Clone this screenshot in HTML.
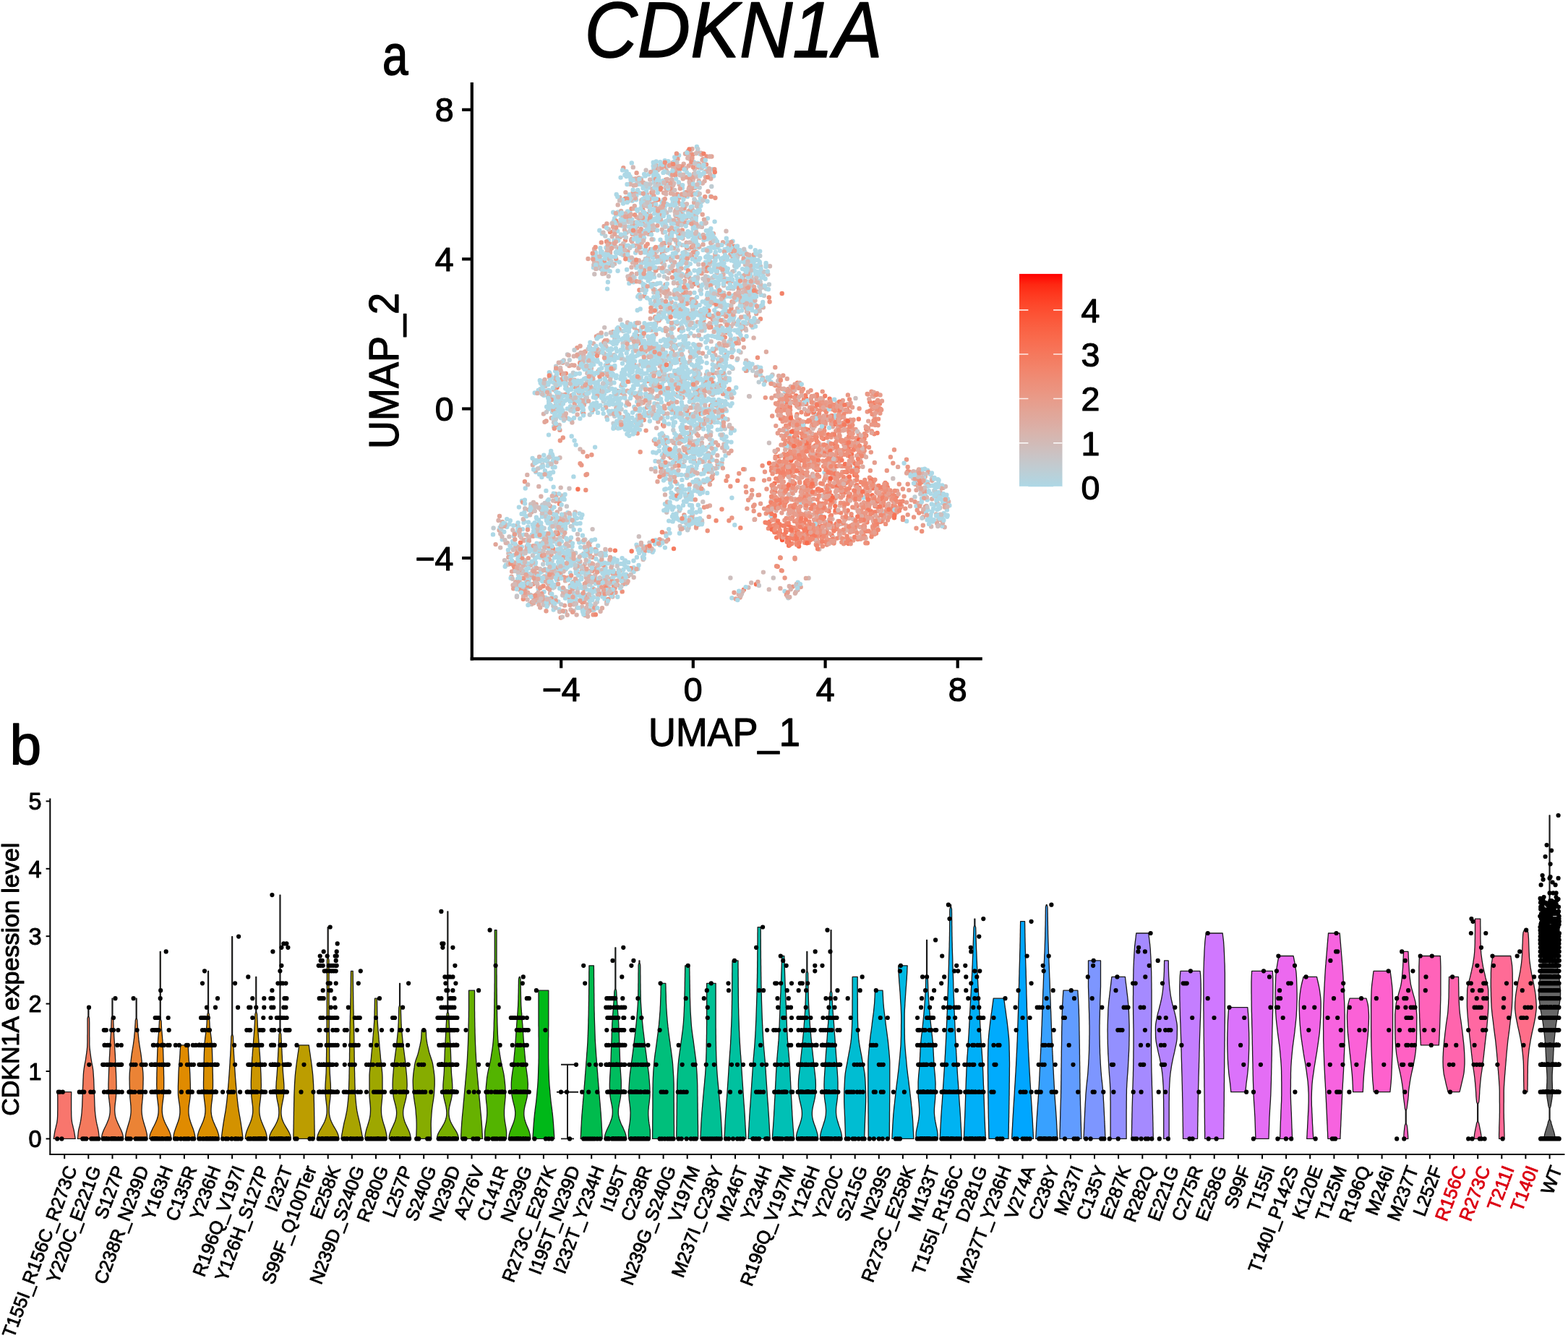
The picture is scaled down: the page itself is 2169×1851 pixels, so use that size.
<!DOCTYPE html>
<html lang="en"><head><meta charset="utf-8"><title>CDKN1A expression</title>
<style>
html,body{margin:0;padding:0;background:#fff}
svg{display:block}
text{font-family:"Liberation Sans", sans-serif;fill:#000;stroke:#000;stroke-width:1.2px;stroke-linejoin:round}
.d{fill:none;stroke-linecap:round;stroke-linejoin:round}
.xl{stroke-width:0.85px}
.sm{stroke-width:1px}
.lg{stroke-width:1.5px}
html,body{width:2169px;height:1851px}
</style></head>
<body>
<svg width="2169" height="1851" viewBox="0 0 2169 1851">
<rect width="2169" height="1851" fill="#fff"/>
<g id="panel-a">
<text class="lg" x="1014.5" y="79.0" font-size="108.5" font-style="italic" text-anchor="middle" textLength="412" lengthAdjust="spacingAndGlyphs">CDKN1A</text>
<text class="lg" transform="translate(529 103.2) scale(0.83 1)" font-size="77">a</text>
<g class="d" stroke-width="6.4">
<path stroke="#e2a598" d="M839.5 348.9h0M1021.9 474.8h0M839.4 309.4h0M989.1 356.4h0M1006.3 430.9h0M1010.3 352.3h0M868.4 347.8h0M939.4 273.6h0M1034.9 433.3h0M908.2 229.2h0M950.6 365.9h0M835.6 312.9h0M880.9 313.5h0M986.8 323.2h0M1018.2 447.4h0M900 344.9h0M949.4 245.2h0M901.8 517.7h0M888.7 473h0M1002.1 544.2h0M818.7 523.9h0M762.8 578.2h0M791.1 546.9h0M955.3 550.7h0M827.6 513.4h0M778.3 501.8h0M925.9 630.7h0M980.1 652.4h0M943.5 608h0M927.7 633.1h0M904.8 609.4h0M963 730.2h0M782.1 845.8h0M781 837.6h0M851.5 819.8h0M772.6 746.2h0M742.8 826.8h0M781.9 799.3h0M788.9 810.3h0M726.4 747.1h0M722.1 775.9h0M872 787.9h0M758.1 746h0M846.1 775.8h0M711.8 787.7h0M808.4 832.8h0M753.2 739.8h0M891.5 761.8h0M1171.6 728.8h0M1119.6 569.4h0M1154.4 650.3h0M1114.7 633.8h0M1129.7 552.1h0M1132.6 617.3h0M1171.4 676h0M1212.2 672.7h0M1214.1 682.6h0M1174.4 593.6h0M1082.7 686.2h0M1124.1 585.9h0M1110.8 633.5h0M1086.5 542.6h0M1148 702.3h0M1075.9 539.5h0M1153.6 727.3h0M1194.5 627.7h0M1186.8 682.9h0M1234.1 682h0M1113.4 632.7h0M1183.6 734.1h0M1176.5 580.6h0M1094.8 689.3h0M1078.8 647.9h0M1137.8 552.4h0M1151.9 590.3h0M1099.1 643.6h0M1189.3 677.6h0M1132.7 676.3h0M1211.1 730.3h0M1094.9 691h0M1143.1 576h0M1199.4 596h0M1279.8 659h0M1304.5 674.9h0M1102 807.9h0M1107.7 812.1h0"/>
<path stroke="#d4b9b5" d="M911.1 357h0M940.5 282h0M886.1 304.9h0M941.9 325.6h0M980.3 368.9h0M970.9 313.9h0M850.1 365.1h0M964 241.4h0M944.6 403.1h0M910.9 403.5h0M854 328.1h0M869.4 386.3h0M1065 368.3h0M961.7 358.5h0M934.8 229h0M889.6 326.2h0M918.9 354.3h0M938.8 311.8h0M939.6 238.1h0M963.7 244.4h0M1030.9 366.1h0M1029 438.2h0M917.3 321.6h0M991.6 377.4h0M918.7 365.4h0M1014.4 447.7h0M917.2 307.7h0M1043.6 360.8h0M895.1 268.7h0M887.3 277h0M866.8 321.8h0M969.3 585.7h0M889.3 465h0M975.2 579.2h0M977 518h0M850.3 467.5h0M839.4 577.2h0M902.5 514.8h0M884.3 548.6h0M779.4 528.8h0M835.9 529.4h0M853.8 561.9h0M862.5 577.2h0M883.9 446.8h0M1006.6 580.2h0M986.4 622h0M939.4 640.1h0M957.8 712.7h0M930.2 648.6h0M768.5 763.6h0M788.3 712.1h0M795.6 708.4h0M743.2 807.5h0M735.1 835.9h0M729.6 829.4h0M747.1 752.3h0M1128.1 745.7h0M1077.5 559.2h0M1295.1 711.5h0M1039.2 806.3h0"/>
<path stroke="#f86b4d" d="M1115.1 551.4h0M1175.2 617.7h0"/>
<path stroke="#bfccd2" d="M908.3 348.2h0M918.9 382.6h0M986.2 392h0M844.2 342.1h0M970.6 444.3h0M887.6 363.2h0M984.9 384.6h0M1014.4 442.7h0M1059.7 366.2h0M981.9 365.8h0M938.1 324.5h0M934 305.8h0M918.1 276.3h0M895.7 309.9h0M1035 440.6h0M837.3 326.5h0M967.4 231.5h0M964.5 386.5h0M1016.1 368h0M953.2 344.5h0M834.5 366.3h0M928.5 242h0M1043.7 404.9h0M965.7 567.4h0M897.7 469.2h0M834.7 555h0M838.6 462.2h0M769 569.8h0M859.7 566.2h0M913.5 525.1h0M954.6 690.5h0M934.6 652.8h0M924.8 609.6h0M941.3 602.1h0M917.6 611.4h0M919.3 651.4h0M721.9 788.1h0M849 803.3h0M796.2 765h0M762.9 833.5h0M716.8 813.5h0M768.6 826.1h0M750.8 750.1h0"/>
<path stroke="#ea9885" d="M894.5 296.5h0M943.8 318.4h0M973.4 443.1h0M930.4 264.5h0M919.6 336.5h0M940.3 323.6h0M986 516.1h0M934.4 571.6h0M809.5 486.4h0M794.8 535h0M890.7 581h0M955.1 573.4h0M819.5 789.7h0M737.7 826.3h0M726.7 792h0M820.6 850.4h0M737.5 808h0M726.6 815.2h0M1191.4 623.3h0M1147.8 665.7h0M1133 687.1h0M1080.1 651h0M1106.1 665.9h0M1133 741.6h0M1208.9 665.2h0M1161 638.1h0M1080.9 680.4h0M1160.7 570.7h0M1083.1 675.7h0M1129.6 638.3h0M1129 630.5h0M1126.8 720.4h0M1096.9 556h0M1235.5 693.1h0M1197.1 698.4h0M1132.3 612.9h0M1163.3 688.4h0M1175.2 686.7h0M1138.3 624.4h0M1107 700.5h0M1110.8 615.8h0M1220.5 721h0M1221.1 718.9h0M1083.8 646.6h0M1164.6 624.4h0M1083.8 666.5h0M1146.3 747.1h0M1072.5 719.6h0M1098.1 709.9h0M1198.1 718.1h0M1080.8 554.3h0M1149.1 724h0M1108.8 542.1h0M1096.2 736.5h0M1149.1 557.2h0M1206.4 716.7h0M1112.8 642.2h0M1114.9 616.6h0M1103.3 562.6h0M1139.4 557.5h0M1183.3 611.4h0M1155.4 644.8h0M1180.3 747.5h0M1216.4 565.3h0M1205.5 541.7h0M1214.6 588.2h0M1267.7 653.3h0M1275.3 667.1h0M1281.7 705.4h0M1258 652.8h0M1096.6 811.6h0M1032.2 680.7h0M1044.1 718.4h0M1000.5 526.3h0M885.7 625.3h0M1099.5 771.8h0M989.4 273.7h0M804.4 643.4h0M1181 594.2h0M1231.9 632.3h0M1255.7 669.7h0M1267.5 730.7h0M1248.9 676.5h0M1058 652.7h0M1042.7 707h0M1059.7 710.4h0M1084.3 593.3h0"/>
<path stroke="#d9b2ab" d="M914.2 306.2h0M921.5 358.9h0M1039.4 383.3h0M929.3 258.4h0M906.2 233.4h0M955 220.6h0M927.6 288.4h0M831.7 372.1h0M857.8 327.9h0M915.8 317.5h0M971.4 221.4h0M846.7 327.3h0M1013.5 356.2h0M877.6 339.8h0M864 318.1h0M1009.3 343.6h0M965.9 269.4h0M928.8 417.9h0M938.9 398.5h0M907.3 447.2h0M985.5 566.6h0M820.9 475.2h0M931 476.8h0M793.8 492.7h0M1008.7 589.7h0M945.6 618.9h0M955.6 652.8h0M974 649.9h0M961.4 640.2h0M920 684.4h0M970.8 612.6h0M956.6 620.1h0M736.9 643.2h0M761.8 631.5h0M781.4 714.2h0M730.6 762h0M776 729.5h0M830.6 845.8h0M734 781.7h0M816.9 806.2h0M689.5 720h0M759.4 833.3h0M761.1 820.6h0M864.2 796.9h0M718.4 808h0M820.5 780.7h0M714.6 808.8h0M709.6 809.5h0M788.3 748.2h0M921.2 738.3h0M1150.2 577.3h0M1090.3 551.4h0M1176.6 745.1h0M1167.5 589.9h0M1113.9 684.6h0M1058.1 527.6h0M1046 519.4h0M1300.7 681.4h0M1260.9 654.8h0M1278.4 662h0M1300.5 711.6h0M1281.6 700h0M1279.5 704.1h0M1276.7 655.1h0"/>
<path stroke="#f57b60" d="M1157.1 724.5h0M1076 720.8h0M1164.5 636.6h0M1204.8 707.2h0M1078.9 737.5h0M1071.4 736.2h0M1102.7 604.7h0M1150.7 740.4h0M1094.9 734h0M1145.6 601.1h0M1137.3 742.5h0M1155.4 586.8h0M1130.3 658.2h0M1133.5 649.9h0M1138.9 607h0M1116.1 673.4h0M1090.3 746.7h0M1154.4 614.2h0M1227.7 674.1h0M1125.9 618.2h0M1157.4 730.2h0M1218.7 689.3h0M1157.3 658.3h0M1083.4 654.8h0M873.7 762.5h0"/>
<path stroke="#cdbfbe" d="M914.2 431.8h0M872 389.4h0M868.7 354.6h0M960.9 234.1h0M1037.7 445.1h0M923.2 385.2h0M954.1 385.3h0M968.9 477.4h0M973.4 370.6h0M999 422.7h0M1010.3 399h0M938.1 412.5h0M851.7 341.2h0M903.4 393h0M948.4 354.2h0M979.6 363.9h0M961.7 277.9h0M991.9 395.9h0M1001.5 357.8h0M955.8 226.5h0M864.1 311.3h0M896.3 356.2h0M963.9 285.2h0M922.3 294.2h0M951.7 464.9h0M1020.1 426.8h0M858.2 442.4h0M825.3 539.2h0M959.1 559.5h0M783.5 535.6h0M770.9 510.6h0M902.7 537.4h0M942.8 504.5h0M849.6 491.1h0M954.7 486.1h0M851.6 462.7h0M908.4 477.7h0M773.7 588h0M931.7 642.4h0M955.6 597.3h0M940.7 727.9h0M974.1 667h0M982.4 651.2h0M922.2 708.8h0M952.5 730.3h0M970.5 615.4h0M807.3 765.9h0M711.6 737h0M751.9 714h0M777.2 685.8h0M857.7 789.6h0M842.8 820.6h0M789.8 728.1h0M780.6 717.8h0M724.1 812.3h0M732.3 800.1h0M777.9 714.3h0M793.5 845h0M915.9 747.7h0M1064.4 522.5h0M1068.5 518.5h0M1272.1 652.1h0M1300.3 702.4h0M883.8 742.2h0M1036.8 548.4h0"/>
<path stroke="#f28269" d="M926.4 341.9h0M917.1 587.7h0M1210.3 710.7h0M1080.6 743.5h0M1198.7 684.6h0M1124 636.9h0M1245.4 702.2h0M1146.6 707.2h0M1156.6 637.1h0M1139.9 590.5h0M1137.1 727.7h0M1132.6 717.1h0M1170.3 668h0M1089.7 649.7h0M1185.3 700.2h0M1094.2 729.1h0M1128 616.3h0M1122.2 732.6h0M1120.8 725.3h0M1117.9 747.1h0M1215.5 671.9h0M1119.4 613.7h0M1217.9 721.8h0M1097.8 608.2h0M1093.1 548.7h0M1123 661.1h0M1114.7 713.6h0M1213.5 599h0M1103.1 529.6h0M1028.9 815.8h0M1081.7 406h0"/>
<path stroke="#ed917b" d="M913.4 262.3h0M977.5 216.4h0M1027.1 419.5h0M973.4 548.7h0M974.2 583.2h0M776.5 573.1h0M967.7 670.5h0M723.8 828.8h0M1156.2 579.7h0M1069.5 679h0M1221.2 709.3h0M1181 687.5h0M1161.1 587h0M1117.1 681h0M1132 735.3h0M1159.4 588h0M1165.1 611.6h0M1229.7 710.3h0M1062.9 731.1h0M1133.1 598.1h0M1238.8 702.2h0M1194.4 670.5h0M1139.1 645.1h0M1136.2 736.9h0M1103.4 628.7h0M1113.2 686.1h0M1161.5 740.9h0M1094.5 658.1h0M1154.8 633.9h0M1177.8 731.6h0M1111 691h0M1225.1 724.9h0M1150.1 730.5h0M1098.2 691.4h0M1105.9 587h0M1152.2 575.5h0M1140.9 684h0M1069.7 727h0M1133.1 659.2h0M1093.1 567.2h0M1197.6 675.1h0M1117.3 622.3h0M1202 618.8h0M1072.7 631.8h0M1084.2 628.1h0M1168.6 628.7h0M1111 538.1h0M1231.5 678.5h0M1222.5 677.7h0M1216.9 687.4h0M1183 683.3h0M1214 716.3h0M1123.3 587.5h0M1139.7 581h0M1099.4 659.4h0M1187.6 640.2h0M1082.9 660h0M1107.9 674.9h0M1136.7 605.6h0M1182.9 614.1h0M1158.3 620.5h0M1126.1 728.7h0M1172.2 569.5h0M1139.2 559.2h0M1066.4 727.9h0M1072.8 687.7h0M1119.9 610.9h0M1072.5 533.2h0M1255.6 652.2h0M998.5 704.5h0M1079.7 771.8h0M810.3 678h0"/>
<path stroke="#f77356" d="M1113.3 737.8h0M1206.6 685.1h0M1169.9 582.6h0M1177.6 715.1h0M1106.6 617.9h0M1064 640.8h0M1076 723.9h0M1046 808.2h0"/>
<path stroke="#f08a72" d="M1018.9 472.4h0M1005 459.7h0M776.8 517.1h0M1135.1 580.8h0M1084.9 644.2h0M1119.4 721.7h0M1073.2 726h0M1139 686.4h0M1143.8 748.3h0M1095.5 752h0M1244.9 694h0M1212 737.8h0M1213.3 694.1h0M1135.8 616.6h0M1099.7 557.7h0M1123.5 658.8h0M1106.3 749.4h0M1187.7 628.5h0M1108.6 570.2h0M1191.9 710h0M1152.8 689.9h0M1137.2 703.9h0M1111.9 552.6h0M1118.7 750.7h0M1175.8 683.4h0M1172.6 696.7h0M1132.9 712.4h0M1093.7 575.8h0M1144.1 605.5h0M1160.8 606.5h0M1199.8 751.2h0M1085.2 578.4h0M1098.4 730.1h0M1158.3 708.4h0M1129.3 741.6h0M1150 713h0M1124.6 661.2h0M1177.6 652.8h0M1156.6 732h0M1219.8 683.7h0M1248.7 693.5h0M1093 648.2h0M1163.2 709.6h0M1097.9 650.8h0M1222.3 684.5h0M1144.7 625.5h0M1078.2 547.6h0M1123.5 602h0M1186.9 684.9h0M1149.3 640.5h0M1216.1 722.1h0M1143.8 753.6h0M1098.3 597.8h0M1114 748.4h0M1212 562.5h0M1215.3 567.3h0M1198.2 602.5h0M1209.4 600.2h0M1077.6 525.6h0M1020.3 664.9h0M915.9 736.3h0M823.9 850.3h0"/>
<path stroke="#add8e6" d="M904 248.6h0M916.6 362.6h0M1026.2 468.4h0M1024.5 463.6h0M936.7 270.4h0M961.8 383.3h0M947.9 324.9h0M930.3 432.1h0M861 297.2h0M992.8 467.4h0M1027.1 361.8h0M1042.2 369.4h0M984 341.5h0M978.8 233.7h0M986.5 363h0M899.9 273.5h0M889.2 319.8h0M917.3 364.5h0M902.5 344.6h0M1011.7 473.8h0M944.3 288.5h0M957.2 308.2h0M1021.7 366.7h0M913.7 285.5h0M1036.3 425.8h0M853 308.7h0M940.2 393.2h0M924 420.8h0M889.9 395.4h0M908.4 403.5h0M852.7 268.9h0M1045.4 377.3h0M945.5 297.5h0M974.4 451.8h0M918.3 359.1h0M887.1 247h0M954 406.9h0M962.6 331.7h0M940.3 378.7h0M979.1 330.5h0M997.2 358.3h0M978 387.5h0M909.7 242.8h0M922.8 440.7h0M962.9 425.5h0M906.1 417.5h0M887 280.7h0M985.6 234.2h0M874.7 277.8h0M903.7 229.6h0M943.1 433.3h0M989 389.8h0M892 346.4h0M918.6 436.4h0M948.4 285h0M905.7 314h0M882.1 255h0M959 429.9h0M989.7 358.1h0M1059.5 369.1h0M853.6 347.3h0M1007.2 475.7h0M994.6 388.1h0M1007 454.6h0M923.6 328.8h0M1007.2 346.1h0M1006.9 398.8h0M1024.2 404.5h0M1003.5 369.9h0M934.2 420.2h0M1037.8 357.5h0M871.4 293.4h0M866.4 244h0M935.4 334.8h0M1005.9 447.3h0M1033 424.3h0M918.8 426.1h0M866.6 237.3h0M922.4 327.3h0M840.4 372.1h0M900.2 349.2h0M921 281.7h0M965.3 225.7h0M879.1 349.8h0M892.2 256.6h0M882.2 410.4h0M1024.2 408.1h0M1022.5 441.9h0M861.6 352.8h0M880.3 370.4h0M974 440.1h0M970.4 309.2h0M985.7 324.9h0M1050.7 362.1h0M877.6 384h0M974.4 426.6h0M932.7 284.2h0M962.5 328.2h0M993.4 453h0M902.1 269.1h0M904.3 356.1h0M867.1 373h0M977.7 354.4h0M862.3 349.4h0M922.6 305.4h0M1030.7 438h0M858.6 245.6h0M932.3 446.3h0M885 302.9h0M890.2 393.3h0M898.8 291.9h0M878 362h0M950.1 407h0M1031.3 378.8h0M949.8 238.2h0M987.6 342.8h0M841.7 332.4h0M983.7 449.6h0M936.9 340.5h0M1020.2 360.9h0M988.2 413.6h0M882 308.7h0M962.6 305.6h0M951 431.7h0M962.7 387.5h0M966.4 324.4h0M951.4 398.2h0M895.3 307.3h0M979 302.1h0M1001.8 425.5h0M1055.2 417.9h0M1039.4 368.5h0M966.5 378.4h0M980.7 433.7h0M900 311.6h0M964.2 434.5h0M978.5 278.5h0M901.3 382.6h0M959.8 224.3h0M1005.1 346.9h0M992.2 432.8h0M916.8 311.2h0M1017.7 363.6h0M860.7 306.9h0M1005.1 410h0M1046.1 410.2h0M944.5 408.5h0M887 364.8h0M915.9 375.1h0M984.4 322.2h0M976.2 355.8h0M1013.6 344.4h0M1000.9 384.4h0M935.2 292.1h0M902 271.9h0M1015.4 437.5h0M993.9 465.9h0M880.3 311.6h0M978.8 383.1h0M1029.5 391.7h0M1056 382.1h0M905 383.4h0M854.3 319.8h0M922.2 424h0M956.9 392.3h0M881.7 344.5h0M1007.7 409.8h0M1010.9 337.8h0M1013.6 333.7h0M902.3 356h0M974.5 276.5h0M937 407.7h0M1020.1 348.8h0M1030.3 373h0M924.4 223.1h0M918.9 432.1h0M1037.8 381.8h0M963.9 203h0M881.9 291.7h0M913.6 434h0M1006.3 376.1h0M872.5 271.8h0M1043 355.6h0M999.7 442.8h0M995.7 435.6h0M950.8 271.9h0M939.1 214.9h0M1042.7 390h0M934.7 236.1h0M880.8 251.3h0M988.3 456.7h0M1044.8 346.2h0M959.8 438.6h0M918.1 341.7h0M1018.5 381.5h0M900.3 393.4h0M1001.7 492.2h0M979.9 390.5h0M1041.4 405.1h0M916.3 254.1h0M902.6 370.9h0M1016.5 456.9h0M820.9 370.1h0M886 339.1h0M1042.7 414.5h0M927.4 355.2h0M1030.1 402.3h0M889.3 349h0M867.2 468.5h0M787.6 523.8h0M911.9 576.8h0M957.5 587.4h0M842.9 514.9h0M864.5 533.1h0M918.5 497.9h0M818.5 485h0M918.9 544.5h0M842.1 472.6h0M893.4 498.9h0M978.2 514.2h0M943.8 579.7h0M912.7 454.9h0M967.6 580.9h0M948.1 469.3h0M878.4 567.4h0M916.9 542.6h0M899.4 519.8h0M992.8 567h0M910.3 535.9h0M768.6 521.2h0M897 448.7h0M850.4 506h0M1002.5 508.2h0M927.3 558.1h0M842.7 559.8h0M985.8 510.4h0M873.2 546.8h0M836.5 553h0M902.8 549.9h0M896.7 492.2h0M855 466.3h0M827.9 488.5h0M915.5 503.5h0M979.8 519.7h0M875.4 480.1h0M963.8 504.2h0M985.4 556.9h0M932.6 471.4h0M993.3 537.3h0M802.8 548.9h0M784.9 565.4h0M983.9 590.3h0M931.7 534.4h0M987.1 567.4h0M839.8 496h0M958.2 528.7h0M885.6 471.2h0M935.3 527.6h0M901.4 494.8h0M943.5 481.9h0M848.5 475.9h0M917.1 565.8h0M970.8 500.2h0M923.5 577.2h0M830.3 524.8h0M985.3 540h0M1001.1 514.4h0M865.2 468.9h0M956 585.8h0M993.7 543h0M823.9 565.8h0M915.8 564.5h0M878.3 465.1h0M890.5 504.7h0M854.9 552.1h0M945.5 507.9h0M947.7 470.9h0M855 567.3h0M870.1 458.5h0M948.1 536.9h0M883.5 485.5h0M800.3 562.8h0M927.6 457.1h0M957.5 513.8h0M925 505.1h0M998.5 585.9h0M813.8 493.8h0M822 529.4h0M960.9 588.9h0M894.3 452.2h0M914.8 488.7h0M826.9 530.5h0M917.8 520.6h0M879 493.1h0M813.2 512h0M814.5 540.6h0M861.3 495.7h0M803.4 493.2h0M968.4 591.1h0M869.6 541.3h0M887.4 452.9h0M857 586.6h0M876.1 466.4h0M862.2 521.3h0M843.5 551.3h0M848.2 554h0M865.5 510.6h0M872.8 492.7h0M868.6 471.9h0M853.4 464.5h0M746.8 526.2h0M886.3 538.4h0M861.9 468.1h0M941 526.4h0M903.3 486.8h0M909.1 538h0M966.8 502.3h0M804.4 526.7h0M843.5 511.7h0M949.9 540.1h0M821.8 544.7h0M894.5 477.6h0M830.1 535.2h0M750.5 527.5h0M772.3 576.1h0M865 594.1h0M905.7 447.6h0M765 553.1h0M846.9 464.3h0M952.8 531.4h0M1012.6 558.1h0M924.8 519.7h0M826.9 500.4h0M970.9 568.1h0M907.9 475.7h0M862.7 584.3h0M990.4 538h0M936.7 513h0M765 578.8h0M961.3 478.4h0M922.5 548.4h0M918.2 469.5h0M849.6 552.7h0M951.3 511.4h0M972.6 531.2h0M920.7 492.1h0M870.6 500.8h0M988.9 540.5h0M927.9 525.1h0M874 498.6h0M973.8 542.2h0M947.6 477.1h0M975.3 567.1h0M910.3 492.5h0M877.8 506.8h0M919.4 585.7h0M810.1 550.3h0M890.4 475.9h0M869 574.4h0M968.4 562.2h0M837.7 505.3h0M877.5 480.7h0M932.5 520.2h0M843.3 572.5h0M959.6 562.2h0M856.6 576.3h0M903.8 471h0M987.1 529.7h0M955.5 577.7h0M892.3 450.6h0M876.1 534.3h0M882.6 582.2h0M971.6 536.8h0M996.1 560.2h0M771.1 564.8h0M899.6 502.9h0M830.6 503.5h0M784.1 545.8h0M790.9 581.2h0M962.7 525.6h0M940.8 533h0M902 506.8h0M913.9 471.8h0M870.4 594.8h0M821.7 499.2h0M764.1 569.9h0M762.9 564.5h0M933.6 502h0M747.7 529.8h0M928.2 566.2h0M801.5 489.6h0M929.5 571.3h0M983.4 545h0M979.5 523.7h0M779.9 581.7h0M831.2 486.2h0M823.6 516.1h0M862.7 533.2h0M826.1 497.8h0M986.6 522.1h0M899.1 512.2h0M790.6 520.4h0M768.5 527.8h0M841.2 492.5h0M998.8 507.1h0M887.1 473.6h0M776.3 560.4h0M816.4 473.7h0M844.4 553.4h0M933.8 576.5h0M951.6 530.1h0M970.7 557.1h0M771 531.5h0M872 550.9h0M841.7 557.2h0M963.1 509.3h0M881.7 591.7h0M876 451.9h0M924 523h0M943.2 509.7h0M811.7 498.9h0M839.3 530.9h0M827.3 543.4h0M903.1 448.6h0M1003.3 555.3h0M823.1 563.5h0M953.9 555.7h0M1002.4 518.1h0M897.9 575.7h0M825.4 488h0M958 574.8h0M774.5 532.4h0M919.1 503h0M805.4 570.4h0M902.3 456.7h0M882.4 532h0M947.3 500.4h0M965.3 505.7h0M867.4 600.5h0M911.7 617.3h0M906.5 637.9h0M944.8 632.3h0M920 622.7h0M948 677.4h0M918.1 627h0M978.5 662.4h0M958.5 638.5h0M922.9 655.9h0M971.7 681.4h0M927.7 699.8h0M977.5 649.2h0M949.6 694h0M958.5 666.7h0M948.7 630.7h0M922.7 699.5h0M949.7 617.9h0M933.5 623.2h0M962.6 617.7h0M942.4 594.9h0M934.3 619.3h0M928.7 673h0M968.4 620.9h0M1004.6 604.2h0M965 663.6h0M929.6 701.7h0M1003.6 630.4h0M903.3 625.8h0M957 699.2h0M931.4 684.4h0M978.1 665.6h0M968.6 629h0M965.8 609.2h0M984.8 609.1h0M954.2 715.9h0M940.3 683.8h0M944.7 629.9h0M915.8 629.7h0M954.2 680.8h0M970.7 636.9h0M944.8 677.2h0M965.8 672.7h0M922.7 643.7h0M933 599.2h0M955.4 638.3h0M935.6 714.8h0M919.8 604.9h0M936.2 690.5h0M966.7 725.8h0M948.8 688h0M950.3 661h0M956.9 710.6h0M939.8 638h0M919.2 655.8h0M765.1 653.3h0M753.3 636.9h0M765 637h0M764.7 646.5h0M744 636.8h0M756 635.3h0M749.4 656.7h0M749.4 660.1h0M741.2 653.1h0M753.6 787.3h0M784 821.2h0M804.2 801.3h0M747.2 792.3h0M738.8 795.4h0M764.5 826.8h0M830.5 806.9h0M714.8 755.8h0M718.9 738.5h0M856.8 798.2h0M777.3 770.5h0M829.3 776.6h0M766.2 791.4h0M763.6 704.3h0M716 801h0M700 781.5h0M766.4 809h0M762.2 723h0M748.7 823.9h0M880.9 771h0M806.6 812h0M767.8 797.8h0M754.9 798.6h0M859.9 800.3h0M853.7 774.9h0M832.5 771.2h0M734.3 797.9h0M763.7 776.1h0M800.3 803.7h0M813.1 799.3h0M865.6 784.1h0M749.1 762.2h0M752 737.5h0M741.5 725.1h0M722.4 768.5h0M749.9 714.7h0M876.6 785.1h0M837.9 768.1h0M745.1 719.1h0M767.5 716.5h0M819.2 830.3h0M705.8 720.3h0M777.6 816.2h0M731.3 801.7h0M766.1 749.1h0M776.9 749.1h0M794.2 780.9h0M776 781h0M759.3 808.5h0M734.7 699.7h0M742.4 717.5h0M766 685.2h0M796.8 792.9h0M757.3 693.2h0M764.8 808.5h0M866.2 794.8h0M791.5 756h0M733.4 796.1h0M814.7 793.5h0M861 798.6h0M754 828.8h0M730.3 729h0M789.5 775.8h0M780.5 719.7h0M775.4 797.4h0M741 778.2h0M815.1 790.9h0M828.4 789.9h0M770.2 787.6h0M836.7 823h0M785.4 722.8h0M770.3 769.1h0M772.4 832.4h0M724.5 723.1h0M810.1 790.1h0M757.7 723.6h0M757.8 721.7h0M701.2 729h0M740.1 772.9h0M750 741.4h0M795.1 825.3h0M794.7 711.1h0M778.2 787.9h0M751.6 741.5h0M704.7 725.3h0M739.3 763.9h0M780.6 821.2h0M778.1 761.9h0M804.6 822.7h0M836.5 783.6h0M759.2 760.1h0M825 761.1h0M754.7 826.6h0M797.4 786.9h0M863.6 781.5h0M788.7 812.3h0M769.9 721.2h0M698.6 724.2h0M777.6 731h0M847.4 820.9h0M772.4 788.4h0M757.5 793.7h0M755.6 757.9h0M849.7 796.5h0M736.6 725.6h0M727.7 803.8h0M883.5 782h0M736.1 705.7h0M743.4 725h0M891 766.7h0M891.1 756.1h0M912.9 754h0M880.5 753.8h0M1116.7 554.2h0M1194.6 688.5h0M1153.2 579h0M1153.6 576.6h0M1135.3 712.9h0M1140.6 653.7h0M1092 602.5h0M1032.8 506.6h0M1052.2 508.8h0M1040.5 503.6h0M1288.7 662.6h0M1278 660.3h0M1279.1 648.7h0M1259.4 656.6h0M1308 686.7h0M1287.6 711.6h0M1290.3 721.5h0M1304 696.1h0M1297.4 663.3h0M1293.6 698.6h0M1280.2 686.2h0M1281.1 680.7h0M1266.2 666.3h0M1271.8 671.4h0M1303.6 716.3h0M1296.2 673.5h0M1305.9 673.6h0M1310.7 712.9h0M1304.3 684.8h0M1103.7 805.7h0M794.6 609.5h0M823.1 618.6h0M885.7 427.4h0M765.6 673.8h0"/>
<path stroke="#c7c5c8" d="M919.6 307.6h0M1033.1 447.8h0M1032.1 456.9h0M823.1 348h0M998.9 424.8h0M885.4 324.1h0M958 335.2h0M899.2 290.1h0M951.8 292.5h0M944.9 444.5h0M943.8 244h0M882.9 250.7h0M1010.8 431.3h0M913.4 293.1h0M837.5 376.8h0M1013.6 509.9h0M753.1 527.1h0M812 527.7h0M806.8 531.3h0M937.6 526.9h0M779.8 498.4h0M784.9 490.4h0M799 532.8h0M924.8 641.4h0M971.3 606.5h0M961.7 610.4h0M739.1 638.8h0M847.2 801.5h0M789.1 770.9h0M782.5 787.5h0M750.3 698.4h0"/>
<path stroke="#e69e8e" d="M901.4 266.2h0M948.2 399.2h0M891.1 409.5h0M956.2 300.7h0M957.1 355h0M938.6 424.1h0M888.9 285.5h0M875.5 266.4h0M971.7 447.9h0M940.6 230.1h0M952.3 382.3h0M908.1 418.5h0M937 268.6h0M854.8 541h0M990.6 534.6h0M920.9 525.1h0M776.2 525h0M798.3 481.3h0M898.1 554.3h0M980.7 570.8h0M959.7 650.1h0M946.4 712.5h0M979.9 604.7h0M982.9 664.1h0M729.9 732.8h0M819.6 770.9h0M838.9 820.6h0M704.9 766.3h0M789.7 763.6h0M754.6 788.5h0M818.3 798.2h0M924 746.4h0M1165.2 652.9h0M1065.5 708h0M1235.5 713.6h0M1090.9 576.2h0M1120.1 622h0M1194.9 695.3h0M1114.8 743.6h0M1207.1 728.1h0M1117.3 606.5h0M1158.5 607.9h0M1078.2 681.3h0M1126.4 637h0M1117.2 641.5h0M1159.3 583.7h0M1080.4 647.4h0M1124.9 627.3h0M1165.6 715.7h0M1240.7 702.3h0M1156.4 605.1h0M1196.1 602.7h0M1152 620.5h0M1170.6 607.1h0M1198.1 703h0M1077.9 564.6h0M1083.4 564.5h0M1145.2 679.7h0M1150 660.6h0M1190 683.3h0M1212.4 680.8h0M1148.1 651.9h0M1100.1 678.7h0M1090.9 590.9h0M1227.6 677h0M1227.7 698.6h0M1197.3 696.2h0M1102.1 561.3h0M1097 705.7h0M1210.5 565.5h0M1083.3 519.5h0M1275 682.3h0M1264.4 659.2h0M1040.1 684.7h0"/>
<path stroke="#deaca1" d="M935.2 222.7h0M888.8 309.1h0M822 344.4h0M1028 451.4h0M996.8 451h0M974.6 250.6h0M883 337.7h0M1018.5 345.2h0M965.5 231.3h0M997.3 465.7h0M910.7 288.6h0M905.5 303.6h0M960.1 280.2h0M922.5 259.6h0M945.7 226.7h0M874 378.8h0M836.1 378.2h0M932.3 269.4h0M958.8 247.7h0M903.6 265.3h0M1025.1 438.8h0M1021.3 471.1h0M979.7 387.5h0M1005.2 489.6h0M1013.7 354.5h0M1032.4 400h0M877.8 284.9h0M929.7 249.9h0M960.1 240.4h0M881.3 266.4h0M943.1 354.4h0M953.9 291.2h0M999.3 499.7h0M867 297.1h0M941 497.8h0M879.3 474.6h0M944.5 550h0M851.4 591.2h0M929.8 566.6h0M861.2 590.1h0M798.1 536.7h0M798.6 492.5h0M925.4 492.5h0M770.7 546.9h0M948.7 543.3h0M920.8 652.6h0M985.2 647.1h0M1008.1 627h0M944.4 643h0M778.8 733.3h0M718.6 804.7h0M717.2 757.3h0M774.3 691.2h0M713.1 805.3h0M738.3 834.2h0M844.4 822.2h0M786.8 766.7h0M742.7 793.5h0M762.1 717.3h0M707.5 797.7h0M758.2 802h0M793.9 721.3h0M741.7 697.7h0M787.8 826.7h0M714.7 779.7h0M1213.3 728.2h0M1114.3 620.7h0M1137.3 615.4h0M1115.9 568.5h0M1158.1 557.5h0M1191.1 699.6h0M1122.7 589.8h0M1123.7 562.4h0M1110.8 599.1h0M1161.7 699.6h0M1177.6 587.1h0M1143.3 620.8h0M1191.7 740.7h0M1128.3 669.5h0M1188.5 706h0M1142.1 586.5h0M1085.8 642.7h0M1183.5 671.9h0M1092.1 674.2h0M1096.9 682.8h0M1289.2 690.2h0M1275.6 675.7h0M1293.8 680.2h0M1048.4 804.9h0M1103.1 809.1h0M1059.9 486.7h0M1043.6 718.9h0"/>
<path stroke="#cdbfbe" d="M945.5 413h0M893.9 271.6h0M919.1 367.2h0M947.8 402.8h0M861.6 325.9h0M960.8 414.1h0M972.4 326.9h0M943.6 339.1h0M1056.5 397.6h0M822.3 379.2h0M893.6 235.5h0M920.8 347h0M1047.8 428.7h0M1033 431.1h0M838.7 354.7h0M927.9 228.2h0M841.8 382.3h0M897.9 374.8h0M821.3 366.4h0M928.5 265.9h0M987.3 383.2h0M906.7 416h0M944 322.5h0M812.3 516.2h0M925.2 494.6h0M907.4 550.8h0M821.8 537.5h0M810.1 548.4h0M754.3 534.3h0M960.7 510.1h0M886.8 549.4h0M817 536.4h0M954.5 545.6h0M798.3 563.8h0M917.5 602.4h0M915.9 649.5h0M969 677.2h0M809.1 780.3h0M846.6 782.3h0M752 836.8h0M785.1 748.7h0M709.5 781.5h0M704.4 742.4h0M748 730.9h0M835.3 800h0M799 739h0M712.3 812.2h0M765.3 838.4h0M816.4 770.2h0M815.7 826.1h0M757.6 836.8h0M1145.3 722.1h0M1115.9 703.8h0M1309.2 696.3h0M1026 821.4h0M1010.4 799.5h0M787.5 675.8h0M732.6 835.1h0M1183.5 550.9h0"/>
<path stroke="#add8e6" d="M892.6 243.4h0M958.3 418.9h0M927.2 303.5h0M926.2 239.8h0M909.7 266.6h0M884.6 376.3h0M1014.4 408.7h0M1015.8 374.7h0M966.6 481.4h0M1042 361.9h0M949.8 415.4h0M912.8 259.2h0M947.2 362.5h0M987.1 243.5h0M859 297.7h0M1051.3 426h0M932 240.5h0M875.1 340.3h0M897.4 352.3h0M888.9 296h0M997.3 434.2h0M975.2 368.7h0M886.3 342.6h0M910.9 295h0M948 418.6h0M904.2 233.4h0M897.6 378.2h0M874.2 382.3h0M999.9 459h0M951 429.3h0M999.6 453.7h0M892.8 304.3h0M981.6 237.1h0M908.2 260.8h0M976 362.8h0M840.9 390.2h0M980.1 355h0M897.3 241.2h0M903.3 346.2h0M1038.1 378.7h0M918.3 356.6h0M1020 340.4h0M943.3 427.3h0M947.6 408.2h0M952.1 327.4h0M1014.7 352.9h0M910.1 298.7h0M890.6 254.4h0M948.4 370.9h0M1053.9 384.1h0M957.5 286h0M1045 451.6h0M926.5 369.1h0M1000.9 412.4h0M1020 385.9h0M984.7 329.9h0M865.9 273.6h0M960.5 404.9h0M833.4 362.8h0M1024.3 414.2h0M982.9 271.8h0M997.6 487.7h0M898 259.5h0M1055.2 378.5h0M960.1 298.2h0M1043.4 440.1h0M1050.7 376.3h0M905.6 372.5h0M912.6 422.5h0M884.7 407.5h0M968.7 274.4h0M936.5 428.3h0M908.3 254.6h0M922.8 430.4h0M845.7 366.2h0M944.7 437.8h0M954.8 365.1h0M1030.7 414.2h0M993.9 403.6h0M917.3 376.1h0M974.4 457.2h0M972.9 433.7h0M1002.1 355.4h0M955.3 438.4h0M1028.1 352.5h0M963.2 477.8h0M1043.6 374.4h0M901 366.5h0M947.9 427.8h0M896.9 286.1h0M868.9 339.6h0M938.1 371.8h0M907.7 427.9h0M942.7 421h0M1010.7 434.9h0M966.6 292.7h0M1044.7 421.6h0M825.8 365.9h0M914.9 418.2h0M991.4 368.4h0M885.5 413.3h0M1048.1 369.3h0M906.8 290.3h0M979.7 318.9h0M904.1 244.2h0M936.4 429.9h0M1013 434h0M999.8 481h0M923.4 345.8h0M897.9 308h0M955.4 419h0M1022.2 378.2h0M1039.3 444.2h0M913.8 440.7h0M896.2 384h0M1013 481.6h0M912.1 341.6h0M930.3 305.5h0M1010.8 441h0M1002.4 420.2h0M890.7 372.6h0M932.9 383.2h0M917.6 396.5h0M1004.6 429.2h0M996.2 386.8h0M964.1 411.1h0M1058.6 385.7h0M903.7 331.2h0M993.3 398.8h0M922.9 405.3h0M937.6 366.5h0M1045.1 379.7h0M994.4 440.9h0M864.3 241.9h0M969.9 400.9h0M833.2 360h0M979.5 464.6h0M935.4 349.1h0M924.7 303.7h0M907.4 393.2h0M958.6 446.8h0M870.3 392.1h0M953.8 442.3h0M941 367.2h0M943 451.4h0M947.6 431.3h0M999.4 374.8h0M944.6 363.6h0M963.5 432.1h0M853.5 296.6h0M1006.8 371.6h0M891.8 294.8h0M1015.1 439.2h0M1021.7 431.1h0M965.5 435.6h0M899.6 385.7h0M909.4 392.3h0M1004 385.5h0M976.5 326.6h0M943.5 379.3h0M885.7 267.3h0M1040.1 413.9h0M999 387.3h0M913.2 251.8h0M1014.7 484.8h0M862 281.5h0M933.4 274.7h0M980.3 449.2h0M980.1 395h0M902.2 394.3h0M988.2 429.1h0M938.2 409h0M947.4 266.1h0M1033 380.1h0M960.5 374.2h0M999.7 416.3h0M872.8 250.7h0M880 276.3h0M1001.2 417.4h0M843.7 375.2h0M889.2 277.2h0M958.9 305.3h0M949.5 381h0M851.8 349.3h0M886.8 390.5h0M936.5 315.4h0M938.9 304.3h0M1037.7 416.5h0M886.5 255.1h0M1017 392h0M1040.4 429.2h0M961.9 361.6h0M1034.7 414.5h0M941.3 454.2h0M901.8 431.2h0M920.6 306.1h0M1006.5 334.9h0M1012.8 349.6h0M980 348.8h0M887.6 284.3h0M959.2 453.7h0M1024.2 452h0M990.1 331.8h0M951.1 367.7h0M1003.5 493.7h0M915 422.1h0M940.8 424h0M848.2 293.8h0M874.7 595.6h0M841.1 502.5h0M952 502.1h0M802.7 556.3h0M770.9 543.5h0M971.1 545.9h0M1010.9 599.2h0M849.5 529.4h0M850.3 509h0M962.9 520.4h0M964.3 587.2h0M938.1 539.8h0M857.1 578h0M933.5 564.4h0M870.1 479.5h0M800.3 538.9h0M851.3 550h0M744.7 539.9h0M953.5 541.3h0M840.7 484h0M899.3 471.9h0M803.7 537.1h0M748.9 544.2h0M1004.3 506.1h0M801.7 528.9h0M881.2 555.7h0M894.2 522.9h0M877.3 562.9h0M765.9 529.2h0M882.1 574.8h0M963.4 579.1h0M852.7 519.4h0M930 579h0M868.1 499.8h0M768.2 513.6h0M857.5 592h0M979.8 576.9h0M966.4 549.6h0M1014.2 541.4h0M789 519.4h0M854.4 456.5h0M843.5 569.6h0M899.5 454.8h0M827 570.9h0M856 543.6h0M807.8 506.9h0M896.3 547.1h0M1002.6 557h0M869.7 503.2h0M789 562.2h0M862.3 539.5h0M972.8 566.2h0M912.6 479.5h0M845.3 515.4h0M992.3 505h0M868.3 483.4h0M908.1 539.6h0M862.9 517.3h0M869.8 578.4h0M795 518.3h0M904.4 456.1h0M802.6 495.7h0M891.5 447.3h0M874.6 514.7h0M960.4 582h0M873.7 522.9h0M848.4 518.7h0M878.2 499.6h0M955.1 481.7h0M930.1 561.3h0M831.7 544.7h0M877.7 476h0M759.2 555.3h0M949.3 532.2h0M941.6 543.4h0M806.7 502.8h0M863.2 545.5h0M884.9 594.6h0M985.4 578.3h0M941.8 516.9h0M853.5 546.1h0M870.7 519.4h0M850 546.7h0M952.5 475.3h0M991.7 542.3h0M794.5 552.9h0M846.5 483.6h0M941.6 524.8h0M821.7 518.5h0M880.6 471.8h0M837.4 497.5h0M776 578.3h0M894.2 502.6h0M839.9 481.9h0M995.9 571.2h0M997.6 529.9h0M926.2 510.4h0M997.6 539.4h0M858.8 550.6h0M794.1 578.3h0M850.6 464.8h0M871.2 513.2h0M848.3 559.3h0M877.6 462.7h0M760.1 542.2h0M875.8 486.1h0M975.4 563.4h0M863.4 591.4h0M999.9 566.5h0M960 506.6h0M764.6 548.9h0M939.6 569.4h0M928.6 461.2h0M941.1 573.5h0M867 450.7h0M837.8 559.7h0M869.4 596.8h0M840.1 580.6h0M820.8 490.2h0M943.5 560.4h0M899.1 551.1h0M979.8 551.5h0M884.2 465.1h0M960.8 546.5h0M950.4 546.4h0M1004.3 528.8h0M739.7 543.5h0M1005.2 523h0M833.2 551h0M1015.5 543.7h0M878.7 592.5h0M910.9 532.3h0M943.7 587.3h0M875.1 570.8h0M959.1 522.1h0M761.1 528.2h0M942.9 476.2h0M773 546.8h0M902.1 529.4h0M843.4 498.8h0M970.3 570.1h0M837.8 534.3h0M982.7 523.5h0M983.2 553.2h0M931.8 584.8h0M881.9 546.1h0M887.2 526.1h0M1004 502.2h0M832.7 478.1h0M918.7 525.6h0M806.6 546.5h0M944 498.7h0M900 487.3h0M980.9 525.5h0M819.3 499h0M853.7 460.5h0M880.6 524.7h0M961 543.3h0M933.3 517.1h0M943.2 573.1h0M916.6 577.7h0M1004.3 546.9h0M925.4 527.5h0M1000.5 536.3h0M980.4 527.1h0M933.2 527.6h0M944.9 506.3h0M948.5 523.3h0M836.5 540.5h0M906.4 498.2h0M992.6 561.9h0M794.2 556.3h0M928.5 537.5h0M855 453.3h0M980.9 600.7h0M836 544.6h0M933.6 469.9h0M910.8 551.9h0M905.1 452.7h0M785.7 578.7h0M926.1 465.6h0M802 560.2h0M870 586.2h0M821.2 504.3h0M809.9 556.2h0M880.3 580.3h0M913.2 495.5h0M855 592.6h0M948.9 508h0M944.7 529.3h0M914.9 556.5h0M842.1 540h0M967.2 578.9h0M845.3 482.2h0M857.9 456.9h0M891.2 565.6h0M969.2 523.7h0M871.7 584.8h0M945.3 543.5h0M953.5 515.1h0M979.4 589.9h0M937.5 656.9h0M940.4 626.2h0M956.4 599.1h0M946.2 729.9h0M952.5 658.2h0M923.1 705.8h0M954.1 698.8h0M955.2 649.1h0M936 676.8h0M998.6 606.3h0M981.5 633.6h0M914.5 658.5h0M960.5 678.8h0M938.8 624.3h0M963.1 708.8h0M971.3 723.1h0M949.9 620.9h0M970 655.7h0M928.8 664.5h0M986.1 627.1h0M931.5 659.7h0M909.2 614.7h0M969.1 679.1h0M977.1 629.2h0M991.7 654.8h0M935.5 710.6h0M961.5 674h0M919.3 677.2h0M920.9 676.5h0M911.8 623.7h0M940.7 636.4h0M964.3 718.3h0M941.8 628.1h0M956.9 685.8h0M946 601h0M987.3 612.1h0M933.7 606.5h0M1005.9 611h0M990.1 621.5h0M987.1 625.3h0M965 679.7h0M965.6 677.3h0M922.8 605.3h0M955.6 658.1h0M944.1 599.8h0M916 636.6h0M937.1 717.8h0M964.3 625.5h0M983.3 614.1h0M1005.9 619.3h0M937.2 637.8h0M939.8 719.6h0M951.5 608.8h0M931.9 701.7h0M946.5 644.9h0M921.4 642h0M912.7 601.3h0M931.8 689h0M956.7 645.8h0M764.4 630.7h0M769.1 634.6h0M761.5 628.1h0M758.4 658.7h0M759.1 655h0M757.3 638.5h0M760.8 656h0M763.4 640.5h0M753.9 651.2h0M737.5 759.7h0M722.1 791.4h0M757.7 716.8h0M727.4 806.8h0M841.7 793.4h0M812.3 758.5h0M805.8 749.3h0M788.5 765.5h0M728.7 820.9h0M822.5 804.1h0M865.3 807.9h0M803.7 826.9h0M784.9 784.7h0M785.3 709.1h0M774.1 813.9h0M833.1 802.8h0M775.8 794.5h0M716.3 731.5h0M755.5 716.7h0M774.9 770.9h0M754.1 712.7h0M757.6 770.9h0M758.9 691.2h0M786.4 775.6h0M854.5 796.1h0M782.6 723h0M805.4 712.2h0M836.4 828.4h0M802.7 784.3h0M801 779h0M791.7 818.1h0M758.5 828.1h0M802.1 733.1h0M821.5 843.8h0M869.2 777.9h0M739.5 731.8h0M837.7 785.5h0M730.2 812.5h0M771.5 767.5h0M823.8 807.3h0M750.2 804.2h0M804.5 799h0M717.2 795.2h0M811.8 823.4h0M773.5 843h0M788.9 792.5h0M821.2 826.2h0M828.9 782.2h0M860.6 772.1h0M741.9 715.7h0M798.1 789.8h0M847.7 778.4h0M886.9 761.9h0M876.6 790.9h0M698.7 783.8h0M721.8 800.1h0M757.9 779.9h0M756.4 737.9h0M848.6 789.1h0M751.2 706.9h0M770 802.3h0M775.6 759.1h0M745 764.6h0M814.4 808.8h0M802.2 780.6h0M768.9 738.9h0M790.1 779.8h0M798 724.4h0M740.3 780.9h0M842 809.6h0M727.2 808.8h0M801.6 710.4h0M805.9 740.8h0M846 807.5h0M759.2 788.8h0M744.5 796.8h0M807.8 790h0M731 722.5h0M813.6 764h0M829.2 765.8h0M731.7 794.4h0M772.3 724.5h0M747.9 802.3h0M788.2 833.4h0M801.2 750.6h0M769 809h0M776.8 736.8h0M768.6 784.7h0M722 693h0M798 716.9h0M783.1 786h0M906 752.5h0M906.9 747.3h0M1110.3 610.4h0M1121.5 695.6h0M1128.4 574h0M1100.4 551.8h0M1170.2 680.3h0M1223.9 708.4h0M1155.7 574.7h0M1182.7 648.2h0M1091.7 537.9h0M1048 507.6h0M1033.1 504h0M1066.6 528.5h0M1035.8 502.2h0M1033.6 512.4h0M1048.6 514.7h0M1037.5 508.7h0M1277.9 706.5h0M1286.2 672h0M1302.5 691h0M1296.4 669.8h0M1295.3 697.8h0M1292.5 686.6h0M1305 683.3h0M1284.2 717.8h0M1266.1 653h0M1275.3 649.4h0M1286.5 721.7h0M1295.1 713.5h0M1282.7 691.5h0M1305.6 694.2h0M1305.4 710.1h0M1280.3 668h0M1283 650.6h0M1085.5 817.9h0M1012.4 688.7h0M1018.3 536.2h0M759 601.6h0M790.7 603.5h0M1012.4 827.2h0M881.7 429.3h0M988.6 306.6h0M823 746.4h0"/>
<path stroke="#f86b4d" d="M1090.5 744.2h0"/>
<path stroke="#d4b9b5" d="M911.7 370.9h0M902.4 261.2h0M959.5 242h0M891 361.6h0M933.7 292.9h0M886 296.5h0M1031.4 454.7h0M1000.6 462.1h0M950 282.1h0M974 372.1h0M1034.9 389.9h0M1036.7 411.6h0M1044.9 401.5h0M958.2 250.6h0M897.4 323.9h0M930.7 230.9h0M936.6 233.4h0M963.2 226.8h0M943.8 232.9h0M822 362.2h0M983.7 472.4h0M954.1 254h0M863.8 344h0M885.2 335.8h0M886.4 503.4h0M970.2 590.5h0M1003.4 523.5h0M990.1 560.7h0M880.2 585.1h0M936.1 478h0M896.2 571.5h0M994 578h0M775.2 509h0M954.5 591.7h0M868 481h0M950.4 579.1h0M812.3 538.2h0M794.7 525.7h0M962 523h0M937.4 607.4h0M927.4 657.6h0M924 652.9h0M774.5 633.3h0M807.3 828.2h0M764.2 790h0M781.1 711.5h0M824.7 766.2h0M727.3 781.1h0M826.4 804.1h0M865.9 804.1h0M845.8 800.2h0M774.1 846.3h0M702 751.3h0M796.8 803.4h0M773 722.1h0M747.5 763.5h0M731.9 779.9h0M741.4 805.8h0M821.3 839.1h0M755.5 754.7h0M698.6 725.9h0M750.4 831.7h0M749.3 811.8h0M758.9 790.6h0M703.4 765.4h0M783.8 768.1h0M721 743.7h0M847.4 825.5h0M740.1 803.3h0M1178.7 640h0M1114.3 658h0M1282.1 688.1h0M1288.2 728.5h0M1263.4 661.9h0M1118.6 799.8h0M802.5 621.4h0M1055.9 791.6h0M1030 649.3h0"/>
<path stroke="#c7c5c8" d="M906.7 281.1h0M1001.3 405.3h0M905 236.2h0M994.7 494.4h0M960.4 343.6h0M1039.9 394.4h0M915.3 399.5h0M963 299.4h0M1039.7 403.6h0M952.8 419h0M776.2 545.7h0M974.7 569.7h0M776.1 556.9h0M865.6 473.6h0M996.7 556h0M886.8 587.9h0M766 584.3h0M861.6 475h0M845.3 572.4h0M891.1 485.6h0M887.6 487.9h0M985.9 497.7h0M880.4 581.9h0M922.6 624.6h0M786 821.7h0M741.8 700.8h0M790.8 762.1h0M743.7 753h0M816.5 782.2h0M798.8 774.9h0M773.3 792.4h0M809.3 746.5h0M722.5 811.7h0M723.8 762.9h0M1146.5 612h0M1289.6 660.7h0M1273.2 683.4h0"/>
<path stroke="#ea9885" d="M873.5 288.8h0M958.9 231.3h0M975.2 272.2h0M933.5 319h0M1048.1 404h0M950.1 342.8h0M869.3 300.1h0M943.5 230.5h0M823.7 341.9h0M1006.8 389.6h0M1012.9 347.6h0M884.4 401.3h0M939.9 456.2h0M999.3 411.4h0M815.8 481h0M963.3 728.1h0M834.7 781.8h0M724.4 800h0M745.2 732.8h0M792.9 834.7h0M893.5 761.6h0M1126.7 664.7h0M1158 664.1h0M1091.7 669.6h0M1124.8 571.1h0M1106.1 556h0M1194.3 731.9h0M1115.8 571.1h0M1067.9 689.9h0M1104.2 735.5h0M1170.7 730.8h0M1112.2 678.5h0M1120.6 676.1h0M1121.6 540.1h0M1106.1 580.9h0M1173.5 608.6h0M1114.5 702.7h0M1193.3 711.1h0M1156.3 596.3h0M1068.1 716.6h0M1083.3 567.3h0M1109.6 540.4h0M1096.6 634.4h0M1179.1 689.3h0M1111.5 625.4h0M1220 676.9h0M1095.3 682.1h0M1167.1 752.2h0M1155.3 708.7h0M1146.3 750.4h0M1120.1 624.6h0M1199.1 714.8h0M1180.3 638.5h0M1157.7 660h0M1145.5 649.5h0M1111.4 623.1h0M1094.9 610.9h0M1186.5 679.7h0M1126.5 743.4h0M1091.7 544.7h0M1143.3 744.9h0M1096.9 542.4h0M1179.2 605.4h0M1196.5 716.8h0M1162.3 575.5h0M1111.6 619.5h0M1141.9 727.4h0M1197.5 612.9h0M1182.6 653.7h0M1156.3 563.6h0M1080.7 701.3h0M1228 719.5h0M1187.6 600h0M1114.7 677.9h0M1175.8 736.3h0M1167 584.7h0M1104 712.9h0M1172.9 546.4h0M1188.8 712.1h0M1217.4 571.7h0M1213.3 544.3h0M1265.7 694.3h0M778.8 605.5h0M802.5 641.2h0M818.4 629.3h0M1064.6 417.5h0M725.9 666.2h0M1235.3 640.8h0M1203.9 651h0M1250.6 686.6h0M1264.1 715.5h0M1243.8 669.7h0M1063.9 662.9h0M1070.7 714.6h0M1082.6 583.1h0"/>
<path stroke="#e69e8e" d="M961.6 259.8h0M924.6 254.1h0M920.5 252.4h0M844 346.7h0M875 308.7h0M907 247.9h0M920.9 248.7h0M920.6 229.9h0M949.9 420.3h0M971.7 212.6h0M930.1 241.8h0M949.8 265.9h0M933.8 238.4h0M1028.2 469.8h0M957 269.5h0M954 247.5h0M837 471.2h0M755.6 582.4h0M811.1 532.1h0M774.4 594.9h0M824.9 465.4h0M934.6 545.8h0M807.2 571.9h0M840.7 505.2h0M889.6 557.1h0M938.8 684.6h0M950.8 625.8h0M958.8 630h0M907.5 614.3h0M918.3 589.5h0M938.5 677.2h0M850.6 813.6h0M775.8 854.5h0M837.4 798.5h0M800.7 794.6h0M764.3 794.6h0M823.1 787.2h0M809.1 851h0M723.2 694.7h0M1141.5 567.4h0M1145.2 730.3h0M1119.2 709.6h0M1190.5 745.8h0M1173.2 681.7h0M1101.9 630.3h0M1147.2 581.3h0M1114.5 739.1h0M1167.2 695.8h0M1184.9 644.8h0M1226.5 685.1h0M1143.8 734h0M1121.3 606.6h0M1174.2 646.4h0M1093.3 611.1h0M1142.8 625.9h0M1105.8 714.8h0M1160.8 601.1h0M1195.2 679.2h0M1165.8 553.9h0M1214.1 706.9h0M1142.9 556.4h0M1191.1 712.5h0M1105.7 651.5h0M1140.2 664.5h0M1129.8 725.7h0M1241 679.1h0M1083.5 607.3h0M1116.8 710.9h0M1183.6 594h0M1147.5 738.1h0M1161.7 596.3h0M1108.4 710.9h0M1181.3 614.2h0M1233 703.4h0M1121.9 551.7h0M1072.5 547.5h0M1199.7 686.4h0M1172.7 677.2h0M1080 682.6h0M1143.8 561h0M1200.2 718.2h0M1225.1 711h0M1070.6 731.7h0M1088.7 591.9h0M1071.6 715.2h0M1102.8 579.1h0M1202.4 692.6h0M1170.6 709.4h0M1114.2 697.2h0M1078.6 595.3h0M1206.7 548h0M1200.6 545.6h0M1031.9 512.9h0M1266 662.4h0M1277 708.3h0M844.1 760.8h0M812 656h0M1175.9 581.4h0M1265.8 669.7h0M1052.1 696.8h0"/>
<path stroke="#fb593b" d="M1082.1 747.1h0"/>
<path stroke="#f77356" d="M1207.3 675.6h0M1178.2 628.5h0M1102.3 735.1h0M1105.1 755.8h0M1188.6 675h0"/>
<path stroke="#f57b60" d="M1114.7 718.8h0M1113.3 614.1h0M1101.2 547.4h0M1079.4 563.1h0M1113.5 609.6h0M1147.6 551.6h0M1108.2 722.4h0M1097.6 670.4h0M1133.6 624.9h0M1099.8 586.3h0M1111.2 730.2h0M1235.8 704.1h0M1175.6 748.7h0M1140 715.4h0M1111.9 654.8h0M1078 631.4h0M1087.4 743.5h0M1122.9 736.6h0M1070.1 702h0M1209 557.2h0M850.9 761.6h0M903.2 748.1h0"/>
<path stroke="#e2a598" d="M946.7 271.4h0M1024.3 412.2h0M1029.1 418h0M979 450.8h0M1046.2 433.9h0M953.5 259.2h0M929.4 330.3h0M914 424.9h0M916 350.9h0M960 260.1h0M920.8 393.6h0M984.4 216.5h0M942.5 293.7h0M842.7 354.5h0M1034.7 353h0M915.9 297.2h0M1011.3 388.9h0M909.9 235.2h0M1002.6 477.7h0M949.6 404.5h0M867.6 475.6h0M884.7 574.6h0M840 520.1h0M913.6 492.1h0M972 488.7h0M798.5 490.6h0M877.6 505.2h0M839.5 471h0M787.4 506h0M920 628.7h0M953.3 684.1h0M913.7 644.5h0M992.6 642.4h0M909.5 666.3h0M843.6 803h0M727.9 811.3h0M775.4 792.1h0M807.1 783.6h0M714.4 758.4h0M708.1 790.6h0M723.5 774h0M772 784.9h0M852.4 793.2h0M791.9 814.7h0M861.9 808.1h0M762.7 767.7h0M768.4 693.3h0M710.2 814.3h0M786.2 799.1h0M823.6 800.4h0M1203 678.9h0M1075.9 648.2h0M1160.9 604.7h0M1099.8 690.5h0M1148.5 617.7h0M1189.9 729.2h0M1111.4 590.3h0M1182.5 665h0M1084.1 556.1h0M1130.5 584.5h0M1088.1 565h0M1174.9 629.8h0M1160.9 738.2h0M1121.8 678.3h0M1161.7 561h0M1157.5 667.4h0M1099.1 555.5h0M1165.3 645.1h0M1149.7 586.3h0M1140.3 689.4h0M1170.7 745.4h0M1134.3 555.9h0M1074.4 640.2h0M1078 534.7h0M1084.5 693.6h0M1130 723.8h0M1166.3 595.6h0M1076.9 543.8h0M1091 659.7h0M1170.5 664.8h0M1213.3 569.5h0M1302.6 719.8h0M1017.8 828.5h0M1023.6 826.6h0M1267.5 678.1h0M1259 700.2h0"/>
<path stroke="#d9b2ab" d="M874.5 247.4h0M932.4 229.4h0M967.2 227.1h0M1020.2 409.4h0M872.4 276.7h0M964 312.4h0M894 347.5h0M1055.8 425.3h0M907.5 276.8h0M898.3 304.1h0M966.8 477h0M850.2 317.5h0M944.4 329.7h0M879.2 247.3h0M949.7 301.2h0M873.5 369.7h0M984.8 335.6h0M879.4 256.1h0M886.9 325.9h0M888 335.4h0M932 304.6h0M854.7 283.4h0M990.4 482.3h0M914.1 578.8h0M782 578.5h0M899.5 545.4h0M766 539.1h0M798.6 573.5h0M935.2 516.7h0M827.8 463.6h0M878 453.4h0M786.7 491.4h0M974.4 547.3h0M848.2 510.2h0M904.7 572h0M806.1 534.9h0M937.3 633.8h0M960.4 635h0M998.5 640.4h0M992.3 629.9h0M949.4 720.8h0M981.6 639.2h0M740.7 651.3h0M769.4 639.2h0M769.1 715h0M739.3 788.5h0M728.4 760.3h0M724.1 824.6h0M809.6 826.6h0M766.2 789.2h0M758 807.1h0M757 799h0M804.5 790.1h0M829.1 803.5h0M810.9 798.9h0M728.7 756h0M770.7 708.4h0M797.6 850.6h0M884.3 761.9h0M1102.9 607.9h0M1089.7 597.4h0M1206.1 696h0M1227.5 713.4h0M1104.7 632.2h0M1312.2 694h0M1306.7 729.2h0M1091.8 810.9h0"/>
<path stroke="#f28269" d="M770.5 535.9h0M882.1 465.5h0M1133.3 679.2h0M1129.6 604.6h0M1240.4 686.5h0M1214.8 693.3h0M1185.4 659.1h0M1181.3 618.2h0M1165.1 677.1h0M1215 675.5h0M1086.9 645.2h0M1117.2 738.9h0M1143.8 691h0M1175.5 616h0M1133.3 728.7h0M1069.8 716.2h0M1210.4 700.3h0M1205.1 662.6h0M1184.8 679.4h0M1200.4 689.4h0M1098.4 604.7h0M1174.2 587.3h0M1079.8 579.1h0M1141.2 547.7h0M1237.6 709.4h0M1099.3 668.6h0M1145.6 576.7h0M1129.4 609.3h0"/>
<path stroke="#f08a72" d="M978.5 370.5h0M1015.7 340.8h0M864.5 275.2h0M982.3 438.3h0M985.3 661.7h0M839.5 833.3h0M829.7 802h0M770.8 736.6h0M1143.8 636.4h0M1175.3 623.6h0M1124.8 632.3h0M1100.4 618.4h0M1062.3 708.6h0M1158 744.6h0M1198.9 669.3h0M1162.8 589.7h0M1067 650.9h0M1144.3 644.3h0M1209 723h0M1147.8 654.2h0M1145.4 637.5h0M1118.7 680.2h0M1224.6 668h0M1193 698.7h0M1236.3 685.1h0M1195.6 607h0M1066.9 694.7h0M1106.4 631.1h0M1175.8 665.3h0M1128.9 728.7h0M1092.1 612.3h0M1225.6 680h0M1111.5 602.5h0M1127 680.8h0M1100 741.6h0M1200.3 674.7h0M1153.5 751.5h0M1167.4 572.8h0M1088.8 733.3h0M1067.1 646.6h0M1196.7 667.4h0M1163.5 630.9h0M1104.2 582.4h0M1127 662.4h0M1101.1 731.5h0M1074 652.7h0M1149.7 613.8h0M1137.7 696.8h0M1210.7 585.1h0M1205.7 559h0M1198.2 593.5h0M1024.3 730.2h0M1075.7 783.7h0"/>
<path stroke="#bfccd2" d="M927.1 291h0M899.7 370.4h0M934.1 354h0M977.4 397.9h0M968.6 401.9h0M892 274h0M886.3 252.1h0M944.1 327.3h0M895.7 254.8h0M974.5 436.2h0M906.3 440.8h0M911.8 381.1h0M962.6 316.6h0M939.1 381.4h0M946.4 323.1h0M840.2 367.9h0M1056.9 409h0M902.7 422.4h0M1007.8 459.2h0M904.3 404.6h0M1033.9 369.8h0M1014.2 399.4h0M928.1 504.7h0M910 525.1h0M775.2 558.4h0M983.4 564.6h0M946.2 523.8h0M850.2 575.7h0M1008.8 515.6h0M877.3 478.2h0M996.5 573.3h0M848.5 585.7h0M761 517.3h0M962 573.8h0M882 506.4h0M842.8 537h0M946.9 638h0M925.6 650.6h0M928.7 642.6h0M826.4 821h0M766.9 812.2h0M715.9 777.7h0M798.2 813.9h0M834.4 818.7h0M751.2 780.5h0M704.5 768.7h0M780.4 846.1h0"/>
<path stroke="#fa6244" d="M1110.1 605.3h0"/>
<path stroke="#ed917b" d="M899.9 321.5h0M983 561.5h0M969.1 572.4h0M832.2 540.5h0M943.6 610.6h0M845.9 818.1h0M860.7 818.4h0M1208.4 709.9h0M1173.8 732.4h0M1077.3 556.7h0M1128.8 732.7h0M1121.4 661.5h0M1094.7 625.1h0M1069 675.2h0M1083.6 577.5h0M1131.7 719.1h0M1115.3 558.9h0M1234.3 706.8h0M1166.7 622.3h0M1141.5 724.4h0M1151.8 566.2h0M1172.5 594.2h0M1168.9 666.6h0M1076.8 568.1h0M1088.1 543.7h0M1153.2 560h0M1202.9 660.8h0M1137.7 629.2h0M1163.6 644.8h0M1098.9 721.1h0M1089.8 538.4h0M1189.7 721.1h0M1082.2 699.6h0M1092.4 586.2h0M1164.3 750.1h0M1091.8 606h0M1148.6 749.4h0M1226.1 706.2h0M1100.5 601.6h0M1089.1 637h0M1104.3 635.1h0M1162.8 724.9h0M1163.4 608.4h0M1070.2 645.9h0M1136.9 745.3h0M1190.9 619.5h0M1149.7 695.4h0M1156.6 611.2h0M1130.6 678.7h0M1172.9 630.4h0M1128.8 565.9h0M1136.5 556.1h0M1100.3 584.5h0M1184 686.2h0M1093.1 642.6h0M1175.1 552.4h0M1121.9 624h0M1128.8 753.2h0M1102.8 597.1h0M1077.2 532.9h0M1112.5 630.7h0M1208.3 734.1h0M1090.6 616.5h0M1148.7 747.2h0M1115.9 619.2h0M1125.3 682.9h0M1196.3 664h0M1173.7 730.2h0M1213.4 567.8h0M1106.8 532.4h0M1079.2 771.5h0"/>
<path stroke="#deaca1" d="M922 255.9h0M886.9 249.2h0M1019.9 468.8h0M974 303.8h0M844 349.7h0M1021.8 407.8h0M981.6 216.5h0M918.1 266.7h0M857.3 273.2h0M912.3 409h0M1017.4 406.7h0M996.4 370.6h0M913.8 362.2h0M972.6 338.2h0M969.5 211.8h0M912.8 402.3h0M872.5 296.5h0M864.4 353.1h0M904.2 317.7h0M957.5 205.9h0M940.2 293.1h0M1043.1 397h0M883.7 246.3h0M890.1 252.6h0M943.2 358.2h0M942.5 371.2h0M921.8 236h0M941.6 427.9h0M925.6 538.3h0M939.9 536.4h0M956.9 487.2h0M791.1 505.1h0M892.9 486.2h0M860.4 543.5h0M907.3 462.2h0M775.7 512.8h0M856.6 572.1h0M856.4 455.1h0M910.4 583.4h0M807.8 487.5h0M781.5 575.6h0M977 540.8h0M919 561.7h0M789.5 525.9h0M940.9 548.7h0M939.6 630.1h0M985.9 648.7h0M963.7 600.1h0M928.4 624h0M943.4 731.5h0M941.8 732.3h0M715.8 726.4h0M715.9 761.4h0M798.7 783.3h0M757.5 741.5h0M816 766.2h0M848 794.1h0M690.6 733.5h0M735.5 795.5h0M727.3 823.4h0M832.4 774.4h0M811.1 805.2h0M867.5 806.2h0M735.3 708.5h0M697.4 727.9h0M724.5 747.8h0M825.4 785.6h0M765.8 797.6h0M795.9 800.6h0M921.7 749h0M1070.1 653h0M1142.5 674h0M1080.3 677.3h0M1113.5 700.1h0M1080.7 630.4h0M1103.5 706.3h0M1189.9 636.2h0M1084.8 616.5h0M1156.5 688.7h0M1163.2 744h0M1229.6 686.5h0M1174.6 717.1h0M1128.8 580.4h0M1127.8 738.3h0M1124.1 655.7h0M1151.5 636.8h0M1123.4 599.8h0M1120 566h0M1208.4 548.6h0M1269.7 672.3h0"/>
<path stroke="#bfccd2" d="M984.3 258h0M893.4 254.2h0M1024.6 420.5h0M1036.3 371h0M982.8 407.5h0M826.3 371.3h0M957.3 304.2h0M879.1 314.6h0M909.1 412.5h0M919.6 290.8h0M828.6 365.3h0M957.6 386h0M926.2 305.6h0M1059.8 399.5h0M961.6 385.3h0M923.2 238.5h0M974 448.6h0M944.4 574.3h0M787.8 498.1h0M769.9 519.2h0M960.6 596.7h0M811.6 546.5h0M915.8 496.3h0M770.6 549.2h0M795.7 564h0M792.9 515.8h0M944.8 479.2h0M814.2 506.1h0M818.5 503h0M949.6 562.5h0M768.8 579.9h0M963.3 546h0M938.8 529.5h0M751.9 533.2h0M818.6 489.1h0M959.1 493.8h0M815.8 573.7h0M900.8 548.4h0M974.6 638.6h0M951.1 733.2h0M750.5 642.7h0M759.8 641.4h0M774.1 765.2h0M768 722.4h0M819.5 843.9h0M798.9 815.7h0M764.8 813.4h0M752.7 730.7h0M782.8 758.2h0M766.6 712.1h0M734.8 793.3h0M762.1 777.8h0M825.9 832.7h0M693.3 732.2h0M729.2 747.8h0M791.5 728h0M754.7 699.9h0M740.3 799.6h0M1049.7 528.6h0M1292.3 678.6h0M1090.4 827.2h0"/>
<path stroke="#add8e6" d="M1030.2 348.3h0M1026.4 381.7h0M870.1 277.7h0M868.9 274.1h0M970.7 279h0M871.7 244.2h0M837 364.7h0M968.3 357.1h0M1007.3 435.7h0M946.3 441.3h0M1006.1 492.7h0M861.4 276.6h0M1044.7 408.6h0M839.2 352.9h0M903.4 364.7h0M959.2 476.2h0M959.4 326.5h0M1027.4 395.8h0M965.8 342.5h0M892.8 344.9h0M919.7 285.7h0M923.2 407.9h0M846.6 355.5h0M896.2 298.5h0M979.2 324.7h0M1017.3 415.4h0M1033.6 358.1h0M869.7 313.6h0M942.7 458.6h0M954.1 453h0M927.3 413.2h0M945.4 380.9h0M972.6 345.9h0M976.7 415.9h0M883.3 343.8h0M900.4 316h0M1008.6 472.5h0M876.2 390.3h0M832.4 352.9h0M877.7 312.6h0M952.2 295.5h0M901.7 302.4h0M904.6 252.6h0M945.6 291.1h0M962.5 422.1h0M1004.1 423.5h0M975.9 431.7h0M927.1 423.7h0M963.2 353h0M875.6 262.8h0M992.3 477.8h0M1033 415.3h0M905.9 400.6h0M1009.3 346.2h0M1011.7 360.4h0M965.9 457.3h0M937.5 299.5h0M993.7 393.5h0M1003.4 375h0M918.6 296h0M929.9 427.8h0M881.8 330.4h0M854.3 272.3h0M1022.2 448.9h0M965.1 266.3h0M1005.6 456.1h0M997.5 417.2h0M910.5 362.5h0M989.6 360.6h0M1040 425.6h0M889.1 275.5h0M1019.7 346.3h0M940.5 271h0M1027.6 385.1h0M945.6 358.8h0M987.5 445.1h0M1019.5 498h0M870.8 305h0M1041.8 418.2h0M963.4 258.3h0M887 328.6h0M1050.4 388.5h0M925.6 315.6h0M891.8 363.5h0M944.3 305.1h0M930.7 280.1h0M950.5 362.8h0M928.8 309.6h0M975.1 433.4h0M1050.3 395.9h0M849.5 332.8h0M1032.6 465.2h0M888.7 304.2h0M1048.5 359.8h0M995.9 346.7h0M916.9 250.1h0M871.5 275.2h0M1003.1 485.1h0M897.4 280.8h0M891.7 297.1h0M916.5 342.6h0M960.8 258.2h0M939.5 355.7h0M1052.6 407.9h0M943.9 260h0M915.5 279.5h0M968 212.7h0M953.2 321.8h0M1004.8 329.8h0M988.6 329.4h0M945.2 457h0M881.9 334h0M899.3 415h0M978.8 405.2h0M915.3 308.4h0M962.8 335.3h0M900.3 419.4h0M970.2 469.1h0M854.6 293.5h0M875.6 249.3h0M907.7 223.5h0M995.4 418.6h0M832.8 323.2h0M984.5 409.8h0M962.3 315h0M962.8 302.1h0M893.6 298.7h0M941.5 447.1h0M937.4 435.9h0M1015.4 361.6h0M948.5 444.5h0M880.4 270.7h0M898.6 278.3h0M983.4 355.9h0M924.8 255.8h0M895.6 359.8h0M1033.2 391.8h0M968.9 436.7h0M1013.6 432.2h0M918.7 402.6h0M907.1 302.2h0M850.1 302.3h0M858.8 324.4h0M825.6 357.8h0M938.4 328.6h0M865.3 339.8h0M905.3 259.3h0M928.8 451h0M946.6 339.1h0M1018.2 358.4h0M897 313.1h0M992.9 456.1h0M885 310.2h0M979.1 425.2h0M923.8 335.3h0M930.9 350.6h0M838.4 342.7h0M1002.5 344.9h0M1005.5 336.8h0M870.6 269.3h0M1026.1 423.8h0M984.6 390.4h0M944.1 281.2h0M1042.4 365.2h0M904.2 428.9h0M972 393.8h0M965.6 465h0M901.5 289.8h0M990.2 374.8h0M953.3 376.6h0M1023.7 422.6h0M1045.2 359.7h0M958.3 331.5h0M929.7 275.1h0M939.2 436.4h0M998.9 457.1h0M1011.6 342.6h0M1038.3 408h0M933.4 410.9h0M1020.3 459.7h0M912.9 229.3h0M836 369.3h0M933.7 437h0M970.4 233.3h0M1027.1 372.1h0M978.7 470.2h0M998.1 362.9h0M1049 381.5h0M924.7 426.4h0M918.1 421h0M920.4 321h0M1017 396.8h0M998.1 404.6h0M868 292.4h0M914.3 290.2h0M1017.1 350h0M923.1 356.2h0M874.3 303.6h0M958.1 439.9h0M969.8 431.7h0M991.1 424.1h0M934.5 403.2h0M893.5 369.6h0M1009.3 442.5h0M936.3 332.9h0M982 486.1h0M1006.9 422.3h0M945.2 424.8h0M1038.5 412.7h0M838.8 351.3h0M861.2 312.6h0M895.1 317.2h0M977 330.7h0M993.8 462h0M913.3 355.1h0M988.9 465.7h0M955.4 461.1h0M887.7 383.8h0M993.2 437h0M976.1 466.3h0M1051.2 347.6h0M954.4 325.5h0M911.4 306.2h0M852.6 360.1h0M855.3 332.8h0M937.3 548.2h0M968.6 495.2h0M865.6 581.5h0M902.5 523.7h0M938.7 511.1h0M787.3 552h0M759.5 564.9h0M977 534.8h0M906.2 526.8h0M914.1 552h0M761.4 560h0M933.1 554.7h0M999 572h0M920.5 472.9h0M852.9 551.9h0M916.9 538.7h0M834.7 572.1h0M885.8 467.6h0M990.2 568.1h0M819.3 564.2h0M885.4 457.5h0M862.2 483.8h0M919.3 539.3h0M813.7 509.1h0M865.4 453.8h0M845.6 520.9h0M954.9 497.1h0M990 543.5h0M776.4 564h0M911 547.6h0M870.2 527.9h0M919.4 507h0M931.3 559.4h0M843.9 507.4h0M998.9 591.3h0M837.6 561.3h0M767.2 574.8h0M927.2 509h0M900.3 448.1h0M791.1 533.7h0M848.4 496.2h0M930 530h0M825.2 557.1h0M986.1 541.9h0M825.7 468.4h0M864.4 512.7h0M850.7 588.2h0M956 491h0M927 530.6h0M844.9 558.6h0M866.1 560.7h0M862 451h0M870 583.1h0M999 519.1h0M796.5 540.6h0M950.1 573.7h0M816.6 564h0M772.4 555.2h0M820.6 526.1h0M928.7 492.6h0M985.6 504.2h0M920.3 471.4h0M868.6 448.1h0M993.9 575.3h0M832.2 484.1h0M872.7 593.5h0M766.1 590.2h0M889.3 506.8h0M854.9 553.9h0M871.1 510.5h0M908.7 496.8h0M904.8 525.5h0M905.4 558.3h0M839.7 508.1h0M834.3 480.5h0M958.1 526.2h0M973.5 557.4h0M928.5 531.7h0M923.4 473.7h0M769.1 541.7h0M831.8 465h0M899 569.8h0M918.3 527.2h0M810.2 523.3h0M854.2 544.3h0M878.4 450h0M901.5 482.1h0M827.6 466.5h0M782.2 537.6h0M859.3 559.1h0M937 533.9h0M930.5 492.2h0M832.1 547.4h0M859.2 577.4h0M928.3 468.3h0M792.2 529.5h0M888.8 460h0M875.7 600.4h0M918 504.8h0M959.3 578.8h0M885.2 568.4h0M778.6 567.8h0M938.5 570.7h0M965.6 485.7h0M873.9 508.2h0M931.1 543.4h0M964.7 498.6h0M794.3 546.6h0M964.4 521.3h0M954.4 532.1h0M892 506.4h0M992.7 594.6h0M921.1 523h0M815 518.8h0M777.8 500.1h0M803.3 499.9h0M965 553.4h0M836.6 523.6h0M872.6 470h0M997.5 593.9h0M859.2 520.1h0M908.8 515.1h0M927.4 561.1h0M907.7 537.1h0M853.5 454.9h0M916.7 456.8h0M902.6 500.6h0M883 567.5h0M962.2 485.3h0M944.8 493.3h0M878.1 524h0M882.5 523.1h0M859.9 469.7h0M901 465.5h0M906.5 503.3h0M880.5 544.4h0M891 471.8h0M818.3 516.6h0M852.2 548.4h0M749.5 532h0M981 566.2h0M860.5 448.9h0M925.1 586.4h0M747.4 538.3h0M959.7 487.9h0M876.8 521.2h0M992.8 584.1h0M848.9 590.1h0M905 518.5h0M958.1 563.8h0M993.1 517h0M865.2 569.6h0M817.5 494.3h0M864.6 524.2h0M783.8 530.2h0M831.3 476.4h0M1005.2 543.1h0M900.5 531.7h0M876.6 536.9h0M770 533.2h0M759.8 515.2h0M796.9 531.4h0M882.1 491.4h0M929.4 501.1h0M1005.2 548.5h0M807.1 508.8h0M905.2 483.8h0M902.6 478.6h0M987.7 505.6h0M818.9 570.3h0M887.1 582.3h0M947.3 591h0M892.2 534.1h0M882.9 511h0M938.6 515.3h0M987.2 552.8h0M875.4 496.1h0M888.8 476.1h0M781.8 532.7h0M893.3 551.3h0M912.4 563.6h0M940 490.5h0M785.2 543h0M964 549.4h0M973 593.5h0M944.6 513h0M989.5 556.3h0M934 535.6h0M1004.8 568.4h0M806.2 544h0M993.3 531.2h0M842 510.4h0M838.1 490.6h0M867.4 579.2h0M879.9 590.2h0M907.3 480.6h0M926.1 564.4h0M853.4 559h0M944.6 483.7h0M923.1 521.5h0M858 491.6h0M868.4 506h0M779 570.9h0M906.6 492.4h0M1008 549.7h0M871.4 515.8h0M856.3 554.9h0M933.9 584.3h0M894.5 537.7h0M937.5 489.4h0M969.3 535.5h0M906.8 450.9h0M854.6 458.1h0M998.5 554.7h0M1011.3 595h0M916.7 493.5h0M913.4 514.8h0M753 540.8h0M801.7 507h0M846.4 537.7h0M939.8 476.6h0M768.7 556.3h0M896.3 465.4h0M962.1 592.4h0M896.6 501.7h0M802.9 540.8h0M871.5 506.6h0M1009.7 506.8h0M881.1 548.4h0M773.3 592.2h0M776.4 551.7h0M863.4 542.7h0M898.8 582.5h0M820.1 483.1h0M768.3 553.2h0M866.5 507.6h0M1000 580.6h0M951.1 518.7h0M903.8 511.2h0M972.1 572.5h0M894.8 506.6h0M942.8 556.5h0M994.1 518.8h0M981.4 663h0M942.4 656.9h0M906.5 647.8h0M950.4 725.1h0M935.7 655.4h0M946 693.6h0M968.5 707.7h0M935.3 602h0M985.8 636.2h0M961.2 723.2h0M993.3 640.1h0M963 623.1h0M933.6 621.4h0M960 718.1h0M946.9 610.5h0M915.7 599.4h0M941.2 642.4h0M943.5 644.9h0M926.4 675.6h0M953.3 615h0M975.6 645.3h0M951.5 652.3h0M959.2 656.3h0M919.9 697.2h0M936.5 669.1h0M965.1 623.4h0M918.3 644.6h0M999.3 635.7h0M942.3 609.2h0M957.6 703.6h0M930 714.5h0M951.8 606.1h0M988.7 648.4h0M958.9 626.4h0M918 664.5h0M951.5 622.3h0M968.4 724.8h0M957.2 690.9h0M968.3 683.3h0M927.3 668h0M975.1 636h0M962.9 663.9h0M918.4 621.1h0M907.7 626.5h0M968.1 704.9h0M992.6 647.1h0M928.3 688.1h0M952.4 690.2h0M913.1 606.7h0M967.2 626.5h0M741 636.9h0M767.6 646.2h0M757.8 644.2h0M740.1 640.7h0M762.2 624h0M752.3 629.8h0M746.1 656.2h0M748.1 646.5h0M736.6 633.9h0M738.1 649.5h0M761.9 662.5h0M725.4 708.7h0M779.8 689.2h0M792.1 828.8h0M723 732.1h0M841.1 803.3h0M732.7 762.9h0M862.4 788h0M804.2 841.5h0M765.6 843.6h0M815.8 843.3h0M819.5 812.9h0M777.1 711.8h0M760.6 731.2h0M790 743.7h0M752.5 818.8h0M816.3 818.3h0M710.8 741.6h0M694.7 746.4h0M747.7 701.8h0M697.3 735.7h0M788.7 799.2h0M804.1 768.2h0M742.5 751.8h0M804 716.3h0M742 728h0M794.4 776.7h0M829 810.9h0M785.2 823.4h0M788.4 767.5h0M854.2 780h0M764.5 784.8h0M719.1 799.6h0M716.3 773.3h0M808 822.1h0M763.3 726.8h0M797.9 806.4h0M836.7 765.8h0M706.6 799.8h0M769.4 712.2h0M782 827.5h0M749.2 790.9h0M724.8 711.6h0M836.9 815.4h0M817.6 762.9h0M737.2 697.5h0M749.8 711.5h0M747.7 799.6h0M706.2 768.8h0M785.1 818.1h0M741.7 734.9h0M733 755.2h0M828 800.5h0M787.7 824.1h0M738 738h0M757.6 787.7h0M780.2 725.7h0M882.4 787h0M772 771.8h0M858 813.6h0M809 758.7h0M784.8 762.5h0M755.8 833.4h0M809.1 765.3h0M767 771.4h0M800.4 823.6h0M746.2 760.2h0M742.8 739.3h0M733.1 822.7h0M731.5 805.4h0M845.1 789.6h0M706.8 757.4h0M725.3 721.1h0M750.2 754h0M763 805h0M782.2 771.9h0M715.5 736.4h0M743.2 832.6h0M717.9 701.6h0M832.4 780.2h0M828 787.9h0M764.8 711h0M785.2 777.4h0M756 710.2h0M735.9 739.6h0M847.5 799.4h0M845.7 824.4h0M762.4 760.2h0M736.2 756.6h0M773.4 720.1h0M717.4 729.2h0M779.8 784.8h0M755 771.1h0M790.4 831.5h0M794.2 723.4h0M772.2 777.5h0M775.5 757.3h0M745.4 741.7h0M691.6 729.7h0M770.7 752.8h0M761.8 802.8h0M762 728.4h0M818.7 820.5h0M731.4 803.5h0M833.3 825.4h0M876.5 775.7h0M794.8 822.5h0M770.1 730.2h0M784.1 746h0M748.6 742.9h0M754.1 702.8h0M796.6 790.7h0M903.9 761.4h0M919.9 757.6h0M902.7 763.7h0M884.2 765h0M889 770.6h0M1085.5 541h0M1108.2 694.8h0M1112.8 556.6h0M1066.4 713.5h0M1254.1 721h0M1087.1 555.3h0M1051.8 518.4h0M1038.6 505.1h0M1029.5 510.3h0M1079.3 524.5h0M1275 689.8h0M1286.8 656h0M1281 709.4h0M1313.4 699.3h0M1310.1 714.7h0M1308.5 712.5h0M1298.2 669.3h0M1288.8 697.5h0M1281.4 666.4h0M1282.6 719.2h0M1303 727.7h0M1278.1 686.4h0M1298.6 703.7h0M1267.4 700.1h0M1283.1 667h0M1294.5 683h0M1309.9 705.4h0M1283.6 705.5h0M1289.4 707.6h0M1264 668.6h0M1291.8 719.2h0M1298.1 712.1h0M1301.7 713.6h0M1310.9 690.3h0M1020.3 830.1h0M1016.3 726.3h0M1012.4 508.5h0M873.8 225.4h0M726.7 675.5h0"/>
<path stroke="#ea9885" d="M954.5 211.6h0M979.4 436.8h0M1022 399.8h0M1018.2 474.7h0M988.4 234.3h0M843.5 337.4h0M938.4 232.8h0M938.3 309.4h0M891.9 401.2h0M977 227.6h0M906.4 438.5h0M945.4 404.7h0M895.7 337.6h0M865 332.5h0M955.2 252h0M839 334.2h0M766.8 592.7h0M883 475.1h0M802.2 502h0M974.1 701.8h0M762.6 828h0M759.6 755.6h0M805.6 833.5h0M849.1 811h0M721 817.6h0M846.7 804.4h0M845.3 819.9h0M872.7 786.1h0M836.8 807.8h0M813.4 824.3h0M894.8 756.8h0M896.8 756.1h0M1092.3 717h0M1078.6 551h0M1179 582.9h0M1116.7 653.1h0M1167.4 737.6h0M1121.6 639.2h0M1233.2 691h0M1179.1 593.8h0M1071.8 701.1h0M1136.8 707.4h0M1138.2 637.8h0M1160.1 659.1h0M1149 632.9h0M1196.1 732.7h0M1068.7 700.1h0M1118.6 669.5h0M1184.8 605.9h0M1115 573.2h0M1179 732.7h0M1193 626.2h0M1083.7 562.8h0M1127.2 683.3h0M1086.3 562.6h0M1067.9 680.5h0M1091.9 688.4h0M1074.9 689.8h0M1180.6 580.7h0M1084.1 605.4h0M1161.6 603h0M1085.4 719.8h0M1139.8 698.9h0M1157.4 625.3h0M1168.7 680.9h0M1101.9 640.3h0M1172.6 661h0M1164.1 681.5h0M1159.1 686.2h0M1084.8 704.5h0M1207.7 668.6h0M1144.6 752.1h0M1217.9 684.1h0M1101 701.7h0M1229.8 715.6h0M1156.3 629.8h0M1209.4 687.6h0M1148.9 555.1h0M1191.6 707.3h0M1110.4 683.7h0M1202 703h0M1085.2 681.7h0M1114.4 730.1h0M1098.5 549.6h0M1120.8 629.6h0M1130.9 659.7h0M1137.1 617.8h0M1196.6 742.5h0M1141.4 680.6h0M1194.1 728.1h0M1134.6 708.1h0M1187.5 646.3h0M1136.8 557.9h0M1138.4 566.2h0M1088.6 692.9h0M1142.1 559.8h0M1151.7 600.4h0M1107.2 655h0M1206.2 566.3h0M1006.4 659h0M1042.1 700.5h0M1012.4 716.4h0M1199.7 569.6h0M1254 635.7h0M1057.1 664.6h0M1060.5 676.5h0M1043.6 698.5h0M1075 568.7h0M1031.7 673.1h0"/>
<path stroke="#e2a598" d="M940.8 260.8h0M926.2 318.4h0M978.6 237.4h0M843.2 367h0M986.1 419.2h0M1014.2 435.2h0M971.7 296.8h0M813.5 358h0M1028.6 357.7h0M995.8 406.9h0M905.5 351.6h0M1047.1 423.5h0M957.2 245.3h0M960.1 267.5h0M873.8 388.7h0M939.2 572.2h0M881.3 457.7h0M753.5 583.8h0M949.6 591.7h0M997.5 532.9h0M899 539h0M976.3 528.4h0M916.8 513.5h0M794.9 558.6h0M825 485.9h0M981.9 670.2h0M952.8 599.9h0M1011.5 623.7h0M953.8 670.5h0M921.1 609h0M933 637.8h0M993.2 615.8h0M753.3 774.6h0M839.1 812.8h0M760.1 815.5h0M772.1 807.9h0M815.3 844.9h0M750.8 828.8h0M836.8 818.8h0M778.8 845.3h0M827.9 805.9h0M1186.5 706.8h0M1089.8 563.9h0M1129.5 714.5h0M1083.2 549.6h0M1212.2 676.6h0M1123 664h0M1102.7 749.1h0M1147.3 718.6h0M1129.5 617.8h0M1092.5 582.3h0M1203.8 716h0M1091.3 645.8h0M1120 645.6h0M1124.7 704.6h0M1187.8 681.3h0M1185.2 630.4h0M1114.5 710.3h0M1177.1 597h0M1081.3 697.6h0M1146.5 645.4h0M1175.6 584.8h0M1182.4 702.5h0M1170.4 726.9h0M1170.1 663h0M1185.8 722.7h0M1216 681.6h0M1094.8 740.9h0M1113.9 605.8h0M1139.5 575.5h0M1133.1 699.9h0M1102.5 583.2h0M1081.7 538h0M1169.9 586.7h0M1139.9 721h0M1228 687.1h0M1097.6 619.6h0M1209.7 576.6h0M1099.5 531.8h0M1078.4 531.9h0M1079.5 521.2h0M1279.9 700.9h0M1278.2 689.2h0M1284.1 653.3h0M1306.9 699.2h0M1242.1 645.9h0M1038.5 688.3h0"/>
<path stroke="#d4b9b5" d="M864.4 313h0M1052.5 393.6h0M903.4 351.8h0M993.7 407.8h0M861.8 300.9h0M1062.3 379.5h0M918.4 252.5h0M981.3 235.5h0M1027.7 404.2h0M960.4 464.6h0M927.1 324h0M901.6 331.1h0M959.3 295.5h0M996.7 479h0M915.7 230.1h0M966.1 289.2h0M1000.7 433h0M969 374h0M949.2 357.1h0M921.8 410.5h0M806.2 499.9h0M778.7 575h0M904.6 533.5h0M852.3 564.5h0M817.4 520.7h0M964.2 518.9h0M788.8 530.8h0M943 522.5h0M830.1 515.4h0M874.3 468.7h0M782.2 525.7h0M923.6 572.1h0M921.3 539.6h0M979.8 534.7h0M786.6 548.2h0M864.2 547.8h0M835.2 488.9h0M976.6 619.7h0M1001.4 614.7h0M911.2 638.8h0M983.1 632.3h0M816.1 750h0M823.3 795.4h0M826.7 781.4h0M774.8 704.2h0M723.8 718.2h0M709.3 733.2h0M712 808h0M817 789.7h0M732.2 743.6h0M740.3 786.6h0M770.6 746.2h0M786.7 755.3h0M784.3 719.2h0M713.3 756.9h0M899.5 761.7h0M1090.5 711h0M1136.5 685.8h0M1298.3 719h0M1035.3 812.8h0M1004.5 319.7h0M775.7 674.6h0"/>
<path stroke="#deaca1" d="M932.6 407.3h0M859.1 292h0M874.2 334.1h0M1029.6 380.9h0M921.9 399.4h0M928 267.5h0M975.9 244.9h0M949.3 382.6h0M970.5 213.8h0M936.7 355.5h0M886.2 349.7h0M1001.9 348.3h0M878.3 318.8h0M1033.2 351.4h0M875.6 316.6h0M872.1 381.1h0M948 212.8h0M871.5 299h0M1030.5 388.4h0M946.4 310h0M885.6 327.1h0M883.3 301.8h0M994.9 475.2h0M983.3 247.3h0M766.7 537h0M791.4 566.6h0M896.3 483.4h0M831.7 460.5h0M975.1 571.3h0M966.8 592.2h0M816.8 534.7h0M996.8 566.8h0M765.2 567.5h0M955.3 564h0M1000.5 515.8h0M976.8 603.3h0M931.7 612.5h0M986.1 656.5h0M954.8 608.8h0M956.7 716h0M923.1 694.4h0M727.5 789.8h0M823.5 760h0M772.7 800.8h0M703.3 771h0M711.1 778.3h0M744.4 829.6h0M730 819.7h0M761.2 700.1h0M862.2 799.9h0M695 721.9h0M868.6 804.1h0M719.3 766.4h0M1123.5 712.3h0M1216.3 719.7h0M1116.6 693.6h0M1152.5 743.5h0M1090.1 658.3h0M1081.5 557.5h0M1126.7 589.8h0M1197.6 744.8h0M1133.3 752.1h0M1091.7 553.1h0M1135.5 551h0M1091.6 541.7h0M1153.3 652.2h0M1122.6 625.8h0M1110.4 613.7h0M1128.8 628.8h0M1121.2 680.8h0M1184 729.3h0M1134.4 594.7h0M1070.3 531.4h0M1077.2 519.9h0M1289.3 664.7h0M1270 651.8h0M1296.2 723.9h0M1270.4 696.2h0M1069.9 673.9h0M1074.1 558.5h0"/>
<path stroke="#cdbfbe" d="M887.5 376.5h0M915.5 285.7h0M957.3 288.6h0M958.1 427.8h0M974 375h0M1038.7 374h0M933.3 262.9h0M1024.5 417.6h0M862.2 336.9h0M892.8 358.1h0M943.8 453.7h0M970.7 457.4h0M928.9 361.2h0M970.9 231.7h0M848.2 319.9h0M1024.5 487.4h0M964.9 560.3h0M1009.2 588h0M760.7 546.7h0M964.7 593.2h0M929.3 526.3h0M901.5 542.8h0M968.2 517.5h0M874.6 543.3h0M852.1 544.7h0M983.3 533h0M962.9 564.3h0M954 500.8h0M915.1 499h0M886 558.6h0M924 463.5h0M838.2 478.9h0M928.2 473.9h0M990.2 647.7h0M968 636h0M980 626.9h0M777.8 853.6h0M703.2 781.1h0M739.8 706.9h0M769.1 792.1h0M795.8 786h0M726.2 703.4h0M832 768.7h0M717.9 759.5h0M746.9 787h0M743.1 732.8h0M718.9 763.7h0M778.2 823.5h0M760.2 829.1h0M818.4 782h0M750 709.9h0M1186 597h0M1299.3 685.6h0M1280.6 656h0M1273.2 677.7h0M1036.1 548.1h0M1069.8 799.5h0M714.9 825.8h0"/>
<path stroke="#f08a72" d="M931.3 374.7h0M936.3 685.7h0M837.6 813.5h0M1102.7 722.4h0M1088 724.7h0M1139.2 598.6h0M1148.6 714.1h0M1170.3 677.6h0M1175.8 645.2h0M1097.4 648.8h0M1149.2 689.3h0M1126.9 641.4h0M1135.9 714.7h0M1130.1 547.5h0M1064.2 700.9h0M1124.9 672.3h0M1161.9 578.2h0M1099.2 633.3h0M1140.3 583.8h0M1174.8 675.6h0M1196.4 734.7h0M1108.1 621.6h0M1102.5 573.1h0M1225.5 671.9h0M1133.3 584.4h0M1076.3 700.9h0M1198.7 734.7h0M1137.9 718.1h0M1089.7 675.4h0M1084.9 656.8h0M1235.6 699.2h0M1104.2 611.2h0M1169.3 612.7h0M1126.3 579.1h0M1073.2 662.1h0M1171.6 741.8h0M1174.8 666.6h0M1161.2 627.3h0M1133.3 696.2h0M1174.4 598h0M1189.1 605.6h0M1130.7 691.1h0M1129.8 545.7h0M1142.4 650h0M1068.6 730.7h0M1083.3 648.8h0M1105 690.5h0M1230.5 684h0M1217 558.4h0M996.5 516.4h0"/>
<path stroke="#ed917b" d="M958.3 213.7h0M941.5 233h0M852.2 305.8h0M956.6 224h0M844 320.9h0M889.4 290.7h0M873.7 330.9h0M960.1 392.9h0M931.7 429.6h0M928.9 357.8h0M826 492h0M782.8 516.6h0M985 529.4h0M895.8 527h0M711.2 783.9h0M751.7 810.8h0M718 789.5h0M1108.8 738.4h0M1093 572.3h0M1135.8 578.5h0M1148.1 671.1h0M1148.4 698h0M1167.3 671.4h0M1141 638.1h0M1132.7 737.3h0M1082.3 695.6h0M1195.7 623.4h0M1106.2 647.9h0M1107.2 747.3h0M1186.5 746.1h0M1111.3 712.1h0M1120.1 697.1h0M1172.2 566.7h0M1237.7 699.6h0M1076.7 665.4h0M1127.5 726.7h0M1072.8 625.1h0M1096.2 616.2h0M1096.8 643.8h0M1179.3 701.8h0M1134.3 620.2h0M1097.9 628.2h0M1165.4 745h0M1212.9 723.3h0M1237.8 678.9h0M1134.9 733.1h0M1107.5 623.2h0M1130.4 701.3h0M1134 567.7h0M1107.8 627.8h0M1194.7 740.8h0M1161.5 675.6h0M1112.9 583.9h0M1162.8 695.8h0M1104.5 614.4h0M1186.3 651.6h0M1130 746.8h0M1068.6 655.4h0M1132.6 685.4h0M1097.5 652.8h0M1116.5 727.3h0M1122.9 608.8h0M1197.4 751.2h0M1087.6 717h0M1097.4 595.8h0M1207.4 730.2h0M1221.9 713h0M1225.4 677.5h0M1110.3 603.5h0M1168.6 644.8h0M1094.5 699.7h0M1105.4 708h0M1118.5 581.4h0M1134.8 561.3h0M1133.1 572h0M1166.5 586.3h0M1195.8 600.2h0M1028.2 649.1h0"/>
<path stroke="#c7c5c8" d="M960.1 310.3h0M904.3 378.8h0M868.9 306.8h0M899.5 254.6h0M915.3 415.4h0M976.1 382.1h0M961.9 240h0M1020.4 353.1h0M939.1 298.8h0M975 388.3h0M1028.6 413.9h0M966.2 365.8h0M937.7 346.1h0M969 430.4h0M892.2 312h0M1029.2 344.7h0M910.7 247.7h0M907.1 253.5h0M1056.9 376h0M1044.1 446h0M1051 404.2h0M896.8 507.7h0M846.2 491.7h0M947 525.5h0M967.5 565.3h0M775.5 501.4h0M879 484.1h0M813.5 483h0M960.4 538.7h0M901.8 571.7h0M984.7 653.3h0M966.5 665.7h0M964 614.8h0M712.7 790.1h0M753.2 744.6h0M778.6 781.8h0M853.7 783.2h0M709.6 751.5h0M776.2 836.1h0M759 697.5h0M738.6 786.6h0M740.3 760.5h0M804.8 784.8h0M744.6 731.1h0M758.6 752.9h0M736.9 768.4h0M703.4 777.9h0M755.2 714.4h0M715 824.4h0M898.5 750.8h0M1282.6 701.8h0M1101.1 809.8h0"/>
<path stroke="#f57b60" d="M1167.8 587.5h0M1183 641.4h0M1088.6 676.8h0M1150.4 634.4h0M1071 734.6h0M1151.2 581.8h0M1131 676.7h0M1074.2 743.6h0M1121 668h0M1142.7 580.4h0M1122 673h0M1073.3 736.3h0M1078.3 695.8h0M1102.3 739.1h0M1218.1 693.3h0M1086.1 634.3h0M1090.6 627.8h0M1148.4 722.2h0M1140 627.2h0M1114.2 669.2h0M1077.6 728.7h0M1182.1 657.3h0M1089.3 748.1h0M1084.6 691.1h0"/>
<path stroke="#f86b4d" d="M1067.8 732.5h0M1094.4 636.9h0"/>
<path stroke="#f77356" d="M1157.3 671.9h0M1126 569.4h0M1091.1 754.7h0M1149.9 685.8h0M1115.6 613.3h0M1185.4 647.4h0M1173.7 752h0M1118.6 734.8h0M1155.6 706.1h0"/>
<path stroke="#ff2510" d="M1103.8 650.2h0"/>
<path stroke="#f28269" d="M719.9 750.7h0M1094.8 631.3h0M1074.9 643.9h0M1221.6 699.2h0M1125.7 630.5h0M1147.6 680.2h0M1114.3 547h0M1064.8 727.1h0M1086.8 732.8h0M1187 634.9h0M1108.3 636.9h0M1058.6 722.8h0M1159.3 634.1h0M1117.8 572.5h0M1220.8 674h0M1142.6 616.1h0M1105.1 644.1h0M1210.1 692.8h0M1123.8 701.3h0M1062.3 702.1h0M1119.3 691.5h0M1077.9 661.2h0M1182.2 742.9h0M1232.5 707.7h0M1121.4 746.8h0M1152 746h0M1210 708.4h0M1173.6 687.2h0M1171.3 581.6h0M1185.2 671h0M1114.1 666.9h0M1112.6 688.2h0M1213.9 701.1h0M1112.3 723h0M1199.4 722.6h0M1161.2 555.6h0M1125.8 698.4h0M1203.1 556h0M1094.5 586.5h0"/>
<path stroke="#e69e8e" d="M946.5 288.1h0M966.6 395.1h0M956.3 261.3h0M874.7 324.1h0M888.9 301.3h0M901.5 283.3h0M861 341h0M880.6 239.3h0M1042.8 352.5h0M1012.5 417.5h0M852.3 314.7h0M1008.9 430.7h0M937.8 279.1h0M958.7 349.1h0M1003 389.4h0M982.9 395h0M962.8 348.8h0M924.9 558.6h0M984 525h0M1000.1 545h0M781.5 545.9h0M888.1 480.7h0M970.2 588.9h0M999.9 576.2h0M895.2 563.5h0M835.5 473.1h0M934.2 666.2h0M961.8 691.3h0M821.6 802.3h0M821.9 815.4h0M826 791.5h0M768.7 830.9h0M757.6 813.5h0M737.8 755.1h0M749.2 821h0M912.5 746.1h0M1111.8 646.2h0M1120.2 563.6h0M1161.7 622.7h0M1095.6 538.7h0M1095.8 609.1h0M1124.9 581.8h0M1161.1 670h0M1123.9 618.6h0M1194.7 744.4h0M1174.8 637.8h0M1152.3 656.8h0M1102.7 585.7h0M1146.4 560.2h0M1081.8 667.7h0M1179.1 563.5h0M1167.5 615.6h0M1072.4 649h0M1070.1 641.7h0M1106.6 692.1h0M1226.8 703h0M1104.7 624.9h0M1112.6 741.5h0M1164.4 670.5h0M1218.7 696.3h0M1222.9 715.9h0M1107.8 680.6h0M1075.9 622h0M1167.2 577.4h0M1097.1 537.8h0M1160 564.2h0M1197.1 720.6h0M1197.8 681.3h0M1232.7 711.4h0M1152.5 582.8h0M1067.4 550.5h0M1176.7 557.4h0M1080.2 662.5h0M1117.5 603.9h0M1159 726.6h0M1214.6 562.4h0M1280.1 679.4h0M1015.5 819.7h0M1209.8 640h0M1254 695.1h0M1260.7 691.7h0"/>
<path stroke="#d9b2ab" d="M934.1 332.1h0M1021.3 413.9h0M1036.6 352.7h0M954.6 352.2h0M982.1 362h0M951 308.1h0M880.4 300.1h0M921.3 268.4h0M1002.6 386.8h0M916.3 288.8h0M1037.9 367.4h0M936.5 309.2h0M909.2 355.5h0M954.6 405.3h0M874.1 385.9h0M926.2 337h0M990.5 371.3h0M914 303.4h0M935.1 290.5h0M981 233.3h0M966.8 463.8h0M923 247.9h0M975.9 237.4h0M917.3 404.2h0M1042.6 467.4h0M989.4 354.2h0M1031.5 425.7h0M881 346.6h0M879.2 366.8h0M983.1 336h0M952.7 261.4h0M913 506.6h0M920.8 454h0M837.9 528.1h0M753.6 525.1h0M904.3 480h0M929.4 556.1h0M867.9 540.7h0M760 522h0M823.4 484.4h0M758.1 549h0M782.8 572.3h0M990.5 515.8h0M991 557.5h0M743.3 543.9h0M791.4 584.5h0M829.4 487.1h0M942.8 540.9h0M961.5 652.8h0M999.2 619.4h0M991.4 637.8h0M939 680.5h0M813 836.3h0M768.2 683.1h0M752 788.9h0M753.2 757.5h0M782 803.4h0M699.7 751h0M748.4 686.7h0M693.3 728.2h0M787.4 709.9h0M773.6 717.3h0M789.5 843.5h0M813.1 852.7h0M748.5 728h0M731.2 705.1h0M869 797.1h0M783.9 802.3h0M736.8 789.1h0M779.2 819.6h0M799.6 746.1h0M773.2 730.7h0M845.4 784.9h0M887.1 753.5h0M1164 567.8h0M1147.6 729.8h0M1090.9 684h0M1124.6 593h0M1164.7 724.7h0M1110.1 559.4h0M1091.5 619.5h0M1099.3 539.4h0M1093.8 534.8h0M1271.9 673.9h0M1304.1 723.5h0M1027.4 818.1h0M1103.5 816.1h0M1071.6 623.9h0"/>
<path stroke="#c7c5c8" d="M892.1 278.6h0M875.5 383.4h0M920.3 259.8h0M1051.9 399h0M913.2 345.4h0M976.9 392.2h0M972.3 277.3h0M1008.5 476.8h0M965.3 384.2h0M991 449.3h0M972.5 385.6h0M975.2 309.2h0M1052.2 368.5h0M1010.9 469.3h0M811.8 550.4h0M966.5 542.3h0M916.9 480h0M910.9 502.9h0M966.3 513.5h0M939.4 519.1h0M909.2 558.9h0M941.2 484.4h0M939.8 706.6h0M744.1 648.3h0M768.6 840.7h0M793.5 820.4h0M831.6 764.9h0M743.8 740.9h0M829.9 799.2h0M768.4 727h0M798.3 840.6h0M1046.4 516h0M1049.9 810h0"/>
<path stroke="#f77356" d="M1071.5 668.6h0M1091.2 749.4h0M1154 691.5h0M1174.9 659.4h0M1090.7 726.2h0M1148.4 623.6h0M1071.7 713h0M1169 642h0M1237 716.3h0"/>
<path stroke="#d4b9b5" d="M982.2 240.9h0M1030.9 406.7h0M912.2 233.5h0M902.9 311.2h0M868.5 382.4h0M915.4 338.8h0M948.2 283h0M976.8 308.2h0M1023.8 458h0M865.3 305h0M989.1 407.1h0M963.2 320.9h0M972 453.8h0M1011.5 451.4h0M842.7 358.5h0M873.2 317.4h0M827.1 364h0M906.8 404.1h0M949.2 363.9h0M1016.1 431.4h0M942.2 361.4h0M864.9 295.4h0M899.2 248.5h0M809 544.6h0M983.6 535.8h0M941.8 528.8h0M923.2 455.4h0M995.6 516h0M903.5 574.8h0M868 446.3h0M749.3 539.2h0M893.3 546.4h0M929.4 609.9h0M956.9 650.2h0M743 801.8h0M692.3 738.4h0M805.1 839.4h0M716.7 783.9h0M757.8 764.7h0M753 797.4h0M779.6 790.5h0M748.1 705.1h0M730.9 742.4h0M737.1 778.6h0M719 740.9h0M756.8 829h0M737.9 694.9h0M726.4 775.1h0M694.5 742.2h0M889.7 774.1h0M1081.3 546.6h0M1133.3 759.7h0M1097.4 585.9h0M1055.1 522.7h0M1275.4 661h0M1298.4 726.7h0M1307.9 673h0M1101 818.8h0M1032.2 498.6h0M1063.8 815.4h0M730.1 670.4h0"/>
<path stroke="#e2a598" d="M905.9 343.5h0M891.3 374.2h0M1026.3 448.7h0M1011.6 334.9h0M947.2 388.6h0M922.6 403.5h0M972.8 365.8h0M915.7 232h0M948.5 307.6h0M917.4 284.2h0M943.1 268.7h0M904.4 270.9h0M934.9 298.7h0M856.6 343.9h0M952.7 229.4h0M890.1 400.3h0M972.5 220.1h0M923.5 401.3h0M911.6 443.3h0M1001.5 474.2h0M875 310.9h0M909 530.4h0M902 480.2h0M884 550.9h0M930.4 486.1h0M767.5 562.3h0M993.2 556h0M883.1 559.8h0M802.6 478.7h0M879.1 546.9h0M919.7 565.1h0M912.4 520.4h0M815.4 533.9h0M965.7 602.6h0M946.9 622.8h0M917.8 657.3h0M808.8 807.6h0M737.5 741.8h0M735.9 833h0M769.3 686.9h0M757.4 803.9h0M685.6 753.1h0M719.6 775.7h0M1108.1 619.8h0M1140.3 578.3h0M1194.5 630.4h0M1121.5 683.8h0M1140.3 734.6h0M1150.7 647.2h0M1187.7 708.6h0M1079.5 684.5h0M1162.5 737h0M1138.7 563.7h0M1242.7 683.5h0M1101.3 621.3h0M1061.5 705.7h0M1128.5 576.9h0M1158.6 593h0M1103.4 661.1h0M1136.3 621h0M1160.5 577.5h0M1077.9 561h0M1237.9 695.1h0M1159.3 720.9h0M1134.5 750h0M1067 705.4h0M1176.6 649.7h0M1125.5 557.1h0M1193.3 622.1h0M1176.5 727.5h0M1211.3 713.2h0M1119.8 659.7h0M1207.9 720.5h0M1097.2 588.8h0M1195.3 714.6h0M1182.9 691.9h0M1120.6 693.2h0M1191.3 736.2h0M1201.2 582.6h0M1197.6 590.3h0M1202.3 552.1h0M1088.8 524h0M1102.3 531.3h0M1077.4 530.4h0M1277.3 665h0M1307.8 691h0M806.5 625.3h0"/>
<path stroke="#ed917b" d="M978.9 245.3h0M905.8 429.6h0M1002.8 466.6h0M951.8 374.2h0M1011.6 426.5h0M868.6 528h0M829.4 520.8h0M938.5 644.2h0M706.3 779.8h0M721.8 772.4h0M731.5 809.5h0M771.8 739h0M1135.2 628.3h0M1175.8 651.5h0M1101.5 751.2h0M1081.7 673.8h0M1152.3 641.8h0M1138 669.5h0M1086.6 609.8h0M1210.4 663.6h0M1163.2 610.2h0M1066.8 702h0M1128.6 601.4h0M1102.3 692.2h0M1087.3 548.7h0M1092 707.2h0M1154.1 638.4h0M1091.2 733.1h0M1088.9 555h0M1107.5 714.2h0M1147.2 628.5h0M1179.3 588.1h0M1170.7 620.1h0M1109.8 625.7h0M1185.4 737.3h0M1093.1 624.8h0M1123.3 666.9h0M1234.9 688.9h0M1166.3 609.4h0M1096.3 715.6h0M1130.7 558.6h0M1101.2 611.4h0M1137.9 755.8h0M1154.9 568.2h0M1172.7 691.5h0M1193.6 713.4h0M1122.7 556.5h0M1106.4 667.7h0M1067.5 671.5h0M1132.3 559h0M1118.8 667.7h0M1095 627.6h0M1141.8 659.7h0M1169.3 746.5h0M1073.8 699.1h0M1125.8 639.9h0M1140.3 595.8h0M1118 686.6h0M1206.5 572.9h0M1212.4 556.1h0M1218 565.6h0M1271.2 709.6h0M1271.6 664.8h0M978.7 734.2h0M1048 494.7h0M1063.8 411.5h0M1054.6 644.2h0"/>
<path stroke="#cdbfbe" d="M926.4 435.6h0M928.2 371.3h0M1031.5 422.5h0M1011.5 422.5h0M911.2 433.9h0M936.4 447.8h0M933 402.6h0M1050.8 430.2h0M903.2 316.4h0M917.8 370.1h0M967.1 313.4h0M894.6 284.8h0M1001.2 395h0M829.8 366.6h0M841.9 317.2h0M967.8 267.9h0M1024.5 449.4h0M1013.3 375.7h0M934.1 297.3h0M1046.1 384.7h0M848.4 337h0M791.4 552.4h0M883.7 553.9h0M918.9 517.9h0M859 495.8h0M927.6 499.2h0M867.5 555.4h0M930.1 466.1h0M910.4 570.3h0M993.9 515.1h0M985.9 546.1h0M928.2 481h0M922.2 629h0M919.8 614.2h0M965.6 674.7h0M971 720.2h0M956.2 609.6h0M952.6 723.5h0M972.3 694.2h0M815.7 780.8h0M773.2 783.4h0M734.3 697.5h0M814.5 822.3h0M744 735.5h0M745.7 832.6h0M751.8 762h0M839.2 835.3h0M833 788.5h0M716.7 791.8h0M708.9 800.8h0M742.5 821.9h0M726.7 765.3h0M863.6 802.2h0M766.4 745.5h0M881.6 756.9h0M1104.4 555h0M1051.2 514.3h0M1076.2 527h0M1273.1 697.3h0M1271.3 657h0M1296.8 695.9h0M1270.2 659.6h0M819.6 732.1h0M1235.3 662h0M1063.9 612.8h0"/>
<path stroke="#f86b4d" d="M1100.5 745.2h0"/>
<path stroke="#deaca1" d="M939.1 410.6h0M967.4 341.3h0M903.7 400.1h0M957.1 258h0M865.4 266.1h0M879.3 325.9h0M889.2 381h0M1043.3 387.7h0M879.1 307.7h0M922.3 262.9h0M938.7 229.6h0M937.8 336.7h0M944.8 247.2h0M876.7 288.6h0M955.2 264.2h0M961.4 312.7h0M1009.4 391.8h0M929.2 315.1h0M900.2 238h0M1000 335.2h0M935.4 374.7h0M1008.2 339.5h0M900 298.4h0M958.7 291.6h0M916.5 336.3h0M1026.9 454.4h0M962.7 418.8h0M814.1 554.9h0M996.4 522.8h0M889.1 452.6h0M879 565.7h0M779.8 516.8h0M881.4 550.1h0M838.1 563.8h0M989 569.5h0M954.8 494.1h0M819.8 567h0M908.9 533.6h0M960.6 550.8h0M807.9 559.9h0M966.5 545.7h0M935 532.2h0M826.3 547.8h0M953.9 623.2h0M919.8 615.8h0M937.8 625.6h0M934 644.5h0M933 660.3h0M940.7 604.5h0M854.4 809.4h0M818.7 779.5h0M880.4 787.2h0M745.5 836.6h0M755.1 804.6h0M747.2 840.6h0M731.9 748.2h0M768.5 736.5h0M744.3 726.4h0M734.9 823.8h0M793.6 766.2h0M718.7 779.2h0M793.6 772.8h0M759.7 773.8h0M853.7 803.5h0M719.2 733h0M778.9 719.8h0M729.8 805.5h0M793.5 768.9h0M739.8 831h0M765.2 742.6h0M759.7 707.8h0M1122.5 581h0M1075.8 548h0M1104 673.7h0M1218.2 711.2h0M1132.1 641.2h0M1094.6 677.2h0M1146.2 661.5h0M1229.3 697h0M1084.2 537.7h0M1073.6 706.5h0M1088 539.8h0M1105.3 549.1h0M1176 692.6h0M1168.9 748.9h0M1192.1 714.3h0M1170.9 733.6h0M1120.1 690h0M1124.4 629.5h0M1122.9 578.6h0M1271 649.4h0M1306.9 701.5h0M1079.4 813.9h0"/>
<path stroke="#f57b60" d="M1083.6 727.3h0M1131.2 628.4h0M1078.5 725.3h0M1127.2 740.7h0M1129.9 560.2h0M1114.9 731.7h0M1200.8 705.8h0M1112.7 733.6h0M1088.6 560h0M1129.3 649.8h0M1204.1 665.1h0M1155.2 655.3h0M1176.1 631.7h0M1067.4 710.9h0M1064.7 721.6h0M1195.9 728.4h0M1092.3 652.8h0M1117.9 594.7h0M1123 741.3h0M1166.5 683.2h0M1136.5 678.3h0M932 759.1h0"/>
<path stroke="#ea9885" d="M1022.6 396.7h0M934.3 242.8h0M927.1 260.7h0M907.3 374.2h0M836.1 361.3h0M867.3 274.9h0M1029.6 395.6h0M907.1 341.9h0M951 378.7h0M974.4 535.5h0M847.8 459.1h0M937 538.1h0M920.5 639.8h0M914.1 646.5h0M841.5 828.9h0M836.4 821.4h0M815.3 755.4h0M717.8 815.3h0M808.3 815.6h0M780 770.8h0M1154.5 687.8h0M1151.9 750.7h0M1166.1 685.7h0M1075.1 559.4h0M1158.1 585.4h0M1086.3 602.4h0M1082 561.4h0M1188.5 624h0M1218.7 700.2h0M1127.9 701.9h0M1068.5 719.6h0M1175.7 569.6h0M1081.4 689.8h0M1240.7 708.5h0M1167.6 701h0M1116.1 657.3h0M1195.4 726.5h0M1082.8 552.3h0M1209.7 739h0M1077.4 639.5h0M1206.9 689.4h0M1185.7 726.4h0M1230.1 708.6h0M1116.4 647.3h0M1130.2 730.8h0M1100.5 554.2h0M1205.6 737.7h0M1150.2 642h0M1108.8 741.7h0M1184.5 697.4h0M1179.6 599.7h0M1172.1 651.6h0M1158.5 655.2h0M1093.9 717.8h0M1105.8 559.8h0M1161.4 734.5h0M1147.8 637.7h0M1179.6 735.3h0M1105 536.9h0M1184.7 652.5h0M1143.1 705.9h0M1112.4 693.3h0M1144.3 618.9h0M1105.2 705.6h0M1182.6 723.7h0M1073 558.3h0M1149.6 604.8h0M1151 564.7h0M1113.9 691.7h0M1109.4 726.5h0M1223.5 674h0M1127.1 632.7h0M1200.5 695h0M1117.4 677.9h0M1159.1 667.2h0M1088.7 578.8h0M1096.6 582.5h0M1191.8 720.4h0M1089 561.8h0M1204.9 560.8h0M1219.2 567h0M1214.2 553.8h0M1205.7 587.4h0M1210.7 588h0M1209.6 545.9h0M1066.5 530.7h0M1268.7 705.8h0M1087.9 822.7h0M1022.3 655h0M1040.1 662.9h0M1050 684.7h0M810.5 657h0M774.8 609.5h0M893.6 595.6h0M881.7 599.6h0M983.9 272.1h0M1137.7 541.6h0M1237 622.2h0M1226.8 651h0M1204.8 625.6h0M1247.2 700.2h0M1041.9 662.9h0M1048.7 684.9h0M1068.2 575.5h0"/>
<path stroke="#d9b2ab" d="M883.8 360.2h0M964.9 445.6h0M1025.7 397.7h0M939.6 302.6h0M904.7 281.4h0M949.6 335.6h0M1035.8 437.9h0M1032.9 419.8h0M997.7 413.6h0M951.7 209.3h0M968.3 328.5h0M880.8 378.7h0M989.3 491.3h0M1044.5 415.7h0M926.5 406.2h0M939.7 255.2h0M941.4 306.8h0M871.7 254.7h0M971.9 253.5h0M955 208.4h0M937.6 391.9h0M952.5 269.3h0M965.1 209.6h0M858.7 340h0M824.2 352.7h0M953.6 251.8h0M1014.6 418.1h0M932.6 234.7h0M857.7 308.4h0M959.4 308h0M966.7 250.2h0M898.2 275.6h0M772.8 501.8h0M803.9 554.2h0M880.3 485.5h0M904.3 566.1h0M906 512.3h0M800.7 543.4h0M897.7 477.9h0M779 519.5h0M800.4 509.2h0M918.7 572h0M927.4 519.4h0M807.3 491.3h0M899.9 456.6h0M838.7 515.8h0M816.5 510.8h0M915.6 510.4h0M888.2 555.7h0M966.8 487.7h0M814.3 498.7h0M914.1 652.8h0M917.7 632.7h0M934.3 613.2h0M908.1 592.1h0M906.6 652.2h0M982.6 615.6h0M746.1 631.9h0M782 766.8h0M779.7 742.5h0M713.4 754.9h0M784.7 850.7h0M837.4 802.9h0M774 694h0M723.4 782.7h0M718.3 735.3h0M737.6 831.9h0M792.9 805h0M739.9 755.5h0M886.9 751h0M1180.2 718.3h0M1120.2 638.3h0M1106.1 529.6h0M1277.3 704.5h0M1263.6 652.3h0M1276.6 677.3h0M1021.7 822.3h0M1099.9 820.7h0M1089.3 825h0M1092.3 826h0M745.3 672.9h0M1066.5 693.4h0"/>
<path stroke="#e69e8e" d="M978.1 374.8h0M1004.3 437.8h0M852.1 357.9h0M919.8 275.1h0M900.2 430.9h0M929.9 383.8h0M956.7 342h0M886.7 316.9h0M985.8 441.5h0M950.9 357.4h0M862.3 232.3h0M987.1 485.5h0M937.4 220h0M970.5 378.3h0M871.6 386.3h0M880.5 389.2h0M894.9 321.6h0M899.1 301.8h0M995.8 405.1h0M993 508.6h0M966.1 539.9h0M762.7 553h0M768.7 587.9h0M958.9 615.8h0M725.9 820.1h0M780 798.5h0M822.2 840.6h0M712 739.3h0M738.7 800h0M788.1 819h0M774.8 721.8h0M832.3 812.4h0M829 821.3h0M1185.5 674.1h0M1112 695.2h0M1083.2 743.6h0M1164.7 678.7h0M1101.7 589.4h0M1078 672.8h0M1102 695.5h0M1127.4 709.8h0M1089.2 634.8h0M1112.1 610.6h0M1105.2 642.4h0M1210.1 735.8h0M1126 547.8h0M1181.7 650.8h0M1164 558.1h0M1130.2 736.4h0M1107.8 612h0M1120.1 597.6h0M1191.6 697.7h0M1155.6 635.8h0M1118.5 696.3h0M1089.7 541.2h0M1125.8 646.7h0M1107.6 686.4h0M1164.4 665.1h0M1075.5 693.6h0M1185.6 621.7h0M1158.3 678.8h0M1204.7 673h0M1101.4 675.6h0M1151.1 579.7h0M1146.6 726.1h0M1098 610.4h0M1132.2 576.9h0M1195.9 730.7h0M1104.6 620.9h0M1126.1 718.6h0M1117.9 542.4h0M1109.6 660.2h0M1098.1 584.2h0M1120 730.4h0M1188 676.6h0M1154 748.2h0M1091 705h0M1100.4 711.8h0M1080.5 615.5h0M1080 642.4h0M1081.1 602.6h0M1159.7 574.9h0M1082.8 702.9h0M1217.6 546.4h0M1210.8 571.8h0M1072.3 508.3h0M1276.9 715.5h0M1272.1 700.3h0M1276.8 726.7h0M1075.8 599.3h0M1033.4 703.6h0"/>
<path stroke="#f28269" d="M910.5 276.1h0M955.8 218.5h0M953.5 206.4h0M1194.7 719.3h0M1221 688.8h0M1125.3 565h0M1110 744.1h0M1183.4 690.3h0M1161.5 567.5h0M1078.2 691.8h0M1092.8 562.7h0M1119 618.7h0M1072 680.5h0M1086.6 695.2h0M1061.4 723.5h0M1155.6 584.2h0M1090.6 723.4h0M1097.1 667.7h0M1088.7 749.7h0M1170.6 616.7h0M1181.3 678.5h0M1172.7 706.2h0M1085.3 727.2h0M1212.7 725.1h0M1073.4 692.6h0M1180.6 622.5h0M1092.7 753.6h0M1084.8 739.3h0M1105.3 629.9h0M1079.3 654.2h0M1171.4 653.3h0M1205.7 668h0M1161 721.1h0M1144.4 683.6h0M1187.8 579.7h0"/>
<path stroke="#bfccd2" d="M865.9 328.4h0M906 229.1h0M898.2 361.1h0M871.1 319.7h0M992 444.4h0M1012.5 483.6h0M960.4 275.5h0M1034 372.9h0M934.4 423h0M858.3 351h0M967.7 259.6h0M859.3 308.5h0M988.6 442h0M965.3 206.3h0M864 307.9h0M987.6 333.4h0M934 280.4h0M987.1 436.7h0M845.6 361.4h0M984.2 402.2h0M937 287.9h0M985 405.2h0M942.6 311.5h0M1020.3 355.5h0M913.6 359.4h0M924.3 229.9h0M990.5 507.5h0M794.5 484.3h0M921.4 498.7h0M906.2 530.8h0M864.2 497.8h0M1002.8 593.2h0M827 483.2h0M983.4 598.1h0M884.8 542.7h0M862.1 458.1h0M919.2 515.6h0M769.1 506.8h0M948.2 685.5h0M931.3 595h0M938.4 678.8h0M810.1 794.8h0M859.3 811.4h0M746.2 758.1h0M795.9 781.8h0M829.9 767.2h0M761.1 745.2h0M763.7 749.2h0M693.5 726.2h0M774.7 743.8h0M1265.5 687.4h0M1296.8 687.4h0M1275.5 716.8h0"/>
<path stroke="#f08a72" d="M980.3 429.9h0M990.6 421.1h0M773.9 697.1h0M764.9 758.7h0M1205.5 742.6h0M1130.4 644.4h0M1142.3 749.8h0M1166.6 659.6h0M1136.2 601.9h0M1085.3 699.5h0M1184 654.9h0M1182.3 729.6h0M1157.8 617.2h0M1174.1 603.6h0M1192.1 630.7h0M1169.4 621h0M1135.3 668.7h0M1078.3 638.2h0M1226.6 670h0M1113.8 635.4h0M1112.5 637.9h0M1131.9 703.4h0M1098.3 646h0M1120.2 581.8h0M1204.3 711h0M1156.1 618.4h0M1174.3 728.5h0M1152 672.9h0M1209.4 690.5h0M1168.5 652.9h0M1122.8 632.9h0M1210 727.1h0M1127.8 605.5h0M1178.3 726.9h0M1078.7 733.4h0M1201.7 734.8h0M1125.4 662.8h0M1116.3 664.5h0M1190.8 667h0M1132.4 573.9h0M1145 671.7h0M1143 569.9h0M1113.1 750.8h0M1173.1 746.4h0M1114.9 593.6h0M1190.8 718.9h0M1166.5 723.2h0M1196.3 618.3h0M1183.6 720.1h0M1102.1 753.6h0M1175.5 590.1h0M1170.4 750.7h0M1104.3 592.1h0M1211.1 580.1h0M990.6 720.3h0"/>
<path stroke="#add8e6" d="M880.5 327.9h0M1021 456.5h0M940 365.1h0M943.7 303.5h0M1001.6 371.2h0M1053 422.9h0M886.5 373.2h0M880.9 307.5h0M1003 457.9h0M976.3 473.4h0M991 355.1h0M910.9 438.8h0M916.2 227.8h0M1010.7 456.7h0M945.6 419.6h0M930.6 365.7h0M851.9 296.8h0M924.4 375.1h0M894.1 264.3h0M824.4 350h0M1058 395.5h0M831.2 350h0M952.5 435.9h0M1009.4 462.4h0M962.5 451h0M935.1 275.9h0M907.7 421.9h0M900.8 396.4h0M931.3 424.7h0M943.7 298.5h0M948 299.8h0M988.1 411h0M978.2 416.8h0M837 357.7h0M941 298.4h0M987.8 368.7h0M891.1 240.9h0M949 446.7h0M900.5 306.8h0M933.3 433.1h0M1023.2 345.9h0M942.2 365.3h0M1034.4 412.1h0M957.7 358.5h0M950.9 437h0M989.1 366h0M1025.9 452.7h0M952.5 307.4h0M922.6 330.9h0M943.7 445.6h0M999 357.1h0M958.1 435.6h0M907.6 238.4h0M1013.7 477.6h0M994 459.4h0M983.4 414.7h0M1018.8 369.5h0M899.3 377.3h0M1041.1 452.9h0M981.8 422h0M986.1 326.7h0M855.3 349.9h0M1010.7 410.4h0M869.8 240.9h0M913.5 331.7h0M904.2 411.1h0M895.5 272.3h0M1019.1 414.3h0M929.1 342.1h0M950.8 449.7h0M967.5 373.1h0M892.7 349.4h0M939.5 439.4h0M1021.4 392.4h0M907.1 283.1h0M1006.2 355.8h0M1001 484.9h0M988.4 381.8h0M913.3 391.6h0M850.6 308h0M1034.7 383.6h0M932 453.1h0M1037.7 400h0M837.1 366.6h0M938.8 252.1h0M830.4 343.3h0M995 467.5h0M958.8 254.5h0M941.6 379.9h0M867.5 255h0M991 392h0M1045.2 431.3h0M944.5 284.4h0M848.9 306h0M894 359.3h0M951.1 324.8h0M971.7 417.4h0M882.3 368.3h0M1051.1 363.9h0M998.7 468.4h0M935.2 247.6h0M976.8 319.1h0M1008.5 443.9h0M1000.5 431.1h0M919.7 222.2h0M973.5 332.3h0M969.9 406.6h0M892.8 383.7h0M940.3 239.8h0M844.5 354.9h0M929.1 326.4h0M970.4 441.8h0M868.3 351.9h0M924.1 439.7h0M859.9 346.2h0M917.5 238.9h0M841.5 364.4h0M964.8 350.2h0M830.7 359.7h0M925.7 431.9h0M939.4 466.8h0M929.8 321.9h0M975.8 328.8h0M841 352.1h0M903.7 224.7h0M887.1 380.4h0M964.6 294.3h0M875.3 322.5h0M999.9 365.9h0M1030.7 446.4h0M964.3 391.7h0M892.4 404.9h0M1012.6 487.5h0M1026.1 429.6h0M923 282.8h0M978 481.3h0M965.4 338.7h0M839 315.1h0M967.4 375.8h0M916.5 292.4h0M930.4 236.3h0M896.5 388.4h0M903.7 305.3h0M893.9 401.2h0M957.5 423.5h0M940.5 422h0M911.5 301.7h0M984.1 399.6h0M883.4 409h0M1021.4 390.3h0M874.8 358h0M896.7 319.1h0M1030.2 362.4h0M984.9 464.8h0M965.7 291.1h0M880.9 290h0M1021.9 485.4h0M1046.6 375.9h0M952.1 455.6h0M958.7 314.1h0M935.4 413.1h0M856.7 362.6h0M922.8 392.8h0M1010.4 379.3h0M988.4 403.5h0M943.7 399.6h0M904 242.1h0M924.5 445h0M994 366.1h0M885 332h0M884.4 247.8h0M996.4 482.7h0M1034.6 427h0M898 365.7h0M989.5 340.8h0M931.7 309.6h0M845.9 341.2h0M1009.9 393.5h0M1010.6 464h0M857 347h0M995.2 339.5h0M980.1 343.2h0M1004.8 357.5h0M904.3 275h0M951.8 412.2h0M894.5 365.4h0M936.1 385.2h0M958.7 316.3h0M956.3 297.2h0M911.1 245.3h0M1000.7 392.9h0M909.1 249.8h0M970 429h0M919.1 237.1h0M980.9 487.9h0M945.4 275.7h0M915 346h0M993 354.8h0M1033.1 440.4h0M969.8 326.9h0M921.2 397.2h0M1006.4 343.5h0M907.9 274.9h0M901.1 379.4h0M829.3 318.7h0M1052.6 371.9h0M936.2 445.4h0M934.5 379.5h0M938.9 295.5h0M921.4 312h0M909.2 318.6h0M1048.2 352.2h0M976.7 429.9h0M989.6 455.2h0M936 321.2h0M1029.3 411h0M892.1 319.5h0M950.6 351.4h0M967.8 290.8h0M916.6 570.2h0M926.9 532.4h0M959 535.1h0M868.1 465.9h0M853.3 582.8h0M940.3 516h0M804.9 530.6h0M806.9 567h0M903.6 453.1h0M761.2 525.7h0M913 484.4h0M773.6 563.8h0M844.9 497h0M891 516.8h0M921.7 536.9h0M851.1 541.3h0M988.6 584.3h0M814.4 543.5h0M767.8 571.7h0M989.7 558.9h0M826.4 541.2h0M915.3 537.9h0M873.4 585.2h0M820.7 540.9h0M886.6 544.6h0M833.8 538.7h0M985 561.6h0M876 500h0M804.3 561h0M848.4 592.7h0M915.6 533.9h0M942.7 507.8h0M862 511.4h0M936.4 492.1h0M830.6 560.8h0M833.3 487.5h0M983.1 577.1h0M920.9 487.8h0M928.2 488.2h0M881.3 474.6h0M820.9 558.1h0M793.1 569.2h0M997.4 541.3h0M980.8 530h0M887.2 512.7h0M897.3 562.2h0M850.6 459.4h0M836.8 493.6h0M968.6 525.6h0M885.8 515.4h0M774.2 573.4h0M910.8 574.4h0M815.4 489.9h0M868 591.7h0M823.8 534.8h0M876.1 527.6h0M964.8 527.3h0M841.6 529.1h0M905.8 510.3h0M858.3 524h0M899.1 475.2h0M950.5 480.2h0M987.2 576.5h0M831.7 549.7h0M859 489.4h0M956.9 485.4h0M997.6 514.5h0M854.7 584.7h0M759.2 558.6h0M804 564.3h0M902.4 520.4h0M886.5 486.1h0M820.4 528.5h0M836.1 535.4h0M757.4 540.5h0M972 588.2h0M904.5 505.2h0M966.3 516.4h0M787.9 539h0M815.6 514.8h0M910.8 495.8h0M962.7 544.1h0M947 528.1h0M969.2 508.4h0M1008.9 523.5h0M922.4 553h0M851.3 568.3h0M950.9 536h0M796.8 566.5h0M935.8 566.9h0M852 522.9h0M994.5 557.7h0M908.4 579h0M867.5 573.4h0M893.3 544.7h0M913.4 500.2h0M878.8 447.3h0M757.7 529.6h0M911.8 518h0M798.2 554.1h0M808.7 510.9h0M758.3 532h0M919.3 478.4h0M945.8 496.9h0M944.2 562.1h0M773.1 567.8h0M839.3 540.9h0M827.3 563.2h0M890.5 498.1h0M862.3 514.3h0M877.6 599h0M927.1 549.5h0M889.8 573.9h0M759 539.6h0M977.8 583.2h0M886.2 499.6h0M966.2 522.1h0M785.7 539.7h0M807.1 574.6h0M780.8 529.9h0M861.7 527.6h0M886.7 465h0M994.2 500.5h0M890.4 533h0M953.2 584.1h0M1008.9 525.9h0M926.5 507h0M879.7 465.8h0M942.5 580.9h0M770.1 561.2h0M832.3 509.2h0M962.7 551.1h0M857.3 541.1h0M882 528.9h0M846.6 568.7h0M887.2 534.6h0M834.8 547.6h0M953.2 523.6h0M774.5 567h0M892 528.7h0M867.4 463.7h0M823.3 560.7h0M872.3 480.3h0M865 517.9h0M877.9 543.7h0M845.2 529h0M957 504.5h0M962.9 527.5h0M892.6 503.3h0M985.7 543.8h0M942.2 487.7h0M895.1 548.2h0M957.6 582.8h0M994.1 498.8h0M944.9 533.8h0M797.7 549.6h0M922 511.9h0M911.8 516.4h0M843.7 488.5h0M986.8 495.3h0M979.3 553.2h0M890.3 489.9h0M936.8 571.4h0M839.6 500.6h0M836.9 525.4h0M898.4 525.6h0M818.3 559.6h0M929.8 538.5h0M816.2 530.3h0M958.9 537.4h0M923.3 540.8h0M929.1 519.4h0M850.8 538.6h0M901.3 499.4h0M886.8 521.6h0M1015.8 595.5h0M939.8 577.4h0M904.4 466.7h0M858.5 484.3h0M909.9 489.9h0M847.5 516.9h0M956.6 546.8h0M880 459.5h0M947 521.9h0M861.7 479.1h0M886.3 489.7h0M907.4 574h0M993.1 497.1h0M852.6 475.6h0M929.2 550.5h0M881.4 514.4h0M874.4 578h0M975.7 522.8h0M868.4 494.5h0M788 580.1h0M868.4 509.4h0M869.9 589.6h0M1011.8 544.1h0M918 508.4h0M851.1 492.4h0M799.7 555.4h0M998.9 562.6h0M816.4 527.7h0M864.5 457.4h0M897 511.9h0M908 485.2h0M915.8 531.5h0M833.9 566.1h0M874.4 588.1h0M986 574.9h0M796.9 517.1h0M793.5 545.2h0M897.7 456.4h0M859.1 534.5h0M908.4 502.8h0M854.4 495.1h0M849.9 498.6h0M820.3 496.3h0M790.4 538.7h0M774.7 530.3h0M908.2 492.1h0M939.9 688.1h0M956.4 724.5h0M975.4 651.8h0M931.8 718.5h0M921 625.4h0M926.7 701.5h0M951 633.6h0M947.7 683.7h0M954.5 685.8h0M966.8 719.6h0M973.2 664.5h0M1001.7 608.3h0M979.2 632.9h0M935.4 631.8h0M955.2 718.4h0M948.1 657.2h0M928.8 654.1h0M914.2 609.7h0M941.5 591.1h0M930.3 631.2h0M942.6 680.8h0M952 649.3h0M970.8 725.2h0M920.3 618.4h0M968.2 717.2h0M941.5 673.1h0M945.7 596.4h0M955.9 632.1h0M945 699h0M972.5 618.6h0M956.7 681.7h0M924.8 628.4h0M954 625.3h0M964.2 612.6h0M928 627.9h0M925.2 720.6h0M938.5 701.3h0M937.5 612.8h0M921 662.1h0M932 629.8h0M985.5 613.9h0M930.6 721.4h0M1004.3 615.4h0M940 737.7h0M966.9 629.5h0M932.7 652.4h0M918.3 706.1h0M974.4 634.2h0M963.2 647.6h0M950.8 599h0M973.3 655.3h0M987.9 621h0M963.4 666.2h0M980.2 618.1h0M930 705.1h0M952.5 647.1h0M928.5 681.8h0M947.4 714.7h0M964 643.7h0M960.2 632.7h0M746.3 637.9h0M750 636.2h0M758.4 633.6h0M771.2 634.6h0M744.7 814.5h0M769.3 690.3h0M796.1 809.5h0M776.4 800.1h0M791.4 806.6h0M803.3 813.1h0M749.9 704.7h0M787.6 716.3h0M734.4 760.6h0M724.8 739.6h0M728.2 787.2h0M762.3 785.1h0M761.4 751h0M824.1 816.4h0M735.6 776.8h0M767.4 834.9h0M862.3 794.3h0M841.2 779.2h0M792.3 811h0M882.8 760.8h0M726.1 696.6h0M819 785.7h0M741.8 741.2h0M810.6 768.6h0M780 815h0M833.5 793.1h0M747.7 771.4h0M863.8 777.8h0M748.3 723.5h0M764.1 810.6h0M771.3 760h0M835.8 796.9h0M773.3 683.1h0M705.4 755.1h0M773.3 780.4h0M851.7 775.6h0M837.6 763.3h0M775 724.4h0M802.5 724h0M794.8 811.9h0M781.3 754.9h0M729.7 779.4h0M734 702h0M777.2 773.8h0M701.2 718.1h0M709 749h0M786.1 802.3h0M807.2 750.3h0M765.7 682.8h0M756.5 839.1h0M801.7 808.5h0M805.4 825.2h0M814.8 828.2h0M721 819.6h0M859.8 804h0M847.7 774.7h0M841.4 790.6h0M789.5 782.5h0M870.3 788.1h0M737.7 729.3h0M806.6 847.4h0M818.4 747.4h0M843.4 790.5h0M787.6 831.8h0M786.8 777.5h0M760.2 740.1h0M836.2 793.7h0M808.6 769.6h0M756.1 720.3h0M849.5 772.8h0M733.3 705.8h0M794.3 718.9h0M777.8 776.6h0M780 779.9h0M764.4 832.2h0M775.6 787.4h0M768.6 799.3h0M723.8 810.5h0M858.9 779.9h0M816.9 816.5h0M806 845.8h0M710.2 768.1h0M773.1 749.7h0M746 768h0M730.4 837.1h0M775.3 748.4h0M696.5 723.6h0M864.8 775.4h0M739.6 723.1h0M682 739.4h0M789.6 718.6h0M725.9 691.6h0M795 713.3h0M848.1 791.1h0M799.9 796.1h0M721.6 710.9h0M770.6 715.9h0M742.8 771h0M782.3 731.6h0M818.3 803.3h0M753.3 748.3h0M890.9 772.3h0M1111.1 587.8h0M1147 566.2h0M1127.7 725h0M1137 589.8h0M1129.1 578.8h0M1088.4 616.9h0M1147.1 591.7h0M1030.9 502.4h0M1056.8 531.8h0M1067.1 520.6h0M1303.3 671.5h0M1291.1 703.5h0M1292.6 661h0M1293.9 675h0M1284.8 679.1h0M1290.1 671.7h0M1299.7 688h0M1288.9 654.5h0M1287.3 715.2h0M1296.5 704.9h0M1285 680.8h0M1285.1 724.9h0M1305.4 719.7h0M1295.4 692.3h0M1022.2 817.8h0M1103.2 813.4h0M1107 808.1h0M840.1 399.6h0M827.2 754.9h0M1250.6 640.8h0"/>
<path stroke="#bfccd2" d="M1051.7 389.6h0M975 453.6h0M873.2 307.7h0M888.1 401.1h0M942.3 383h0M847.5 367.6h0M1036.1 407.8h0M1063.9 393.5h0M906.6 256.1h0M927.2 332.5h0M947.6 348.5h0M951.2 381.1h0M932.2 390.1h0M1009.4 385.7h0M871.3 343h0M1051.3 353.9h0M956 433.4h0M952 443.5h0M893.6 258.1h0M844.8 530.9h0M986.4 582h0M976.9 493.1h0M794 563.1h0M889 535.3h0M935.3 490.2h0M962.7 516.2h0M993.1 535.1h0M877.5 470.8h0M768.5 532.4h0M789.2 567.7h0M955.6 604.7h0M915.3 643h0M949 723.2h0M755.8 706.3h0M752.3 772.1h0M761 738h0M816.3 808.8h0M855.8 788.4h0M682.6 730.5h0M1041.1 512.8h0"/>
<path stroke="#d9b2ab" d="M952.2 215.3h0M840.3 346h0M1027.7 397.4h0M987.6 458.9h0M946.5 390.9h0M949.1 232.8h0M1000.5 434.7h0M1021.3 403.9h0M1015.8 411.8h0M1000.6 379.7h0M931.8 343.4h0M1023.7 351.2h0M878.6 317.2h0M876.5 256.5h0M925.4 377.6h0M875 363.3h0M1047.9 390.8h0M972.8 324.9h0M1007.2 449.4h0M940.5 408.6h0M963.5 309.9h0M954.6 390.9h0M957.1 396.3h0M933.2 362.7h0M893 322.6h0M1035.9 396.3h0M1032.7 403.2h0M989.3 351.6h0M981.9 447.3h0M929 248.2h0M978.7 412.9h0M951.3 218.8h0M931.2 255.9h0M980.7 568.1h0M974.2 586.3h0M806.1 554.2h0M767.8 523.5h0M897.7 493.9h0M751.9 572.6h0M860.4 532.1h0M909.3 548.1h0M968.8 543.1h0M882.3 472.4h0M803.5 487.9h0M1012.3 592.4h0M953.1 719.8h0M984.6 620.1h0M939.8 613.2h0M964.6 654.8h0M983 602.3h0M911.5 611.3h0M971.6 638.8h0M815.1 803.8h0M838.7 805.8h0M813.4 755.7h0M773.8 752.5h0M714.1 767.4h0M791.7 719.7h0M802.4 776.7h0M843.3 774.1h0M812.4 828.2h0M843.4 815h0M807.7 747.3h0M762.2 798.9h0M815.9 797.3h0M744.1 811.4h0M752.9 746.3h0M827.4 823.4h0M744.6 819.8h0M772.5 729.2h0M812.7 762.3h0M763.8 686.2h0M728.2 739.8h0M756 749.7h0M890 758.6h0M1128.5 747.4h0M1093.2 557.8h0M1191 602.5h0M1116.1 600.1h0M1161.2 584.2h0M1154.4 694.8h0M1166.9 669.5h0M1093.5 664.7h0M1151.5 718.1h0M1159.4 705.7h0M1112.8 565.9h0M1283.6 670.2h0M1093.8 815.3h0M729.3 656.9h0M1068.2 703.6h0"/>
<path stroke="#deaca1" d="M1039.2 450h0M942.8 416.4h0M857.8 311.6h0M873.2 332.5h0M919.8 405.6h0M973.7 226.5h0M914.6 287.3h0M851.9 294.9h0M880.2 363h0M1005.3 478h0M898.5 371.7h0M878.7 274.2h0M851.9 334.5h0M951.9 440h0M928.9 446.8h0M985.6 437.3h0M910.7 254.5h0M840.6 338.8h0M930.4 225.2h0M966.9 283h0M956.8 413.9h0M1028.9 480.6h0M959 339.8h0M1034.8 378.9h0M899.7 440.8h0M884.2 389.6h0M906.7 287.9h0M820.3 523.6h0M867.7 557.7h0M994.2 502.4h0M892.9 538.8h0M817.9 509.4h0M902.3 540.7h0M825.3 482.7h0M881.4 446.8h0M757 542.8h0M944.7 541.6h0M964 529.5h0M921.1 457.9h0M982.9 584h0M936.3 556.2h0M877 472.5h0M887.2 577.1h0M849.3 572.4h0M770.7 525.7h0M885 578h0M981.9 699.5h0M947.6 620.6h0M990.2 612.1h0M753.6 656.3h0M750.6 825h0M744.4 800.9h0M779 813.1h0M783.9 779.3h0M761 709.5h0M746.9 824.1h0M833 841.2h0M715 785.2h0M742.3 786h0M781.3 737h0M813.8 751.9h0M1198 632.2h0M1143 686.4h0M1146.9 642h0M1135.2 626h0M1105.4 564.3h0M1146.6 676.2h0M1214.7 718.8h0M1145.5 580.4h0M1117.9 568.6h0M1126 567.5h0M1109 547.1h0M1106.1 592.2h0M1156.7 686h0M1101.6 576h0M1193.4 645.8h0M1102.6 623.9h0M1086.2 622.2h0M1052.8 513.2h0M1302.6 675.6h0M1114.9 799.9h0M1012.4 550.1h0M844.1 770.9h0"/>
<path stroke="#add8e6" d="M821.9 357.3h0M909.1 408.7h0M1059.6 363.9h0M889.5 292.6h0M1045.4 350.5h0M983.3 316.1h0M1007.6 487.9h0M953.5 299.3h0M889.5 260.2h0M835.4 351.9h0M864.5 322.9h0M975.8 221.5h0M877.6 315.4h0M970.6 395.4h0M1038.2 341.6h0M886 384.1h0M953.7 241.5h0M937.1 296.8h0M958.9 433.6h0M969.6 452.8h0M860 294.4h0M870.8 359.8h0M831.7 364.7h0M941.9 398.1h0M927.1 284.1h0M891.1 329.1h0M907.4 363.1h0M987.4 372.1h0M916.4 355.6h0M892.5 394.7h0M985.3 492.3h0M989.3 415.8h0M903.9 362.3h0M907.8 439.4h0M980.3 359.6h0M867.6 279.9h0M986.6 403.6h0M863.4 304h0M944.5 349.8h0M968.6 446.2h0M1007 385.9h0M1011.7 396.7h0M967.2 253h0M1024.3 349.3h0M895.1 412.2h0M934.8 315.6h0M911.1 436.4h0M858.1 342.9h0M1031.3 409h0M1032.4 376.3h0M1013.9 360h0M992.4 342.4h0M872.4 247.8h0M1022.1 364.1h0M889.7 280.5h0M1003 352.6h0M1062.9 400.2h0M941.9 389.9h0M925.2 299.8h0M1033 360.4h0M900.7 352.1h0M831 348.1h0M996.8 381.1h0M935.2 437.6h0M960.3 314.3h0M965.5 375h0M998.5 432.9h0M950.2 340.6h0M990.4 342.5h0M1005.8 359.2h0M904 289.5h0M960.9 292.7h0M993 416.6h0M910.6 441.3h0M940.6 433.5h0M965.5 280h0M1001.5 388.9h0M858.6 303.8h0M1028.2 445.7h0M967.6 422.1h0M942.6 401.7h0M1047.5 367.1h0M892.5 380.5h0M961.3 436h0M992 334.3h0M950.9 394.7h0M891.7 269.4h0M1033.3 371.4h0M1036.7 361.6h0M969.3 284.7h0M990.4 433.6h0M837.7 372.8h0M958.5 324.7h0M1022.7 460.8h0M909.6 360.6h0M1020.1 449.4h0M917.8 438.4h0M1018 365.7h0M954.8 378.6h0M959.2 417.3h0M973.3 230.3h0M960.1 386.7h0M981.3 435.5h0M1016.4 468.7h0M1025.9 384.2h0M892.9 396.7h0M1037.2 389.8h0M917.8 298.9h0M1061.8 375.5h0M998.4 338.9h0M990.1 446.7h0M933.2 217.4h0M946.6 234.4h0M938.4 400.4h0M984 376h0M955.8 436h0M1016.3 358.5h0M899.1 284.2h0M973.4 228.3h0M973.6 239.2h0M906.4 370.3h0M1044.1 411.2h0M981.4 372.2h0M976.5 420h0M1036.7 402.8h0M1027.4 416.1h0M966.3 238.4h0M961.9 268.5h0M886.2 288.4h0M886.2 378.4h0M901.1 324.5h0M917.5 353.1h0M823.6 355.8h0M1013.3 387h0M998.9 496.1h0M932.5 223.6h0M1050.3 378h0M1054.8 421.3h0M909.6 305.7h0M1040.6 445.6h0M1000.3 497.9h0M910.3 410.3h0M1001.5 364.3h0M942.8 328.9h0M978 407.9h0M968.3 243.6h0M991.8 383.8h0M933.9 401.2h0M1004.7 496.9h0M934.1 350.3h0M945 354h0M983.5 327.7h0M1021 444.4h0M982.7 347.3h0M939.7 336.9h0M1007.9 452.8h0M992 375.3h0M882.2 263h0M935 430.6h0M824.2 366.5h0M902.3 350.6h0M966.7 359.4h0M874 314.6h0M1025.2 395.5h0M891.7 266.9h0M981.4 345.6h0M910.9 416.7h0M820.7 355.3h0M997 403.4h0M939.9 385.9h0M944.2 256.1h0M951.6 320.3h0M1046.6 443.6h0M968.7 449h0M962.4 324.9h0M956.4 321.6h0M854.6 374.7h0M861.1 235.4h0M832.6 348.2h0M1032.8 412.6h0M896.1 274.8h0M934.6 282.4h0M950.4 211.3h0M989.8 349h0M851.5 355.1h0M905.2 295.6h0M876.9 330.8h0M966.5 229.1h0M970.5 241.2h0M928.4 343.7h0M1002.8 426.7h0M975.7 345h0M909.6 405.3h0M911.6 249.6h0M913.3 224.2h0M1018.2 341h0M930.5 356.9h0M896.1 365h0M887.2 310.5h0M944 361.6h0M945.7 434.5h0M924.2 260.6h0M1011.8 381.3h0M955.6 286.5h0M948.7 312.7h0M833.3 374h0M985.7 482.7h0M905.9 238.4h0M994.4 553h0M879.5 508h0M772.8 543.7h0M995.8 525.4h0M963.8 574.4h0M880.7 526.9h0M835.1 482.4h0M963.1 492h0M929.1 546.4h0M781.5 554.4h0M918.5 491.9h0M970.6 581.4h0M976.6 532.3h0M834.2 516.5h0M989 578.4h0M892.4 480.6h0M969.6 541.6h0M771 550.8h0M947.2 582.5h0M826.3 516.1h0M939.1 531.6h0M861 502.8h0M817 507.5h0M925.7 496.4h0M967.1 523.4h0M818.3 504.8h0M1002 534.2h0M944.4 495.2h0M995.3 520.9h0M870.2 497.4h0M901.2 491.1h0M979.1 537.6h0M764.7 536.8h0M935.4 496.4h0M934.7 481.8h0M942.4 538.3h0M879.4 519.9h0M966.9 496.6h0M970 554.8h0M933.2 494.3h0M851.9 482h0M780.8 522.7h0M854.7 472.1h0M947.8 569.1h0M864.3 550.6h0M820.9 549.6h0M865.1 464.5h0M972 526h0M1001.8 510.5h0M826.9 539.5h0M1003.4 579.1h0M947.4 534.5h0M938 564.5h0M980.5 533h0M876.2 507.5h0M847 507.7h0M936.1 523.1h0M895.9 474.4h0M867.9 588.7h0M839.5 511.2h0M824.5 478.8h0M803.7 505.5h0M860.3 515.6h0M770.6 516.8h0M825.1 558.9h0M784.5 552.9h0M923.8 469.9h0M771.5 523.7h0M962.7 536h0M960.4 517.6h0M828.9 511.2h0M972.9 552.3h0M883.5 586.1h0M862 530.8h0M910.5 561.9h0M874.4 491.2h0M912.2 482.3h0M932.4 544.8h0M849.9 471.4h0M942.1 465.3h0M870.3 453.4h0M870.4 602.8h0M804.2 503.5h0M799.3 526.6h0M769 585.9h0M840.1 528.3h0M980 594.8h0M865.8 588h0M980.4 583.3h0M1010.4 561.4h0M904.9 475.9h0M899 548.3h0M844.6 548.3h0M840.4 550.5h0M866.8 488.6h0M778.9 558.5h0M809.9 495.1h0M901.8 467.9h0M985.8 512.5h0M925 550.2h0M977.6 502.1h0M853.4 486h0M821.7 483.3h0M1004.2 541.3h0M808 524.2h0M945.2 515.6h0M947.9 516.3h0M817.5 566h0M880.3 479.5h0M871.4 591.4h0M826.8 528.6h0M763.1 522.8h0M750.5 537.8h0M999.5 528.5h0M875.1 504h0M788.6 555.5h0M958.5 573h0M883.7 488.8h0M765.5 562.8h0M773 527.8h0M881.3 586.4h0M995.7 505.1h0M970.5 548.2h0M756.2 562.8h0M919.9 511.9h0M842.8 508.7h0M801.8 516.7h0M942.2 550.3h0M779.7 547.8h0M1006.2 559.1h0M856.7 584.3h0M811.5 544.5h0M960.2 554.6h0M864.3 587h0M892.8 526.1h0M1009.1 540.3h0M784.3 548.3h0M812.6 505.1h0M794.6 549h0M907.6 456.9h0M972.1 535.1h0M812.2 536.3h0M758.2 566.3h0M894.3 457h0M762.3 520.6h0M859.7 491.2h0M802.3 579.1h0M984.4 572.3h0M759.5 553.5h0M944.8 521.7h0M875 511.8h0M936.5 501.2h0M842 568.8h0M895.5 551h0M976.7 554.9h0M752.4 547.1h0M891.5 570.6h0M873.8 539h0M818.1 513.9h0M810.6 538h0M849.4 542.6h0M762.8 562h0M946.1 504.2h0M1003 560.1h0M999.9 532.7h0M922.7 479h0M816.7 524.2h0M846.2 473.8h0M945.5 470.2h0M987.9 558.6h0M932.9 512.9h0M870.6 542.8h0M899.9 563.9h0M932.6 478.8h0M801.4 555.1h0M923.8 477.1h0M843.2 555.7h0M924.6 544h0M801 541.5h0M905 499.6h0M941.7 566.6h0M855.5 564.9h0M947.7 465h0M815.2 479.2h0M793.6 527.3h0M900.9 510.9h0M858 562.4h0M852.6 571.5h0M1001 500.7h0M951.7 540.4h0M986.8 533.4h0M930.8 499.4h0M872.2 448.1h0M905.3 578.3h0M885.3 565.3h0M775.1 569.8h0M913.7 570h0M877.5 582.2h0M805.4 541h0M931.1 552.1h0M824 550.5h0M878.6 595.4h0M892.2 575.1h0M889 503.8h0M879.9 532h0M953.8 549.7h0M853.9 574.1h0M816 483.5h0M947.7 475.3h0M894.5 516.5h0M908.1 527.8h0M918.7 582.4h0M872.6 494.8h0M903 464.1h0M962.6 481.6h0M806.2 563.4h0M910.7 568.4h0M758.3 550.8h0M950.6 691.4h0M916.5 610.1h0M947.9 719.8h0M972.4 678.1h0M967.1 639.7h0M976.2 630.7h0M906.2 607.7h0M980.9 648.7h0M996.3 601.5h0M921.2 704.4h0M948.7 606.3h0M937.6 652.2h0M935.5 625.1h0M968.3 668.5h0M923.8 650h0M943.6 672.1h0M970.7 627.4h0M1004.3 618.2h0M1000.1 601.2h0M923.2 619.4h0M953.1 726.7h0M979.1 643.8h0M1011.5 611.6h0M941.1 703.7h0M931.4 589h0M916.9 613.2h0M972.8 623.5h0M930.6 624.5h0M944 593.3h0M926.6 694.7h0M934.7 635.1h0M943.8 721.7h0M979.8 630h0M998.2 643.7h0M964.3 627.4h0M923.8 611.4h0M930.5 639.4h0M959.8 639.9h0M978.4 681.9h0M953.3 675.9h0M957 708h0M953.8 708.1h0M941.3 686.3h0M931.4 711.8h0M958.5 723.3h0M983.1 644.2h0M958.1 621h0M964.8 724.7h0M965.8 698.7h0M943.4 663.9h0M975.9 622.2h0M751.2 645.5h0M742.4 639.2h0M761.2 654.2h0M763.7 628.4h0M792 751.6h0M808.1 843.6h0M721.8 756.6h0M783.4 744.6h0M728.2 714.2h0M714.9 815h0M805.7 813.5h0M799.9 840.8h0M750.8 799.2h0M857 796h0M818 759.5h0M805.1 792.3h0M815.9 831.6h0M784.5 772h0M793.7 732.7h0M824.5 773.2h0M855.9 791.8h0M717.2 769.3h0M722.1 807.5h0M776.7 698.2h0M732.3 758.9h0M716.6 723.1h0M734.9 825.5h0M706.6 771.4h0M819.6 799.1h0M826.8 828.2h0M759.7 804.8h0M865.8 798.6h0M804.6 828.9h0M783.3 765.8h0M833.7 805.9h0M738.1 734.8h0M749.5 729.5h0M800 773.8h0M813.1 791.8h0M730.7 807.2h0M731.2 786.2h0M717.7 776h0M837.5 789h0M760.7 780.3h0M766.3 781.8h0M867.9 784.9h0M839.1 816.1h0M826.3 841.1h0M847.6 815.6h0M702.9 760.9h0M746.7 755.8h0M780.7 690.9h0M786.3 761.6h0M838.7 793.2h0M728.4 791.9h0M820.5 818.7h0M730.1 753.4h0M777.1 690.6h0M752.8 700.1h0M756.1 774.7h0M807.4 850.1h0M710.3 726.9h0M849.3 806.1h0M763.8 755.7h0M811.9 815.4h0M781.6 683.9h0M779.6 764.5h0M824.1 762.8h0M840.8 831.2h0M854.3 825.8h0M761.9 735.4h0M720.1 809.8h0M712.6 752.4h0M836.5 778.7h0M748.7 735.3h0M864.3 795h0M771 795.3h0M796.9 829.3h0M763.9 739.5h0M803 757.1h0M755.7 703.4h0M759.1 715.7h0M763.3 821.8h0M817 837h0M766.5 701.6h0M814.4 776.4h0M723.2 777.9h0M708.2 775.7h0M761.5 748.3h0M782.1 728h0M796.7 822.4h0M810.6 760.8h0M916.3 751.3h0M884.2 759.9h0M926.5 737.6h0M899.3 759.1h0M921.5 741.5h0M909.3 750h0M897.8 762h0M1154.3 552.7h0M1237.4 705.3h0M1086.1 596.5h0M1063.7 525.3h0M1108.8 531.6h0M1054.1 525h0M1061.5 522.5h0M1287.3 717.6h0M1298.5 715.1h0M1297.8 673.5h0M1298.6 700.1h0M1265.1 656.9h0M1298.6 664.5h0M1309.4 684.6h0M1287.6 682.9h0M1299.5 689.9h0M1298.2 698.4h0M1298 681.3h0M1274.9 694.2h0M1294.3 670.3h0M1283.3 672.7h0M1299.9 717.3h0M1293.7 684.6h0M1292.2 662.6h0M1259.6 658.8h0M1031.6 812.1h0M796.6 615.4h0M925.2 732.1h0M755.4 678.9h0M793.4 659.4h0"/>
<path stroke="#ea9885" d="M900.4 425.9h0M819.7 350.5h0M935.9 212.4h0M893.4 340.4h0M1023.9 388.6h0M878.1 297.2h0M831.8 335.4h0M950.5 568.1h0M890.8 461.3h0M845.6 509.8h0M905.6 487h0M760.1 795h0M747.1 813.7h0M790.2 796.1h0M750.1 768.8h0M733.6 811.3h0M740.4 823.8h0M1141.4 641.9h0M1076.4 566.1h0M1103.6 728.3h0M1193.3 609.5h0M1188.7 690.7h0M1180.3 730.9h0M1178.6 633.2h0M1215.2 691.2h0M1080.3 569.2h0M1088.6 599.5h0M1140.9 702.6h0M1096.8 666h0M1117.2 713.4h0M1133.9 599.6h0M1111 594h0M1086.8 581.9h0M1129.7 586.4h0M1102.9 719.2h0M1141.5 661.6h0M1114.5 653.9h0M1142.7 741.8h0M1141.6 584.9h0M1131.1 624.3h0M1131 648h0M1089.5 643.5h0M1197.7 709.2h0M1203.4 667.5h0M1072.5 633.9h0M1169.6 718h0M1098.9 624.6h0M1185.8 641.4h0M1085.4 672.8h0M1155.2 662.2h0M1176.7 752.3h0M1176.6 600h0M1078.9 659.7h0M1106.1 741.3h0M1139.9 600.4h0M1208.7 585.6h0M1010.4 672.8h0M1008.4 538.2h0M812.4 631.3h0M1085.6 799.5h0M1188.6 565.3h0M1199.7 545h0M1255.7 645.9h0M1223.4 669.7h0M1255.7 712.1h0M1248.9 718.9h0M1252.3 703.6h0M1040.2 678.1h0M1035.1 691.7h0M1057.1 703.6h0M1058.8 550.1h0M1099.6 773.2h0"/>
<path stroke="#d4b9b5" d="M833.3 378.7h0M879.5 322.9h0M962.1 323h0M840.7 344h0M824.2 371.9h0M864.5 345.9h0M886.6 369.3h0M873.7 356.4h0M945.1 241.6h0M941 413.4h0M936.7 406.1h0M890.9 284.8h0M947.2 268.2h0M977.8 346.4h0M1034.5 361.8h0M962.8 212.3h0M930.7 367.8h0M942.4 289.4h0M939.3 318.9h0M954 335.4h0M956.5 446.7h0M838.8 369.5h0M1038.6 421.5h0M936.5 294.6h0M931.9 391.8h0M997.9 498h0M932.2 253.6h0M829.6 354.9h0M890.2 332.8h0M1001.6 472.1h0M876.8 270.2h0M928 359.7h0M964.5 255.3h0M1030.4 393.6h0M981.1 542.6h0M858.9 584h0M917 483.4h0M960.8 532.4h0M844.2 525h0M929.7 454.8h0M941.6 572h0M900.4 493.1h0M980.9 517.4h0M959.1 576.1h0M904 563.1h0M943.1 490.3h0M975.4 560.6h0M926.6 663.3h0M938.4 650.6h0M1002.4 624.1h0M900.9 649h0M798.9 819.6h0M725.9 777.7h0M793.3 836.3h0M827.7 816.2h0M810.7 774.7h0M842.4 806.6h0M775.4 783.4h0M764.3 728.2h0M876.7 798.8h0M739.4 698.9h0M745.4 702.4h0M808.9 756.8h0M813.2 847h0M733.1 712.4h0M765.1 692.6h0M811.2 840.8h0M720.6 787h0M782.7 817.8h0M692.2 757.6h0M776.7 733.7h0M801.6 770.2h0M760.4 784.3h0M783.2 752.7h0M729.4 796.9h0M898.2 757.9h0M901.5 758.9h0M1125.2 658.8h0M1192.6 620h0M1045 508.4h0M1310.5 701h0M1024.6 824.3h0M875.8 231.4h0M837.4 759.9h0"/>
<path stroke="#fa6244" d="M1188.2 608.6h0M1148.8 662h0"/>
<path stroke="#ed917b" d="M946.4 397.2h0M880 359.5h0M875.9 318.8h0M919.8 224.7h0M865.3 358.2h0M927.7 438.8h0M983.4 452.6h0M959 531.8h0M943.5 717.3h0M912.4 659.5h0M1069 670.6h0M1104.6 737.7h0M1127.4 643.3h0M1129.7 708.3h0M1092.7 700.4h0M1160.2 594.8h0M1100.8 609.4h0M1085.4 614.1h0M1102.4 599.7h0M1119.7 642.9h0M1177.6 711.1h0M1130.6 656.5h0M1125.4 588.1h0M1086.6 692.9h0M1174.1 561.2h0M1103.5 725.5h0M1075 728.6h0M1113.5 603h0M1084 638.4h0M1136.7 599.2h0M1123 564.2h0M1117 744.4h0M1132.8 622.3h0M1172.3 646.9h0M1176.4 671.2h0M1109.2 652.2h0M1125.2 735h0M1087.5 639.4h0M1222.3 694.7h0M1133.2 630.4h0M1142.5 695.3h0M1107.2 690.1h0M1123.8 623.2h0M1183.7 617.4h0M1225.8 689.9h0M1124.8 726.1h0M1206.8 671.7h0M1194 702.3h0M1166.7 732.6h0M1191.2 685.5h0M1172.6 625.3h0M1241.2 694.3h0M1163.3 674.7h0M1096.4 674.8h0M1088.3 553.3h0M1129.2 636.5h0M1249 715.6h0M1120.6 714.7h0M1086.2 567.3h0M1117.6 635.9h0M1163.5 656.4h0M1071.7 732.8h0M1110.7 627.1h0M1149.3 579.9h0M1087.2 588.6h0M1191.1 639.5h0M1215.1 579.6h0M1208.4 582h0M1205.8 596.5h0M1079.9 526h0M1004.5 664.9h0M1008.4 720.3h0M1081.7 789.6h0M1052 441.2h0M1275.2 735h0M1050.4 712.1h0M1074.1 783.3h0M1080.9 789.3h0"/>
<path stroke="#c7c5c8" d="M1048.6 445h0M892.6 282.6h0M920.1 313.8h0M939.8 374.5h0M936.4 224.4h0M923.9 257.8h0M923.7 427.8h0M922 375.3h0M886.6 300h0M910.9 256.2h0M1041.6 387.3h0M961.2 225.9h0M780.4 580.1h0M833.4 541.8h0M970.9 538.8h0M834 530.6h0M755.9 570.1h0M947.9 565.9h0M895.7 560.5h0M837 475.1h0M917.1 524.4h0M1011.2 545.9h0M981.8 607.5h0M759.4 632.2h0M811.1 788.7h0M734.4 808.5h0M753.6 696h0M741 757.7h0M783.9 700.4h0M809.1 812.3h0"/>
<path stroke="#cdbfbe" d="M895.6 280.3h0M886.4 410.4h0M942.8 381.3h0M1034 365.4h0M1002.8 445h0M993.1 339h0M954.4 449.4h0M857.1 277.4h0M940.5 242.2h0M964.7 282.3h0M1020.3 496.2h0M834.5 321.6h0M846.6 309h0M983.6 418h0M995.9 423.4h0M987.8 406.1h0M811.1 506.5h0M993.6 570.4h0M884.1 522.7h0M904.6 516.4h0M795.7 550.3h0M807.5 494.7h0M772.2 549.2h0M898.3 556.9h0M962.5 570.5h0M750.3 545.5h0M784.5 503.8h0M752.5 530h0M933.2 491.1h0M978.3 580.9h0M1003.3 566.1h0M844.8 460.3h0M783.1 522.8h0M962.1 672.3h0M998.2 601.8h0M939.5 622.9h0M950.5 657.4h0M762.4 641.9h0M818.7 805.2h0M698.5 747.1h0M872.7 794.8h0M843.4 818h0M796.9 834.9h0M852.2 809.1h0M763.2 763.5h0M709.8 760.7h0M748.3 828.1h0M722.5 793.4h0M740.2 701.3h0M839.9 798.2h0M840.8 820.8h0M823.5 835.4h0M1153.1 634.9h0M1302.1 712h0M1297.3 728h0M1279.3 674.4h0M836.2 453.1h0M698 775.1h0"/>
<path stroke="#f28269" d="M973.4 212.6h0M988.8 238.1h0M921.9 504.7h0M926.5 621.4h0M898.6 755.2h0M1142.4 736.7h0M1179 651.6h0M1073.7 702.5h0M1098 745.5h0M1245.1 697.6h0M1092.8 744.7h0M1149.7 654.2h0M1106.7 729h0M1153.4 734.5h0M1083.8 653.2h0M1097.4 701.8h0M1076.5 651h0M1105.3 751.3h0M1150.1 575.3h0M1139.1 702.5h0M1121.7 703.6h0M1104.1 559.3h0M1131.1 759.3h0M1107.4 720.6h0M1157.6 644.9h0M1115.5 624.5h0M1153.9 601.2h0M1137.3 749.5h0M1066.5 695.1h0"/>
<path stroke="#e2a598" d="M999.5 372.9h0M884.4 342h0M1038.8 389.2h0M884.4 320h0M850 336.8h0M1016.1 347h0M1012.5 493.9h0M918.2 280.2h0M850.3 323.8h0M846.2 343.3h0M895.6 396.1h0M889.7 267.8h0M865.2 299.7h0M909.4 312.1h0M910.1 291.5h0M927.4 253.4h0M926.9 426.1h0M848.2 314h0M979.4 264.8h0M916 370.7h0M923.7 536.9h0M870 559.4h0M809.4 533.1h0M1001 584.5h0M899.3 481.7h0M836 495h0M794.5 505.5h0M1001 589.3h0M904.5 520h0M799.2 565.9h0M913.7 543.2h0M814.7 520.7h0M890.8 494h0M974.3 540.6h0M954.3 612.6h0M984.7 660h0M999.9 647.6h0M941 631.4h0M792.5 825.9h0M811.5 787h0M691 713.9h0M727.6 795h0M752.7 767.8h0M835.1 816.3h0M738.6 790.4h0M758.5 738.1h0M712.3 746.3h0M788.5 837.1h0M911.1 752h0M1155.9 680.5h0M1187.5 743.2h0M1139.8 736.1h0M1111.3 673.6h0M1160.4 582.2h0M1228.5 700.7h0M1147 686h0M1168.6 594.8h0M1121.2 736.6h0M1219.5 705.7h0M1143.5 688.1h0M1083.5 595.3h0M1128.5 664h0M1076.6 574.6h0M1146.6 752.2h0M1099.7 536.3h0M1145.7 632h0M1089.6 646.1h0M1164.1 563.9h0M1138.3 579.6h0M1149.1 628.8h0M1168.8 618.4h0M1186.9 613.2h0M1101.9 593.1h0M1208.1 695h0M1134.3 722h0M1153.9 668.1h0M1162.4 626.1h0M1142.5 657.2h0M1093.9 633.3h0M1124.3 577.7h0M1079.9 574.5h0M1172.3 559.3h0M1167.6 721.3h0M1157.1 677.4h0M1110.1 583.2h0M1205.8 598.7h0M1208.7 542.6h0M1273.8 675.8h0M1282 712.6h0M1254.1 654.5h0"/>
<path stroke="#e69e8e" d="M974.1 328.7h0M995.3 401.7h0M1001.5 408.8h0M1008.5 406.1h0M997.5 443.1h0M820.3 358.4h0M956.4 309.6h0M1034.9 398.1h0M1005.4 449.5h0M921 416.9h0M981.2 453.1h0M890.6 378.7h0M993.6 433.9h0M957.5 218.7h0M926 228.8h0M859.4 587.6h0M976.7 569.3h0M887.2 483h0M769.2 509.4h0M912.2 489.4h0M833.3 518h0M938.1 536.5h0M892.7 554.3h0M999.1 568.1h0M882 520.9h0M978.3 700.8h0M970.4 675.9h0M980.6 714.9h0M755.5 845.3h0M802.4 831h0M806.6 820.6h0M792.1 846.7h0M746.5 740.1h0M719.9 759.4h0M714.7 765.6h0M730.9 772.1h0M1240.4 705.5h0M1148.4 576.1h0M1184.9 650.2h0M1158 562.4h0M1179.6 725.7h0M1105.2 585h0M1178.4 668.5h0M1135.1 699.7h0M1168.3 706.2h0M1130.1 751.5h0M1150.1 748.3h0M1229.2 682.7h0M1127.4 586.8h0M1137.9 583.8h0M1140.3 630.1h0M1177.5 616.3h0M1112.1 595.4h0M1163 628.6h0M1177.3 734.2h0M1134 576.6h0M1076.2 702.9h0M1151.4 628.2h0M1094.1 707h0M1125.3 690.3h0M1202.6 698.9h0M1173.8 641.9h0M1149.1 717.8h0M1122.7 548.3h0M1081.4 709.5h0M1092.5 710.3h0M1138 729.3h0M1160.7 644.3h0M1200.9 716.8h0M1210.8 698.7h0M1090.1 568.1h0M1191.7 609.5h0M1089.9 571.6h0M1123.8 644.5h0M1072.8 675.8h0M1169.9 566.9h0M1177.5 612.2h0M1104.6 648.9h0M1102.7 558.7h0M1108 660.6h0M1070.6 683.2h0M1210.4 563.1h0M1201 592.2h0M1198.8 591.5h0M1220 554.7h0M1271.5 654.4h0M1089.7 819.5h0M1257.3 678.1h0M1073.3 589.1h0"/>
<path stroke="#f57b60" d="M1229.4 704.7h0M1186.2 714.7h0M1200.9 691h0M1145.5 653.2h0M1131.9 636.5h0M1217.1 700.9h0M1102.1 745h0M1087 736.4h0M1108.5 717.1h0M1173.9 612.3h0M1123.8 680.8h0M1168.4 560.2h0M1102.2 651.5h0"/>
<path stroke="#f86b4d" d="M1151.7 688.6h0M1093.9 578.2h0M1172.8 582.6h0M1095.1 597.3h0M1116.2 751.2h0"/>
<path stroke="#f08a72" d="M914.1 260.2h0M1043.1 401.9h0M931.1 226.9h0M912.9 535.3h0M759.8 519.5h0M1214.7 733h0M1077.6 739.6h0M1088.4 689.5h0M1086.6 679.5h0M1136.4 716.3h0M1108.5 599.6h0M1106.6 613.4h0M1113.1 643.9h0M1144.3 676.5h0M1211 720.4h0M1244 706.6h0M1099.1 698.5h0M1123.8 745.4h0M1168.3 697.8h0M1129.9 754.8h0M1070.8 697.2h0M1102.6 587.7h0M1140.1 615.2h0M1096.7 535.8h0M1170.1 714.8h0M1125 634.5h0M1185.3 663.8h0M1139.3 741.8h0M1148.1 562.1h0M1115.3 699.4h0M1086.4 629.3h0M1130.4 610.7h0M1067 686.9h0M1121.3 745.1h0M1238.8 690.9h0M1123.3 566.5h0M1146.2 634.4h0M1106 634.3h0M1149.5 602.1h0M1089 628.9h0M1151.5 694h0M1195.4 668.8h0M1149.4 645.1h0M1090 653.5h0M1189.1 616.6h0M1200.8 685h0M1219.1 712.7h0M1117.6 583.3h0M1212.2 546.3h0M1203.2 568.4h0M1272.4 669.1h0"/>
<path stroke="#f77356" d="M1237.4 712.9h0M1149.2 692h0M1090.8 671.2h0M1193.2 680.2h0M1155.3 700.1h0M1098.4 617h0M1123.5 669.4h0M799.4 676.8h0M1094.5 732.4h0"/>
</g>
<g stroke="#000" fill="none" stroke-width="4.2">
<path d="M652.8 114V913.4"/><path d="M650.7 911.3H1358.8"/><path d="M639.1 151.8H652"/><path d="M639.1 358.4H652"/><path d="M639.1 565.5H652"/><path d="M639.1 772.0H652"/><path d="M776.2 912V924.3"/><path d="M958.8 912V924.3"/><path d="M1141.6 912V924.3"/><path d="M1324.7 912V924.3"/>
</g>
<text x="627.5" y="168.4" font-size="46.5" text-anchor="end">8</text><text x="627.5" y="375" font-size="46.5" text-anchor="end">4</text><text x="627.5" y="582.1" font-size="46.5" text-anchor="end">0</text><text x="627.5" y="788.6" font-size="46.5" text-anchor="end">−4</text><text x="776.2" y="969.8" font-size="46.5" text-anchor="middle">−4</text><text x="958.8" y="969.8" font-size="46.5" text-anchor="middle">0</text><text x="1141.6" y="969.8" font-size="46.5" text-anchor="middle">4</text><text x="1324.7" y="969.8" font-size="46.5" text-anchor="middle">8</text>
<text x="1002" y="1031.8" font-size="55.5" text-anchor="middle" textLength="210" lengthAdjust="spacingAndGlyphs">UMAP_1</text>
<text transform="translate(551 513) rotate(-90)" font-size="56.5" text-anchor="middle" textLength="216" lengthAdjust="spacingAndGlyphs">UMAP_2</text>
<defs><linearGradient id="cb" x1="0" y1="1" x2="0" y2="0"><stop offset="0%" stop-color="#add8e6"/><stop offset="5%" stop-color="#b8d1da"/><stop offset="10%" stop-color="#c2cacf"/><stop offset="15%" stop-color="#cac3c4"/><stop offset="20%" stop-color="#d1bbb8"/><stop offset="25%" stop-color="#d8b4ad"/><stop offset="30%" stop-color="#ddaca2"/><stop offset="35%" stop-color="#e2a597"/><stop offset="40%" stop-color="#e79d8c"/><stop offset="45%" stop-color="#eb9581"/><stop offset="50%" stop-color="#ee8d77"/><stop offset="55%" stop-color="#f2856c"/><stop offset="60%" stop-color="#f47c61"/><stop offset="65%" stop-color="#f77357"/><stop offset="70%" stop-color="#f96a4c"/><stop offset="75%" stop-color="#fa6042"/><stop offset="80%" stop-color="#fc5537"/><stop offset="85%" stop-color="#fd492c"/><stop offset="90%" stop-color="#fe3a20"/><stop offset="95%" stop-color="#fe2812"/><stop offset="100%" stop-color="#ff0000"/></linearGradient></defs>
<rect x="1410" y="378.9" width="59.5" height="294.4" fill="url(#cb)"/>
<g stroke="#fff" stroke-width="1.6" stroke-opacity="0.85"><path d="M1410 673.6h12.4M1457.1 673.6h12.4"/><path d="M1410 612.9h12.4M1457.1 612.9h12.4"/><path d="M1410 551.5h12.4M1457.1 551.5h12.4"/><path d="M1410 490.0h12.4M1457.1 490.0h12.4"/><path d="M1410 428.9h12.4M1457.1 428.9h12.4"/></g>
<text x="1495.5" y="690.9" font-size="46.5">0</text><text x="1495.5" y="629.5" font-size="46.5">1</text><text x="1495.5" y="568.1" font-size="46.5">2</text><text x="1495.5" y="506.6" font-size="46.5">3</text><text x="1495.5" y="445.5" font-size="46.5">4</text>
</g>
<g id="panel-b">
<text class="lg" x="13.5" y="1058" font-size="78.5">b</text>
<g stroke="#1a1a1a" stroke-width="1.3" stroke-linejoin="round">
<path fill="#f8766d" d="M74.2 1575.4L74.7 1572.3L75.2 1569.2L75.7 1566.2L76.3 1563.1L77.1 1560L77.8 1556.9L78.6 1553.8L79.1 1550.7L79.4 1547.7L79.6 1544.6L79.7 1541.5L79.7 1538.4L79.8 1535.3L79.8 1532.2L79.8 1529.2L79.8 1526.1L79.8 1523L79.8 1519.9L79.8 1516.8L79.7 1513.8L79.7 1510.7L98.7 1510.7L98.7 1513.8L98.6 1516.8L98.6 1519.9L98.6 1523L98.6 1526.1L98.6 1529.2L98.6 1532.2L98.6 1535.3L98.7 1538.4L98.7 1541.5L98.8 1544.6L99 1547.7L99.3 1550.7L99.8 1553.8L100.6 1556.9L101.3 1560L102.1 1563.1L102.7 1566.2L103.2 1569.2L103.7 1572.3L104.2 1575.4Z"/>
<path fill="#f47a5d" d="M107.3 1575.4L107.7 1572.4L108 1569.3L108.3 1566.3L108.7 1563.3L109.4 1560.3L110.2 1557.2L110.9 1554.2L111.5 1551.2L112 1548.1L112.4 1545.1L112.8 1542.1L113.1 1539L113.3 1536L113.5 1533L113.7 1530L113.8 1526.9L113.9 1523.9L114 1520.9L114.1 1517.8L114.2 1514.8L114.3 1511.8L114.4 1508.8L114.5 1505.7L114.6 1502.7L114.8 1499.7L114.9 1496.6L115 1493.6L115.2 1490.6L115.3 1487.6L115.5 1484.5L115.8 1481.5L116.2 1478.5L116.7 1475.4L117.2 1472.4L117.8 1469.4L118.4 1466.3L118.8 1463.3L119.2 1460.3L119.7 1457.3L120.1 1454.2L120.4 1451.2L120.7 1448.2L120.8 1445.1L120.9 1442.1L120.9 1439.1L120.9 1436.1L120.9 1433L121 1430L121 1427L121 1423.9L121 1420.9L121 1417.9L121 1414.8L121 1411.8L121 1408.8L121.9 1405.8L121.9 1402.7L121.9 1399.7L121.9 1396.7L121.9 1393.6L122.8 1393.6L122.8 1396.7L122.8 1399.7L122.8 1402.7L122.8 1405.8L123.6 1408.8L123.6 1411.8L123.7 1414.8L123.7 1417.9L123.7 1420.9L123.7 1423.9L123.7 1427L123.7 1430L123.7 1433L123.8 1436.1L123.8 1439.1L123.8 1442.1L123.8 1445.1L124 1448.2L124.2 1451.2L124.6 1454.2L125 1457.3L125.4 1460.3L125.8 1463.3L126.3 1466.3L126.8 1469.4L127.4 1472.4L128 1475.4L128.5 1478.5L128.9 1481.5L129.1 1484.5L129.3 1487.6L129.5 1490.6L129.7 1493.6L129.8 1496.6L129.9 1499.7L130 1502.7L130.1 1505.7L130.3 1508.8L130.4 1511.8L130.5 1514.8L130.6 1517.8L130.7 1520.9L130.8 1523.9L130.9 1526.9L131 1530L131.2 1533L131.3 1536L131.6 1539L131.9 1542.1L132.3 1545.1L132.7 1548.1L133.2 1551.2L133.8 1554.2L134.5 1557.2L135.3 1560.3L135.9 1563.3L136.4 1566.3L136.7 1569.3L137 1572.4L137.3 1575.4Z"/>
<path fill="#f07e4b" d="M140.5 1575.4L140.7 1572.4L141.3 1569.3L142.3 1566.3L143.5 1563.3L144.9 1560.2L146.4 1557.2L147.8 1554.2L149.1 1551.1L150.2 1548.1L151.1 1545.1L151.7 1542L152.1 1539L152.2 1536L152.2 1532.9L151.9 1529.9L151.6 1526.9L151.2 1523.8L150.9 1520.8L150.5 1517.8L150.3 1514.7L150.2 1511.7L150.1 1508.7L150 1505.6L150 1502.6L150 1499.5L150.1 1496.5L150.2 1493.5L150.3 1490.4L150.4 1487.4L150.5 1484.4L150.6 1481.3L150.7 1478.3L150.9 1475.3L151 1472.2L151.1 1469.2L151.3 1466.2L151.4 1463.1L151.6 1460.1L151.8 1457.1L151.9 1454L152.1 1451L152.3 1448L152.5 1444.9L152.6 1441.9L152.8 1438.9L153 1435.8L153.2 1432.8L153.4 1429.8L153.6 1426.7L153.7 1423.7L153.8 1420.7L153.9 1417.6L154 1414.6L154.1 1411.6L154.1 1408.5L155 1405.5L155 1402.5L155 1399.4L155 1396.4L155 1393.4L155 1390.3L155 1387.3L155 1384.3L155 1381.2L155.9 1381.2L155.9 1384.3L155.9 1387.3L155.9 1390.3L155.9 1393.4L155.9 1396.4L155.9 1399.4L155.9 1402.5L155.9 1405.5L156.8 1408.5L156.9 1411.6L156.9 1414.6L157 1417.6L157.1 1420.7L157.2 1423.7L157.4 1426.7L157.6 1429.8L157.7 1432.8L157.9 1435.8L158.1 1438.9L158.3 1441.9L158.5 1444.9L158.7 1448L158.8 1451L159 1454L159.2 1457.1L159.4 1460.1L159.5 1463.1L159.7 1466.2L159.8 1469.2L160 1472.2L160.1 1475.3L160.2 1478.3L160.3 1481.3L160.5 1484.4L160.6 1487.4L160.7 1490.4L160.8 1493.5L160.9 1496.5L160.9 1499.5L161 1502.6L161 1505.6L160.9 1508.7L160.7 1511.7L160.6 1514.7L160.4 1517.8L160.1 1520.8L159.7 1523.8L159.3 1526.9L159 1529.9L158.8 1532.9L158.7 1536L158.9 1539L159.2 1542L159.8 1545.1L160.7 1548.1L161.8 1551.1L163.2 1554.2L164.6 1557.2L166 1560.2L167.5 1563.3L168.7 1566.3L169.7 1569.3L170.3 1572.4L170.5 1575.4Z"/>
<path fill="#eb8335" d="M173.6 1575.4L173.6 1572.4L173.9 1569.3L174.5 1566.3L175.3 1563.3L176.2 1560.2L177.1 1557.2L178 1554.2L178.9 1551.1L179.7 1548.1L180.3 1545.1L180.8 1542L181.1 1539L181.2 1536L181.1 1532.9L181 1529.9L180.7 1526.9L180.4 1523.8L180.1 1520.8L179.8 1517.8L179.7 1514.7L179.6 1511.7L179.6 1508.7L179.4 1505.6L179.3 1502.6L179.2 1499.5L179.2 1496.5L179.1 1493.5L179.1 1490.4L179.2 1487.4L179.3 1484.4L179.6 1481.3L179.9 1478.3L180.2 1475.3L180.6 1472.2L180.9 1469.2L181.3 1466.2L181.6 1463.1L182 1460.1L182.4 1457.1L182.9 1454L183.4 1451L183.9 1448L184.4 1444.9L184.8 1441.9L185.2 1438.9L185.6 1435.8L185.8 1432.8L186.1 1429.8L186.4 1426.7L186.6 1423.7L186.8 1420.7L187 1417.6L187.2 1414.6L187.3 1411.6L188.2 1408.5L188.2 1405.5L188.2 1402.5L188.2 1399.4L188.2 1396.4L188.2 1393.4L188.2 1390.3L188.2 1387.3L188.2 1384.3L188.2 1381.2L189.1 1381.2L189.1 1384.3L189.1 1387.3L189.1 1390.3L189.1 1393.4L189.1 1396.4L189.1 1399.4L189.1 1402.5L189.1 1405.5L189.1 1408.5L189.9 1411.6L190 1414.6L190.2 1417.6L190.4 1420.7L190.6 1423.7L190.9 1426.7L191.1 1429.8L191.4 1432.8L191.7 1435.8L192 1438.9L192.4 1441.9L192.8 1444.9L193.3 1448L193.8 1451L194.3 1454L194.8 1457.1L195.2 1460.1L195.6 1463.1L195.9 1466.2L196.3 1469.2L196.7 1472.2L197 1475.3L197.3 1478.3L197.6 1481.3L197.9 1484.4L198 1487.4L198.1 1490.4L198.1 1493.5L198 1496.5L198 1499.5L197.9 1502.6L197.8 1505.6L197.7 1508.7L197.6 1511.7L197.6 1514.7L197.4 1517.8L197.1 1520.8L196.8 1523.8L196.5 1526.9L196.2 1529.9L196.1 1532.9L196 1536L196.1 1539L196.4 1542L196.9 1545.1L197.5 1548.1L198.3 1551.1L199.2 1554.2L200.1 1557.2L201.1 1560.2L201.9 1563.3L202.7 1566.3L203.3 1569.3L203.6 1572.4L203.6 1575.4Z"/>
<path fill="#e6870e" d="M206.7 1575.4L207 1572.4L207.6 1569.4L208.7 1566.4L210.1 1563.4L211.6 1560.3L213.2 1557.3L214.7 1554.3L216 1551.3L217.2 1548.3L218.1 1545.3L218.7 1542.3L219.1 1539.3L219.2 1536.2L219.2 1533.2L219 1530.2L218.6 1527.2L218.3 1524.2L217.9 1521.2L217.5 1518.2L217.3 1515.2L217.2 1512.2L217 1509.1L216.9 1506.1L216.8 1503.1L216.7 1500.1L216.8 1497.1L216.8 1494.1L216.8 1491.1L216.9 1488.1L216.9 1485.1L217 1482L217.1 1479L217.2 1476L217.2 1473L217.3 1470L217.4 1467L217.5 1464L217.6 1461L217.7 1457.9L217.8 1454.9L217.9 1451.9L218 1448.9L218.2 1445.9L218.3 1442.9L218.5 1439.9L218.7 1436.9L219 1433.9L219.3 1430.8L219.5 1427.8L219.7 1424.8L220 1421.8L220.1 1418.8L220.3 1415.8L220.4 1412.8L221.3 1409.8L221.3 1406.8L221.3 1403.7L221.3 1400.7L221.3 1397.7L221.3 1394.7L221.3 1391.7L221.3 1388.7L221.3 1385.7L221.3 1382.7L221.3 1379.6L221.3 1376.6L221.3 1373.6L221.3 1370.6L221.3 1367.6L221.3 1364.6L221.3 1361.6L221.3 1358.6L221.3 1355.6L221.3 1352.5L221.3 1349.5L221.3 1346.5L221.3 1343.5L221.3 1340.5L221.3 1337.5L221.3 1334.5L221.3 1331.5L221.3 1328.4L221.3 1325.4L221.3 1322.4L221.3 1319.4L221.3 1316.4L222.2 1316.4L222.2 1319.4L222.2 1322.4L222.2 1325.4L222.2 1328.4L222.2 1331.5L222.2 1334.5L222.2 1337.5L222.2 1340.5L222.2 1343.5L222.2 1346.5L222.2 1349.5L222.2 1352.5L222.2 1355.6L222.2 1358.6L222.2 1361.6L222.2 1364.6L222.2 1367.6L222.2 1370.6L222.2 1373.6L222.2 1376.6L222.2 1379.6L222.2 1382.7L222.2 1385.7L222.2 1388.7L222.2 1391.7L222.2 1394.7L222.2 1397.7L222.2 1400.7L222.2 1403.7L222.2 1406.8L222.2 1409.8L223.1 1412.8L223.2 1415.8L223.3 1418.8L223.5 1421.8L223.7 1424.8L224 1427.8L224.2 1430.8L224.5 1433.9L224.7 1436.9L225 1439.9L225.1 1442.9L225.3 1445.9L225.4 1448.9L225.6 1451.9L225.7 1454.9L225.8 1457.9L225.9 1461L226 1464L226.1 1467L226.2 1470L226.2 1473L226.3 1476L226.4 1479L226.5 1482L226.5 1485.1L226.6 1488.1L226.7 1491.1L226.7 1494.1L226.7 1497.1L226.7 1500.1L226.7 1503.1L226.6 1506.1L226.4 1509.1L226.3 1512.2L226.2 1515.2L226 1518.2L225.6 1521.2L225.2 1524.2L224.8 1527.2L224.5 1530.2L224.3 1533.2L224.2 1536.2L224.4 1539.3L224.8 1542.3L225.4 1545.3L226.3 1548.3L227.4 1551.3L228.8 1554.3L230.3 1557.3L231.9 1560.3L233.4 1563.4L234.8 1566.4L235.8 1569.4L236.5 1572.4L236.7 1575.4Z"/>
<path fill="#e08b00" d="M239.9 1575.4L240 1572.4L240.4 1569.4L241.1 1566.4L242.1 1563.4L243.2 1560.3L244.3 1557.3L245.4 1554.3L246.5 1551.3L247.4 1548.3L248.1 1545.3L248.6 1542.3L248.9 1539.3L248.9 1536.3L248.8 1533.3L248.5 1530.2L248.1 1527.2L247.6 1524.2L247.2 1521.2L246.8 1518.2L246.5 1515.2L246.4 1512.2L246.4 1509.2L246.4 1506.2L246.4 1503.1L246.5 1500.1L246.6 1497.1L246.7 1494.1L246.8 1491.1L246.9 1488.1L247 1485.1L247.1 1482.1L247.3 1479.1L247.5 1476.1L247.8 1473L248.1 1470L248.3 1467L248.6 1464L248.8 1461L249 1458L249.1 1455L249.3 1452L249.5 1449L249.6 1445.9L260.1 1445.9L260.3 1449L260.5 1452L260.6 1455L260.8 1458L261 1461L261.2 1464L261.4 1467L261.7 1470L262 1473L262.2 1476.1L262.5 1479.1L262.6 1482.1L262.8 1485.1L262.9 1488.1L263 1491.1L263.1 1494.1L263.2 1497.1L263.3 1500.1L263.3 1503.1L263.4 1506.2L263.4 1509.2L263.4 1512.2L263.2 1515.2L263 1518.2L262.6 1521.2L262.2 1524.2L261.7 1527.2L261.3 1530.2L261 1533.3L260.9 1536.3L260.9 1539.3L261.2 1542.3L261.7 1545.3L262.4 1548.3L263.3 1551.3L264.3 1554.3L265.4 1557.3L266.6 1560.3L267.7 1563.4L268.6 1566.4L269.3 1569.4L269.8 1572.4L269.9 1575.4Z"/>
<path fill="#da8f00" d="M273 1575.4L273.2 1572.4L273.7 1569.4L274.6 1566.4L275.7 1563.3L277 1560.3L278.4 1557.3L279.7 1554.3L281 1551.3L282 1548.3L282.9 1545.3L283.5 1542.2L283.9 1539.2L284 1536.2L284 1533.2L283.7 1530.2L283.4 1527.2L283 1524.2L282.6 1521.1L282.3 1518.1L282 1515.1L281.9 1512.1L281.8 1509.1L281.6 1506.1L281.5 1503.1L281.5 1500L281.5 1497L281.6 1494L281.6 1491L281.7 1488L281.7 1485L281.8 1482L281.9 1478.9L281.9 1475.9L282 1472.9L282.1 1469.9L282.2 1466.9L282.2 1463.9L282.3 1460.9L282.4 1457.8L282.5 1454.8L282.7 1451.8L282.8 1448.8L282.9 1445.8L283.1 1442.8L283.4 1439.8L283.7 1436.7L284.1 1433.7L284.5 1430.7L284.9 1427.7L285.3 1424.7L285.6 1421.7L285.9 1418.7L286.1 1415.6L286.2 1412.6L286.4 1409.6L286.5 1406.6L286.7 1403.6L287.6 1400.6L287.6 1397.6L287.6 1394.5L287.6 1391.5L287.6 1388.5L287.6 1385.5L287.6 1382.5L287.6 1379.5L287.6 1376.5L287.6 1373.4L287.6 1370.4L287.6 1367.4L287.6 1364.4L287.6 1361.4L287.6 1358.4L287.6 1355.4L287.6 1352.3L287.6 1349.3L287.6 1346.3L287.6 1343.3L288.5 1343.3L288.5 1346.3L288.5 1349.3L288.5 1352.3L288.5 1355.4L288.5 1358.4L288.5 1361.4L288.5 1364.4L288.5 1367.4L288.5 1370.4L288.5 1373.4L288.5 1376.5L288.5 1379.5L288.5 1382.5L288.5 1385.5L288.5 1388.5L288.5 1391.5L288.5 1394.5L288.5 1397.6L288.5 1400.6L289.4 1403.6L289.5 1406.6L289.6 1409.6L289.8 1412.6L290 1415.6L290.1 1418.7L290.4 1421.7L290.7 1424.7L291.1 1427.7L291.5 1430.7L291.9 1433.7L292.3 1436.7L292.6 1439.8L292.9 1442.8L293.1 1445.8L293.2 1448.8L293.4 1451.8L293.5 1454.8L293.6 1457.8L293.7 1460.9L293.8 1463.9L293.9 1466.9L293.9 1469.9L294 1472.9L294.1 1475.9L294.2 1478.9L294.2 1482L294.3 1485L294.4 1488L294.4 1491L294.5 1494L294.5 1497L294.5 1500L294.5 1503.1L294.4 1506.1L294.2 1509.1L294.1 1512.1L294 1515.1L293.7 1518.1L293.4 1521.1L293 1524.2L292.6 1527.2L292.3 1530.2L292.1 1533.2L292 1536.2L292.1 1539.2L292.5 1542.2L293.1 1545.3L294 1548.3L295 1551.3L296.3 1554.3L297.6 1557.3L299 1560.3L300.3 1563.3L301.4 1566.4L302.3 1569.4L302.8 1572.4L303 1575.4Z"/>
<path fill="#d39200" d="M306.1 1575.4L306.5 1572.4L306.9 1569.4L307.3 1566.4L307.7 1563.4L308.1 1560.4L308.6 1557.3L309 1554.3L309.5 1551.3L310 1548.3L310.5 1545.3L311 1542.3L311.6 1539.3L312.1 1536.3L312.5 1533.3L312.9 1530.3L313.3 1527.3L313.7 1524.2L314 1521.2L314.3 1518.2L314.6 1515.2L314.9 1512.2L315.2 1509.2L315.4 1506.2L315.7 1503.2L315.9 1500.2L316.2 1497.2L316.4 1494.2L316.6 1491.2L316.9 1488.1L317.1 1485.1L317.3 1482.1L317.5 1479.1L317.7 1476.1L317.9 1473.1L318.1 1470.1L318.2 1467.1L318.4 1464.1L318.6 1461.1L318.8 1458.1L318.9 1455L319.1 1452L319.2 1449L319.3 1446L319.5 1443L319.6 1440L319.7 1437L319.8 1434L320.7 1431L320.7 1428L320.7 1425L320.7 1421.9L320.7 1418.9L320.7 1415.9L320.7 1412.9L320.7 1409.9L320.7 1406.9L320.7 1403.9L320.7 1400.9L320.7 1397.9L320.7 1394.9L320.7 1391.9L320.7 1388.8L320.7 1385.8L320.7 1382.8L320.7 1379.8L320.7 1376.8L320.7 1373.8L320.7 1370.8L320.7 1367.8L320.7 1364.8L320.7 1361.8L320.7 1358.8L320.7 1355.8L320.7 1352.7L320.7 1349.7L320.7 1346.7L320.7 1343.7L320.7 1340.7L320.7 1337.7L320.7 1334.7L320.7 1331.7L320.7 1328.7L320.7 1325.7L320.7 1322.7L320.7 1319.6L320.7 1316.6L320.7 1313.6L320.7 1310.6L320.7 1307.6L320.7 1304.6L320.7 1301.6L320.7 1298.6L320.7 1295.6L321.6 1295.6L321.6 1298.6L321.6 1301.6L321.6 1304.6L321.6 1307.6L321.6 1310.6L321.6 1313.6L321.6 1316.6L321.6 1319.6L321.6 1322.7L321.6 1325.7L321.6 1328.7L321.6 1331.7L321.6 1334.7L321.6 1337.7L321.6 1340.7L321.6 1343.7L321.6 1346.7L321.6 1349.7L321.6 1352.7L321.6 1355.8L321.6 1358.8L321.6 1361.8L321.6 1364.8L321.6 1367.8L321.6 1370.8L321.6 1373.8L321.6 1376.8L321.6 1379.8L321.6 1382.8L321.6 1385.8L321.6 1388.8L321.6 1391.9L321.6 1394.9L321.6 1397.9L321.6 1400.9L321.6 1403.9L321.6 1406.9L321.6 1409.9L321.6 1412.9L321.6 1415.9L321.6 1418.9L321.6 1421.9L321.6 1425L321.6 1428L321.6 1431L322.5 1434L322.6 1437L322.7 1440L322.8 1443L322.9 1446L323.1 1449L323.2 1452L323.4 1455L323.5 1458.1L323.7 1461.1L323.9 1464.1L324.1 1467.1L324.2 1470.1L324.4 1473.1L324.6 1476.1L324.8 1479.1L325 1482.1L325.2 1485.1L325.4 1488.1L325.6 1491.2L325.9 1494.2L326.1 1497.2L326.4 1500.2L326.6 1503.2L326.9 1506.2L327.1 1509.2L327.4 1512.2L327.7 1515.2L328 1518.2L328.3 1521.2L328.6 1524.2L329 1527.3L329.3 1530.3L329.8 1533.3L330.2 1536.3L330.7 1539.3L331.2 1542.3L331.8 1545.3L332.3 1548.3L332.8 1551.3L333.3 1554.3L333.7 1557.3L334.2 1560.4L334.6 1563.4L335 1566.4L335.4 1569.4L335.7 1572.4L336.1 1575.4Z"/>
<path fill="#cc9600" d="M339.3 1575.4L339.4 1572.4L340 1569.3L340.8 1566.3L341.9 1563.3L343.1 1560.3L344.4 1557.2L345.7 1554.2L346.9 1551.2L347.9 1548.2L348.7 1545.1L349.3 1542.1L349.7 1539.1L349.8 1536.1L349.7 1533L349.5 1530L349.1 1527L348.7 1523.9L348.4 1520.9L348 1517.9L347.8 1514.9L347.7 1511.8L347.6 1508.8L347.4 1505.8L347.3 1502.8L347.3 1499.7L347.3 1496.7L347.4 1493.7L347.5 1490.7L347.6 1487.6L347.7 1484.6L347.8 1481.6L348 1478.5L348.1 1475.5L348.3 1472.5L348.4 1469.5L348.6 1466.4L348.8 1463.4L349.1 1460.4L349.3 1457.4L349.5 1454.3L349.8 1451.3L350 1448.3L350.2 1445.3L350.5 1442.2L350.7 1439.2L350.9 1436.2L351.2 1433.1L351.4 1430.1L351.6 1427.1L351.8 1424.1L352 1421L352.2 1418L352.4 1415L352.5 1412L352.7 1408.9L352.8 1405.9L352.9 1402.9L353.8 1399.9L353.8 1396.8L353.8 1393.8L353.8 1390.8L353.8 1387.7L353.8 1384.7L353.8 1381.7L353.8 1378.7L353.8 1375.6L353.8 1372.6L353.8 1369.6L353.8 1366.6L353.8 1363.5L353.8 1360.5L353.8 1357.5L353.8 1354.5L353.8 1351.4L354.7 1351.4L354.7 1354.5L354.7 1357.5L354.7 1360.5L354.7 1363.5L354.7 1366.6L354.7 1369.6L354.7 1372.6L354.7 1375.6L354.7 1378.7L354.7 1381.7L354.7 1384.7L354.7 1387.7L354.7 1390.8L354.7 1393.8L354.7 1396.8L354.7 1399.9L355.6 1402.9L355.8 1405.9L355.9 1408.9L356.1 1412L356.2 1415L356.3 1418L356.5 1421L356.7 1424.1L356.9 1427.1L357.2 1430.1L357.4 1433.1L357.6 1436.2L357.9 1439.2L358.1 1442.2L358.3 1445.3L358.5 1448.3L358.8 1451.3L359 1454.3L359.3 1457.4L359.5 1460.4L359.7 1463.4L359.9 1466.4L360.1 1469.5L360.3 1472.5L360.4 1475.5L360.6 1478.5L360.7 1481.6L360.9 1484.6L361 1487.6L361.1 1490.7L361.2 1493.7L361.2 1496.7L361.3 1499.7L361.3 1502.8L361.2 1505.8L361 1508.8L360.9 1511.8L360.8 1514.9L360.5 1517.9L360.2 1520.9L359.8 1523.9L359.4 1527L359.1 1530L358.8 1533L358.8 1536.1L358.9 1539.1L359.2 1542.1L359.8 1545.1L360.6 1548.2L361.7 1551.2L362.9 1554.2L364.1 1557.2L365.4 1560.3L366.7 1563.3L367.8 1566.3L368.6 1569.3L369.1 1572.4L369.3 1575.4Z"/>
<path fill="#c49a00" d="M372.4 1575.4L372.7 1572.4L373.6 1569.4L375 1566.4L376.7 1563.4L378.6 1560.3L380.4 1557.3L382 1554.3L383.4 1551.3L384.5 1548.3L385.3 1545.3L385.7 1542.3L385.9 1539.3L385.8 1536.3L385.6 1533.2L385.1 1530.2L384.6 1527.2L383.9 1524.2L383.3 1521.2L382.8 1518.2L382.4 1515.2L382.1 1512.2L382 1509.2L381.9 1506.1L381.9 1503.1L382.1 1500.1L382.2 1497.1L382.5 1494.1L382.7 1491.1L383 1488.1L383.2 1485.1L383.4 1482L383.6 1479L383.8 1476L383.9 1473L384.1 1470L384.3 1467L384.4 1464L384.6 1461L384.7 1458L384.9 1454.9L385 1451.9L385.2 1448.9L385.3 1445.9L385.5 1442.9L385.6 1439.9L385.8 1436.9L385.9 1433.9L386 1430.9L387 1427.8L387 1424.8L387 1421.8L387 1418.8L387 1415.8L387 1412.8L387 1409.8L387 1406.8L387 1403.8L387 1400.7L387 1397.7L387 1394.7L387 1391.7L387 1388.7L387 1385.7L387 1382.7L387 1379.7L387 1376.7L387 1373.6L387 1370.6L387 1367.6L387 1364.6L387 1361.6L387 1358.6L387 1355.6L387 1352.6L387 1349.6L387 1346.5L387 1343.5L387 1340.5L387 1337.5L387 1334.5L387 1331.5L387 1328.5L387 1325.5L387 1322.4L387 1319.4L387 1316.4L387 1313.4L387 1310.4L387 1307.4L387 1304.4L387 1301.4L387 1298.4L387 1295.3L387 1292.3L387 1289.3L387 1286.3L387 1283.3L387 1280.3L387 1277.3L387 1274.3L387 1271.3L387 1268.2L387 1265.2L387 1262.2L387 1259.2L387 1256.2L387 1253.2L387 1250.2L387 1247.2L387 1244.2L387 1241.1L387 1238.1L387.9 1238.1L387.9 1241.1L387.9 1244.2L387.9 1247.2L387.9 1250.2L387.9 1253.2L387.9 1256.2L387.9 1259.2L387.9 1262.2L387.9 1265.2L387.9 1268.2L387.9 1271.3L387.9 1274.3L387.9 1277.3L387.9 1280.3L387.9 1283.3L387.9 1286.3L387.9 1289.3L387.9 1292.3L387.9 1295.3L387.9 1298.4L387.9 1301.4L387.9 1304.4L387.9 1307.4L387.9 1310.4L387.9 1313.4L387.9 1316.4L387.9 1319.4L387.9 1322.4L387.9 1325.5L387.9 1328.5L387.9 1331.5L387.9 1334.5L387.9 1337.5L387.9 1340.5L387.9 1343.5L387.9 1346.5L387.9 1349.6L387.9 1352.6L387.9 1355.6L387.9 1358.6L387.9 1361.6L387.9 1364.6L387.9 1367.6L387.9 1370.6L387.9 1373.6L387.9 1376.7L387.9 1379.7L387.9 1382.7L387.9 1385.7L387.9 1388.7L387.9 1391.7L387.9 1394.7L387.9 1397.7L387.9 1400.7L387.9 1403.8L387.9 1406.8L387.9 1409.8L387.9 1412.8L387.9 1415.8L387.9 1418.8L387.9 1421.8L387.9 1424.8L387.9 1427.8L388.8 1430.9L388.9 1433.9L389 1436.9L389.2 1439.9L389.3 1442.9L389.5 1445.9L389.7 1448.9L389.8 1451.9L390 1454.9L390.1 1458L390.3 1461L390.4 1464L390.6 1467L390.7 1470L390.9 1473L391.1 1476L391.2 1479L391.4 1482L391.6 1485.1L391.9 1488.1L392.1 1491.1L392.4 1494.1L392.6 1497.1L392.8 1500.1L392.9 1503.1L392.9 1506.1L392.8 1509.2L392.7 1512.2L392.5 1515.2L392.1 1518.2L391.5 1521.2L390.9 1524.2L390.3 1527.2L389.7 1530.2L389.3 1533.2L389 1536.3L388.9 1539.3L389.1 1542.3L389.6 1545.3L390.3 1548.3L391.4 1551.3L392.8 1554.3L394.5 1557.3L396.3 1560.3L398.1 1563.4L399.8 1566.4L401.2 1569.4L402.1 1572.4L402.4 1575.4Z"/>
<path fill="#bc9d00" d="M405.8 1575.4L405.9 1572.4L405.9 1569.4L406 1566.4L406 1563.4L406.1 1560.3L406.1 1557.3L406.2 1554.3L406.2 1551.3L406.3 1548.3L406.3 1545.3L406.4 1542.3L406.4 1539.3L406.5 1536.3L406.5 1533.3L406.6 1530.2L406.6 1527.2L406.7 1524.2L406.8 1521.2L406.8 1518.2L406.9 1515.2L407 1512.2L407.1 1509.2L407.3 1506.2L407.4 1503.1L407.5 1500.1L407.7 1497.1L407.9 1494.1L408.1 1491.1L408.3 1488.1L408.6 1485.1L408.9 1482.1L409.3 1479.1L409.6 1476.1L410 1473L410.4 1470L410.8 1467L411.3 1464L411.7 1461L412.1 1458L412.6 1455L413 1452L413.4 1449L413.8 1445.9L427.3 1445.9L427.7 1449L428.1 1452L428.5 1455L429 1458L429.4 1461L429.8 1464L430.3 1467L430.7 1470L431.1 1473L431.5 1476.1L431.8 1479.1L432.2 1482.1L432.5 1485.1L432.8 1488.1L433 1491.1L433.2 1494.1L433.4 1497.1L433.6 1500.1L433.7 1503.1L433.8 1506.2L434 1509.2L434.1 1512.2L434.2 1515.2L434.3 1518.2L434.3 1521.2L434.4 1524.2L434.5 1527.2L434.5 1530.2L434.6 1533.3L434.6 1536.3L434.7 1539.3L434.7 1542.3L434.8 1545.3L434.8 1548.3L434.9 1551.3L434.9 1554.3L435 1557.3L435 1560.3L435.1 1563.4L435.1 1566.4L435.2 1569.4L435.2 1572.4L435.3 1575.4Z"/>
<path fill="#b3a000" d="M438.7 1575.4L439 1572.4L439.8 1569.4L441.1 1566.3L442.6 1563.3L444.4 1560.3L446.1 1557.3L447.8 1554.3L449.2 1551.3L450.3 1548.2L451.2 1545.2L451.8 1542.2L452.1 1539.2L452.2 1536.2L452.1 1533.1L451.9 1530.1L451.5 1527.1L451.2 1524.1L450.8 1521.1L450.5 1518L450.2 1515L450.1 1512L450 1509L449.9 1506L450 1503L450.1 1499.9L450.3 1496.9L450.5 1493.9L450.7 1490.9L450.9 1487.9L451.1 1484.8L451.2 1481.8L451.3 1478.8L451.3 1475.8L451.4 1472.8L451.5 1469.7L451.5 1466.7L451.5 1463.7L451.6 1460.7L451.6 1457.7L451.7 1454.7L451.7 1451.6L451.8 1448.6L451.8 1445.6L451.8 1442.6L451.9 1439.6L451.9 1436.5L451.9 1433.5L452 1430.5L452 1427.5L452 1424.5L452.1 1421.4L452.1 1418.4L452.1 1415.4L452.1 1412.4L452.1 1409.4L452.1 1406.4L452.2 1403.3L452.2 1400.3L452.2 1397.3L452.2 1394.3L452.2 1391.3L452.2 1388.2L452.2 1385.2L452.3 1382.2L452.3 1379.2L452.3 1376.2L452.3 1373.2L452.3 1370.1L452.3 1367.1L452.3 1364.1L452.3 1361.1L452.3 1358.1L452.3 1355L452.3 1352L452.3 1349L452.3 1346L452.3 1343L452.3 1339.9L452.3 1336.9L452.3 1333.9L452.3 1330.9L452.4 1327.9L453.2 1324.9L453.2 1321.8L453.2 1318.8L453.2 1315.8L453.2 1312.8L453.2 1309.8L453.2 1306.7L453.2 1303.7L453.2 1300.7L453.2 1297.7L453.2 1294.7L453.2 1291.6L453.2 1288.6L453.2 1285.6L453.2 1282.6L454.1 1282.6L454.1 1285.6L454.1 1288.6L454.1 1291.6L454.1 1294.7L454.1 1297.7L454.1 1300.7L454.1 1303.7L454.1 1306.7L454.1 1309.8L454.1 1312.8L454.1 1315.8L454.1 1318.8L454.1 1321.8L454.1 1324.9L455 1327.9L455 1330.9L455 1333.9L455 1336.9L455 1339.9L455.1 1343L455.1 1346L455.1 1349L455.1 1352L455.1 1355L455.1 1358.1L455.1 1361.1L455.1 1364.1L455.1 1367.1L455.1 1370.1L455.1 1373.2L455.1 1376.2L455.1 1379.2L455.1 1382.2L455.1 1385.2L455.1 1388.2L455.2 1391.3L455.2 1394.3L455.2 1397.3L455.2 1400.3L455.2 1403.3L455.2 1406.4L455.2 1409.4L455.3 1412.4L455.3 1415.4L455.3 1418.4L455.3 1421.4L455.3 1424.5L455.4 1427.5L455.4 1430.5L455.4 1433.5L455.5 1436.5L455.5 1439.6L455.5 1442.6L455.6 1445.6L455.6 1448.6L455.7 1451.6L455.7 1454.7L455.7 1457.7L455.8 1460.7L455.8 1463.7L455.9 1466.7L455.9 1469.7L456 1472.8L456 1475.8L456.1 1478.8L456.2 1481.8L456.3 1484.8L456.5 1487.9L456.7 1490.9L456.9 1493.9L457.1 1496.9L457.3 1499.9L457.4 1503L457.4 1506L457.4 1509L457.3 1512L457.1 1515L456.9 1518L456.6 1521.1L456.2 1524.1L455.8 1527.1L455.5 1530.1L455.3 1533.1L455.2 1536.2L455.3 1539.2L455.6 1542.2L456.2 1545.2L457 1548.2L458.2 1551.3L459.6 1554.3L461.2 1557.3L463 1560.3L464.7 1563.3L466.3 1566.3L467.6 1569.4L468.4 1572.4L468.7 1575.4Z"/>
<path fill="#a9a400" d="M471.8 1575.4L472.4 1572.4L472.9 1569.4L473.5 1566.4L474 1563.3L474.6 1560.3L475.2 1557.3L475.8 1554.3L476.5 1551.3L477.3 1548.3L478 1545.3L478.7 1542.2L479.3 1539.2L479.9 1536.2L480.3 1533.2L480.7 1530.2L481 1527.2L481.4 1524.2L481.6 1521.1L481.9 1518.1L482.1 1515.1L482.3 1512.1L482.4 1509.1L482.5 1506.1L482.6 1503.1L482.7 1500L482.8 1497L482.9 1494L483 1491L483 1488L483.1 1485L483.1 1482L483.2 1478.9L483.3 1475.9L483.3 1472.9L483.4 1469.9L483.4 1466.9L483.5 1463.9L483.5 1460.9L483.5 1457.8L483.6 1454.8L483.6 1451.8L483.6 1448.8L483.7 1445.8L483.7 1442.8L483.8 1439.8L483.8 1436.7L483.8 1433.7L483.9 1430.7L484 1427.7L484 1424.7L484.1 1421.7L484.2 1418.7L484.2 1415.6L484.3 1412.6L484.4 1409.6L484.4 1406.6L484.5 1403.6L484.6 1400.6L484.6 1397.6L484.7 1394.5L484.8 1391.5L484.8 1388.5L484.9 1385.5L484.9 1382.5L485 1379.5L485 1376.5L485.1 1373.4L485.1 1370.4L485.1 1367.4L485.2 1364.4L485.2 1361.4L485.3 1358.4L485.3 1355.4L485.3 1352.3L485.4 1349.3L485.4 1346.3L485.5 1343.3L488.2 1343.3L488.2 1346.3L488.3 1349.3L488.3 1352.3L488.3 1355.4L488.4 1358.4L488.4 1361.4L488.5 1364.4L488.5 1367.4L488.5 1370.4L488.6 1373.4L488.6 1376.5L488.7 1379.5L488.7 1382.5L488.8 1385.5L488.8 1388.5L488.9 1391.5L488.9 1394.5L489 1397.6L489.1 1400.6L489.1 1403.6L489.2 1406.6L489.3 1409.6L489.3 1412.6L489.4 1415.6L489.5 1418.7L489.6 1421.7L489.6 1424.7L489.7 1427.7L489.7 1430.7L489.8 1433.7L489.8 1436.7L489.9 1439.8L489.9 1442.8L490 1445.8L490 1448.8L490 1451.8L490.1 1454.8L490.1 1457.8L490.1 1460.9L490.2 1463.9L490.2 1466.9L490.3 1469.9L490.3 1472.9L490.4 1475.9L490.4 1478.9L490.5 1482L490.6 1485L490.6 1488L490.7 1491L490.8 1494L490.8 1497L490.9 1500L491 1503.1L491.1 1506.1L491.3 1509.1L491.4 1512.1L491.6 1515.1L491.8 1518.1L492 1521.1L492.3 1524.2L492.6 1527.2L492.9 1530.2L493.3 1533.2L493.7 1536.2L494.3 1539.2L494.9 1542.2L495.7 1545.3L496.4 1548.3L497.1 1551.3L497.8 1554.3L498.4 1557.3L499 1560.3L499.6 1563.3L500.2 1566.4L500.7 1569.4L501.3 1572.4L501.8 1575.4Z"/>
<path fill="#9ea700" d="M505 1575.4L505 1572.4L505.3 1569.3L505.9 1566.3L506.6 1563.3L507.5 1560.2L508.5 1557.2L509.4 1554.2L510.3 1551.1L511.1 1548.1L511.7 1545.1L512.2 1542L512.4 1539L512.5 1536L512.5 1532.9L512.3 1529.9L512 1526.9L511.7 1523.8L511.4 1520.8L511.1 1517.8L511 1514.7L510.9 1511.7L511 1508.7L511 1505.6L511 1502.6L511 1499.5L511 1496.5L511 1493.5L511 1490.4L511 1487.4L511.2 1484.4L511.5 1481.3L511.8 1478.3L512.1 1475.3L512.5 1472.2L512.8 1469.2L513.2 1466.2L513.5 1463.1L513.7 1460.1L514 1457.1L514.3 1454L514.6 1451L514.9 1448L515.1 1444.9L515.4 1441.9L515.7 1438.9L515.9 1435.8L516.2 1432.8L516.4 1429.8L516.7 1426.7L516.9 1423.7L517.2 1420.7L517.4 1417.6L517.6 1414.6L517.8 1411.6L517.9 1408.5L518 1405.5L518.1 1402.5L518.1 1399.4L518.2 1396.4L518.3 1393.4L518.3 1390.3L518.4 1387.3L518.4 1384.3L518.5 1381.2L521.5 1381.2L521.5 1384.3L521.6 1387.3L521.6 1390.3L521.7 1393.4L521.7 1396.4L521.8 1399.4L521.8 1402.5L521.9 1405.5L522 1408.5L522.1 1411.6L522.3 1414.6L522.5 1417.6L522.7 1420.7L523 1423.7L523.2 1426.7L523.5 1429.8L523.8 1432.8L524 1435.8L524.2 1438.9L524.5 1441.9L524.8 1444.9L525 1448L525.3 1451L525.6 1454L525.9 1457.1L526.2 1460.1L526.4 1463.1L526.7 1466.2L527.1 1469.2L527.4 1472.2L527.8 1475.3L528.1 1478.3L528.4 1481.3L528.7 1484.4L528.9 1487.4L529 1490.4L529 1493.5L529 1496.5L529 1499.5L529 1502.6L529 1505.6L529 1508.7L529 1511.7L528.9 1514.7L528.8 1517.8L528.5 1520.8L528.2 1523.8L527.9 1526.9L527.6 1529.9L527.4 1532.9L527.4 1536L527.5 1539L527.7 1542L528.2 1545.1L528.9 1548.1L529.6 1551.1L530.5 1554.2L531.5 1557.2L532.4 1560.2L533.3 1563.3L534 1566.3L534.6 1569.3L535 1572.4L535 1575.4Z"/>
<path fill="#93aa00" d="M538.1 1575.4L538.3 1572.4L538.9 1569.3L539.9 1566.3L541.1 1563.3L542.5 1560.3L543.9 1557.2L545.2 1554.2L546.5 1551.2L547.4 1548.1L548.1 1545.1L548.5 1542.1L548.6 1539L548.4 1536L547.9 1533L547.3 1530L546.5 1526.9L545.7 1523.9L544.9 1520.9L544.3 1517.8L543.9 1514.8L543.7 1511.8L543.5 1508.7L543.2 1505.7L543.1 1502.7L543.1 1499.7L543.2 1496.6L543.3 1493.6L543.5 1490.6L543.7 1487.5L544 1484.5L544.2 1481.5L544.5 1478.5L544.8 1475.4L545.1 1472.4L545.4 1469.4L545.8 1466.3L546.2 1463.3L546.6 1460.3L547 1457.2L547.4 1454.2L547.8 1451.2L548.2 1448.2L548.5 1445.1L548.9 1442.1L549.2 1439.1L549.5 1436L549.8 1433L550.1 1430L550.4 1427L550.7 1423.9L550.9 1420.9L551 1417.9L551.2 1414.8L551.3 1411.8L551.4 1408.8L551.5 1405.7L551.6 1402.7L551.6 1399.7L551.7 1396.7L551.8 1393.6L552.6 1390.6L552.6 1387.6L552.6 1384.5L552.6 1381.5L552.6 1378.5L552.6 1375.4L552.6 1372.4L552.6 1369.4L552.6 1366.4L552.6 1363.3L552.6 1360.3L553.5 1360.3L553.5 1363.3L553.5 1366.4L553.5 1369.4L553.5 1372.4L553.5 1375.4L553.5 1378.5L553.5 1381.5L553.5 1384.5L553.5 1387.6L553.5 1390.6L554.4 1393.6L554.5 1396.7L554.5 1399.7L554.6 1402.7L554.7 1405.7L554.8 1408.8L554.9 1411.8L555 1414.8L555.1 1417.9L555.3 1420.9L555.5 1423.9L555.8 1427L556.1 1430L556.4 1433L556.7 1436L557 1439.1L557.3 1442.1L557.6 1445.1L558 1448.2L558.4 1451.2L558.8 1454.2L559.2 1457.2L559.6 1460.3L560 1463.3L560.4 1466.3L560.8 1469.4L561.1 1472.4L561.3 1475.4L561.6 1478.5L561.9 1481.5L562.2 1484.5L562.5 1487.5L562.7 1490.6L562.9 1493.6L563 1496.6L563.1 1499.7L563.1 1502.7L562.9 1505.7L562.7 1508.7L562.5 1511.8L562.3 1514.8L561.9 1517.8L561.2 1520.9L560.5 1523.9L559.7 1526.9L558.9 1530L558.3 1533L557.8 1536L557.6 1539L557.7 1542.1L558.1 1545.1L558.8 1548.1L559.7 1551.2L560.9 1554.2L562.3 1557.2L563.7 1560.3L565.1 1563.3L566.3 1566.3L567.3 1569.3L567.9 1572.4L568.1 1575.4Z"/>
<path fill="#86ac00" d="M575.7 1575.4L575.8 1572.4L575.9 1569.4L576 1566.4L576.1 1563.4L576.2 1560.4L576.2 1557.4L576.2 1554.4L576.1 1551.4L576 1548.3L575.8 1545.3L575.5 1542.3L575.3 1539.3L575.1 1536.3L574.8 1533.3L574.4 1530.3L573.9 1527.3L573.4 1524.3L573 1521.3L572.5 1518.3L572.2 1515.3L571.9 1512.3L571.7 1509.3L571.5 1506.3L571.4 1503.3L571.3 1500.3L571.2 1497.3L571.2 1494.2L571.4 1491.2L571.6 1488.2L571.9 1485.2L572.3 1482.2L572.7 1479.2L573.2 1476.2L573.6 1473.2L574.2 1470.2L575 1467.2L576 1464.2L577.1 1461.2L578.1 1458.2L578.9 1455.2L579.6 1452.2L580.3 1449.2L581 1446.2L581.6 1443.2L582.2 1440.1L582.6 1437.1L582.8 1434.1L583 1431.1L583.1 1428.1L583.2 1425.1L589.2 1425.1L589.4 1428.1L589.5 1431.1L589.6 1434.1L589.9 1437.1L590.3 1440.1L590.8 1443.2L591.4 1446.2L592.1 1449.2L592.8 1452.2L593.5 1455.2L594.4 1458.2L595.4 1461.2L596.4 1464.2L597.4 1467.2L598.2 1470.2L598.8 1473.2L599.3 1476.2L599.7 1479.2L600.2 1482.2L600.5 1485.2L600.9 1488.2L601.1 1491.2L601.2 1494.2L601.2 1497.3L601.2 1500.3L601.1 1503.3L600.9 1506.3L600.8 1509.3L600.6 1512.3L600.3 1515.3L599.9 1518.3L599.5 1521.3L599 1524.3L598.5 1527.3L598.1 1530.3L597.7 1533.3L597.4 1536.3L597.1 1539.3L596.9 1542.3L596.7 1545.3L596.5 1548.3L596.3 1551.4L596.2 1554.4L596.2 1557.4L596.3 1560.4L596.3 1563.4L596.4 1566.4L596.5 1569.4L596.6 1572.4L596.7 1575.4Z"/>
<path fill="#78af00" d="M604.4 1575.4L604.7 1572.4L605.6 1569.4L607.1 1566.3L608.8 1563.3L610.7 1560.3L612.5 1557.3L614.2 1554.2L615.6 1551.2L616.6 1548.2L617.4 1545.2L617.8 1542.1L617.9 1539.1L617.7 1536.1L617.3 1533.1L616.8 1530L616.1 1527L615.3 1524L614.6 1521L613.9 1517.9L613.4 1514.9L613.2 1511.9L613 1508.9L612.9 1505.9L612.9 1502.8L613 1499.8L613.2 1496.8L613.5 1493.8L613.7 1490.7L614 1487.7L614.2 1484.7L614.4 1481.7L614.5 1478.6L614.6 1475.6L614.7 1472.6L614.8 1469.6L614.9 1466.5L615 1463.5L615.1 1460.5L615.2 1457.5L615.3 1454.4L615.5 1451.4L615.6 1448.4L615.8 1445.4L616 1442.4L616.1 1439.3L616.3 1436.3L616.5 1433.3L616.6 1430.3L616.8 1427.2L616.9 1424.2L617.1 1421.2L617.2 1418.2L617.4 1415.1L617.6 1412.1L617.7 1409.1L617.9 1406.1L618 1403L618.9 1400L618.9 1397L618.9 1394L618.9 1390.9L618.9 1387.9L618.9 1384.9L618.9 1381.9L618.9 1378.9L618.9 1375.8L618.9 1372.8L618.9 1369.8L618.9 1366.8L618.9 1363.7L618.9 1360.7L618.9 1357.7L618.9 1354.7L618.9 1351.6L618.9 1348.6L618.9 1345.6L618.9 1342.6L618.9 1339.5L618.9 1336.5L618.9 1333.5L618.9 1330.5L618.9 1327.4L618.9 1324.4L618.9 1321.4L618.9 1318.4L618.9 1315.4L618.9 1312.3L618.9 1309.3L618.9 1306.3L618.9 1303.3L618.9 1300.2L618.9 1297.2L618.9 1294.2L618.9 1291.2L618.9 1288.1L618.9 1285.1L618.9 1282.1L618.9 1279.1L618.9 1276L618.9 1273L618.9 1270L618.9 1267L618.9 1263.9L618.9 1260.9L619.8 1260.9L619.8 1263.9L619.8 1267L619.8 1270L619.8 1273L619.8 1276L619.8 1279.1L619.8 1282.1L619.8 1285.1L619.8 1288.1L619.8 1291.2L619.8 1294.2L619.8 1297.2L619.8 1300.2L619.8 1303.3L619.8 1306.3L619.8 1309.3L619.8 1312.3L619.8 1315.4L619.8 1318.4L619.8 1321.4L619.8 1324.4L619.8 1327.4L619.8 1330.5L619.8 1333.5L619.8 1336.5L619.8 1339.5L619.8 1342.6L619.8 1345.6L619.8 1348.6L619.8 1351.6L619.8 1354.7L619.8 1357.7L619.8 1360.7L619.8 1363.7L619.8 1366.8L619.8 1369.8L619.8 1372.8L619.8 1375.8L619.8 1378.9L619.8 1381.9L619.8 1384.9L619.8 1387.9L619.8 1390.9L619.8 1394L619.8 1397L619.8 1400L620.7 1403L620.9 1406.1L621 1409.1L621.2 1412.1L621.3 1415.1L621.5 1418.2L621.6 1421.2L621.8 1424.2L621.9 1427.2L622.1 1430.3L622.2 1433.3L622.4 1436.3L622.6 1439.3L622.8 1442.4L622.9 1445.4L623.1 1448.4L623.2 1451.4L623.4 1454.4L623.5 1457.5L623.6 1460.5L623.7 1463.5L623.8 1466.5L623.9 1469.6L624 1472.6L624.1 1475.6L624.2 1478.6L624.3 1481.7L624.5 1484.7L624.7 1487.7L625 1490.7L625.3 1493.8L625.5 1496.8L625.7 1499.8L625.8 1502.8L625.9 1505.9L625.7 1508.9L625.5 1511.9L625.3 1514.9L624.8 1517.9L624.2 1521L623.4 1524L622.7 1527L622 1530L621.4 1533.1L621 1536.1L620.9 1539.1L621 1542.1L621.4 1545.2L622.1 1548.2L623.1 1551.2L624.5 1554.2L626.2 1557.3L628 1560.3L629.9 1563.3L631.7 1566.3L633.1 1569.4L634 1572.4L634.4 1575.4Z"/>
<path fill="#67b100" d="M637.5 1575.4L637.7 1572.4L637.8 1569.4L638 1566.3L638.1 1563.3L638.3 1560.3L638.5 1557.3L638.7 1554.3L638.9 1551.3L639.2 1548.2L639.4 1545.2L639.7 1542.2L640 1539.2L640.3 1536.2L640.6 1533.2L640.9 1530.1L641.1 1527.1L641.4 1524.1L641.7 1521.1L642 1518.1L642.2 1515L642.5 1512L642.8 1509L643 1506L643.3 1503L643.6 1500L643.8 1496.9L644.1 1493.9L644.4 1490.9L644.6 1487.9L644.9 1484.9L645.2 1481.9L645.4 1478.8L645.7 1475.8L645.9 1472.8L646.1 1469.8L646.3 1466.8L646.5 1463.7L646.6 1460.7L646.8 1457.7L646.9 1454.7L647.1 1451.7L647.2 1448.7L647.4 1445.6L647.5 1442.6L647.6 1439.6L647.7 1436.6L647.8 1433.6L647.9 1430.6L648 1427.5L648 1424.5L648.1 1421.5L648.1 1418.5L648.2 1415.5L648.3 1412.4L648.3 1409.4L648.4 1406.4L648.4 1403.4L648.4 1400.4L648.5 1397.4L648.5 1394.3L648.5 1391.3L648.5 1388.3L648.5 1385.3L648.5 1382.3L648.5 1379.3L648.5 1376.2L648.5 1373.2L648.5 1370.2L656.5 1370.2L656.5 1373.2L656.5 1376.2L656.5 1379.3L656.5 1382.3L656.5 1385.3L656.5 1388.3L656.5 1391.3L656.5 1394.3L656.5 1397.4L656.6 1400.4L656.6 1403.4L656.6 1406.4L656.7 1409.4L656.7 1412.4L656.8 1415.5L656.8 1418.5L656.9 1421.5L657 1424.5L657 1427.5L657.1 1430.6L657.2 1433.6L657.3 1436.6L657.4 1439.6L657.5 1442.6L657.6 1445.6L657.8 1448.7L657.9 1451.7L658 1454.7L658.2 1457.7L658.4 1460.7L658.5 1463.7L658.7 1466.8L658.9 1469.8L659.1 1472.8L659.3 1475.8L659.6 1478.8L659.8 1481.9L660.1 1484.9L660.4 1487.9L660.6 1490.9L660.9 1493.9L661.2 1496.9L661.4 1500L661.7 1503L662 1506L662.2 1509L662.5 1512L662.8 1515L663 1518.1L663.3 1521.1L663.6 1524.1L663.9 1527.1L664.1 1530.1L664.4 1533.2L664.7 1536.2L665 1539.2L665.3 1542.2L665.6 1545.2L665.8 1548.2L666.1 1551.3L666.3 1554.3L666.5 1557.3L666.7 1560.3L666.9 1563.3L667 1566.3L667.2 1569.4L667.3 1572.4L667.5 1575.4Z"/>
<path fill="#53b400" d="M670.6 1575.4L670.6 1572.4L670.6 1569.4L670.6 1566.4L670.9 1563.4L671.4 1560.4L671.9 1557.4L672.4 1554.3L672.9 1551.3L673.2 1548.3L673.5 1545.3L673.7 1542.3L673.8 1539.3L673.7 1536.3L673.6 1533.3L673.4 1530.3L673.1 1527.3L672.7 1524.3L672.4 1521.3L672.2 1518.3L672.1 1515.3L672.1 1512.2L672.1 1509.2L672.2 1506.2L672.4 1503.2L672.7 1500.2L673 1497.2L673.3 1494.2L673.6 1491.2L674.1 1488.2L674.6 1485.2L675.2 1482.2L675.8 1479.2L676.5 1476.2L677.2 1473.2L677.9 1470.1L678.5 1467.1L679 1464.1L679.5 1461.1L679.9 1458.1L680.4 1455.1L680.9 1452.1L681.3 1449.1L681.7 1446.1L682 1443.1L682.3 1440.1L682.5 1437.1L682.7 1434.1L682.8 1431.1L682.9 1428L683.1 1425L683.2 1422L683.3 1419L683.3 1416L683.4 1413L683.5 1410L683.6 1407L683.6 1404L683.7 1401L683.7 1398L683.8 1395L683.8 1392L683.9 1388.9L683.9 1385.9L683.9 1382.9L684 1379.9L684 1376.9L684 1373.9L684.1 1370.9L684.1 1367.9L684.1 1364.9L684.1 1361.9L684.2 1358.9L684.2 1355.9L684.2 1352.9L684.2 1349.9L684.2 1346.8L684.2 1343.8L684.2 1340.8L684.2 1337.8L684.2 1334.8L684.2 1331.8L684.2 1328.8L684.3 1325.8L684.3 1322.8L684.3 1319.8L684.3 1316.8L684.3 1313.8L684.3 1310.8L684.3 1307.8L684.3 1304.7L684.3 1301.7L684.3 1298.7L684.3 1295.7L684.3 1292.7L684.3 1289.7L684.3 1286.7L687 1286.7L687 1289.7L687 1292.7L687 1295.7L687 1298.7L687 1301.7L687 1304.7L687 1307.8L687 1310.8L687 1313.8L687 1316.8L687 1319.8L687 1322.8L687 1325.8L687 1328.8L687 1331.8L687 1334.8L687 1337.8L687 1340.8L687 1343.8L687 1346.8L687.1 1349.9L687.1 1352.9L687.1 1355.9L687.1 1358.9L687.1 1361.9L687.1 1364.9L687.2 1367.9L687.2 1370.9L687.2 1373.9L687.3 1376.9L687.3 1379.9L687.3 1382.9L687.3 1385.9L687.4 1388.9L687.4 1392L687.5 1395L687.5 1398L687.6 1401L687.6 1404L687.7 1407L687.8 1410L687.8 1413L687.9 1416L688 1419L688.1 1422L688.2 1425L688.3 1428L688.4 1431.1L688.6 1434.1L688.7 1437.1L689 1440.1L689.2 1443.1L689.6 1446.1L690 1449.1L690.4 1452.1L690.9 1455.1L691.3 1458.1L691.8 1461.1L692.3 1464.1L692.8 1467.1L693.4 1470.1L694.1 1473.2L694.8 1476.2L695.4 1479.2L696.1 1482.2L696.7 1485.2L697.2 1488.2L697.6 1491.2L698 1494.2L698.3 1497.2L698.6 1500.2L698.9 1503.2L699 1506.2L699.1 1509.2L699.2 1512.2L699.2 1515.3L699.1 1518.3L698.8 1521.3L698.5 1524.3L698.2 1527.3L697.9 1530.3L697.7 1533.3L697.5 1536.3L697.5 1539.3L697.5 1542.3L697.7 1545.3L698 1548.3L698.4 1551.3L698.9 1554.3L699.4 1557.4L699.9 1560.4L700.3 1563.4L700.6 1566.4L700.6 1569.4L700.6 1572.4L700.6 1575.4Z"/>
<path fill="#36b600" d="M703.8 1575.4L703.9 1572.4L704.4 1569.3L705.2 1566.3L706.3 1563.3L707.5 1560.3L708.7 1557.2L709.9 1554.2L711 1551.2L711.8 1548.2L712.4 1545.1L712.7 1542.1L712.8 1539.1L712.5 1536.1L712 1533L711.4 1530L710.6 1527L709.8 1523.9L709.1 1520.9L708.5 1517.9L708 1514.9L707.8 1511.8L707.6 1508.8L707.4 1505.8L707.3 1502.8L707.3 1499.7L707.4 1496.7L707.6 1493.7L707.9 1490.7L708.3 1487.6L708.7 1484.6L709.1 1481.6L709.6 1478.5L710 1475.5L710.3 1472.5L710.6 1469.5L710.9 1466.4L711.1 1463.4L711.4 1460.4L711.7 1457.4L712 1454.3L712.2 1451.3L712.5 1448.3L712.7 1445.3L713 1442.2L713.2 1439.2L713.4 1436.2L713.6 1433.1L713.8 1430.1L714 1427.1L714.2 1424.1L714.5 1421L714.7 1418L714.9 1415L715.1 1412L715.4 1408.9L715.6 1405.9L715.9 1402.9L716.1 1399.9L716.3 1396.8L716.5 1393.8L716.7 1390.8L716.8 1387.7L716.9 1384.7L717 1381.7L717 1378.7L717.1 1375.6L717.2 1372.6L717.2 1369.6L717.3 1366.6L717.3 1363.5L717.4 1360.5L717.4 1357.5L717.5 1354.5L718.3 1351.4L719.2 1351.4L720.1 1354.5L720.1 1357.5L720.2 1360.5L720.2 1363.5L720.3 1366.6L720.3 1369.6L720.4 1372.6L720.4 1375.6L720.5 1378.7L720.6 1381.7L720.6 1384.7L720.7 1387.7L720.8 1390.8L721 1393.8L721.2 1396.8L721.4 1399.9L721.7 1402.9L721.9 1405.9L722.2 1408.9L722.4 1412L722.6 1415L722.9 1418L723.1 1421L723.3 1424.1L723.5 1427.1L723.7 1430.1L723.9 1433.1L724.1 1436.2L724.3 1439.2L724.6 1442.2L724.8 1445.3L725.1 1448.3L725.3 1451.3L725.6 1454.3L725.8 1457.4L726.1 1460.4L726.4 1463.4L726.7 1466.4L727 1469.5L727.2 1472.5L727.6 1475.5L728 1478.5L728.4 1481.6L728.8 1484.6L729.2 1487.6L729.6 1490.7L729.9 1493.7L730.1 1496.7L730.3 1499.7L730.2 1502.8L730.1 1505.8L729.9 1508.8L729.7 1511.8L729.5 1514.9L729.1 1517.9L728.4 1520.9L727.7 1523.9L726.9 1527L726.1 1530L725.5 1533L725 1536.1L724.8 1539.1L724.8 1542.1L725.1 1545.1L725.7 1548.2L726.6 1551.2L727.6 1554.2L728.8 1557.2L730.1 1560.3L731.3 1563.3L732.3 1566.3L733.1 1569.3L733.6 1572.4L733.8 1575.4Z"/>
<path fill="#00b818" d="M736.9 1575.4L737.1 1572.4L737.3 1569.4L737.5 1566.3L737.7 1563.3L737.9 1560.3L738.1 1557.3L738.3 1554.3L738.6 1551.3L738.8 1548.2L739.1 1545.2L739.4 1542.2L739.8 1539.2L740.1 1536.2L740.5 1533.2L740.9 1530.1L741.3 1527.1L741.7 1524.1L742 1521.1L742.3 1518.1L742.6 1515L742.9 1512L743.1 1509L743.4 1506L743.7 1503L743.9 1500L744.1 1496.9L744.3 1493.9L744.4 1490.9L744.5 1487.9L744.6 1484.9L744.7 1481.9L744.8 1478.8L744.9 1475.8L745 1472.8L745.1 1469.8L745.1 1466.8L745.2 1463.7L745.2 1460.7L745.2 1457.7L745.2 1454.7L745.2 1451.7L745.2 1448.7L745.2 1445.6L745.2 1442.6L745.2 1439.6L745.2 1436.6L745.1 1433.6L745.1 1430.6L745.1 1427.5L745.1 1424.5L745.1 1421.5L745 1418.5L745 1415.5L745 1412.4L745 1409.4L745 1406.4L745 1403.4L745 1400.4L745 1397.4L745 1394.3L745 1391.3L745 1388.3L745 1385.3L745 1382.3L745 1379.3L745 1376.2L745 1373.2L745 1370.2L758.8 1370.2L758.8 1373.2L758.8 1376.2L758.8 1379.3L758.8 1382.3L758.8 1385.3L758.8 1388.3L758.8 1391.3L758.8 1394.3L758.8 1397.4L758.8 1400.4L758.8 1403.4L758.8 1406.4L758.8 1409.4L758.8 1412.4L758.8 1415.5L758.8 1418.5L758.7 1421.5L758.7 1424.5L758.7 1427.5L758.7 1430.6L758.7 1433.6L758.6 1436.6L758.6 1439.6L758.6 1442.6L758.6 1445.6L758.6 1448.7L758.6 1451.7L758.6 1454.7L758.6 1457.7L758.6 1460.7L758.6 1463.7L758.7 1466.8L758.7 1469.8L758.8 1472.8L758.9 1475.8L759 1478.8L759.1 1481.9L759.2 1484.9L759.3 1487.9L759.4 1490.9L759.5 1493.9L759.7 1496.9L759.9 1500L760.1 1503L760.4 1506L760.7 1509L760.9 1512L761.2 1515L761.5 1518.1L761.8 1521.1L762.1 1524.1L762.5 1527.1L762.9 1530.1L763.3 1533.2L763.7 1536.2L764 1539.2L764.4 1542.2L764.7 1545.2L765 1548.2L765.2 1551.3L765.5 1554.3L765.7 1557.3L765.9 1560.3L766.1 1563.3L766.3 1566.3L766.5 1569.4L766.7 1572.4L766.9 1575.4Z"/>
<path fill="none" stroke-width="1.9" d="M785 1575.4V1472.8M776 1575.4H794M770 1510.7H800M776 1472.8H797"/>
<path fill="#00bb4d" d="M803.2 1575.4L803.3 1572.4L803.5 1569.3L803.6 1566.3L803.8 1563.3L803.9 1560.2L804.1 1557.2L804.3 1554.2L804.4 1551.1L804.6 1548.1L804.8 1545.1L805 1542L805.3 1539L805.5 1536L805.8 1532.9L806 1529.9L806.3 1526.9L806.5 1523.8L806.8 1520.8L807.1 1517.8L807.3 1514.7L807.6 1511.7L807.8 1508.7L808.1 1505.7L808.3 1502.6L808.6 1499.6L808.8 1496.6L809.1 1493.5L809.3 1490.5L809.5 1487.5L809.8 1484.4L810 1481.4L810.2 1478.4L810.5 1475.3L810.7 1472.3L810.9 1469.3L811.2 1466.2L811.4 1463.2L811.6 1460.2L811.8 1457.1L812.1 1454.1L812.3 1451.1L812.5 1448L812.7 1445L812.9 1442L813 1438.9L813.1 1435.9L813.3 1432.9L813.4 1429.8L813.5 1426.8L813.6 1423.8L813.7 1420.7L813.8 1417.7L813.9 1414.7L813.9 1411.6L814 1408.6L814.1 1405.6L814.2 1402.5L814.2 1399.5L814.3 1396.5L814.3 1393.4L814.4 1390.4L814.4 1387.4L814.5 1384.3L814.5 1381.3L814.5 1378.3L814.6 1375.3L814.6 1372.2L814.6 1369.2L814.7 1366.2L814.7 1363.1L814.7 1360.1L814.7 1357.1L814.8 1354L814.8 1351L814.8 1348L814.8 1344.9L814.9 1341.9L814.9 1338.9L814.9 1335.8L821.4 1335.8L821.4 1338.9L821.5 1341.9L821.5 1344.9L821.5 1348L821.5 1351L821.6 1354L821.6 1357.1L821.6 1360.1L821.6 1363.1L821.7 1366.2L821.7 1369.2L821.7 1372.2L821.8 1375.3L821.8 1378.3L821.8 1381.3L821.9 1384.3L821.9 1387.4L821.9 1390.4L822 1393.4L822 1396.5L822.1 1399.5L822.2 1402.5L822.2 1405.6L822.3 1408.6L822.4 1411.6L822.5 1414.7L822.6 1417.7L822.7 1420.7L822.8 1423.8L822.9 1426.8L823 1429.8L823.1 1432.9L823.2 1435.9L823.3 1438.9L823.5 1442L823.7 1445L823.9 1448L824.1 1451.1L824.3 1454.1L824.5 1457.1L824.7 1460.2L825 1463.2L825.2 1466.2L825.4 1469.3L825.6 1472.3L825.9 1475.3L826.1 1478.4L826.3 1481.4L826.6 1484.4L826.8 1487.5L827 1490.5L827.3 1493.5L827.5 1496.6L827.8 1499.6L828 1502.6L828.3 1505.7L828.5 1508.7L828.8 1511.7L829 1514.7L829.3 1517.8L829.5 1520.8L829.8 1523.8L830.1 1526.9L830.3 1529.9L830.6 1532.9L830.8 1536L831.1 1539L831.3 1542L831.5 1545.1L831.7 1548.1L831.9 1551.1L832.1 1554.2L832.2 1557.2L832.4 1560.2L832.6 1563.3L832.7 1566.3L832.9 1569.3L833 1572.4L833.2 1575.4Z"/>
<path fill="#00bd5e" d="M836.3 1575.4L836.5 1572.4L837.1 1569.4L838.1 1566.4L839.3 1563.4L840.7 1560.4L842.1 1557.4L843.5 1554.4L844.7 1551.3L845.8 1548.3L846.6 1545.3L847.1 1542.3L847.3 1539.3L847.3 1536.3L847 1533.3L846.6 1530.3L846 1527.3L845.4 1524.3L844.8 1521.3L844.3 1518.3L843.9 1515.3L843.7 1512.3L843.6 1509.2L843.4 1506.2L843.3 1503.2L843.3 1500.2L843.4 1497.2L843.5 1494.2L843.6 1491.2L843.8 1488.2L844 1485.2L844.2 1482.2L844.4 1479.2L844.6 1476.2L844.8 1473.2L844.9 1470.2L845 1467.2L845.1 1464.1L845.2 1461.1L845.3 1458.1L845.4 1455.1L845.5 1452.1L845.6 1449.1L845.8 1446.1L845.9 1443.1L846 1440.1L846.1 1437.1L846.2 1434.1L846.2 1431.1L846.3 1428.1L846.5 1425.1L846.6 1422.1L846.7 1419L846.8 1416L847 1413L847.2 1410L847.4 1407L847.6 1404L847.9 1401L848.1 1398L848.4 1395L848.6 1392L848.8 1389L849 1386L849.2 1383L849.4 1380L849.6 1376.9L849.8 1373.9L849.9 1370.9L850.9 1367.9L850.9 1364.9L850.9 1361.9L850.9 1358.9L850.9 1355.9L850.9 1352.9L850.9 1349.9L850.9 1346.9L850.9 1343.9L850.9 1340.9L850.9 1337.9L850.9 1334.9L850.9 1331.8L850.9 1328.8L850.9 1325.8L850.9 1322.8L850.9 1319.8L850.9 1316.8L850.9 1313.8L850.9 1310.8L851.8 1310.8L851.8 1313.8L851.8 1316.8L851.8 1319.8L851.8 1322.8L851.8 1325.8L851.8 1328.8L851.8 1331.8L851.8 1334.9L851.8 1337.9L851.8 1340.9L851.8 1343.9L851.8 1346.9L851.8 1349.9L851.8 1352.9L851.8 1355.9L851.8 1358.9L851.8 1361.9L851.8 1364.9L851.8 1367.9L852.7 1370.9L852.8 1373.9L853 1376.9L853.2 1380L853.4 1383L853.6 1386L853.8 1389L854 1392L854.2 1395L854.5 1398L854.7 1401L855 1404L855.2 1407L855.4 1410L855.6 1413L855.8 1416L855.9 1419L856 1422.1L856.2 1425.1L856.3 1428.1L856.4 1431.1L856.5 1434.1L856.6 1437.1L856.7 1440.1L856.8 1443.1L856.9 1446.1L857 1449.1L857.1 1452.1L857.2 1455.1L857.3 1458.1L857.4 1461.1L857.5 1464.1L857.6 1467.2L857.7 1470.2L857.8 1473.2L858 1476.2L858.2 1479.2L858.4 1482.2L858.6 1485.2L858.8 1488.2L859 1491.2L859.2 1494.2L859.3 1497.2L859.3 1500.2L859.3 1503.2L859.2 1506.2L859 1509.2L858.9 1512.3L858.7 1515.3L858.3 1518.3L857.8 1521.3L857.2 1524.3L856.6 1527.3L856.1 1530.3L855.6 1533.3L855.4 1536.3L855.3 1539.3L855.5 1542.3L856.1 1545.3L856.8 1548.3L857.9 1551.3L859.1 1554.4L860.5 1557.4L862 1560.4L863.3 1563.4L864.6 1566.4L865.5 1569.4L866.1 1572.4L866.3 1575.4Z"/>
<path fill="#00be6d" d="M869.4 1575.4L869.4 1572.4L869.4 1569.4L869.4 1566.4L869.6 1563.4L870.1 1560.4L870.5 1557.4L871 1554.4L871.4 1551.4L871.7 1548.3L871.9 1545.3L872 1542.3L872.1 1539.3L871.9 1536.3L871.7 1533.3L871.4 1530.3L871.1 1527.3L870.7 1524.3L870.3 1521.3L870.1 1518.3L869.9 1515.3L869.9 1512.3L869.9 1509.3L870 1506.3L870.1 1503.3L870.3 1500.3L870.5 1497.2L870.7 1494.2L870.9 1491.2L871.2 1488.2L871.5 1485.2L871.9 1482.2L872.3 1479.2L872.7 1476.2L873.1 1473.2L873.5 1470.2L873.9 1467.2L874.3 1464.2L874.7 1461.2L875.1 1458.2L875.5 1455.2L875.9 1452.2L876.2 1449.2L876.6 1446.1L877 1443.1L877.4 1440.1L877.7 1437.1L878.1 1434.1L878.4 1431.1L878.8 1428.1L879.1 1425.1L879.5 1422.1L879.8 1419.1L880.1 1416.1L880.4 1413.1L880.7 1410.1L881 1407.1L881.2 1404.1L881.4 1401.1L881.7 1398.1L881.9 1395L882.1 1392L882.3 1389L882.5 1386L882.6 1383L882.7 1380L882.7 1377L882.8 1374L882.8 1371L882.9 1368L882.9 1365L882.9 1362L883 1359L883 1356L883 1353L883 1350L883 1347L883.1 1343.9L883.1 1340.9L883.1 1337.9L883.1 1334.9L884 1331.9L884 1328.9L884.9 1328.9L884.9 1331.9L885.7 1334.9L885.8 1337.9L885.8 1340.9L885.8 1343.9L885.8 1347L885.9 1350L885.9 1353L885.9 1356L885.9 1359L886 1362L886 1365L886 1368L886.1 1371L886.1 1374L886.2 1377L886.2 1380L886.3 1383L886.4 1386L886.6 1389L886.8 1392L887 1395L887.2 1398.1L887.4 1401.1L887.7 1404.1L887.9 1407.1L888.2 1410.1L888.5 1413.1L888.8 1416.1L889.1 1419.1L889.4 1422.1L889.7 1425.1L890.1 1428.1L890.5 1431.1L890.8 1434.1L891.2 1437.1L891.5 1440.1L891.9 1443.1L892.3 1446.1L892.6 1449.2L893 1452.2L893.4 1455.2L893.8 1458.2L894.2 1461.2L894.5 1464.2L894.9 1467.2L895.4 1470.2L895.8 1473.2L896.2 1476.2L896.6 1479.2L897 1482.2L897.4 1485.2L897.7 1488.2L897.9 1491.2L898.2 1494.2L898.4 1497.2L898.6 1500.3L898.8 1503.3L898.9 1506.3L898.9 1509.3L899 1512.3L899 1515.3L898.8 1518.3L898.5 1521.3L898.2 1524.3L897.8 1527.3L897.4 1530.3L897.2 1533.3L896.9 1536.3L896.8 1539.3L896.8 1542.3L897 1545.3L897.2 1548.3L897.5 1551.4L897.9 1554.4L898.4 1557.4L898.8 1560.4L899.3 1563.4L899.4 1566.4L899.4 1569.4L899.4 1572.4L899.4 1575.4Z"/>
<path fill="#00bf7b" d="M902.6 1575.4L902.6 1572.4L902.6 1569.3L902.6 1566.3L902.7 1563.3L902.7 1560.3L902.7 1557.2L902.7 1554.2L902.7 1551.2L902.8 1548.1L902.8 1545.1L902.8 1542.1L902.8 1539L902.8 1536L902.9 1533L902.9 1530L902.9 1526.9L902.9 1523.9L902.9 1520.9L902.9 1517.8L902.9 1514.8L903 1511.8L903 1508.7L903 1505.7L903.1 1502.7L903.1 1499.7L903.2 1496.6L903.3 1493.6L903.4 1490.6L903.6 1487.5L903.7 1484.5L903.9 1481.5L904.1 1478.5L904.4 1475.4L904.6 1472.4L904.9 1469.4L905.2 1466.3L905.5 1463.3L905.9 1460.3L906.3 1457.2L906.8 1454.2L907.2 1451.2L907.6 1448.2L908 1445.1L908.4 1442.1L908.8 1439.1L909.2 1436L909.6 1433L910 1430L910.4 1427L910.8 1423.9L911.1 1420.9L911.5 1417.9L911.7 1414.8L912 1411.8L912.3 1408.8L912.5 1405.7L912.7 1402.7L913 1399.7L913.2 1396.7L913.3 1393.6L913.5 1390.6L913.6 1387.6L913.7 1384.5L913.8 1381.5L913.9 1378.5L914 1375.4L914 1372.4L914.1 1369.4L914.2 1366.4L914.2 1363.3L914.3 1360.3L920.8 1360.3L920.9 1363.3L921 1366.4L921 1369.4L921.1 1372.4L921.2 1375.4L921.3 1378.5L921.3 1381.5L921.4 1384.5L921.5 1387.6L921.7 1390.6L921.8 1393.6L922 1396.7L922.2 1399.7L922.4 1402.7L922.6 1405.7L922.9 1408.8L923.1 1411.8L923.4 1414.8L923.7 1417.9L924 1420.9L924.4 1423.9L924.7 1427L925.1 1430L925.5 1433L925.9 1436L926.3 1439.1L926.8 1442.1L927.1 1445.1L927.5 1448.2L928 1451.2L928.4 1454.2L928.8 1457.2L929.2 1460.3L929.6 1463.3L930 1466.3L930.3 1469.4L930.6 1472.4L930.8 1475.4L931 1478.5L931.2 1481.5L931.4 1484.5L931.6 1487.5L931.8 1490.6L931.9 1493.6L932 1496.6L932.1 1499.7L932.1 1502.7L932.1 1505.7L932.2 1508.7L932.2 1511.8L932.2 1514.8L932.2 1517.8L932.2 1520.9L932.2 1523.9L932.3 1526.9L932.3 1530L932.3 1533L932.3 1536L932.3 1539L932.4 1542.1L932.4 1545.1L932.4 1548.1L932.4 1551.2L932.4 1554.2L932.5 1557.2L932.5 1560.3L932.5 1563.3L932.5 1566.3L932.5 1569.3L932.6 1572.4L932.6 1575.4Z"/>
<path fill="#00c088" d="M935.7 1575.4L935.8 1572.4L935.8 1569.3L935.8 1566.3L935.9 1563.3L935.9 1560.2L936 1557.2L936 1554.2L936 1551.1L936.1 1548.1L936.1 1545.1L936.2 1542L936.2 1539L936.2 1536L936.3 1532.9L936.3 1529.9L936.3 1526.9L936.4 1523.8L936.4 1520.8L936.4 1517.8L936.5 1514.7L936.5 1511.7L936.6 1508.7L936.6 1505.7L936.7 1502.6L936.7 1499.6L936.8 1496.6L936.9 1493.5L937.1 1490.5L937.2 1487.5L937.4 1484.4L937.6 1481.4L937.8 1478.4L938 1475.3L938.2 1472.3L938.5 1469.3L938.8 1466.2L939.2 1463.2L939.6 1460.2L940 1457.1L940.4 1454.1L940.9 1451.1L941.3 1448L941.7 1445L942.1 1442L942.5 1438.9L942.9 1435.9L943.3 1432.9L943.7 1429.8L944.1 1426.8L944.5 1423.8L944.8 1420.7L945.1 1417.7L945.4 1414.7L945.6 1411.6L945.8 1408.6L946 1405.6L946.1 1402.5L946.3 1399.5L946.4 1396.5L946.5 1393.4L946.7 1390.4L946.7 1387.4L946.8 1384.3L946.9 1381.3L947 1378.3L947 1375.3L947.1 1372.2L947.2 1369.2L947.2 1366.2L947.3 1363.1L947.3 1360.1L947.4 1357.1L947.4 1354L947.5 1351L947.5 1348L947.6 1344.9L947.6 1341.9L947.7 1338.9L947.7 1335.8L953.7 1335.8L953.8 1338.9L953.8 1341.9L953.9 1344.9L953.9 1348L954 1351L954 1354L954.1 1357.1L954.1 1360.1L954.2 1363.1L954.2 1366.2L954.3 1369.2L954.3 1372.2L954.4 1375.3L954.4 1378.3L954.5 1381.3L954.6 1384.3L954.7 1387.4L954.8 1390.4L954.9 1393.4L955 1396.5L955.1 1399.5L955.3 1402.5L955.5 1405.6L955.7 1408.6L955.9 1411.6L956.1 1414.7L956.3 1417.7L956.6 1420.7L956.9 1423.8L957.3 1426.8L957.7 1429.8L958.1 1432.9L958.5 1435.9L959 1438.9L959.4 1442L959.8 1445L960.2 1448L960.6 1451.1L961 1454.1L961.4 1457.1L961.8 1460.2L962.2 1463.2L962.6 1466.2L962.9 1469.3L963.2 1472.3L963.4 1475.3L963.6 1478.4L963.8 1481.4L964 1484.4L964.2 1487.5L964.3 1490.5L964.5 1493.5L964.6 1496.6L964.7 1499.6L964.8 1502.6L964.8 1505.7L964.9 1508.7L964.9 1511.7L964.9 1514.7L965 1517.8L965 1520.8L965 1523.8L965.1 1526.9L965.1 1529.9L965.1 1532.9L965.2 1536L965.2 1539L965.3 1542L965.3 1545.1L965.3 1548.1L965.4 1551.1L965.4 1554.2L965.5 1557.2L965.5 1560.2L965.5 1563.3L965.6 1566.3L965.6 1569.3L965.7 1572.4L965.7 1575.4Z"/>
<path fill="#00c094" d="M968.8 1575.4L969 1572.4L969.2 1569.3L969.3 1566.3L969.5 1563.3L969.6 1560.3L969.8 1557.2L969.9 1554.2L970.1 1551.2L970.3 1548.1L970.5 1545.1L970.7 1542.1L970.9 1539L971.2 1536L971.4 1533L971.7 1530L971.9 1526.9L972.2 1523.9L972.5 1520.9L972.7 1517.8L973 1514.8L973.3 1511.8L973.5 1508.7L973.8 1505.7L974.1 1502.7L974.4 1499.7L974.7 1496.6L974.9 1493.6L975.2 1490.6L975.5 1487.5L975.7 1484.5L975.9 1481.5L976.1 1478.5L976.2 1475.4L976.4 1472.4L976.5 1469.4L976.7 1466.3L976.8 1463.3L976.9 1460.3L977 1457.2L977.1 1454.2L977.1 1451.2L977.2 1448.2L977.2 1445.1L977.3 1442.1L977.3 1439.1L977.4 1436L977.4 1433L977.5 1430L977.5 1427L977.5 1423.9L977.5 1420.9L977.6 1417.9L977.6 1414.8L977.6 1411.8L977.6 1408.8L977.6 1405.7L977.6 1402.7L977.6 1399.7L977.6 1396.7L977.6 1393.6L977.6 1390.6L977.6 1387.6L977.6 1384.5L977.6 1381.5L977.6 1378.5L977.6 1375.4L977.6 1372.4L977.6 1369.4L977.6 1366.4L977.6 1363.3L977.6 1360.3L990.1 1360.3L990.1 1363.3L990.1 1366.4L990.1 1369.4L990.1 1372.4L990.1 1375.4L990.1 1378.5L990.1 1381.5L990.1 1384.5L990.1 1387.6L990.1 1390.6L990.1 1393.6L990.1 1396.7L990.1 1399.7L990.1 1402.7L990.1 1405.7L990.1 1408.8L990.1 1411.8L990.1 1414.8L990.1 1417.9L990.1 1420.9L990.2 1423.9L990.2 1427L990.2 1430L990.3 1433L990.3 1436L990.3 1439.1L990.4 1442.1L990.4 1445.1L990.5 1448.2L990.5 1451.2L990.6 1454.2L990.7 1457.2L990.8 1460.3L990.9 1463.3L991 1466.3L991.1 1469.4L991.3 1472.4L991.5 1475.4L991.6 1478.5L991.8 1481.5L992 1484.5L992.2 1487.5L992.5 1490.6L992.7 1493.6L993 1496.6L993.3 1499.7L993.6 1502.7L993.9 1505.7L994.2 1508.7L994.4 1511.8L994.7 1514.8L995 1517.8L995.2 1520.9L995.5 1523.9L995.8 1526.9L996 1530L996.3 1533L996.5 1536L996.8 1539L997 1542.1L997.2 1545.1L997.4 1548.1L997.6 1551.2L997.8 1554.2L997.9 1557.2L998.1 1560.3L998.2 1563.3L998.4 1566.3L998.5 1569.3L998.7 1572.4L998.8 1575.4Z"/>
<path fill="#00c19f" d="M1002 1575.4L1002.1 1572.4L1002.3 1569.4L1002.5 1566.4L1002.6 1563.4L1002.8 1560.4L1002.9 1557.4L1003.1 1554.4L1003.2 1551.4L1003.4 1548.3L1003.6 1545.3L1003.8 1542.3L1004 1539.3L1004.2 1536.3L1004.4 1533.3L1004.6 1530.3L1004.8 1527.3L1005 1524.3L1005.2 1521.3L1005.5 1518.3L1005.7 1515.3L1005.9 1512.3L1006.1 1509.3L1006.3 1506.3L1006.5 1503.3L1006.7 1500.3L1006.9 1497.2L1007.1 1494.2L1007.3 1491.2L1007.5 1488.2L1007.7 1485.2L1007.9 1482.2L1008 1479.2L1008.2 1476.2L1008.4 1473.2L1008.6 1470.2L1008.9 1467.2L1009.1 1464.2L1009.3 1461.2L1009.5 1458.2L1009.7 1455.2L1010 1452.2L1010.2 1449.2L1010.4 1446.1L1010.6 1443.1L1010.7 1440.1L1010.9 1437.1L1011 1434.1L1011.2 1431.1L1011.3 1428.1L1011.4 1425.1L1011.5 1422.1L1011.7 1419.1L1011.8 1416.1L1011.9 1413.1L1012 1410.1L1012.1 1407.1L1012.2 1404.1L1012.2 1401.1L1012.3 1398.1L1012.4 1395L1012.4 1392L1012.5 1389L1012.5 1386L1012.6 1383L1012.6 1380L1012.6 1377L1012.6 1374L1012.7 1371L1012.7 1368L1012.7 1365L1012.7 1362L1012.8 1359L1012.8 1356L1012.8 1353L1012.8 1350L1012.8 1347L1012.9 1343.9L1012.9 1340.9L1012.9 1337.9L1012.9 1334.9L1013 1331.9L1013 1328.9L1021 1328.9L1021 1331.9L1021 1334.9L1021 1337.9L1021.1 1340.9L1021.1 1343.9L1021.1 1347L1021.1 1350L1021.2 1353L1021.2 1356L1021.2 1359L1021.2 1362L1021.2 1365L1021.3 1368L1021.3 1371L1021.3 1374L1021.3 1377L1021.4 1380L1021.4 1383L1021.4 1386L1021.5 1389L1021.5 1392L1021.6 1395L1021.7 1398.1L1021.7 1401.1L1021.8 1404.1L1021.9 1407.1L1022 1410.1L1022.1 1413.1L1022.2 1416.1L1022.3 1419.1L1022.4 1422.1L1022.5 1425.1L1022.7 1428.1L1022.8 1431.1L1022.9 1434.1L1023.1 1437.1L1023.2 1440.1L1023.4 1443.1L1023.6 1446.1L1023.8 1449.2L1024 1452.2L1024.2 1455.2L1024.4 1458.2L1024.7 1461.2L1024.9 1464.2L1025.1 1467.2L1025.3 1470.2L1025.5 1473.2L1025.7 1476.2L1025.9 1479.2L1026.1 1482.2L1026.3 1485.2L1026.5 1488.2L1026.7 1491.2L1026.9 1494.2L1027.1 1497.2L1027.3 1500.3L1027.5 1503.3L1027.7 1506.3L1027.9 1509.3L1028.1 1512.3L1028.3 1515.3L1028.5 1518.3L1028.7 1521.3L1028.9 1524.3L1029.1 1527.3L1029.4 1530.3L1029.6 1533.3L1029.8 1536.3L1030 1539.3L1030.2 1542.3L1030.4 1545.3L1030.5 1548.3L1030.7 1551.4L1030.9 1554.4L1031 1557.4L1031.2 1560.4L1031.4 1563.4L1031.5 1566.4L1031.7 1569.4L1031.8 1572.4L1032 1575.4Z"/>
<path fill="#00c1ab" d="M1035.1 1575.4L1035.3 1572.4L1035.4 1569.4L1035.6 1566.3L1035.7 1563.3L1035.9 1560.3L1036.1 1557.3L1036.2 1554.3L1036.4 1551.3L1036.6 1548.2L1036.7 1545.2L1036.9 1542.2L1037.1 1539.2L1037.3 1536.2L1037.5 1533.1L1037.8 1530.1L1038 1527.1L1038.2 1524.1L1038.4 1521.1L1038.6 1518L1038.8 1515L1039 1512L1039.2 1509L1039.4 1506L1039.6 1503L1039.8 1499.9L1040 1496.9L1040.2 1493.9L1040.4 1490.9L1040.6 1487.9L1040.8 1484.8L1041 1481.8L1041.2 1478.8L1041.4 1475.8L1041.6 1472.8L1041.8 1469.7L1042.1 1466.7L1042.3 1463.7L1042.6 1460.7L1042.9 1457.7L1043.1 1454.7L1043.4 1451.6L1043.7 1448.6L1043.9 1445.6L1044.1 1442.6L1044.3 1439.6L1044.5 1436.5L1044.7 1433.5L1044.9 1430.5L1045 1427.5L1045.2 1424.5L1045.3 1421.4L1045.5 1418.4L1045.6 1415.4L1045.8 1412.4L1045.9 1409.4L1046 1406.4L1046.1 1403.3L1046.2 1400.3L1046.3 1397.3L1046.4 1394.3L1046.5 1391.3L1046.6 1388.2L1046.7 1385.2L1046.8 1382.2L1046.9 1379.2L1047 1376.2L1047 1373.2L1047.1 1370.1L1047.2 1367.1L1047.2 1364.1L1047.3 1361.1L1047.4 1358.1L1047.4 1355L1047.5 1352L1047.5 1349L1047.6 1346L1047.6 1343L1047.6 1339.9L1047.7 1336.9L1047.7 1333.9L1047.7 1330.9L1047.8 1327.9L1047.8 1324.9L1047.8 1321.8L1047.8 1318.8L1047.9 1315.8L1047.9 1312.8L1047.9 1309.8L1047.9 1306.7L1048 1303.7L1048 1300.7L1048 1297.7L1048 1294.7L1048 1291.6L1048.1 1288.6L1048.1 1285.6L1048.1 1282.6L1052.1 1282.6L1052.1 1285.6L1052.2 1288.6L1052.2 1291.6L1052.2 1294.7L1052.2 1297.7L1052.3 1300.7L1052.3 1303.7L1052.3 1306.7L1052.3 1309.8L1052.3 1312.8L1052.4 1315.8L1052.4 1318.8L1052.4 1321.8L1052.4 1324.9L1052.5 1327.9L1052.5 1330.9L1052.5 1333.9L1052.6 1336.9L1052.6 1339.9L1052.6 1343L1052.7 1346L1052.7 1349L1052.8 1352L1052.8 1355L1052.9 1358.1L1052.9 1361.1L1053 1364.1L1053.1 1367.1L1053.1 1370.1L1053.2 1373.2L1053.3 1376.2L1053.4 1379.2L1053.4 1382.2L1053.5 1385.2L1053.6 1388.2L1053.7 1391.3L1053.8 1394.3L1053.9 1397.3L1054 1400.3L1054.1 1403.3L1054.2 1406.4L1054.3 1409.4L1054.5 1412.4L1054.6 1415.4L1054.7 1418.4L1054.9 1421.4L1055 1424.5L1055.2 1427.5L1055.4 1430.5L1055.5 1433.5L1055.7 1436.5L1055.9 1439.6L1056.1 1442.6L1056.3 1445.6L1056.6 1448.6L1056.8 1451.6L1057.1 1454.7L1057.4 1457.7L1057.6 1460.7L1057.9 1463.7L1058.2 1466.7L1058.4 1469.7L1058.6 1472.8L1058.8 1475.8L1059 1478.8L1059.3 1481.8L1059.4 1484.8L1059.6 1487.9L1059.8 1490.9L1060 1493.9L1060.2 1496.9L1060.4 1499.9L1060.6 1503L1060.8 1506L1061 1509L1061.2 1512L1061.4 1515L1061.6 1518L1061.8 1521.1L1062 1524.1L1062.3 1527.1L1062.5 1530.1L1062.7 1533.1L1062.9 1536.2L1063.1 1539.2L1063.3 1542.2L1063.5 1545.2L1063.7 1548.2L1063.8 1551.3L1064 1554.3L1064.2 1557.3L1064.3 1560.3L1064.5 1563.3L1064.6 1566.3L1064.8 1569.4L1065 1572.4L1065.1 1575.4Z"/>
<path fill="#00c0b5" d="M1068.2 1575.4L1068.5 1572.4L1068.7 1569.4L1068.9 1566.4L1069.1 1563.4L1069.4 1560.3L1069.6 1557.3L1069.8 1554.3L1070 1551.3L1070.2 1548.3L1070.4 1545.3L1070.6 1542.3L1070.7 1539.3L1070.9 1536.3L1071.1 1533.2L1071.2 1530.2L1071.4 1527.2L1071.5 1524.2L1071.7 1521.2L1071.9 1518.2L1072 1515.2L1072.2 1512.2L1072.3 1509.2L1072.5 1506.1L1072.6 1503.1L1072.8 1500.1L1072.9 1497.1L1073.1 1494.1L1073.2 1491.1L1073.4 1488.1L1073.5 1485.1L1073.7 1482.1L1073.9 1479L1074 1476L1074.2 1473L1074.4 1470L1074.7 1467L1074.9 1464L1075.2 1461L1075.4 1458L1075.7 1455L1076 1451.9L1076.2 1448.9L1076.5 1445.9L1076.7 1442.9L1077 1439.9L1077.2 1436.9L1077.3 1433.9L1077.5 1430.9L1077.6 1427.9L1077.8 1424.8L1077.9 1421.8L1078.1 1418.8L1078.2 1415.8L1078.3 1412.8L1078.4 1409.8L1078.5 1406.8L1078.7 1403.8L1078.8 1400.8L1078.9 1397.7L1079 1394.7L1079.1 1391.7L1079.2 1388.7L1079.4 1385.7L1079.5 1382.7L1079.6 1379.7L1079.7 1376.7L1079.9 1373.7L1080 1370.6L1080.1 1367.6L1080.2 1364.6L1080.4 1361.6L1080.5 1358.6L1080.6 1355.6L1080.7 1352.6L1080.8 1349.6L1080.9 1346.6L1081 1343.6L1081.1 1340.5L1081.2 1337.5L1081.3 1334.5L1081.4 1331.5L1081.5 1328.5L1081.6 1325.5L1081.8 1322.5L1084.8 1322.5L1084.9 1325.5L1085 1328.5L1085.1 1331.5L1085.2 1334.5L1085.3 1337.5L1085.4 1340.5L1085.5 1343.6L1085.6 1346.6L1085.7 1349.6L1085.8 1352.6L1085.9 1355.6L1086 1358.6L1086.1 1361.6L1086.3 1364.6L1086.4 1367.6L1086.5 1370.6L1086.6 1373.7L1086.8 1376.7L1086.9 1379.7L1087 1382.7L1087.1 1385.7L1087.3 1388.7L1087.4 1391.7L1087.5 1394.7L1087.6 1397.7L1087.7 1400.8L1087.8 1403.8L1088 1406.8L1088.1 1409.8L1088.2 1412.8L1088.3 1415.8L1088.4 1418.8L1088.6 1421.8L1088.7 1424.8L1088.9 1427.9L1089 1430.9L1089.2 1433.9L1089.3 1436.9L1089.5 1439.9L1089.8 1442.9L1090 1445.9L1090.3 1448.9L1090.5 1451.9L1090.8 1455L1091.1 1458L1091.3 1461L1091.6 1464L1091.8 1467L1092.1 1470L1092.3 1473L1092.5 1476L1092.6 1479L1092.8 1482.1L1093 1485.1L1093.1 1488.1L1093.3 1491.1L1093.4 1494.1L1093.6 1497.1L1093.7 1500.1L1093.9 1503.1L1094 1506.1L1094.2 1509.2L1094.3 1512.2L1094.5 1515.2L1094.6 1518.2L1094.8 1521.2L1095 1524.2L1095.1 1527.2L1095.3 1530.2L1095.4 1533.2L1095.6 1536.3L1095.8 1539.3L1095.9 1542.3L1096.1 1545.3L1096.3 1548.3L1096.5 1551.3L1096.7 1554.3L1096.9 1557.3L1097.1 1560.3L1097.4 1563.4L1097.6 1566.4L1097.8 1569.4L1098 1572.4L1098.2 1575.4Z"/>
<path fill="#00c0bf" d="M1101.4 1575.4L1101.5 1572.4L1101.9 1569.4L1102.6 1566.4L1103.6 1563.4L1104.6 1560.3L1105.7 1557.3L1106.8 1554.3L1107.7 1551.3L1108.5 1548.3L1109.1 1545.3L1109.4 1542.3L1109.4 1539.3L1109.2 1536.2L1108.7 1533.2L1108.1 1530.2L1107.4 1527.2L1106.7 1524.2L1106 1521.2L1105.4 1518.2L1104.9 1515.2L1104.7 1512.2L1104.6 1509.1L1104.5 1506.1L1104.4 1503.1L1104.4 1500.1L1104.5 1497.1L1104.6 1494.1L1104.9 1491.1L1105.1 1488.1L1105.5 1485.1L1105.8 1482L1106.2 1479L1106.5 1476L1106.9 1473L1107.2 1470L1107.5 1467L1107.8 1464L1108.1 1461L1108.5 1457.9L1108.8 1454.9L1109.1 1451.9L1109.5 1448.9L1109.8 1445.9L1110.1 1442.9L1110.3 1439.9L1110.6 1436.9L1110.9 1433.9L1111.2 1430.8L1111.5 1427.8L1111.7 1424.8L1112 1421.8L1112.2 1418.8L1112.4 1415.8L1112.7 1412.8L1112.9 1409.8L1113.1 1406.8L1113.3 1403.7L1113.5 1400.7L1113.7 1397.7L1113.9 1394.7L1114 1391.7L1114.1 1388.7L1114.2 1385.7L1114.3 1382.7L1114.4 1379.6L1114.5 1376.6L1114.6 1373.6L1114.7 1370.6L1114.8 1367.6L1114.8 1364.6L1114.9 1361.6L1114.9 1358.6L1115 1355.6L1115 1352.5L1115 1349.5L1115.1 1346.5L1115.9 1343.5L1115.9 1340.5L1115.9 1337.5L1115.9 1334.5L1115.9 1331.5L1115.9 1328.4L1115.9 1325.4L1115.9 1322.4L1115.9 1319.4L1115.9 1316.4L1116.8 1316.4L1116.8 1319.4L1116.8 1322.4L1116.8 1325.4L1116.8 1328.4L1116.8 1331.5L1116.8 1334.5L1116.8 1337.5L1116.8 1340.5L1116.8 1343.5L1117.7 1346.5L1117.7 1349.5L1117.8 1352.5L1117.8 1355.6L1117.9 1358.6L1117.9 1361.6L1118 1364.6L1118 1367.6L1118.1 1370.6L1118.2 1373.6L1118.2 1376.6L1118.3 1379.6L1118.4 1382.7L1118.5 1385.7L1118.6 1388.7L1118.8 1391.7L1118.9 1394.7L1119.1 1397.7L1119.3 1400.7L1119.5 1403.7L1119.7 1406.8L1119.9 1409.8L1120.1 1412.8L1120.3 1415.8L1120.5 1418.8L1120.8 1421.8L1121 1424.8L1121.3 1427.8L1121.6 1430.8L1121.8 1433.9L1122.1 1436.9L1122.4 1439.9L1122.7 1442.9L1123 1445.9L1123.3 1448.9L1123.6 1451.9L1124 1454.9L1124.3 1457.9L1124.6 1461L1125 1464L1125.3 1467L1125.6 1470L1125.9 1473L1126.2 1476L1126.6 1479L1126.9 1482L1127.3 1485.1L1127.6 1488.1L1127.9 1491.1L1128.2 1494.1L1128.3 1497.1L1128.4 1500.1L1128.4 1503.1L1128.3 1506.1L1128.1 1509.1L1128 1512.2L1127.8 1515.2L1127.4 1518.2L1126.8 1521.2L1126.1 1524.2L1125.4 1527.2L1124.7 1530.2L1124.1 1533.2L1123.6 1536.2L1123.4 1539.3L1123.4 1542.3L1123.7 1545.3L1124.3 1548.3L1125 1551.3L1126 1554.3L1127.1 1557.3L1128.2 1560.3L1129.2 1563.4L1130.1 1566.4L1130.9 1569.4L1131.3 1572.4L1131.4 1575.4Z"/>
<path fill="#00bec9" d="M1134.5 1575.4L1134.6 1572.4L1134.9 1569.4L1135.6 1566.4L1136.4 1563.4L1137.4 1560.4L1138.4 1557.4L1139.4 1554.3L1140.4 1551.3L1141.2 1548.3L1141.8 1545.3L1142.3 1542.3L1142.5 1539.3L1142.6 1536.3L1142.4 1533.3L1142.1 1530.3L1141.8 1527.3L1141.3 1524.3L1140.9 1521.3L1140.5 1518.3L1140.3 1515.3L1140.2 1512.2L1140.2 1509.2L1140.1 1506.2L1140 1503.2L1140 1500.2L1140.1 1497.2L1140.2 1494.2L1140.3 1491.2L1140.5 1488.2L1140.7 1485.2L1140.9 1482.2L1141.1 1479.2L1141.3 1476.2L1141.5 1473.2L1141.7 1470.1L1141.9 1467.1L1142.1 1464.1L1142.3 1461.1L1142.5 1458.1L1142.7 1455.1L1143 1452.1L1143.2 1449.1L1143.4 1446.1L1143.6 1443.1L1143.8 1440.1L1144.1 1437.1L1144.3 1434.1L1144.5 1431.1L1144.7 1428L1144.9 1425L1145.1 1422L1145.3 1419L1145.6 1416L1145.8 1413L1146 1410L1146.3 1407L1146.5 1404L1146.7 1401L1146.9 1398L1147.2 1395L1147.3 1392L1147.5 1388.9L1147.6 1385.9L1147.8 1382.9L1147.9 1379.9L1148.1 1376.9L1148.2 1373.9L1149.1 1370.9L1149.1 1367.9L1149.1 1364.9L1149.1 1361.9L1149.1 1358.9L1149.1 1355.9L1149.1 1352.9L1149.1 1349.9L1149.1 1346.8L1149.1 1343.8L1149.1 1340.8L1149.1 1337.8L1149.1 1334.8L1149.1 1331.8L1149.1 1328.8L1149.1 1325.8L1149.1 1322.8L1149.1 1319.8L1149.1 1316.8L1149.1 1313.8L1149.1 1310.8L1149.1 1307.8L1149.1 1304.7L1149.1 1301.7L1149.1 1298.7L1149.1 1295.7L1149.1 1292.7L1149.1 1289.7L1149.1 1286.7L1150 1286.7L1150 1289.7L1150 1292.7L1150 1295.7L1150 1298.7L1150 1301.7L1150 1304.7L1150 1307.8L1150 1310.8L1150 1313.8L1150 1316.8L1150 1319.8L1150 1322.8L1150 1325.8L1150 1328.8L1150 1331.8L1150 1334.8L1150 1337.8L1150 1340.8L1150 1343.8L1150 1346.8L1150 1349.9L1150 1352.9L1150 1355.9L1150 1358.9L1150 1361.9L1150 1364.9L1150 1367.9L1150 1370.9L1150.9 1373.9L1151 1376.9L1151.1 1379.9L1151.2 1382.9L1151.4 1385.9L1151.5 1388.9L1151.7 1392L1151.9 1395L1152.1 1398L1152.3 1401L1152.5 1404L1152.8 1407L1153 1410L1153.3 1413L1153.5 1416L1153.7 1419L1153.9 1422L1154.1 1425L1154.3 1428L1154.5 1431.1L1154.8 1434.1L1155 1437.1L1155.2 1440.1L1155.4 1443.1L1155.6 1446.1L1155.8 1449.1L1156.1 1452.1L1156.3 1455.1L1156.5 1458.1L1156.7 1461.1L1157 1464.1L1157.2 1467.1L1157.4 1470.1L1157.6 1473.2L1157.7 1476.2L1158 1479.2L1158.2 1482.2L1158.4 1485.2L1158.6 1488.2L1158.8 1491.2L1158.9 1494.2L1159 1497.2L1159 1500.2L1159 1503.2L1159 1506.2L1158.9 1509.2L1158.9 1512.2L1158.7 1515.3L1158.5 1518.3L1158.1 1521.3L1157.7 1524.3L1157.3 1527.3L1156.9 1530.3L1156.6 1533.3L1156.5 1536.3L1156.5 1539.3L1156.8 1542.3L1157.2 1545.3L1157.9 1548.3L1158.7 1551.3L1159.6 1554.3L1160.6 1557.4L1161.7 1560.4L1162.6 1563.4L1163.5 1566.4L1164.1 1569.4L1164.5 1572.4L1164.5 1575.4Z"/>
<path fill="#00bdd2" d="M1169.7 1575.4L1169.5 1572.4L1169.4 1569.3L1169.3 1566.3L1169.2 1563.3L1169.1 1560.3L1169 1557.2L1168.9 1554.2L1168.8 1551.2L1168.7 1548.2L1168.6 1545.1L1168.4 1542.1L1168.3 1539.1L1168.2 1536.1L1168 1533L1167.9 1530L1167.8 1527L1167.7 1523.9L1167.7 1520.9L1167.7 1517.9L1167.7 1514.9L1167.7 1511.8L1167.8 1508.8L1167.9 1505.8L1168.1 1502.8L1168.2 1499.7L1168.4 1496.7L1168.5 1493.7L1168.7 1490.7L1169 1487.6L1169.3 1484.6L1169.8 1481.6L1170.3 1478.5L1170.9 1475.5L1171.5 1472.5L1172.1 1469.5L1172.6 1466.4L1173.1 1463.4L1173.7 1460.4L1174.2 1457.4L1174.8 1454.3L1175.4 1451.3L1175.9 1448.3L1176.4 1445.3L1176.9 1442.2L1177.3 1439.2L1177.6 1436.2L1177.8 1433.1L1178 1430.1L1178.2 1427.1L1178.4 1424.1L1178.5 1421L1178.6 1418L1178.7 1415L1178.8 1412L1178.9 1408.9L1178.9 1405.9L1178.9 1402.9L1179 1399.9L1179 1396.8L1179 1393.8L1179 1390.8L1179 1387.7L1179 1384.7L1179.1 1381.7L1179.1 1378.7L1179.1 1375.6L1179.1 1372.6L1179.1 1369.6L1179.1 1366.6L1179.1 1363.5L1179.1 1360.5L1179.1 1357.5L1179.1 1354.5L1179.2 1351.4L1186.2 1351.4L1186.2 1354.5L1186.2 1357.5L1186.2 1360.5L1186.2 1363.5L1186.2 1366.6L1186.2 1369.6L1186.2 1372.6L1186.2 1375.6L1186.2 1378.7L1186.3 1381.7L1186.3 1384.7L1186.3 1387.7L1186.3 1390.8L1186.3 1393.8L1186.3 1396.8L1186.3 1399.9L1186.4 1402.9L1186.4 1405.9L1186.4 1408.9L1186.5 1412L1186.6 1415L1186.7 1418L1186.8 1421L1187 1424.1L1187.1 1427.1L1187.3 1430.1L1187.5 1433.1L1187.7 1436.2L1188 1439.2L1188.4 1442.2L1188.9 1445.3L1189.4 1448.3L1190 1451.3L1190.5 1454.3L1191.1 1457.4L1191.7 1460.4L1192.2 1463.4L1192.7 1466.4L1193.2 1469.5L1193.8 1472.5L1194.4 1475.5L1195 1478.5L1195.5 1481.6L1196 1484.6L1196.3 1487.6L1196.6 1490.7L1196.8 1493.7L1197 1496.7L1197.1 1499.7L1197.3 1502.8L1197.4 1505.8L1197.5 1508.8L1197.6 1511.8L1197.6 1514.9L1197.7 1517.9L1197.6 1520.9L1197.6 1523.9L1197.5 1527L1197.4 1530L1197.3 1533L1197.2 1536.1L1197 1539.1L1196.9 1542.1L1196.7 1545.1L1196.6 1548.2L1196.5 1551.2L1196.4 1554.2L1196.3 1557.2L1196.2 1560.3L1196.1 1563.3L1196 1566.3L1195.9 1569.3L1195.8 1572.4L1195.7 1575.4Z"/>
<path fill="#00bbdb" d="M1201.3 1575.4L1201.3 1572.4L1201.2 1569.4L1201.2 1566.3L1201.2 1563.3L1201.2 1560.3L1201.2 1557.3L1201.1 1554.3L1201.1 1551.3L1201.1 1548.2L1201.1 1545.2L1201.1 1542.2L1201 1539.2L1201 1536.2L1201 1533.2L1201 1530.1L1201 1527.1L1200.9 1524.1L1200.9 1521.1L1200.9 1518.1L1200.8 1515L1200.8 1512L1200.8 1509L1200.8 1506L1200.8 1503L1200.8 1500L1200.8 1496.9L1200.8 1493.9L1200.8 1490.9L1200.8 1487.9L1200.8 1484.9L1200.8 1481.9L1200.8 1478.8L1200.8 1475.8L1200.8 1472.8L1200.8 1469.8L1200.9 1466.8L1201.1 1463.7L1201.3 1460.7L1201.6 1457.7L1201.8 1454.7L1202.1 1451.7L1202.4 1448.7L1202.7 1445.6L1203 1442.6L1203.3 1439.6L1203.7 1436.6L1204 1433.6L1204.4 1430.6L1204.9 1427.5L1205.3 1424.5L1205.7 1421.5L1206.1 1418.5L1206.4 1415.5L1206.8 1412.4L1207.2 1409.4L1207.6 1406.4L1208 1403.4L1208.4 1400.4L1208.7 1397.4L1209 1394.3L1209.3 1391.3L1209.6 1388.3L1209.8 1385.3L1209.9 1382.3L1210.1 1379.3L1210.2 1376.2L1210.4 1373.2L1210.5 1370.2L1221 1370.2L1221.2 1373.2L1221.3 1376.2L1221.5 1379.3L1221.6 1382.3L1221.8 1385.3L1222 1388.3L1222.3 1391.3L1222.5 1394.3L1222.9 1397.4L1223.2 1400.4L1223.6 1403.4L1224 1406.4L1224.4 1409.4L1224.8 1412.4L1225.1 1415.5L1225.5 1418.5L1225.9 1421.5L1226.3 1424.5L1226.7 1427.5L1227.1 1430.6L1227.5 1433.6L1227.9 1436.6L1228.3 1439.6L1228.6 1442.6L1228.9 1445.6L1229.2 1448.7L1229.5 1451.7L1229.8 1454.7L1230 1457.7L1230.3 1460.7L1230.5 1463.7L1230.7 1466.8L1230.8 1469.8L1230.8 1472.8L1230.8 1475.8L1230.8 1478.8L1230.8 1481.9L1230.8 1484.9L1230.8 1487.9L1230.8 1490.9L1230.8 1493.9L1230.8 1496.9L1230.8 1500L1230.8 1503L1230.8 1506L1230.8 1509L1230.8 1512L1230.7 1515L1230.7 1518.1L1230.7 1521.1L1230.7 1524.1L1230.6 1527.1L1230.6 1530.1L1230.6 1533.2L1230.6 1536.2L1230.5 1539.2L1230.5 1542.2L1230.5 1545.2L1230.5 1548.2L1230.5 1551.3L1230.4 1554.3L1230.4 1557.3L1230.4 1560.3L1230.4 1563.3L1230.4 1566.3L1230.3 1569.4L1230.3 1572.4L1230.3 1575.4Z"/>
<path fill="#00b9e3" d="M1233.9 1575.4L1234.1 1572.4L1234.2 1569.3L1234.4 1566.3L1234.5 1563.3L1234.7 1560.2L1234.8 1557.2L1235 1554.2L1235.2 1551.1L1235.4 1548.1L1235.6 1545.1L1235.8 1542L1236.1 1539L1236.4 1536L1236.7 1532.9L1237 1529.9L1237.4 1526.9L1237.7 1523.8L1238 1520.8L1238.4 1517.8L1238.7 1514.7L1239.1 1511.7L1239.4 1508.7L1239.8 1505.7L1240.1 1502.6L1240.5 1499.6L1240.9 1496.6L1241.3 1493.5L1241.7 1490.5L1242 1487.5L1242.4 1484.4L1242.8 1481.4L1243.1 1478.4L1243.4 1475.3L1243.7 1472.3L1244 1469.3L1244.3 1466.2L1244.6 1463.2L1244.9 1460.2L1245.1 1457.1L1245.4 1454.1L1245.6 1451.1L1245.9 1448L1246.1 1445L1246.2 1442L1246.3 1438.9L1246.4 1435.9L1246.5 1432.9L1246.5 1429.8L1246.5 1426.8L1246.6 1423.8L1246.6 1420.7L1246.6 1417.7L1246.7 1414.7L1246.7 1411.6L1246.7 1408.6L1246.7 1405.6L1246.6 1402.5L1246.5 1399.5L1246.4 1396.5L1246.3 1393.4L1246.1 1390.4L1245.9 1387.4L1245.7 1384.3L1245.5 1381.3L1245.4 1378.3L1245.2 1375.3L1245 1372.2L1244.7 1369.2L1244.5 1366.2L1244.3 1363.1L1244 1360.1L1243.8 1357.1L1243.6 1354L1243.4 1351L1243.2 1348L1243.1 1344.9L1243 1341.9L1242.8 1338.9L1242.7 1335.8L1255.2 1335.8L1255 1338.9L1254.9 1341.9L1254.8 1344.9L1254.6 1348L1254.4 1351L1254.3 1354L1254 1357.1L1253.8 1360.1L1253.6 1363.1L1253.3 1366.2L1253.1 1369.2L1252.9 1372.2L1252.7 1375.3L1252.5 1378.3L1252.3 1381.3L1252.1 1384.3L1251.9 1387.4L1251.8 1390.4L1251.6 1393.4L1251.4 1396.5L1251.3 1399.5L1251.2 1402.5L1251.2 1405.6L1251.2 1408.6L1251.2 1411.6L1251.2 1414.7L1251.2 1417.7L1251.2 1420.7L1251.3 1423.8L1251.3 1426.8L1251.3 1429.8L1251.4 1432.9L1251.4 1435.9L1251.5 1438.9L1251.6 1442L1251.8 1445L1252 1448L1252.2 1451.1L1252.5 1454.1L1252.7 1457.1L1253 1460.2L1253.3 1463.2L1253.6 1466.2L1253.9 1469.3L1254.1 1472.3L1254.4 1475.3L1254.7 1478.4L1255.1 1481.4L1255.4 1484.4L1255.8 1487.5L1256.2 1490.5L1256.6 1493.5L1257 1496.6L1257.3 1499.6L1257.7 1502.6L1258.1 1505.7L1258.5 1508.7L1258.8 1511.7L1259.1 1514.7L1259.5 1517.8L1259.8 1520.8L1260.2 1523.8L1260.5 1526.9L1260.8 1529.9L1261.2 1532.9L1261.5 1536L1261.7 1539L1262 1542L1262.3 1545.1L1262.5 1548.1L1262.7 1551.1L1262.9 1554.2L1263 1557.2L1263.2 1560.2L1263.3 1563.3L1263.5 1566.3L1263.6 1569.3L1263.8 1572.4L1263.9 1575.4Z"/>
<path fill="#00b6eb" d="M1267.1 1575.4L1267.1 1572.4L1267.1 1569.4L1267.3 1566.3L1267.8 1563.3L1268.4 1560.3L1269.1 1557.3L1269.7 1554.2L1270.3 1551.2L1270.8 1548.2L1271.2 1545.2L1271.5 1542.2L1271.7 1539.1L1271.7 1536.1L1271.6 1533.1L1271.4 1530.1L1271.2 1527.1L1270.9 1524L1270.6 1521L1270.3 1518L1270.2 1515L1270.2 1511.9L1270.2 1508.9L1270.1 1505.9L1270.1 1502.9L1270.1 1499.9L1270.1 1496.8L1270.3 1493.8L1270.5 1490.8L1270.7 1487.8L1271 1484.8L1271.3 1481.7L1271.6 1478.7L1271.8 1475.7L1272.1 1472.7L1272.2 1469.6L1272.4 1466.6L1272.5 1463.6L1272.7 1460.6L1272.8 1457.6L1273 1454.5L1273.1 1451.5L1273.3 1448.5L1273.5 1445.5L1273.7 1442.4L1274 1439.4L1274.3 1436.4L1274.6 1433.4L1275 1430.4L1275.4 1427.3L1275.7 1424.3L1276.1 1421.3L1276.4 1418.3L1276.7 1415.3L1277 1412.2L1277.3 1409.2L1277.6 1406.2L1277.9 1403.2L1278.1 1400.1L1278.4 1397.1L1278.7 1394.1L1278.9 1391.1L1279.1 1388.1L1279.3 1385L1279.5 1382L1279.7 1379L1279.9 1376L1280.1 1372.9L1280.2 1369.9L1280.4 1366.9L1280.5 1363.9L1280.6 1360.9L1280.6 1357.8L1280.7 1354.8L1280.7 1351.8L1281.6 1348.8L1281.6 1345.8L1281.6 1342.7L1281.6 1339.7L1281.6 1336.7L1281.6 1333.7L1281.6 1330.6L1281.6 1327.6L1281.6 1324.6L1281.6 1321.6L1281.6 1318.6L1281.6 1315.5L1281.6 1312.5L1281.6 1309.5L1281.6 1306.5L1281.6 1303.5L1281.6 1300.4L1282.5 1300.4L1282.5 1303.5L1282.5 1306.5L1282.5 1309.5L1282.5 1312.5L1282.5 1315.5L1282.5 1318.6L1282.5 1321.6L1282.5 1324.6L1282.5 1327.6L1282.5 1330.6L1282.5 1333.7L1282.5 1336.7L1282.5 1339.7L1282.5 1342.7L1282.5 1345.8L1282.5 1348.8L1283.4 1351.8L1283.4 1354.8L1283.5 1357.8L1283.6 1360.9L1283.7 1363.9L1283.8 1366.9L1283.9 1369.9L1284.1 1372.9L1284.2 1376L1284.4 1379L1284.6 1382L1284.8 1385L1285 1388.1L1285.2 1391.1L1285.5 1394.1L1285.7 1397.1L1286 1400.1L1286.3 1403.2L1286.5 1406.2L1286.8 1409.2L1287.1 1412.2L1287.4 1415.3L1287.7 1418.3L1288.1 1421.3L1288.4 1424.3L1288.8 1427.3L1289.1 1430.4L1289.5 1433.4L1289.8 1436.4L1290.1 1439.4L1290.4 1442.4L1290.6 1445.5L1290.8 1448.5L1291 1451.5L1291.1 1454.5L1291.3 1457.6L1291.4 1460.6L1291.6 1463.6L1291.7 1466.6L1291.9 1469.6L1292.1 1472.7L1292.3 1475.7L1292.5 1478.7L1292.8 1481.7L1293.1 1484.8L1293.4 1487.8L1293.6 1490.8L1293.8 1493.8L1294 1496.8L1294.1 1499.9L1294 1502.9L1294 1505.9L1293.9 1508.9L1293.9 1511.9L1293.9 1515L1293.8 1518L1293.6 1521L1293.3 1524L1293 1527.1L1292.7 1530.1L1292.5 1533.1L1292.4 1536.1L1292.4 1539.1L1292.6 1542.2L1292.9 1545.2L1293.3 1548.2L1293.8 1551.2L1294.4 1554.2L1295 1557.3L1295.7 1560.3L1296.3 1563.3L1296.8 1566.3L1297.1 1569.4L1297.1 1572.4L1297.1 1575.4Z"/>
<path fill="#00b3f2" d="M1300.2 1575.4L1300.4 1572.4L1300.5 1569.3L1300.7 1566.3L1300.8 1563.3L1301 1560.3L1301.1 1557.2L1301.3 1554.2L1301.5 1551.2L1301.6 1548.2L1301.8 1545.1L1302 1542.1L1302.2 1539.1L1302.4 1536.1L1302.6 1533L1302.8 1530L1303.1 1527L1303.3 1524L1303.5 1520.9L1303.7 1517.9L1303.9 1514.9L1304.1 1511.9L1304.3 1508.8L1304.5 1505.8L1304.7 1502.8L1304.9 1499.8L1305.1 1496.7L1305.3 1493.7L1305.5 1490.7L1305.7 1487.7L1305.9 1484.6L1306.1 1481.6L1306.3 1478.6L1306.5 1475.6L1306.7 1472.5L1306.9 1469.5L1307.1 1466.5L1307.2 1463.5L1307.4 1460.4L1307.6 1457.4L1307.7 1454.4L1307.9 1451.4L1308 1448.3L1308.2 1445.3L1308.4 1442.3L1308.5 1439.3L1308.7 1436.2L1308.8 1433.2L1308.9 1430.2L1309.1 1427.2L1309.2 1424.1L1309.4 1421.1L1309.5 1418.1L1309.6 1415.1L1309.8 1412L1309.9 1409L1310 1406L1310.1 1402.9L1310.3 1399.9L1310.4 1396.9L1310.5 1393.9L1310.6 1390.8L1310.7 1387.8L1310.8 1384.8L1310.9 1381.8L1311 1378.7L1311.1 1375.7L1311.2 1372.7L1311.3 1369.7L1311.4 1366.6L1311.5 1363.6L1311.6 1360.6L1311.7 1357.6L1311.8 1354.5L1311.9 1351.5L1312 1348.5L1312.1 1345.5L1312.2 1342.4L1312.3 1339.4L1312.4 1336.4L1312.5 1333.4L1312.5 1330.3L1312.6 1327.3L1312.7 1324.3L1312.8 1321.3L1312.9 1318.2L1313 1315.2L1313.1 1312.2L1313.2 1309.2L1313.2 1306.1L1313.3 1303.1L1313.4 1300.1L1313.4 1297.1L1313.5 1294L1313.5 1291L1313.6 1288L1313.6 1285L1313.6 1281.9L1313.7 1278.9L1313.7 1275.9L1313.7 1272.9L1313.8 1269.8L1313.8 1266.8L1313.8 1263.8L1313.8 1260.8L1313.9 1257.7L1314.7 1254.7L1314.7 1251.7L1315.6 1251.7L1315.6 1254.7L1316.5 1257.7L1316.5 1260.8L1316.6 1263.8L1316.6 1266.8L1316.6 1269.8L1316.7 1272.9L1316.7 1275.9L1316.7 1278.9L1316.8 1281.9L1316.8 1285L1316.8 1288L1316.9 1291L1316.9 1294L1317 1297.1L1317 1300.1L1317.1 1303.1L1317.2 1306.1L1317.2 1309.2L1317.3 1312.2L1317.4 1315.2L1317.5 1318.2L1317.6 1321.3L1317.7 1324.3L1317.8 1327.3L1317.8 1330.3L1317.9 1333.4L1318 1336.4L1318.1 1339.4L1318.2 1342.4L1318.3 1345.5L1318.4 1348.5L1318.5 1351.5L1318.6 1354.5L1318.7 1357.6L1318.8 1360.6L1318.8 1363.6L1318.9 1366.6L1319 1369.7L1319.1 1372.7L1319.2 1375.7L1319.3 1378.7L1319.5 1381.8L1319.6 1384.8L1319.7 1387.8L1319.8 1390.8L1319.9 1393.9L1320 1396.9L1320.1 1399.9L1320.3 1402.9L1320.4 1406L1320.5 1409L1320.6 1412L1320.8 1415.1L1320.9 1418.1L1321 1421.1L1321.2 1424.1L1321.3 1427.2L1321.5 1430.2L1321.6 1433.2L1321.7 1436.2L1321.9 1439.3L1322 1442.3L1322.2 1445.3L1322.3 1448.3L1322.5 1451.4L1322.7 1454.4L1322.8 1457.4L1323 1460.4L1323.2 1463.5L1323.3 1466.5L1323.5 1469.5L1323.7 1472.5L1323.9 1475.6L1324.1 1478.6L1324.2 1481.6L1324.4 1484.6L1324.6 1487.7L1324.8 1490.7L1325 1493.7L1325.3 1496.7L1325.5 1499.8L1325.7 1502.8L1325.9 1505.8L1326.1 1508.8L1326.3 1511.9L1326.5 1514.9L1326.7 1517.9L1326.9 1520.9L1327.1 1524L1327.3 1527L1327.5 1530L1327.8 1533L1328 1536.1L1328.2 1539.1L1328.4 1542.1L1328.6 1545.1L1328.7 1548.2L1328.9 1551.2L1329.1 1554.2L1329.2 1557.2L1329.4 1560.3L1329.6 1563.3L1329.7 1566.3L1329.9 1569.3L1330 1572.4L1330.2 1575.4Z"/>
<path fill="#00aff8" d="M1333.3 1575.4L1333.5 1572.4L1333.6 1569.4L1333.7 1566.4L1333.9 1563.3L1334 1560.3L1334.2 1557.3L1334.3 1554.3L1334.4 1551.3L1334.5 1548.3L1334.7 1545.3L1334.8 1542.3L1334.9 1539.2L1335 1536.2L1335.1 1533.2L1335.2 1530.2L1335.3 1527.2L1335.4 1524.2L1335.5 1521.2L1335.6 1518.2L1335.7 1515.1L1335.8 1512.1L1335.9 1509.1L1336 1506.1L1336.1 1503.1L1336.2 1500.1L1336.3 1497.1L1336.4 1494.1L1336.5 1491L1336.7 1488L1336.8 1485L1336.9 1482L1337 1479L1337.2 1476L1337.3 1473L1337.5 1470L1337.6 1466.9L1337.8 1463.9L1338 1460.9L1338.3 1457.9L1338.5 1454.9L1338.7 1451.9L1338.9 1448.9L1339.1 1445.8L1339.3 1442.8L1339.5 1439.8L1339.7 1436.8L1339.9 1433.8L1340.1 1430.8L1340.3 1427.8L1340.4 1424.8L1340.6 1421.7L1340.8 1418.7L1340.9 1415.7L1341.1 1412.7L1341.2 1409.7L1341.4 1406.7L1341.5 1403.7L1341.7 1400.7L1341.9 1397.6L1342 1394.6L1342.2 1391.6L1342.3 1388.6L1342.5 1385.6L1342.7 1382.6L1342.8 1379.6L1343 1376.6L1343.2 1373.5L1343.3 1370.5L1343.5 1367.5L1343.7 1364.5L1343.8 1361.5L1344 1358.5L1344.2 1355.5L1344.3 1352.4L1344.5 1349.4L1344.6 1346.4L1344.8 1343.4L1344.9 1340.4L1345 1337.4L1345.2 1334.4L1345.3 1331.4L1345.4 1328.3L1345.5 1325.3L1345.7 1322.3L1345.8 1319.3L1345.9 1316.3L1346 1313.3L1346.1 1310.3L1346.2 1307.3L1346.3 1304.2L1346.4 1301.2L1346.5 1298.2L1346.6 1295.2L1346.7 1292.2L1346.8 1289.2L1346.9 1286.2L1347 1283.2L1347.9 1280.1L1347.9 1277.1L1347.9 1274.1L1347.9 1271.1L1348.8 1271.1L1348.8 1274.1L1348.8 1277.1L1348.8 1280.1L1349.7 1283.2L1349.8 1286.2L1349.9 1289.2L1349.9 1292.2L1350 1295.2L1350.1 1298.2L1350.2 1301.2L1350.3 1304.2L1350.4 1307.3L1350.5 1310.3L1350.6 1313.3L1350.8 1316.3L1350.9 1319.3L1351 1322.3L1351.1 1325.3L1351.2 1328.3L1351.4 1331.4L1351.5 1334.4L1351.6 1337.4L1351.8 1340.4L1351.9 1343.4L1352 1346.4L1352.2 1349.4L1352.3 1352.4L1352.5 1355.5L1352.7 1358.5L1352.8 1361.5L1353 1364.5L1353.2 1367.5L1353.3 1370.5L1353.5 1373.5L1353.7 1376.6L1353.8 1379.6L1354 1382.6L1354.2 1385.6L1354.3 1388.6L1354.5 1391.6L1354.6 1394.6L1354.8 1397.6L1355 1400.7L1355.1 1403.7L1355.3 1406.7L1355.4 1409.7L1355.6 1412.7L1355.7 1415.7L1355.9 1418.7L1356.1 1421.7L1356.2 1424.8L1356.4 1427.8L1356.6 1430.8L1356.7 1433.8L1356.9 1436.8L1357.1 1439.8L1357.3 1442.8L1357.5 1445.8L1357.8 1448.9L1358 1451.9L1358.2 1454.9L1358.4 1457.9L1358.6 1460.9L1358.8 1463.9L1359 1466.9L1359.2 1470L1359.3 1473L1359.5 1476L1359.6 1479L1359.8 1482L1359.9 1485L1360 1488L1360.1 1491L1360.2 1494.1L1360.3 1497.1L1360.4 1500.1L1360.6 1503.1L1360.7 1506.1L1360.8 1509.1L1360.9 1512.1L1361 1515.1L1361.1 1518.2L1361.2 1521.2L1361.3 1524.2L1361.4 1527.2L1361.5 1530.2L1361.6 1533.2L1361.7 1536.2L1361.8 1539.2L1361.9 1542.3L1362 1545.3L1362.1 1548.3L1362.2 1551.3L1362.4 1554.3L1362.5 1557.3L1362.6 1560.3L1362.8 1563.3L1362.9 1566.4L1363.1 1569.4L1363.2 1572.4L1363.3 1575.4Z"/>
<path fill="#00abfd" d="M1368 1575.4L1367.9 1572.4L1367.8 1569.3L1367.8 1566.3L1367.7 1563.3L1367.6 1560.2L1367.6 1557.2L1367.5 1554.2L1367.5 1551.1L1367.4 1548.1L1367.3 1545.1L1367.3 1542L1367.2 1539L1367.2 1536L1367.1 1532.9L1367.1 1529.9L1367 1526.9L1367 1523.8L1367 1520.8L1366.9 1517.8L1366.9 1514.7L1366.8 1511.7L1366.8 1508.7L1366.8 1505.6L1366.7 1502.6L1366.7 1499.5L1366.7 1496.5L1366.6 1493.5L1366.6 1490.4L1366.6 1487.4L1366.5 1484.4L1366.5 1481.3L1366.5 1478.3L1366.5 1475.3L1366.5 1472.2L1366.5 1469.2L1366.5 1466.2L1366.5 1463.1L1366.6 1460.1L1366.6 1457.1L1366.7 1454L1366.8 1451L1366.9 1448L1367 1444.9L1367.1 1441.9L1367.2 1438.9L1367.5 1435.8L1367.7 1432.8L1368 1429.8L1368.3 1426.7L1368.7 1423.7L1369 1420.7L1369.4 1417.6L1369.7 1414.6L1370.1 1411.6L1370.5 1408.5L1370.9 1405.5L1371.3 1402.5L1371.8 1399.4L1372.2 1396.4L1372.6 1393.4L1373 1390.3L1373.4 1387.3L1373.8 1384.3L1374.2 1381.2L1388.7 1381.2L1389.1 1384.3L1389.5 1387.3L1389.9 1390.3L1390.3 1393.4L1390.8 1396.4L1391.2 1399.4L1391.6 1402.5L1392 1405.5L1392.4 1408.5L1392.9 1411.6L1393.2 1414.6L1393.6 1417.6L1393.9 1420.7L1394.3 1423.7L1394.6 1426.7L1394.9 1429.8L1395.2 1432.8L1395.5 1435.8L1395.7 1438.9L1395.9 1441.9L1396 1444.9L1396.1 1448L1396.1 1451L1396.2 1454L1396.3 1457.1L1396.3 1460.1L1396.4 1463.1L1396.4 1466.2L1396.5 1469.2L1396.5 1472.2L1396.5 1475.3L1396.4 1478.3L1396.4 1481.3L1396.4 1484.4L1396.4 1487.4L1396.3 1490.4L1396.3 1493.5L1396.3 1496.5L1396.2 1499.5L1396.2 1502.6L1396.2 1505.6L1396.1 1508.7L1396.1 1511.7L1396.1 1514.7L1396 1517.8L1396 1520.8L1395.9 1523.8L1395.9 1526.9L1395.8 1529.9L1395.8 1532.9L1395.7 1536L1395.7 1539L1395.6 1542L1395.6 1545.1L1395.5 1548.1L1395.5 1551.1L1395.4 1554.2L1395.3 1557.2L1395.3 1560.2L1395.2 1563.3L1395.2 1566.3L1395.1 1569.3L1395 1572.4L1395 1575.4Z"/>
<path fill="#00a6ff" d="M1399.6 1575.4L1399.8 1572.4L1399.9 1569.4L1400.1 1566.4L1400.2 1563.4L1400.4 1560.4L1400.6 1557.4L1400.7 1554.4L1400.9 1551.3L1401 1548.3L1401.2 1545.3L1401.4 1542.3L1401.6 1539.3L1401.8 1536.3L1401.9 1533.3L1402.1 1530.3L1402.3 1527.3L1402.5 1524.3L1402.7 1521.3L1402.9 1518.3L1403.1 1515.3L1403.3 1512.3L1403.4 1509.3L1403.6 1506.2L1403.8 1503.2L1404 1500.2L1404.2 1497.2L1404.4 1494.2L1404.5 1491.2L1404.7 1488.2L1404.9 1485.2L1405.1 1482.2L1405.2 1479.2L1405.4 1476.2L1405.6 1473.2L1405.7 1470.2L1405.9 1467.2L1406 1464.2L1406.2 1461.2L1406.3 1458.1L1406.5 1455.1L1406.6 1452.1L1406.8 1449.1L1406.9 1446.1L1407 1443.1L1407.2 1440.1L1407.3 1437.1L1407.4 1434.1L1407.5 1431.1L1407.6 1428.1L1407.7 1425.1L1407.8 1422.1L1407.9 1419.1L1408 1416.1L1408.1 1413L1408.2 1410L1408.3 1407L1408.4 1404L1408.5 1401L1408.6 1398L1408.7 1395L1408.8 1392L1408.8 1389L1408.9 1386L1409 1383L1409.1 1380L1409.2 1377L1409.3 1374L1409.3 1371L1409.4 1367.9L1409.5 1364.9L1409.6 1361.9L1409.7 1358.9L1409.7 1355.9L1409.8 1352.9L1409.9 1349.9L1410 1346.9L1410 1343.9L1410.1 1340.9L1410.2 1337.9L1410.3 1334.9L1410.4 1331.9L1410.5 1328.9L1410.6 1325.9L1410.6 1322.9L1410.7 1319.8L1410.8 1316.8L1410.9 1313.8L1411 1310.8L1411 1307.8L1411.1 1304.8L1411.2 1301.8L1411.2 1298.8L1411.3 1295.8L1411.3 1292.8L1411.4 1289.8L1411.4 1286.8L1411.5 1283.8L1411.5 1280.8L1411.6 1277.8L1411.6 1274.7L1417.6 1274.7L1417.6 1277.8L1417.7 1280.8L1417.7 1283.8L1417.8 1286.8L1417.8 1289.8L1417.9 1292.8L1417.9 1295.8L1418 1298.8L1418 1301.8L1418.1 1304.8L1418.2 1307.8L1418.2 1310.8L1418.3 1313.8L1418.4 1316.8L1418.5 1319.8L1418.6 1322.9L1418.6 1325.9L1418.7 1328.9L1418.8 1331.9L1418.9 1334.9L1419 1337.9L1419.1 1340.9L1419.2 1343.9L1419.2 1346.9L1419.3 1349.9L1419.4 1352.9L1419.5 1355.9L1419.5 1358.9L1419.6 1361.9L1419.7 1364.9L1419.8 1367.9L1419.9 1371L1419.9 1374L1420 1377L1420.1 1380L1420.2 1383L1420.3 1386L1420.4 1389L1420.4 1392L1420.5 1395L1420.6 1398L1420.7 1401L1420.8 1404L1420.9 1407L1421 1410L1421.1 1413L1421.2 1416.1L1421.3 1419.1L1421.4 1422.1L1421.5 1425.1L1421.6 1428.1L1421.7 1431.1L1421.8 1434.1L1421.9 1437.1L1422 1440.1L1422.2 1443.1L1422.3 1446.1L1422.4 1449.1L1422.6 1452.1L1422.7 1455.1L1422.9 1458.1L1423 1461.2L1423.2 1464.2L1423.3 1467.2L1423.5 1470.2L1423.6 1473.2L1423.8 1476.2L1424 1479.2L1424.1 1482.2L1424.3 1485.2L1424.5 1488.2L1424.7 1491.2L1424.8 1494.2L1425 1497.2L1425.2 1500.2L1425.4 1503.2L1425.6 1506.2L1425.8 1509.3L1425.9 1512.3L1426.1 1515.3L1426.3 1518.3L1426.5 1521.3L1426.7 1524.3L1426.9 1527.3L1427.1 1530.3L1427.3 1533.3L1427.4 1536.3L1427.6 1539.3L1427.8 1542.3L1428 1545.3L1428.2 1548.3L1428.3 1551.3L1428.5 1554.4L1428.6 1557.4L1428.8 1560.4L1429 1563.4L1429.1 1566.4L1429.3 1569.4L1429.4 1572.4L1429.6 1575.4Z"/>
<path fill="#38a1ff" d="M1432.7 1575.4L1432.9 1572.4L1433.1 1569.3L1433.2 1566.3L1433.4 1563.3L1433.5 1560.3L1433.7 1557.2L1433.8 1554.2L1434 1551.2L1434.2 1548.2L1434.4 1545.1L1434.6 1542.1L1434.8 1539.1L1435 1536.1L1435.2 1533L1435.4 1530L1435.6 1527L1435.9 1524L1436.1 1520.9L1436.3 1517.9L1436.5 1514.9L1436.7 1511.9L1436.8 1508.8L1437 1505.8L1437.2 1502.8L1437.4 1499.8L1437.5 1496.7L1437.7 1493.7L1437.8 1490.7L1438 1487.7L1438.1 1484.6L1438.3 1481.6L1438.4 1478.6L1438.6 1475.6L1438.7 1472.5L1438.9 1469.5L1439 1466.5L1439.2 1463.5L1439.3 1460.4L1439.5 1457.4L1439.6 1454.4L1439.8 1451.4L1439.9 1448.3L1440 1445.3L1440.2 1442.3L1440.3 1439.3L1440.4 1436.2L1440.6 1433.2L1440.7 1430.2L1440.8 1427.2L1440.9 1424.1L1441 1421.1L1441.2 1418.1L1441.3 1415.1L1441.4 1412L1441.5 1409L1441.6 1406L1441.7 1402.9L1441.8 1399.9L1441.9 1396.9L1442 1393.9L1442.2 1390.8L1442.3 1387.8L1442.4 1384.8L1442.5 1381.8L1442.6 1378.7L1442.7 1375.7L1442.8 1372.7L1442.9 1369.7L1443.1 1366.6L1443.2 1363.6L1443.3 1360.6L1443.4 1357.6L1443.5 1354.5L1443.6 1351.5L1443.7 1348.5L1443.9 1345.5L1444 1342.4L1444.1 1339.4L1444.2 1336.4L1444.3 1333.4L1444.4 1330.3L1444.6 1327.3L1444.7 1324.3L1444.8 1321.3L1445 1318.2L1445.1 1315.2L1445.2 1312.2L1445.3 1309.2L1445.4 1306.1L1445.5 1303.1L1445.6 1300.1L1445.7 1297.1L1445.8 1294L1445.8 1291L1445.9 1288L1445.9 1285L1446 1281.9L1446.1 1278.9L1446.1 1275.9L1446.2 1272.9L1446.2 1269.8L1446.2 1266.8L1446.3 1263.8L1446.3 1260.8L1446.4 1257.7L1446.4 1254.7L1447.3 1251.7L1448.2 1251.7L1449 1254.7L1449.1 1257.7L1449.1 1260.8L1449.2 1263.8L1449.2 1266.8L1449.3 1269.8L1449.3 1272.9L1449.4 1275.9L1449.4 1278.9L1449.5 1281.9L1449.5 1285L1449.6 1288L1449.6 1291L1449.7 1294L1449.8 1297.1L1449.9 1300.1L1450 1303.1L1450.1 1306.1L1450.2 1309.2L1450.3 1312.2L1450.4 1315.2L1450.5 1318.2L1450.6 1321.3L1450.8 1324.3L1450.9 1327.3L1451 1330.3L1451.1 1333.4L1451.3 1336.4L1451.4 1339.4L1451.5 1342.4L1451.6 1345.5L1451.7 1348.5L1451.8 1351.5L1452 1354.5L1452.1 1357.6L1452.2 1360.6L1452.3 1363.6L1452.4 1366.6L1452.5 1369.7L1452.6 1372.7L1452.8 1375.7L1452.9 1378.7L1453 1381.8L1453.1 1384.8L1453.2 1387.8L1453.3 1390.8L1453.4 1393.9L1453.5 1396.9L1453.7 1399.9L1453.8 1402.9L1453.9 1406L1454 1409L1454.1 1412L1454.2 1415.1L1454.3 1418.1L1454.4 1421.1L1454.5 1424.1L1454.7 1427.2L1454.8 1430.2L1454.9 1433.2L1455 1436.2L1455.2 1439.3L1455.3 1442.3L1455.4 1445.3L1455.6 1448.3L1455.7 1451.4L1455.8 1454.4L1456 1457.4L1456.1 1460.4L1456.3 1463.5L1456.4 1466.5L1456.6 1469.5L1456.7 1472.5L1456.9 1475.6L1457 1478.6L1457.2 1481.6L1457.3 1484.6L1457.5 1487.7L1457.6 1490.7L1457.8 1493.7L1458 1496.7L1458.1 1499.8L1458.3 1502.8L1458.5 1505.8L1458.6 1508.8L1458.8 1511.9L1459 1514.9L1459.2 1517.9L1459.4 1520.9L1459.6 1524L1459.8 1527L1460.1 1530L1460.3 1533L1460.5 1536.1L1460.7 1539.1L1460.9 1542.1L1461.1 1545.1L1461.3 1548.2L1461.5 1551.2L1461.6 1554.2L1461.8 1557.2L1461.9 1560.3L1462.1 1563.3L1462.3 1566.3L1462.4 1569.3L1462.6 1572.4L1462.7 1575.4Z"/>
<path fill="#619cff" d="M1465.9 1575.4L1466 1572.4L1466 1569.4L1466.1 1566.3L1466.2 1563.3L1466.3 1560.3L1466.4 1557.3L1466.4 1554.3L1466.5 1551.3L1466.6 1548.2L1466.7 1545.2L1466.8 1542.2L1466.8 1539.2L1466.9 1536.2L1467 1533.2L1467.1 1530.1L1467.2 1527.1L1467.3 1524.1L1467.4 1521.1L1467.5 1518.1L1467.5 1515L1467.6 1512L1467.6 1509L1467.7 1506L1467.7 1503L1467.8 1500L1467.8 1496.9L1467.9 1493.9L1467.9 1490.9L1467.9 1487.9L1468 1484.9L1468 1481.9L1468 1478.8L1468.1 1475.8L1468.1 1472.8L1468.2 1469.8L1468.2 1466.8L1468.2 1463.7L1468.3 1460.7L1468.3 1457.7L1468.3 1454.7L1468.4 1451.7L1468.4 1448.7L1468.5 1445.6L1468.5 1442.6L1468.6 1439.6L1468.6 1436.6L1468.6 1433.6L1468.7 1430.6L1468.7 1427.5L1468.8 1424.5L1468.8 1421.5L1468.9 1418.5L1469 1415.5L1469 1412.4L1469.1 1409.4L1469.1 1406.4L1469.2 1403.4L1469.3 1400.4L1469.4 1397.4L1469.5 1394.3L1469.6 1391.3L1469.8 1388.3L1470 1385.3L1470.1 1382.3L1470.3 1379.3L1470.5 1376.2L1470.7 1373.2L1470.9 1370.2L1490.9 1370.2L1491 1373.2L1491.2 1376.2L1491.4 1379.3L1491.6 1382.3L1491.8 1385.3L1491.9 1388.3L1492.1 1391.3L1492.2 1394.3L1492.4 1397.4L1492.4 1400.4L1492.5 1403.4L1492.6 1406.4L1492.7 1409.4L1492.7 1412.4L1492.8 1415.5L1492.8 1418.5L1492.9 1421.5L1492.9 1424.5L1493 1427.5L1493 1430.6L1493.1 1433.6L1493.1 1436.6L1493.2 1439.6L1493.2 1442.6L1493.3 1445.6L1493.3 1448.7L1493.4 1451.7L1493.4 1454.7L1493.4 1457.7L1493.5 1460.7L1493.5 1463.7L1493.5 1466.8L1493.6 1469.8L1493.6 1472.8L1493.7 1475.8L1493.7 1478.8L1493.7 1481.9L1493.8 1484.9L1493.8 1487.9L1493.8 1490.9L1493.9 1493.9L1493.9 1496.9L1494 1500L1494 1503L1494 1506L1494.1 1509L1494.1 1512L1494.2 1515L1494.3 1518.1L1494.4 1521.1L1494.5 1524.1L1494.5 1527.1L1494.6 1530.1L1494.7 1533.2L1494.8 1536.2L1494.9 1539.2L1495 1542.2L1495.1 1545.2L1495.1 1548.2L1495.2 1551.3L1495.3 1554.3L1495.4 1557.3L1495.5 1560.3L1495.5 1563.3L1495.6 1566.3L1495.7 1569.4L1495.8 1572.4L1495.9 1575.4Z"/>
<path fill="#7d96ff" d="M1499 1575.4L1499.1 1572.4L1499.3 1569.4L1499.4 1566.4L1499.5 1563.4L1499.7 1560.4L1499.8 1557.4L1499.9 1554.4L1500.1 1551.4L1500.2 1548.3L1500.4 1545.3L1500.5 1542.3L1500.6 1539.3L1500.8 1536.3L1500.9 1533.3L1501.1 1530.3L1501.2 1527.3L1501.4 1524.3L1501.6 1521.3L1501.8 1518.3L1501.9 1515.3L1502.1 1512.3L1502.4 1509.3L1502.6 1506.3L1502.9 1503.3L1503.2 1500.3L1503.5 1497.2L1503.9 1494.2L1504.2 1491.2L1504.5 1488.2L1504.8 1485.2L1505 1482.2L1505.2 1479.2L1505.4 1476.2L1505.6 1473.2L1505.8 1470.2L1505.9 1467.2L1506.1 1464.2L1506.2 1461.2L1506.4 1458.2L1506.5 1455.2L1506.6 1452.2L1506.6 1449.2L1506.7 1446.1L1506.8 1443.1L1506.8 1440.1L1506.9 1437.1L1506.9 1434.1L1507 1431.1L1507 1428.1L1507 1425.1L1507 1422.1L1507 1419.1L1506.9 1416.1L1506.9 1413.1L1506.8 1410.1L1506.7 1407.1L1506.7 1404.1L1506.6 1401.1L1506.5 1398.1L1506.4 1395L1506.3 1392L1506.3 1389L1506.2 1386L1506.1 1383L1506 1380L1505.9 1377L1505.8 1374L1505.7 1371L1505.6 1368L1505.5 1365L1505.5 1362L1505.5 1359L1505.5 1356L1505.5 1353L1505.5 1350L1505.5 1347L1505.5 1343.9L1505.5 1340.9L1505.5 1337.9L1505.5 1334.9L1505.5 1331.9L1505.5 1328.9L1522.5 1328.9L1522.5 1331.9L1522.5 1334.9L1522.5 1337.9L1522.5 1340.9L1522.5 1343.9L1522.5 1347L1522.5 1350L1522.5 1353L1522.5 1356L1522.5 1359L1522.5 1362L1522.5 1365L1522.4 1368L1522.3 1371L1522.2 1374L1522.1 1377L1522 1380L1521.9 1383L1521.8 1386L1521.7 1389L1521.7 1392L1521.6 1395L1521.5 1398.1L1521.4 1401.1L1521.4 1404.1L1521.3 1407.1L1521.2 1410.1L1521.1 1413.1L1521.1 1416.1L1521 1419.1L1521 1422.1L1521 1425.1L1521 1428.1L1521 1431.1L1521.1 1434.1L1521.1 1437.1L1521.2 1440.1L1521.2 1443.1L1521.3 1446.1L1521.4 1449.2L1521.5 1452.2L1521.5 1455.2L1521.6 1458.2L1521.8 1461.2L1521.9 1464.2L1522.1 1467.2L1522.2 1470.2L1522.4 1473.2L1522.6 1476.2L1522.8 1479.2L1523 1482.2L1523.3 1485.2L1523.5 1488.2L1523.8 1491.2L1524.1 1494.2L1524.5 1497.2L1524.8 1500.3L1525.1 1503.3L1525.4 1506.3L1525.7 1509.3L1525.9 1512.3L1526.1 1515.3L1526.3 1518.3L1526.4 1521.3L1526.6 1524.3L1526.8 1527.3L1526.9 1530.3L1527.1 1533.3L1527.2 1536.3L1527.4 1539.3L1527.5 1542.3L1527.7 1545.3L1527.8 1548.3L1527.9 1551.4L1528.1 1554.4L1528.2 1557.4L1528.4 1560.4L1528.5 1563.4L1528.6 1566.4L1528.7 1569.4L1528.9 1572.4L1529 1575.4Z"/>
<path fill="#9390ff" d="M1536.1 1575.4L1536.1 1572.4L1536.1 1569.3L1536.1 1566.3L1536.1 1563.3L1536.1 1560.3L1536.1 1557.2L1536.1 1554.2L1536.1 1551.2L1536.1 1548.2L1536.1 1545.1L1536.1 1542.1L1536.1 1539.1L1536.1 1536.1L1536.1 1533L1536.1 1530L1536.1 1527L1536.1 1523.9L1536 1520.9L1536 1517.9L1536 1514.9L1535.9 1511.8L1535.9 1508.8L1535.8 1505.8L1535.6 1502.8L1535.5 1499.7L1535.3 1496.7L1535.1 1493.7L1534.9 1490.7L1534.6 1487.6L1534.4 1484.6L1534.2 1481.6L1534 1478.5L1533.8 1475.5L1533.6 1472.5L1533.5 1469.5L1533.3 1466.4L1533.2 1463.4L1533 1460.4L1532.8 1457.4L1532.7 1454.3L1532.6 1451.3L1532.5 1448.3L1532.4 1445.3L1532.3 1442.2L1532.3 1439.2L1532.2 1436.2L1532.2 1433.1L1532.2 1430.1L1532.1 1427.1L1532.1 1424.1L1532.2 1421L1532.2 1418L1532.3 1415L1532.4 1412L1532.5 1408.9L1532.6 1405.9L1532.7 1402.9L1532.8 1399.9L1532.9 1396.8L1533.1 1393.8L1533.4 1390.8L1533.6 1387.7L1533.9 1384.7L1534.3 1381.7L1534.6 1378.7L1535 1375.6L1535.3 1372.6L1535.7 1369.6L1536 1366.6L1536.4 1363.5L1536.8 1360.5L1537.1 1357.5L1537.5 1354.5L1537.9 1351.4L1556.4 1351.4L1556.8 1354.5L1557.1 1357.5L1557.5 1360.5L1557.9 1363.5L1558.3 1366.6L1558.6 1369.6L1558.9 1372.6L1559.3 1375.6L1559.7 1378.7L1560 1381.7L1560.3 1384.7L1560.6 1387.7L1560.9 1390.8L1561.2 1393.8L1561.3 1396.8L1561.5 1399.9L1561.6 1402.9L1561.7 1405.9L1561.8 1408.9L1561.9 1412L1562 1415L1562.1 1418L1562.1 1421L1562.1 1424.1L1562.1 1427.1L1562.1 1430.1L1562.1 1433.1L1562 1436.2L1562 1439.2L1561.9 1442.2L1561.9 1445.3L1561.8 1448.3L1561.7 1451.3L1561.6 1454.3L1561.4 1457.4L1561.3 1460.4L1561.1 1463.4L1561 1466.4L1560.8 1469.5L1560.6 1472.5L1560.5 1475.5L1560.3 1478.5L1560.1 1481.6L1559.9 1484.6L1559.6 1487.6L1559.4 1490.7L1559.2 1493.7L1559 1496.7L1558.8 1499.7L1558.7 1502.8L1558.5 1505.8L1558.4 1508.8L1558.4 1511.8L1558.3 1514.9L1558.3 1517.9L1558.3 1520.9L1558.2 1523.9L1558.2 1527L1558.2 1530L1558.2 1533L1558.1 1536.1L1558.1 1539.1L1558.1 1542.1L1558.1 1545.1L1558.1 1548.2L1558.1 1551.2L1558.1 1554.2L1558.1 1557.2L1558.1 1560.3L1558.1 1563.3L1558.1 1566.3L1558.1 1569.3L1558.1 1572.4L1558.1 1575.4Z"/>
<path fill="#a58aff" d="M1565.3 1575.4L1565.3 1572.4L1565.4 1569.3L1565.5 1566.3L1565.5 1563.3L1565.6 1560.3L1565.6 1557.2L1565.7 1554.2L1565.7 1551.2L1565.8 1548.2L1565.9 1545.1L1565.9 1542.1L1566 1539.1L1566.1 1536.1L1566.1 1533L1566.2 1530L1566.3 1527L1566.4 1524L1566.5 1520.9L1566.6 1517.9L1566.7 1514.9L1566.7 1511.9L1566.8 1508.8L1566.9 1505.8L1567 1502.8L1567.1 1499.8L1567.2 1496.7L1567.3 1493.7L1567.4 1490.7L1567.5 1487.7L1567.5 1484.6L1567.6 1481.6L1567.7 1478.6L1567.7 1475.6L1567.8 1472.5L1567.8 1469.5L1567.8 1466.5L1567.9 1463.5L1567.9 1460.4L1567.9 1457.4L1567.9 1454.4L1568 1451.4L1568 1448.3L1568 1445.3L1568 1442.3L1568 1439.2L1568 1436.2L1568 1433.2L1568 1430.2L1568 1427.1L1568 1424.1L1567.9 1421.1L1567.9 1418.1L1567.8 1415L1567.8 1412L1567.7 1409L1567.7 1406L1567.6 1402.9L1567.6 1399.9L1567.6 1396.9L1567.5 1393.9L1567.5 1390.8L1567.5 1387.8L1567.5 1384.8L1567.5 1381.8L1567.5 1378.7L1567.6 1375.7L1567.6 1372.7L1567.6 1369.7L1567.6 1366.6L1567.6 1363.6L1567.7 1360.6L1567.7 1357.6L1567.7 1354.5L1567.8 1351.5L1567.8 1348.5L1567.9 1345.5L1567.9 1342.4L1568 1339.4L1568.1 1336.4L1568.3 1333.4L1568.4 1330.3L1568.5 1327.3L1568.7 1324.3L1568.8 1321.3L1569 1318.2L1569.2 1315.2L1569.4 1312.2L1569.6 1309.2L1570 1306.1L1570.3 1303.1L1570.7 1300.1L1571.1 1297L1571.4 1294L1571.8 1291L1588.8 1291L1589.1 1294L1589.5 1297L1589.9 1300.1L1590.2 1303.1L1590.6 1306.1L1590.9 1309.2L1591.2 1312.2L1591.4 1315.2L1591.5 1318.2L1591.7 1321.3L1591.9 1324.3L1592 1327.3L1592.2 1330.3L1592.3 1333.4L1592.4 1336.4L1592.5 1339.4L1592.6 1342.4L1592.7 1345.5L1592.7 1348.5L1592.8 1351.5L1592.8 1354.5L1592.8 1357.6L1592.9 1360.6L1592.9 1363.6L1592.9 1366.6L1593 1369.7L1593 1372.7L1593 1375.7L1593 1378.7L1593 1381.8L1593 1384.8L1593 1387.8L1593 1390.8L1593 1393.9L1593 1396.9L1593 1399.9L1592.9 1402.9L1592.9 1406L1592.8 1409L1592.8 1412L1592.7 1415L1592.7 1418.1L1592.6 1421.1L1592.6 1424.1L1592.6 1427.1L1592.5 1430.2L1592.5 1433.2L1592.5 1436.2L1592.5 1439.2L1592.5 1442.3L1592.5 1445.3L1592.6 1448.3L1592.6 1451.4L1592.6 1454.4L1592.6 1457.4L1592.7 1460.4L1592.7 1463.5L1592.7 1466.5L1592.7 1469.5L1592.8 1472.5L1592.8 1475.6L1592.9 1478.6L1592.9 1481.6L1593 1484.6L1593.1 1487.7L1593.2 1490.7L1593.3 1493.7L1593.4 1496.7L1593.4 1499.8L1593.5 1502.8L1593.6 1505.8L1593.7 1508.8L1593.8 1511.9L1593.9 1514.9L1594 1517.9L1594.1 1520.9L1594.2 1524L1594.2 1527L1594.3 1530L1594.4 1533L1594.5 1536.1L1594.5 1539.1L1594.6 1542.1L1594.7 1545.1L1594.7 1548.2L1594.8 1551.2L1594.9 1554.2L1594.9 1557.2L1595 1560.3L1595 1563.3L1595.1 1566.3L1595.2 1569.3L1595.2 1572.4L1595.3 1575.4Z"/>
<path fill="#b684ff" d="M1609.7 1575.4L1609.7 1572.4L1609.7 1569.4L1609.7 1566.4L1609.7 1563.4L1609.7 1560.4L1609.7 1557.4L1609.7 1554.4L1609.7 1551.4L1609.7 1548.3L1609.7 1545.3L1609.7 1542.3L1609.7 1539.3L1609.7 1536.3L1609.7 1533.3L1609.6 1530.3L1609.6 1527.3L1609.6 1524.3L1609.6 1521.3L1609.5 1518.3L1609.5 1515.3L1609.4 1512.3L1609.4 1509.3L1609.3 1506.3L1609.2 1503.3L1609 1500.3L1608.8 1497.2L1608.6 1494.2L1608.4 1491.2L1608.1 1488.2L1607.8 1485.2L1607.4 1482.2L1607 1479.2L1606.5 1476.2L1606 1473.2L1605.5 1470.2L1604.8 1467.2L1604.2 1464.2L1603.5 1461.2L1602.8 1458.2L1602.1 1455.2L1601.5 1452.2L1600.9 1449.2L1600.2 1446.1L1599.6 1443.1L1599.1 1440.1L1598.8 1437.1L1598.6 1434.1L1598.5 1431.1L1598.5 1428.1L1598.4 1425.1L1598.4 1422.1L1598.5 1419.1L1598.8 1416.1L1599.3 1413.1L1599.9 1410.1L1600.4 1407.1L1601.1 1404.1L1601.8 1401.1L1602.7 1398.1L1603.5 1395L1604.2 1392L1605 1389L1605.7 1386L1606.4 1383L1607 1380L1607.5 1377L1608 1374L1608.4 1371L1608.7 1368L1609 1365L1609.3 1362L1609.5 1359L1609.7 1356L1609.9 1353L1610.1 1350L1610.2 1347L1610.4 1343.9L1610.4 1340.9L1610.5 1337.9L1610.5 1334.9L1610.6 1331.9L1610.6 1328.9L1616.2 1328.9L1616.3 1331.9L1616.3 1334.9L1616.3 1337.9L1616.4 1340.9L1616.5 1343.9L1616.6 1347L1616.7 1350L1616.9 1353L1617.1 1356L1617.3 1359L1617.5 1362L1617.8 1365L1618.1 1368L1618.5 1371L1618.9 1374L1619.3 1377L1619.8 1380L1620.4 1383L1621.1 1386L1621.8 1389L1622.6 1392L1623.4 1395L1624.2 1398.1L1625 1401.1L1625.7 1404.1L1626.4 1407.1L1626.9 1410.1L1627.5 1413.1L1628 1416.1L1628.3 1419.1L1628.4 1422.1L1628.4 1425.1L1628.3 1428.1L1628.3 1431.1L1628.2 1434.1L1628.1 1437.1L1627.7 1440.1L1627.2 1443.1L1626.6 1446.1L1625.9 1449.2L1625.3 1452.2L1624.7 1455.2L1624 1458.2L1623.3 1461.2L1622.6 1464.2L1622 1467.2L1621.4 1470.2L1620.8 1473.2L1620.3 1476.2L1619.9 1479.2L1619.4 1482.2L1619 1485.2L1618.7 1488.2L1618.4 1491.2L1618.2 1494.2L1618 1497.2L1617.8 1500.3L1617.7 1503.3L1617.5 1506.3L1617.4 1509.3L1617.4 1512.3L1617.3 1515.3L1617.3 1518.3L1617.3 1521.3L1617.2 1524.3L1617.2 1527.3L1617.2 1530.3L1617.2 1533.3L1617.2 1536.3L1617.2 1539.3L1617.2 1542.3L1617.2 1545.3L1617.2 1548.3L1617.2 1551.4L1617.2 1554.4L1617.2 1557.4L1617.2 1560.4L1617.2 1563.4L1617.2 1566.4L1617.2 1569.4L1617.2 1572.4L1617.2 1575.4Z"/>
<path fill="#c47eff" d="M1636.5 1575.4L1636.5 1572.4L1636.5 1569.4L1636.4 1566.4L1636.4 1563.3L1636.4 1560.3L1636.3 1557.3L1636.3 1554.3L1636.2 1551.3L1636.2 1548.3L1636.2 1545.3L1636.1 1542.2L1636.1 1539.2L1636 1536.2L1636 1533.2L1635.9 1530.2L1635.9 1527.2L1635.8 1524.2L1635.8 1521.1L1635.7 1518.1L1635.6 1515.1L1635.6 1512.1L1635.5 1509.1L1635.4 1506.1L1635.4 1503.1L1635.3 1500L1635.2 1497L1635.1 1494L1635.1 1491L1635 1488L1634.9 1485L1634.8 1482L1634.7 1478.9L1634.6 1475.9L1634.6 1472.9L1634.5 1469.9L1634.4 1466.9L1634.3 1463.9L1634.2 1460.9L1634.2 1457.8L1634.1 1454.8L1634 1451.8L1633.9 1448.8L1633.8 1445.8L1633.8 1442.8L1633.7 1439.8L1633.6 1436.7L1633.5 1433.7L1633.4 1430.7L1633.3 1427.7L1633.2 1424.7L1633.1 1421.7L1633 1418.7L1632.9 1415.6L1632.7 1412.6L1632.6 1409.6L1632.5 1406.6L1632.4 1403.6L1632.4 1400.6L1632.3 1397.6L1632.2 1394.5L1632.1 1391.5L1632.1 1388.5L1632 1385.5L1631.9 1382.5L1631.9 1379.5L1631.8 1376.5L1631.8 1373.4L1631.8 1370.4L1631.8 1367.4L1631.8 1364.4L1631.9 1361.4L1632 1358.4L1632.1 1355.4L1632.2 1352.3L1632.4 1349.3L1632.7 1346.3L1633 1343.3L1660 1343.3L1660.4 1346.3L1660.7 1349.3L1660.8 1352.3L1661 1355.4L1661.1 1358.4L1661.2 1361.4L1661.2 1364.4L1661.3 1367.4L1661.3 1370.4L1661.3 1373.4L1661.3 1376.5L1661.2 1379.5L1661.2 1382.5L1661.1 1385.5L1661 1388.5L1660.9 1391.5L1660.9 1394.5L1660.8 1397.6L1660.7 1400.6L1660.6 1403.6L1660.6 1406.6L1660.5 1409.6L1660.3 1412.6L1660.2 1415.6L1660.1 1418.7L1660 1421.7L1659.9 1424.7L1659.8 1427.7L1659.7 1430.7L1659.6 1433.7L1659.5 1436.7L1659.4 1439.8L1659.3 1442.8L1659.2 1445.8L1659.2 1448.8L1659.1 1451.8L1659 1454.8L1658.9 1457.8L1658.9 1460.9L1658.8 1463.9L1658.7 1466.9L1658.6 1469.9L1658.5 1472.9L1658.5 1475.9L1658.4 1478.9L1658.3 1482L1658.2 1485L1658.1 1488L1658 1491L1658 1494L1657.9 1497L1657.8 1500L1657.7 1503.1L1657.6 1506.1L1657.6 1509.1L1657.5 1512.1L1657.5 1515.1L1657.4 1518.1L1657.3 1521.1L1657.3 1524.2L1657.2 1527.2L1657.2 1530.2L1657.1 1533.2L1657.1 1536.2L1657 1539.2L1657 1542.2L1656.9 1545.3L1656.9 1548.3L1656.9 1551.3L1656.8 1554.3L1656.8 1557.3L1656.7 1560.3L1656.7 1563.3L1656.7 1566.4L1656.6 1569.4L1656.6 1572.4L1656.5 1575.4Z"/>
<path fill="#d078ff" d="M1666.7 1575.4L1666.6 1572.4L1666.6 1569.3L1666.6 1566.3L1666.5 1563.3L1666.5 1560.3L1666.5 1557.2L1666.4 1554.2L1666.4 1551.2L1666.4 1548.2L1666.3 1545.1L1666.3 1542.1L1666.3 1539.1L1666.3 1536.1L1666.2 1533L1666.2 1530L1666.2 1527L1666.1 1524L1666.1 1520.9L1666.1 1517.9L1666.1 1514.9L1666 1511.9L1666 1508.8L1666 1505.8L1665.9 1502.8L1665.9 1499.8L1665.9 1496.7L1665.9 1493.7L1665.8 1490.7L1665.8 1487.7L1665.8 1484.6L1665.8 1481.6L1665.7 1478.6L1665.7 1475.6L1665.7 1472.5L1665.6 1469.5L1665.6 1466.5L1665.6 1463.5L1665.5 1460.4L1665.5 1457.4L1665.5 1454.4L1665.4 1451.4L1665.4 1448.3L1665.4 1445.3L1665.3 1442.3L1665.3 1439.2L1665.3 1436.2L1665.2 1433.2L1665.2 1430.2L1665.2 1427.1L1665.2 1424.1L1665.1 1421.1L1665.1 1418.1L1665.1 1415L1665.1 1412L1665 1409L1665 1406L1665 1402.9L1665 1399.9L1664.9 1396.9L1664.9 1393.9L1664.9 1390.8L1664.9 1387.8L1664.9 1384.8L1664.9 1381.8L1664.9 1378.7L1664.9 1375.7L1664.9 1372.7L1664.9 1369.7L1664.9 1366.6L1664.9 1363.6L1664.9 1360.6L1664.9 1357.6L1664.9 1354.5L1664.9 1351.5L1664.9 1348.5L1665 1345.5L1665 1342.4L1665.1 1339.4L1665.2 1336.4L1665.3 1333.4L1665.4 1330.3L1665.5 1327.3L1665.6 1324.3L1665.8 1321.3L1665.9 1318.2L1666 1315.2L1666.2 1312.2L1666.4 1309.2L1666.6 1306.1L1666.8 1303.1L1667.1 1300.1L1667.5 1297L1667.8 1294L1668.2 1291L1691.2 1291L1691.5 1294L1691.9 1297L1692.3 1300.1L1692.6 1303.1L1692.8 1306.1L1693 1309.2L1693.2 1312.2L1693.3 1315.2L1693.5 1318.2L1693.6 1321.3L1693.7 1324.3L1693.8 1327.3L1693.9 1330.3L1694.1 1333.4L1694.2 1336.4L1694.2 1339.4L1694.3 1342.4L1694.4 1345.5L1694.4 1348.5L1694.4 1351.5L1694.4 1354.5L1694.4 1357.6L1694.4 1360.6L1694.4 1363.6L1694.4 1366.6L1694.4 1369.7L1694.4 1372.7L1694.4 1375.7L1694.4 1378.7L1694.4 1381.8L1694.4 1384.8L1694.4 1387.8L1694.4 1390.8L1694.4 1393.9L1694.4 1396.9L1694.4 1399.9L1694.4 1402.9L1694.4 1406L1694.3 1409L1694.3 1412L1694.3 1415L1694.2 1418.1L1694.2 1421.1L1694.2 1424.1L1694.2 1427.1L1694.1 1430.2L1694.1 1433.2L1694.1 1436.2L1694.1 1439.2L1694 1442.3L1694 1445.3L1694 1448.3L1693.9 1451.4L1693.9 1454.4L1693.8 1457.4L1693.8 1460.4L1693.8 1463.5L1693.7 1466.5L1693.7 1469.5L1693.7 1472.5L1693.7 1475.6L1693.6 1478.6L1693.6 1481.6L1693.6 1484.6L1693.5 1487.7L1693.5 1490.7L1693.5 1493.7L1693.5 1496.7L1693.4 1499.8L1693.4 1502.8L1693.4 1505.8L1693.4 1508.8L1693.3 1511.9L1693.3 1514.9L1693.3 1517.9L1693.3 1520.9L1693.2 1524L1693.2 1527L1693.2 1530L1693.1 1533L1693.1 1536.1L1693.1 1539.1L1693 1542.1L1693 1545.1L1693 1548.2L1692.9 1551.2L1692.9 1554.2L1692.9 1557.2L1692.8 1560.3L1692.8 1563.3L1692.8 1566.3L1692.7 1569.3L1692.7 1572.4L1692.7 1575.4Z"/>
<path fill="#db72fb" d="M1702.8 1510.7L1702.5 1507.7L1702.2 1504.7L1701.9 1501.7L1701.6 1498.7L1701.2 1495.7L1700.8 1492.7L1700.4 1489.7L1700 1486.7L1699.7 1483.7L1699.5 1480.7L1699.2 1477.7L1699 1474.7L1698.7 1471.7L1698.6 1468.7L1698.4 1465.7L1698.3 1462.7L1698.2 1459.7L1698.1 1456.7L1698 1453.7L1697.9 1450.7L1697.9 1447.7L1697.8 1444.7L1697.8 1441.7L1697.8 1438.7L1697.8 1435.7L1697.9 1432.7L1697.9 1429.7L1698 1426.7L1698.1 1423.7L1698.2 1420.7L1698.3 1417.6L1698.4 1414.6L1698.5 1411.6L1698.7 1408.6L1698.9 1405.6L1699.1 1402.6L1699.3 1399.6L1699.6 1396.6L1699.8 1393.6L1725.8 1393.6L1726.1 1396.6L1726.3 1399.6L1726.6 1402.6L1726.8 1405.6L1726.9 1408.6L1727.1 1411.6L1727.2 1414.6L1727.3 1417.6L1727.4 1420.7L1727.5 1423.7L1727.6 1426.7L1727.7 1429.7L1727.7 1432.7L1727.8 1435.7L1727.8 1438.7L1727.8 1441.7L1727.8 1444.7L1727.7 1447.7L1727.7 1450.7L1727.6 1453.7L1727.5 1456.7L1727.4 1459.7L1727.3 1462.7L1727.2 1465.7L1727.1 1468.7L1726.9 1471.7L1726.7 1474.7L1726.4 1477.7L1726.2 1480.7L1725.9 1483.7L1725.6 1486.7L1725.2 1489.7L1724.8 1492.7L1724.4 1495.7L1724 1498.7L1723.7 1501.7L1723.4 1504.7L1723.1 1507.7L1722.8 1510.7Z"/>
<path fill="#e46df5" d="M1737 1575.4L1736.8 1572.4L1736.7 1569.4L1736.6 1566.4L1736.5 1563.3L1736.4 1560.3L1736.3 1557.3L1736.2 1554.3L1736.1 1551.3L1736 1548.3L1735.9 1545.3L1735.7 1542.2L1735.5 1539.2L1735.4 1536.2L1735.2 1533.2L1735 1530.2L1734.8 1527.2L1734.6 1524.2L1734.4 1521.1L1734.3 1518.1L1734.1 1515.1L1734 1512.1L1733.9 1509.1L1733.8 1506.1L1733.7 1503.1L1733.6 1500L1733.5 1497L1733.4 1494L1733.4 1491L1733.3 1488L1733.2 1485L1733.2 1482L1733.1 1478.9L1733 1475.9L1733 1472.9L1732.9 1469.9L1732.8 1466.9L1732.8 1463.9L1732.7 1460.9L1732.6 1457.8L1732.6 1454.8L1732.5 1451.8L1732.5 1448.8L1732.4 1445.8L1732.3 1442.8L1732.3 1439.8L1732.2 1436.7L1732.2 1433.7L1732.1 1430.7L1732 1427.7L1732 1424.7L1731.9 1421.7L1731.8 1418.7L1731.7 1415.6L1731.7 1412.6L1731.6 1409.6L1731.5 1406.6L1731.5 1403.6L1731.4 1400.6L1731.3 1397.6L1731.3 1394.5L1731.2 1391.5L1731.2 1388.5L1731.2 1385.5L1731.1 1382.5L1731.1 1379.5L1731.1 1376.5L1731 1373.4L1731 1370.4L1731 1367.4L1731 1364.4L1731 1361.4L1731 1358.4L1731.1 1355.4L1731.2 1352.3L1731.3 1349.3L1731.5 1346.3L1731.6 1343.3L1760.3 1343.3L1760.4 1346.3L1760.6 1349.3L1760.7 1352.3L1760.8 1355.4L1760.9 1358.4L1760.9 1361.4L1760.9 1364.4L1760.9 1367.4L1760.9 1370.4L1760.9 1373.4L1760.8 1376.5L1760.8 1379.5L1760.8 1382.5L1760.7 1385.5L1760.7 1388.5L1760.7 1391.5L1760.6 1394.5L1760.6 1397.6L1760.5 1400.6L1760.4 1403.6L1760.4 1406.6L1760.3 1409.6L1760.2 1412.6L1760.2 1415.6L1760.1 1418.7L1760 1421.7L1759.9 1424.7L1759.9 1427.7L1759.8 1430.7L1759.7 1433.7L1759.7 1436.7L1759.6 1439.8L1759.6 1442.8L1759.5 1445.8L1759.4 1448.8L1759.4 1451.8L1759.3 1454.8L1759.3 1457.8L1759.2 1460.9L1759.1 1463.9L1759.1 1466.9L1759 1469.9L1758.9 1472.9L1758.9 1475.9L1758.8 1478.9L1758.7 1482L1758.7 1485L1758.6 1488L1758.5 1491L1758.5 1494L1758.4 1497L1758.3 1500L1758.2 1503.1L1758.1 1506.1L1758 1509.1L1757.9 1512.1L1757.8 1515.1L1757.6 1518.1L1757.5 1521.1L1757.3 1524.2L1757.1 1527.2L1756.9 1530.2L1756.7 1533.2L1756.5 1536.2L1756.4 1539.2L1756.2 1542.2L1756 1545.3L1755.9 1548.3L1755.8 1551.3L1755.7 1554.3L1755.6 1557.3L1755.5 1560.3L1755.4 1563.3L1755.3 1566.4L1755.2 1569.4L1755.1 1572.4L1755 1575.4Z"/>
<path fill="#ec69ef" d="M1770.6 1575.4L1770.7 1572.4L1770.8 1569.4L1770.9 1566.4L1771 1563.4L1771.1 1560.3L1771.2 1557.3L1771.3 1554.3L1771.4 1551.3L1771.6 1548.3L1771.7 1545.3L1771.8 1542.3L1771.9 1539.3L1772 1536.3L1772.2 1533.2L1772.3 1530.2L1772.4 1527.2L1772.6 1524.2L1772.7 1521.2L1772.7 1518.2L1772.8 1515.2L1772.8 1512.2L1772.8 1509.2L1772.8 1506.1L1772.8 1503.1L1772.8 1500.1L1772.8 1497.1L1772.7 1494.1L1772.7 1491.1L1772.7 1488.1L1772.6 1485.1L1772.6 1482.1L1772.5 1479L1772.4 1476L1772.2 1473L1772 1470L1771.8 1467L1771.5 1464L1771.2 1461L1771 1458L1770.7 1455L1770.4 1451.9L1770.1 1448.9L1769.7 1445.9L1769.3 1442.9L1768.9 1439.9L1768.5 1436.9L1768.1 1433.9L1767.7 1430.9L1767.3 1427.9L1767 1424.8L1766.6 1421.8L1766.3 1418.8L1765.9 1415.8L1765.6 1412.8L1765.3 1409.8L1765.1 1406.8L1764.9 1403.8L1764.7 1400.8L1764.6 1397.7L1764.5 1394.7L1764.3 1391.7L1764.2 1388.7L1764.2 1385.7L1764.1 1382.7L1764.1 1379.7L1764.1 1376.7L1764.1 1373.7L1764.2 1370.6L1764.2 1367.6L1764.3 1364.6L1764.4 1361.6L1764.5 1358.6L1764.6 1355.6L1764.7 1352.6L1764.8 1349.6L1765.1 1346.6L1765.4 1343.6L1765.8 1340.5L1766.3 1337.5L1766.8 1334.5L1767.3 1331.5L1767.8 1328.5L1768.5 1325.5L1769.1 1322.5L1789.1 1322.5L1789.7 1325.5L1790.3 1328.5L1790.9 1331.5L1791.4 1334.5L1791.9 1337.5L1792.3 1340.5L1792.8 1343.6L1793.1 1346.6L1793.3 1349.6L1793.5 1352.6L1793.6 1355.6L1793.7 1358.6L1793.8 1361.6L1793.9 1364.6L1794 1367.6L1794 1370.6L1794.1 1373.7L1794.1 1376.7L1794.1 1379.7L1794.1 1382.7L1794 1385.7L1793.9 1388.7L1793.8 1391.7L1793.7 1394.7L1793.6 1397.7L1793.4 1400.8L1793.3 1403.8L1793.1 1406.8L1792.8 1409.8L1792.5 1412.8L1792.2 1415.8L1791.9 1418.8L1791.5 1421.8L1791.2 1424.8L1790.9 1427.9L1790.5 1430.9L1790.1 1433.9L1789.7 1436.9L1789.3 1439.9L1788.9 1442.9L1788.5 1445.9L1788.1 1448.9L1787.8 1451.9L1787.5 1455L1787.2 1458L1786.9 1461L1786.7 1464L1786.4 1467L1786.2 1470L1786 1473L1785.8 1476L1785.7 1479L1785.6 1482.1L1785.5 1485.1L1785.5 1488.1L1785.5 1491.1L1785.4 1494.1L1785.4 1497.1L1785.4 1500.1L1785.4 1503.1L1785.3 1506.1L1785.3 1509.2L1785.3 1512.2L1785.4 1515.2L1785.4 1518.2L1785.5 1521.2L1785.6 1524.2L1785.7 1527.2L1785.9 1530.2L1786 1533.2L1786.1 1536.3L1786.3 1539.3L1786.4 1542.3L1786.5 1545.3L1786.6 1548.3L1786.7 1551.3L1786.8 1554.3L1786.9 1557.3L1787 1560.3L1787.2 1563.4L1787.3 1566.4L1787.4 1569.4L1787.5 1572.4L1787.6 1575.4Z"/>
<path fill="#f265e7" d="M1807.7 1575.4L1807.9 1572.4L1808.1 1569.3L1808.2 1566.3L1808.4 1563.3L1808.6 1560.3L1808.7 1557.2L1808.9 1554.2L1809 1551.2L1809.2 1548.2L1809.3 1545.1L1809.5 1542.1L1809.6 1539.1L1809.8 1536.1L1809.9 1533L1810 1530L1810.1 1527L1810.2 1523.9L1810.2 1520.9L1810.2 1517.9L1810.2 1514.9L1810.1 1511.8L1809.9 1508.8L1809.8 1505.8L1809.6 1502.8L1809.4 1499.7L1809.2 1496.7L1808.8 1493.7L1808.4 1490.7L1808 1487.6L1807.6 1484.6L1807.2 1481.6L1806.7 1478.5L1806.3 1475.5L1805.8 1472.5L1805.3 1469.5L1804.7 1466.4L1804.2 1463.4L1803.7 1460.4L1803.2 1457.4L1802.8 1454.3L1802.3 1451.3L1801.9 1448.3L1801.4 1445.3L1801 1442.2L1800.5 1439.2L1800.1 1436.2L1799.7 1433.1L1799.4 1430.1L1799.1 1427.1L1798.8 1424.1L1798.6 1421L1798.3 1418L1798.1 1415L1797.9 1412L1797.7 1408.9L1797.6 1405.9L1797.5 1402.9L1797.4 1399.9L1797.3 1396.8L1797.3 1393.8L1797.2 1390.8L1797.2 1387.7L1797.3 1384.7L1797.6 1381.7L1797.9 1378.7L1798.2 1375.6L1798.6 1372.6L1799 1369.6L1799.5 1366.6L1800.1 1363.5L1800.8 1360.5L1801.5 1357.5L1802.3 1354.5L1803 1351.4L1821.5 1351.4L1822.2 1354.5L1822.9 1357.5L1823.6 1360.5L1824.3 1363.5L1824.9 1366.6L1825.4 1369.6L1825.8 1372.6L1826.2 1375.6L1826.6 1378.7L1826.9 1381.7L1827.1 1384.7L1827.2 1387.7L1827.2 1390.8L1827.2 1393.8L1827.1 1396.8L1827 1399.9L1827 1402.9L1826.9 1405.9L1826.7 1408.9L1826.5 1412L1826.3 1415L1826.1 1418L1825.9 1421L1825.6 1424.1L1825.4 1427.1L1825.1 1430.1L1824.7 1433.1L1824.3 1436.2L1823.9 1439.2L1823.5 1442.2L1823 1445.3L1822.6 1448.3L1822.1 1451.3L1821.7 1454.3L1821.2 1457.4L1820.7 1460.4L1820.2 1463.4L1819.7 1466.4L1819.2 1469.5L1818.7 1472.5L1818.2 1475.5L1817.7 1478.5L1817.3 1481.6L1816.9 1484.6L1816.4 1487.6L1816 1490.7L1815.6 1493.7L1815.3 1496.7L1815 1499.7L1814.8 1502.8L1814.7 1505.8L1814.5 1508.8L1814.4 1511.8L1814.3 1514.9L1814.2 1517.9L1814.2 1520.9L1814.3 1523.9L1814.3 1527L1814.4 1530L1814.6 1533L1814.7 1536.1L1814.8 1539.1L1815 1542.1L1815.1 1545.1L1815.3 1548.2L1815.4 1551.2L1815.5 1554.2L1815.7 1557.2L1815.9 1560.3L1816 1563.3L1816.2 1566.3L1816.4 1569.3L1816.6 1572.4L1816.7 1575.4Z"/>
<path fill="#f763df" d="M1836.9 1575.4L1836.7 1572.4L1836.6 1569.3L1836.5 1566.3L1836.3 1563.3L1836.2 1560.3L1836.1 1557.2L1835.9 1554.2L1835.8 1551.2L1835.6 1548.2L1835.5 1545.1L1835.4 1542.1L1835.2 1539.1L1835.1 1536.1L1834.9 1533L1834.8 1530L1834.7 1527L1834.5 1524L1834.4 1520.9L1834.2 1517.9L1834.1 1514.9L1833.9 1511.9L1833.8 1508.8L1833.6 1505.8L1833.4 1502.8L1833.3 1499.8L1833.1 1496.7L1832.9 1493.7L1832.7 1490.7L1832.6 1487.7L1832.4 1484.6L1832.3 1481.6L1832.1 1478.6L1832 1475.6L1831.8 1472.5L1831.7 1469.5L1831.6 1466.5L1831.5 1463.5L1831.4 1460.4L1831.3 1457.4L1831.1 1454.4L1831 1451.4L1830.9 1448.3L1830.9 1445.3L1830.8 1442.3L1830.7 1439.2L1830.7 1436.2L1830.7 1433.2L1830.7 1430.2L1830.7 1427.1L1830.6 1424.1L1830.6 1421.1L1830.6 1418.1L1830.6 1415L1830.6 1412L1830.6 1409L1830.6 1406L1830.6 1402.9L1830.7 1399.9L1830.8 1396.9L1830.8 1393.9L1830.9 1390.8L1831 1387.8L1831.2 1384.8L1831.3 1381.8L1831.4 1378.7L1831.5 1375.7L1831.6 1372.7L1831.8 1369.7L1831.9 1366.6L1832.1 1363.6L1832.2 1360.6L1832.4 1357.6L1832.6 1354.5L1832.7 1351.5L1832.9 1348.5L1833.1 1345.5L1833.3 1342.4L1833.5 1339.4L1833.7 1336.4L1834 1333.4L1834.2 1330.3L1834.5 1327.3L1834.7 1324.3L1835 1321.3L1835.2 1318.2L1835.5 1315.2L1835.7 1312.2L1836 1309.2L1836.2 1306.1L1836.5 1303.1L1836.7 1300.1L1837 1297L1837.3 1294L1837.5 1291L1853.2 1291L1853.5 1294L1853.7 1297L1854 1300.1L1854.2 1303.1L1854.5 1306.1L1854.7 1309.2L1855 1312.2L1855.2 1315.2L1855.5 1318.2L1855.7 1321.3L1856 1324.3L1856.2 1327.3L1856.5 1330.3L1856.7 1333.4L1857 1336.4L1857.2 1339.4L1857.4 1342.4L1857.6 1345.5L1857.8 1348.5L1858 1351.5L1858.1 1354.5L1858.3 1357.6L1858.5 1360.6L1858.7 1363.6L1858.8 1366.6L1859 1369.7L1859.1 1372.7L1859.2 1375.7L1859.3 1378.7L1859.4 1381.8L1859.6 1384.8L1859.7 1387.8L1859.8 1390.8L1859.9 1393.9L1860 1396.9L1860 1399.9L1860.1 1402.9L1860.1 1406L1860.1 1409L1860.1 1412L1860.1 1415L1860.1 1418.1L1860.1 1421.1L1860.1 1424.1L1860.1 1427.1L1860 1430.2L1860 1433.2L1860 1436.2L1860 1439.2L1859.9 1442.3L1859.8 1445.3L1859.8 1448.3L1859.7 1451.4L1859.6 1454.4L1859.5 1457.4L1859.3 1460.4L1859.2 1463.5L1859.1 1466.5L1859 1469.5L1858.9 1472.5L1858.7 1475.6L1858.6 1478.6L1858.5 1481.6L1858.3 1484.6L1858.1 1487.7L1858 1490.7L1857.8 1493.7L1857.6 1496.7L1857.4 1499.8L1857.3 1502.8L1857.1 1505.8L1856.9 1508.8L1856.8 1511.9L1856.6 1514.9L1856.5 1517.9L1856.3 1520.9L1856.2 1524L1856.1 1527L1855.9 1530L1855.8 1533L1855.6 1536.1L1855.5 1539.1L1855.3 1542.1L1855.2 1545.1L1855.1 1548.2L1854.9 1551.2L1854.8 1554.2L1854.7 1557.2L1854.5 1560.3L1854.4 1563.3L1854.3 1566.3L1854.1 1569.3L1854 1572.4L1853.9 1575.4Z"/>
<path fill="#fb61d7" d="M1871.7 1510.7L1871.5 1507.7L1871.4 1504.7L1871.3 1501.6L1871.1 1498.6L1871 1495.6L1870.8 1492.6L1870.6 1489.6L1870.4 1486.6L1870.1 1483.6L1869.8 1480.6L1869.5 1477.6L1869.2 1474.5L1868.9 1471.5L1868.6 1468.5L1868.2 1465.5L1867.9 1462.5L1867.6 1459.5L1867.2 1456.5L1866.9 1453.5L1866.6 1450.5L1866.3 1447.5L1866 1444.4L1865.7 1441.4L1865.4 1438.4L1865.1 1435.4L1864.8 1432.4L1864.5 1429.4L1864.3 1426.4L1864.1 1423.4L1863.9 1420.4L1863.8 1417.3L1863.7 1414.3L1863.6 1411.3L1863.5 1408.3L1863.5 1405.3L1863.6 1402.3L1863.8 1399.3L1864 1396.3L1864.2 1393.3L1864.7 1390.3L1865.4 1387.2L1866.2 1384.2L1867 1381.2L1890 1381.2L1890.8 1384.2L1891.6 1387.2L1892.3 1390.3L1892.7 1393.3L1893 1396.3L1893.2 1399.3L1893.4 1402.3L1893.5 1405.3L1893.5 1408.3L1893.4 1411.3L1893.3 1414.3L1893.2 1417.3L1893 1420.4L1892.9 1423.4L1892.7 1426.4L1892.4 1429.4L1892.2 1432.4L1891.9 1435.4L1891.6 1438.4L1891.3 1441.4L1891 1444.4L1890.7 1447.5L1890.4 1450.5L1890.1 1453.5L1889.7 1456.5L1889.4 1459.5L1889.1 1462.5L1888.7 1465.5L1888.4 1468.5L1888.1 1471.5L1887.8 1474.5L1887.5 1477.6L1887.2 1480.6L1886.9 1483.6L1886.6 1486.6L1886.4 1489.6L1886.2 1492.6L1886 1495.6L1885.8 1498.6L1885.7 1501.6L1885.6 1504.7L1885.4 1507.7L1885.3 1510.7Z"/>
<path fill="#fe61cd" d="M1900.3 1510.7L1900 1507.6L1899.7 1504.6L1899.5 1501.5L1899.2 1498.5L1898.9 1495.5L1898.7 1492.4L1898.5 1489.4L1898.4 1486.3L1898.2 1483.3L1898.1 1480.2L1898 1477.2L1897.9 1474.2L1897.8 1471.1L1897.6 1468.1L1897.5 1465L1897.4 1462L1897.3 1458.9L1897.2 1455.9L1897.1 1452.9L1897 1449.8L1896.9 1446.8L1896.9 1443.7L1896.8 1440.7L1896.8 1437.6L1896.7 1434.6L1896.7 1431.6L1896.7 1428.5L1896.7 1425.5L1896.6 1422.4L1896.6 1419.4L1896.6 1416.3L1896.6 1413.3L1896.6 1410.3L1896.6 1407.2L1896.6 1404.2L1896.6 1401.1L1896.6 1398.1L1896.6 1395L1896.6 1392L1896.6 1388.9L1896.6 1385.9L1896.7 1382.9L1896.8 1379.8L1896.9 1376.8L1897 1373.7L1897.1 1370.7L1897.3 1367.6L1897.5 1364.6L1897.8 1361.6L1898.2 1358.5L1898.6 1355.5L1899 1352.4L1899.3 1349.4L1899.7 1346.3L1900.1 1343.3L1923.1 1343.3L1923.5 1346.3L1923.9 1349.4L1924.3 1352.4L1924.7 1355.5L1925 1358.5L1925.4 1361.6L1925.7 1364.6L1926 1367.6L1926.2 1370.7L1926.3 1373.7L1926.4 1376.8L1926.5 1379.8L1926.6 1382.9L1926.6 1385.9L1926.6 1388.9L1926.6 1392L1926.6 1395L1926.6 1398.1L1926.6 1401.1L1926.6 1404.2L1926.6 1407.2L1926.6 1410.3L1926.6 1413.3L1926.6 1416.3L1926.6 1419.4L1926.6 1422.4L1926.6 1425.5L1926.6 1428.5L1926.5 1431.6L1926.5 1434.6L1926.5 1437.6L1926.4 1440.7L1926.4 1443.7L1926.3 1446.8L1926.3 1449.8L1926.2 1452.9L1926.1 1455.9L1926 1458.9L1925.9 1462L1925.7 1465L1925.6 1468.1L1925.5 1471.1L1925.4 1474.2L1925.3 1477.2L1925.1 1480.2L1925 1483.3L1924.9 1486.3L1924.7 1489.4L1924.6 1492.4L1924.3 1495.5L1924.1 1498.5L1923.8 1501.5L1923.5 1504.6L1923.2 1507.6L1922.9 1510.7Z"/>
<path fill="#ff61c3" d="M1941.8 1575.4L1941.8 1572.4L1942 1569.4L1942.2 1566.4L1942.5 1563.4L1942.9 1560.3L1943.2 1557.3L1944.3 1554.3L1944.3 1551.3L1944.3 1548.3L1944.3 1545.3L1944.3 1542.3L1944.3 1539.3L1944.3 1536.2L1943.4 1533.2L1943.1 1530.2L1942.7 1527.2L1942.3 1524.2L1941.9 1521.2L1941.5 1518.2L1941.3 1515.2L1941.1 1512.2L1940.9 1509.1L1940.5 1506.1L1940.1 1503.1L1939.7 1500.1L1939.2 1497.1L1938.7 1494.1L1938.2 1491.1L1937.6 1488.1L1937 1485.1L1936.3 1482L1935.6 1479L1934.9 1476L1934.3 1473L1933.8 1470L1933.2 1467L1932.7 1464L1932.2 1461L1931.7 1457.9L1931.4 1454.9L1931.1 1451.9L1930.8 1448.9L1930.5 1445.9L1930.3 1442.9L1930.2 1439.9L1930 1436.9L1930 1433.9L1929.9 1430.8L1929.9 1427.8L1929.9 1424.8L1929.8 1421.8L1929.8 1418.8L1929.8 1415.8L1929.8 1412.8L1929.8 1409.8L1929.8 1406.8L1929.8 1403.7L1930 1400.7L1930.2 1397.7L1930.5 1394.7L1930.9 1391.7L1931.2 1388.7L1931.8 1385.7L1932.5 1382.7L1933.4 1379.6L1934.2 1376.6L1935 1373.6L1935.8 1370.6L1936.7 1367.6L1937.5 1364.6L1938.1 1361.6L1938.6 1358.6L1939 1355.6L1939.3 1352.5L1939.6 1349.5L1939.9 1346.5L1940.1 1343.5L1940.4 1340.5L1940.6 1337.5L1940.7 1334.5L1940.9 1331.5L1941 1328.4L1941.2 1325.4L1941.3 1322.4L1941.5 1319.4L1941.6 1316.4L1947.9 1316.4L1948.1 1319.4L1948.2 1322.4L1948.3 1325.4L1948.5 1328.4L1948.6 1331.5L1948.8 1334.5L1949 1337.5L1949.2 1340.5L1949.4 1343.5L1949.6 1346.5L1949.9 1349.5L1950.2 1352.5L1950.6 1355.6L1951 1358.6L1951.4 1361.6L1952.1 1364.6L1952.8 1367.6L1953.7 1370.6L1954.5 1373.6L1955.3 1376.6L1956.2 1379.6L1957 1382.7L1957.8 1385.7L1958.3 1388.7L1958.6 1391.7L1959 1394.7L1959.3 1397.7L1959.5 1400.7L1959.7 1403.7L1959.8 1406.8L1959.8 1409.8L1959.7 1412.8L1959.7 1415.8L1959.7 1418.8L1959.7 1421.8L1959.7 1424.8L1959.6 1427.8L1959.6 1430.8L1959.5 1433.9L1959.5 1436.9L1959.4 1439.9L1959.2 1442.9L1959 1445.9L1958.7 1448.9L1958.5 1451.9L1958.2 1454.9L1957.8 1457.9L1957.4 1461L1956.9 1464L1956.3 1467L1955.8 1470L1955.2 1473L1954.6 1476L1953.9 1479L1953.2 1482L1952.5 1485.1L1951.9 1488.1L1951.3 1491.1L1950.8 1494.1L1950.3 1497.1L1949.9 1500.1L1949.4 1503.1L1949 1506.1L1948.6 1509.1L1948.4 1512.2L1948.3 1515.2L1948 1518.2L1947.7 1521.2L1947.3 1524.2L1946.9 1527.2L1946.5 1530.2L1946.1 1533.2L1945.2 1536.2L1945.2 1539.3L1945.2 1542.3L1945.2 1545.3L1945.2 1548.3L1945.2 1551.3L1945.2 1554.3L1946.3 1557.3L1946.7 1560.3L1947 1563.4L1947.3 1566.4L1947.5 1569.4L1947.7 1572.4L1947.8 1575.4Z"/>
<path fill="#ff63b9" d="M1965.4 1445.9L1965.2 1442.9L1965.1 1439.9L1964.9 1436.9L1964.8 1433.9L1964.6 1430.9L1964.5 1427.9L1964.3 1424.9L1964.2 1421.9L1964.1 1418.8L1964 1415.8L1963.9 1412.8L1963.8 1409.8L1963.6 1406.8L1963.6 1403.8L1963.5 1400.8L1963.4 1397.8L1963.3 1394.8L1963.2 1391.7L1963.2 1388.7L1963.1 1385.7L1963 1382.7L1963 1379.7L1962.9 1376.7L1962.9 1373.7L1962.9 1370.7L1962.9 1367.6L1962.9 1364.6L1962.9 1361.6L1962.9 1358.6L1962.9 1355.6L1962.9 1352.6L1962.9 1349.6L1962.9 1346.6L1962.9 1343.6L1962.9 1340.5L1962.9 1337.5L1963 1334.5L1963.1 1331.5L1963.2 1328.5L1963.3 1325.5L1963.4 1322.5L1992.4 1322.5L1992.5 1325.5L1992.6 1328.5L1992.7 1331.5L1992.8 1334.5L1992.9 1337.5L1992.9 1340.5L1992.9 1343.6L1992.9 1346.6L1992.9 1349.6L1992.9 1352.6L1992.9 1355.6L1992.9 1358.6L1992.9 1361.6L1992.9 1364.6L1992.9 1367.6L1992.9 1370.7L1992.9 1373.7L1992.9 1376.7L1992.8 1379.7L1992.8 1382.7L1992.7 1385.7L1992.6 1388.7L1992.5 1391.7L1992.5 1394.8L1992.4 1397.8L1992.3 1400.8L1992.2 1403.8L1992.1 1406.8L1992 1409.8L1991.9 1412.8L1991.8 1415.8L1991.7 1418.8L1991.6 1421.9L1991.4 1424.9L1991.3 1427.9L1991.2 1430.9L1991 1433.9L1990.9 1436.9L1990.7 1439.9L1990.5 1442.9L1990.4 1445.9Z"/>
<path fill="#ff65ad" d="M2003 1510.7L2002.3 1507.7L2001.6 1504.7L2000.8 1501.7L2000.1 1498.7L1999.5 1495.7L1998.8 1492.6L1998.1 1489.6L1997.4 1486.6L1997 1483.6L1996.7 1480.6L1996.4 1477.6L1996.2 1474.6L1996.1 1471.6L1996 1468.6L1996.1 1465.6L1996.1 1462.6L1996.3 1459.6L1996.4 1456.6L1996.6 1453.6L1996.7 1450.6L1997 1447.6L1997.3 1444.6L1997.6 1441.6L1997.9 1438.6L1998.3 1435.6L1998.6 1432.6L1998.9 1429.5L1999.3 1426.5L1999.7 1423.5L2000 1420.5L2000.4 1417.5L2000.8 1414.5L2001.3 1411.5L2001.7 1408.5L2002.2 1405.5L2002.6 1402.5L2002.9 1399.5L2003.1 1396.5L2003.3 1393.5L2003.5 1390.5L2003.7 1387.5L2003.8 1384.5L2004 1381.5L2004.1 1378.5L2004.1 1375.5L2004.2 1372.5L2004.2 1369.5L2004.3 1366.5L2004.3 1363.4L2004.4 1360.4L2004.4 1357.4L2004.5 1354.4L2004.5 1351.4L2017.5 1351.4L2017.6 1354.4L2017.6 1357.4L2017.7 1360.4L2017.7 1363.4L2017.8 1366.5L2017.8 1369.5L2017.9 1372.5L2017.9 1375.5L2018 1378.5L2018.1 1381.5L2018.2 1384.5L2018.4 1387.5L2018.5 1390.5L2018.7 1393.5L2018.9 1396.5L2019.2 1399.5L2019.5 1402.5L2019.9 1405.5L2020.3 1408.5L2020.8 1411.5L2021.2 1414.5L2021.6 1417.5L2022 1420.5L2022.4 1423.5L2022.8 1426.5L2023.1 1429.5L2023.5 1432.6L2023.8 1435.6L2024.1 1438.6L2024.5 1441.6L2024.8 1444.6L2025.1 1447.6L2025.3 1450.6L2025.5 1453.6L2025.7 1456.6L2025.8 1459.6L2025.9 1462.6L2026 1465.6L2026 1468.6L2026 1471.6L2025.8 1474.6L2025.6 1477.6L2025.4 1480.6L2025.1 1483.6L2024.6 1486.6L2024 1489.6L2023.3 1492.6L2022.6 1495.7L2021.9 1498.7L2021.2 1501.7L2020.5 1504.7L2019.8 1507.7L2019 1510.7Z"/>
<path fill="#ff68a2" d="M2039.2 1575.4L2039.3 1572.4L2039.6 1569.4L2040.1 1566.4L2040.7 1563.3L2041.3 1560.3L2042 1557.3L2042.5 1554.3L2043.7 1551.3L2043.7 1548.3L2043.7 1545.3L2043.7 1542.3L2043.7 1539.2L2043.7 1536.2L2043.7 1533.2L2043.7 1530.2L2043.7 1527.2L2042.6 1524.2L2042.3 1521.2L2042 1518.2L2041.8 1515.1L2041.7 1512.1L2041.5 1509.1L2041.3 1506.1L2041 1503.1L2040.8 1500.1L2040.5 1497.1L2040.2 1494.1L2039.9 1491L2039.5 1488L2039.1 1485L2038.7 1482L2038.2 1479L2037.8 1476L2037.4 1473L2037 1470L2036.7 1466.9L2036.3 1463.9L2036 1460.9L2035.6 1457.9L2035.3 1454.9L2035 1451.9L2034.6 1448.9L2034.3 1445.8L2034 1442.8L2033.6 1439.8L2033.3 1436.8L2032.9 1433.8L2032.6 1430.8L2032.2 1427.8L2031.9 1424.8L2031.6 1421.7L2031.3 1418.7L2031.1 1415.7L2030.8 1412.7L2030.6 1409.7L2030.3 1406.7L2030.1 1403.7L2029.9 1400.7L2029.7 1397.6L2029.5 1394.6L2029.4 1391.6L2029.4 1388.6L2029.4 1385.6L2029.4 1382.6L2029.5 1379.6L2029.5 1376.6L2029.6 1373.5L2029.6 1370.5L2029.8 1367.5L2030.3 1364.5L2031 1361.5L2031.8 1358.5L2032.6 1355.5L2033.4 1352.4L2034.1 1349.4L2034.8 1346.4L2035.5 1343.4L2036.1 1340.4L2036.8 1337.4L2037.4 1334.4L2037.9 1331.4L2038.3 1328.3L2038.8 1325.3L2039.2 1322.3L2039.5 1319.3L2039.8 1316.3L2039.9 1313.3L2040.1 1310.3L2040.2 1307.3L2040.3 1304.2L2040.3 1301.2L2040.4 1298.2L2040.4 1295.2L2040.4 1292.2L2040.5 1289.2L2040.5 1286.2L2040.5 1283.2L2040.5 1280.1L2040.5 1277.1L2040.5 1274.1L2040.5 1271.1L2047.8 1271.1L2047.8 1274.1L2047.8 1277.1L2047.8 1280.1L2047.9 1283.2L2047.9 1286.2L2047.9 1289.2L2047.9 1292.2L2047.9 1295.2L2047.9 1298.2L2048 1301.2L2048.1 1304.2L2048.2 1307.3L2048.3 1310.3L2048.4 1313.3L2048.6 1316.3L2048.8 1319.3L2049.2 1322.3L2049.6 1325.3L2050 1328.3L2050.5 1331.4L2051 1334.4L2051.5 1337.4L2052.2 1340.4L2052.9 1343.4L2053.6 1346.4L2054.3 1349.4L2054.9 1352.4L2055.7 1355.5L2056.5 1358.5L2057.3 1361.5L2058 1364.5L2058.5 1367.5L2058.7 1370.5L2058.7 1373.5L2058.8 1376.6L2058.9 1379.6L2058.9 1382.6L2058.9 1385.6L2058.9 1388.6L2058.9 1391.6L2058.8 1394.6L2058.6 1397.6L2058.5 1400.7L2058.2 1403.7L2058 1406.7L2057.7 1409.7L2057.5 1412.7L2057.2 1415.7L2057 1418.7L2056.7 1421.7L2056.4 1424.8L2056.1 1427.8L2055.8 1430.8L2055.4 1433.8L2055.1 1436.8L2054.7 1439.8L2054.4 1442.8L2054 1445.8L2053.7 1448.9L2053.4 1451.9L2053 1454.9L2052.7 1457.9L2052.4 1460.9L2052 1463.9L2051.7 1466.9L2051.3 1470L2050.9 1473L2050.5 1476L2050.1 1479L2049.7 1482L2049.2 1485L2048.8 1488L2048.4 1491L2048.1 1494.1L2047.8 1497.1L2047.5 1500.1L2047.3 1503.1L2047 1506.1L2046.8 1509.1L2046.7 1512.1L2046.5 1515.1L2046.3 1518.2L2046.1 1521.2L2045.8 1524.2L2044.6 1527.2L2044.6 1530.2L2044.6 1533.2L2044.6 1536.2L2044.6 1539.2L2044.6 1542.3L2044.6 1545.3L2044.6 1548.3L2044.6 1551.3L2045.8 1554.3L2046.4 1557.3L2047 1560.3L2047.6 1563.3L2048.2 1566.4L2048.7 1569.4L2049.1 1572.4L2049.2 1575.4Z"/>
<path fill="#ff6b96" d="M2073.7 1575.4L2073.6 1572.4L2073.6 1569.4L2073.7 1566.4L2073.8 1563.4L2073.8 1560.3L2073.9 1557.3L2074 1554.3L2074.1 1551.3L2074.2 1548.3L2074.3 1545.3L2074.3 1542.3L2074.4 1539.3L2074.4 1536.3L2074.4 1533.2L2074.4 1530.2L2074.4 1527.2L2074.3 1524.2L2074.3 1521.2L2074.3 1518.2L2074.3 1515.2L2074.3 1512.2L2074.3 1509.2L2074.2 1506.1L2074.1 1503.1L2073.9 1500.1L2073.7 1497.1L2073.5 1494.1L2073.3 1491.1L2073.1 1488.1L2072.8 1485.1L2072.6 1482.1L2072.3 1479L2072.1 1476L2071.8 1473L2071.6 1470L2071.3 1467L2071.1 1464L2070.8 1461L2070.6 1458L2070.3 1455L2070 1451.9L2069.7 1448.9L2069.4 1445.9L2069.1 1442.9L2068.8 1439.9L2068.4 1436.9L2068 1433.9L2067.6 1430.9L2067.2 1427.9L2066.8 1424.8L2066.4 1421.8L2066.1 1418.8L2065.7 1415.8L2065.4 1412.8L2065 1409.8L2064.6 1406.8L2064.2 1403.8L2063.9 1400.8L2063.6 1397.7L2063.3 1394.7L2063.1 1391.7L2063 1388.7L2062.8 1385.7L2062.7 1382.7L2062.6 1379.7L2062.5 1376.7L2062.5 1373.7L2062.4 1370.6L2062.4 1367.6L2062.3 1364.6L2062.3 1361.6L2062.3 1358.6L2062.3 1355.6L2062.4 1352.6L2062.4 1349.6L2062.4 1346.6L2062.5 1343.6L2062.6 1340.5L2062.8 1337.5L2063.1 1334.5L2063.5 1331.5L2064 1328.5L2064.4 1325.5L2064.8 1322.5L2089.8 1322.5L2090.2 1325.5L2090.6 1328.5L2091.1 1331.5L2091.5 1334.5L2091.8 1337.5L2092 1340.5L2092.1 1343.6L2092.2 1346.6L2092.2 1349.6L2092.2 1352.6L2092.3 1355.6L2092.3 1358.6L2092.3 1361.6L2092.3 1364.6L2092.2 1367.6L2092.2 1370.6L2092.1 1373.7L2092.1 1376.7L2092 1379.7L2091.9 1382.7L2091.8 1385.7L2091.6 1388.7L2091.5 1391.7L2091.3 1394.7L2091 1397.7L2090.7 1400.8L2090.4 1403.8L2090 1406.8L2089.6 1409.8L2089.2 1412.8L2088.9 1415.8L2088.5 1418.8L2088.2 1421.8L2087.8 1424.8L2087.4 1427.9L2087 1430.9L2086.6 1433.9L2086.2 1436.9L2085.8 1439.9L2085.5 1442.9L2085.2 1445.9L2084.9 1448.9L2084.6 1451.9L2084.3 1455L2084 1458L2083.8 1461L2083.5 1464L2083.3 1467L2083 1470L2082.8 1473L2082.5 1476L2082.3 1479L2082 1482.1L2081.8 1485.1L2081.5 1488.1L2081.3 1491.1L2081.1 1494.1L2080.9 1497.1L2080.7 1500.1L2080.5 1503.1L2080.4 1506.1L2080.3 1509.2L2080.3 1512.2L2080.3 1515.2L2080.3 1518.2L2080.3 1521.2L2080.3 1524.2L2080.2 1527.2L2080.2 1530.2L2080.2 1533.2L2080.2 1536.3L2080.2 1539.3L2080.3 1542.3L2080.3 1545.3L2080.4 1548.3L2080.5 1551.3L2080.6 1554.3L2080.7 1557.3L2080.8 1560.3L2080.8 1563.4L2080.9 1566.4L2081 1569.4L2081 1572.4L2080.9 1575.4Z"/>
<path fill="#fe6e89" d="M2107.9 1510.7L2107.9 1507.6L2107.9 1504.6L2107.8 1501.6L2107.8 1498.6L2107.7 1495.5L2107.7 1492.5L2107.7 1489.5L2107.6 1486.5L2107.6 1483.4L2107.6 1480.4L2107.5 1477.4L2107.5 1474.4L2107.4 1471.3L2107.3 1468.3L2107 1465.3L2106.8 1462.2L2106.5 1459.2L2106.2 1456.2L2105.8 1453.2L2105.5 1450.1L2105 1447.1L2104.5 1444.1L2104 1441.1L2103.4 1438L2102.9 1435L2102.3 1432L2101.6 1429L2101 1425.9L2100.3 1422.9L2099.6 1419.9L2099 1416.8L2098.4 1413.8L2097.8 1410.8L2097.2 1407.8L2096.7 1404.7L2096.3 1401.7L2096 1398.7L2095.7 1395.7L2095.6 1392.6L2095.7 1389.6L2095.8 1386.6L2096.1 1383.6L2096.3 1380.5L2096.6 1377.5L2097 1374.5L2097.5 1371.4L2098 1368.4L2098.5 1365.4L2099.1 1362.4L2099.7 1359.3L2100.3 1356.3L2100.9 1353.3L2101.6 1350.3L2102.2 1347.2L2102.8 1344.2L2103.3 1341.2L2103.7 1338.2L2104.2 1335.1L2104.6 1332.1L2104.9 1329.1L2105.2 1326L2105.4 1323L2105.6 1320L2105.7 1317L2105.8 1313.9L2105.9 1310.9L2106 1307.9L2106.2 1304.9L2106.3 1301.8L2106.4 1298.8L2106.5 1295.8L2106.7 1292.8L2107.1 1289.7L2108.4 1286.7L2112.4 1286.7L2113.8 1289.7L2114.1 1292.8L2114.3 1295.8L2114.5 1298.8L2114.6 1301.8L2114.7 1304.9L2114.8 1307.9L2114.9 1310.9L2115 1313.9L2115.1 1317L2115.3 1320L2115.4 1323L2115.6 1326L2115.9 1329.1L2116.3 1332.1L2116.7 1335.1L2117.1 1338.2L2117.6 1341.2L2118.1 1344.2L2118.6 1347.2L2119.3 1350.3L2119.9 1353.3L2120.6 1356.3L2121.2 1359.3L2121.8 1362.4L2122.3 1365.4L2122.9 1368.4L2123.4 1371.4L2123.9 1374.5L2124.3 1377.5L2124.5 1380.5L2124.8 1383.6L2125 1386.6L2125.2 1389.6L2125.3 1392.6L2125.2 1395.7L2124.9 1398.7L2124.5 1401.7L2124.2 1404.7L2123.7 1407.8L2123.1 1410.8L2122.5 1413.8L2121.9 1416.8L2121.3 1419.9L2120.6 1422.9L2119.9 1425.9L2119.2 1429L2118.6 1432L2118 1435L2117.4 1438L2116.9 1441.1L2116.4 1444.1L2115.9 1447.1L2115.4 1450.1L2115 1453.2L2114.7 1456.2L2114.4 1459.2L2114.1 1462.2L2113.8 1465.3L2113.6 1468.3L2113.5 1471.3L2113.4 1474.4L2113.3 1477.4L2113.3 1480.4L2113.3 1483.4L2113.2 1486.5L2113.2 1489.5L2113.2 1492.5L2113.1 1495.5L2113.1 1498.6L2113.1 1501.6L2113 1504.6L2113 1507.6L2112.9 1510.7Z"/>
<path fill="#666666" d="M2136.1 1575.4L2136.2 1572.4L2136.7 1569.4L2137.5 1566.4L2138.4 1563.4L2139.3 1560.4L2140.3 1557.4L2141.1 1554.4L2141.8 1551.4L2143.1 1548.4L2143.1 1545.4L2143.1 1542.4L2143.1 1539.4L2143.1 1536.4L2143.1 1533.4L2142 1530.4L2141.6 1527.4L2141.1 1524.4L2140.6 1521.4L2140.1 1518.4L2139.8 1515.3L2139.6 1512.3L2139.6 1509.3L2139.6 1506.3L2139.7 1503.3L2139.8 1500.3L2140 1497.3L2140 1494.3L2140.1 1491.3L2140 1488.3L2139.9 1485.3L2139.7 1482.3L2139.5 1479.3L2139.3 1476.3L2139.1 1473.3L2138.9 1470.3L2138.8 1467.3L2138.7 1464.3L2138.5 1461.3L2138.4 1458.3L2138.2 1455.3L2138.1 1452.3L2137.9 1449.3L2137.7 1446.3L2137.5 1443.3L2137.2 1440.3L2137 1437.3L2136.7 1434.3L2136.4 1431.3L2136 1428.3L2135.7 1425.3L2135.3 1422.3L2134.9 1419.3L2134.5 1416.3L2134.1 1413.3L2133.6 1410.3L2133 1407.3L2132.4 1404.3L2131.9 1401.2L2131.3 1398.2L2130.8 1395.2L2130.4 1392.2L2130 1389.2L2129.6 1386.2L2129.2 1383.2L2128.9 1380.2L2128.6 1377.2L2128.6 1374.2L2128.6 1371.2L2128.8 1368.2L2129 1365.2L2129.3 1362.2L2129.6 1359.2L2130 1356.2L2130.3 1353.2L2130.7 1350.2L2131.1 1347.2L2131.6 1344.2L2132.1 1341.2L2132.7 1338.2L2133.3 1335.2L2133.9 1332.2L2134.5 1329.2L2135.1 1326.2L2135.6 1323.2L2136.1 1320.2L2136.5 1317.2L2137 1314.2L2137.4 1311.2L2137.9 1308.2L2138.3 1305.2L2138.7 1302.2L2139.1 1299.2L2139.5 1296.2L2139.8 1293.2L2140.1 1290.2L2140.5 1287.2L2140.8 1284.1L2141.1 1281.1L2141.3 1278.1L2141.6 1275.1L2141.8 1272.1L2142 1269.1L2142.1 1266.1L2142.2 1263.1L2143.1 1260.1L2143.1 1257.1L2143.1 1254.1L2143.1 1251.1L2143.1 1248.1L2143.1 1245.1L2143.1 1242.1L2143.1 1239.1L2143.1 1236.1L2143.1 1233.1L2143.1 1230.1L2143.1 1227.1L2143.1 1224.1L2143.1 1221.1L2143.1 1218.1L2143.1 1215.1L2143.1 1212.1L2143.1 1209.1L2143.1 1206.1L2143.1 1203.1L2143.1 1200.1L2143.1 1197.1L2143.1 1194.1L2143.1 1191.1L2143.1 1188.1L2143.1 1185.1L2143.1 1182.1L2143.1 1179.1L2143.1 1176.1L2143.1 1173.1L2143.1 1170.1L2143.1 1167L2143.1 1164L2143.1 1161L2143.1 1158L2143.1 1155L2143.1 1152L2143.1 1149L2143.1 1146L2143.1 1143L2143.1 1140L2143.1 1137L2143.1 1134L2143.1 1131L2143.1 1128L2144 1128L2144 1131L2144 1134L2144 1137L2144 1140L2144 1143L2144 1146L2144 1149L2144 1152L2144 1155L2144 1158L2144 1161L2144 1164L2144 1167L2144 1170.1L2144 1173.1L2144 1176.1L2144 1179.1L2144 1182.1L2144 1185.1L2144 1188.1L2144 1191.1L2144 1194.1L2144 1197.1L2144 1200.1L2144 1203.1L2144 1206.1L2144 1209.1L2144 1212.1L2144 1215.1L2144 1218.1L2144 1221.1L2144 1224.1L2144 1227.1L2144 1230.1L2144 1233.1L2144 1236.1L2144 1239.1L2144 1242.1L2144 1245.1L2144 1248.1L2144 1251.1L2144 1254.1L2144 1257.1L2144 1260.1L2144.9 1263.1L2145 1266.1L2145.2 1269.1L2145.3 1272.1L2145.6 1275.1L2145.8 1278.1L2146.1 1281.1L2146.4 1284.1L2146.7 1287.2L2147 1290.2L2147.3 1293.2L2147.7 1296.2L2148 1299.2L2148.4 1302.2L2148.8 1305.2L2149.2 1308.2L2149.7 1311.2L2150.1 1314.2L2150.6 1317.2L2151.1 1320.2L2151.6 1323.2L2152.1 1326.2L2152.6 1329.2L2153.2 1332.2L2153.8 1335.2L2154.4 1338.2L2155 1341.2L2155.5 1344.2L2156 1347.2L2156.4 1350.2L2156.8 1353.2L2157.2 1356.2L2157.5 1359.2L2157.8 1362.2L2158.1 1365.2L2158.3 1368.2L2158.5 1371.2L2158.6 1374.2L2158.5 1377.2L2158.3 1380.2L2158 1383.2L2157.6 1386.2L2157.1 1389.2L2156.7 1392.2L2156.3 1395.2L2155.8 1398.2L2155.3 1401.2L2154.7 1404.3L2154.1 1407.3L2153.6 1410.3L2153.1 1413.3L2152.6 1416.3L2152.2 1419.3L2151.8 1422.3L2151.5 1425.3L2151.1 1428.3L2150.8 1431.3L2150.5 1434.3L2150.2 1437.3L2149.9 1440.3L2149.7 1443.3L2149.5 1446.3L2149.3 1449.3L2149.1 1452.3L2148.9 1455.3L2148.8 1458.3L2148.6 1461.3L2148.5 1464.3L2148.3 1467.3L2148.2 1470.3L2148 1473.3L2147.8 1476.3L2147.6 1479.3L2147.4 1482.3L2147.2 1485.3L2147.1 1488.3L2147.1 1491.3L2147.1 1494.3L2147.2 1497.3L2147.3 1500.3L2147.4 1503.3L2147.5 1506.3L2147.6 1509.3L2147.5 1512.3L2147.4 1515.3L2147 1518.4L2146.6 1521.4L2146.1 1524.4L2145.6 1527.4L2145.1 1530.4L2144 1533.4L2144 1536.4L2144 1539.4L2144 1542.4L2144 1545.4L2144 1548.4L2145.4 1551.4L2146 1554.4L2146.9 1557.4L2147.8 1560.4L2148.8 1563.4L2149.7 1566.4L2150.4 1569.4L2150.9 1572.4L2151.1 1575.4Z"/>
</g>
<path class="d" stroke="#000" stroke-width="6.2" d="M79.2 1575.4h0M85.4 1575.4h0M80.9 1510.7h0M82.7 1510.7h0M86.8 1510.7h0M114.3 1575.4h0M117.3 1575.4h0M119.3 1575.4h0M126.3 1575.4h0M129.3 1575.4h0M131.3 1575.4h0M133.3 1575.4h0M136.3 1575.4h0M109.8 1510.7h0M113.3 1510.7h0M116.3 1510.7h0M125.3 1510.7h0M129.3 1510.7h0M123.3 1472.8h0M123 1393.7h0M154.2 1575.4h0M157.1 1575.4h0M166.8 1575.4h0M154.6 1575.4h0M155.7 1575.4h0M157.8 1575.4h0M147.1 1575.4h0M155.8 1575.4h0M158.9 1575.4h0M163.3 1575.4h0M144.7 1575.4h0M150.2 1575.4h0M144.6 1575.4h0M163.7 1575.4h0M160.6 1575.4h0M143.3 1575.4h0M168.3 1575.4h0M167.8 1575.4h0M159.6 1575.4h0M158.5 1575.4h0M146.4 1575.4h0M142.6 1575.4h0M156.2 1575.4h0M143.8 1575.4h0M147.2 1575.4h0M148.6 1575.4h0M143 1575.4h0M154.5 1575.4h0M153.9 1575.4h0M164.6 1575.4h0M156 1510.7h0M159.2 1510.7h0M155.5 1510.7h0M159.8 1510.7h0M154.3 1510.7h0M149.6 1510.7h0M168.7 1510.7h0M168.7 1510.7h0M164.5 1510.7h0M161 1510.7h0M150.6 1510.7h0M148.3 1510.7h0M149.9 1510.7h0M144 1510.7h0M162.6 1510.7h0M152.8 1510.7h0M164.7 1472.8h0M152.5 1472.8h0M167.7 1472.8h0M164.7 1472.8h0M142.2 1472.8h0M147.7 1472.8h0M166.4 1472.8h0M154.7 1472.8h0M168.2 1472.8h0M152.7 1472.8h0M144.1 1472.8h0M158.9 1472.8h0M162.9 1472.8h0M149.3 1472.8h0M144.5 1445.9h0M151 1445.9h0M167.8 1445.9h0M162.3 1445.9h0M145.3 1445.9h0M148.7 1445.9h0M144.9 1425.1h0M143.8 1425.1h0M163.4 1425.1h0M146.9 1425.1h0M157 1425.1h0M154.1 1425.1h0M157 1408h0M159.5 1381.2h0M175.6 1575.4h0M178.6 1575.4h0M180.6 1575.4h0M190.6 1575.4h0M192.6 1575.4h0M194.6 1575.4h0M196.6 1575.4h0M198.6 1575.4h0M200.6 1575.4h0M201.6 1575.4h0M188.6 1575.4h0M187.6 1575.4h0M180.4 1510.7h0M194.8 1510.7h0M178.8 1510.7h0M192.4 1510.7h0M178.4 1510.7h0M186.5 1510.7h0M181 1510.7h0M182.5 1510.7h0M201.1 1510.7h0M196.7 1510.7h0M181.6 1472.8h0M184.6 1472.8h0M187.6 1472.8h0M195.6 1472.8h0M198.6 1472.8h0M201.6 1472.8h0M189.6 1425.1h0M184.6 1381.2h0M216.5 1575.4h0M232 1575.4h0M214 1575.4h0M218.9 1575.4h0M231.2 1575.4h0M225.5 1575.4h0M211.1 1575.4h0M234.8 1575.4h0M214.1 1575.4h0M215.3 1575.4h0M229 1575.4h0M217.2 1575.4h0M216.3 1575.4h0M210.4 1575.4h0M210.8 1575.4h0M223.9 1575.4h0M214.9 1575.4h0M224.4 1575.4h0M218.3 1575.4h0M220.5 1575.4h0M234 1575.4h0M221.3 1575.4h0M223.7 1575.4h0M231.5 1575.4h0M213.3 1575.4h0M212.5 1575.4h0M232.6 1575.4h0M230.2 1575.4h0M215.1 1575.4h0M213.5 1575.4h0M228.1 1510.7h0M233.5 1510.7h0M213.7 1510.7h0M233.7 1510.7h0M231.9 1510.7h0M224.5 1510.7h0M219.7 1510.7h0M211.2 1510.7h0M209.5 1510.7h0M234 1510.7h0M214.8 1510.7h0M227.2 1510.7h0M215.3 1510.7h0M230.4 1510.7h0M224.3 1510.7h0M216.2 1510.7h0M213.1 1472.8h0M227.6 1472.8h0M210.3 1472.8h0M214.5 1472.8h0M223.3 1472.8h0M231.1 1472.8h0M224.8 1472.8h0M215.9 1472.8h0M232.8 1472.8h0M213.9 1472.8h0M208.9 1472.8h0M215.6 1472.8h0M220.3 1472.8h0M210 1472.8h0M213.1 1445.9h0M218.2 1445.9h0M223.7 1445.9h0M211.9 1445.9h0M218.1 1445.9h0M232.1 1445.9h0M234.5 1445.9h0M225.9 1445.9h0M226.8 1445.9h0M224 1445.9h0M210.7 1425.1h0M213.7 1425.1h0M216.7 1425.1h0M219.7 1425.1h0M233.7 1425.1h0M214.7 1408h0M217.7 1408h0M219.7 1408h0M232.7 1408h0M221.7 1381.2h0M222.2 1370.2h0M229.7 1316.4h0M245.3 1575.4h0M242.5 1575.4h0M242.1 1575.4h0M265.8 1575.4h0M260.2 1575.4h0M267.2 1575.4h0M242.1 1575.4h0M258.5 1575.4h0M254.4 1575.4h0M261 1575.4h0M250.1 1575.4h0M268.2 1575.4h0M243.6 1575.4h0M256.1 1575.4h0M261.2 1510.7h0M265.5 1510.7h0M261.2 1510.7h0M260.3 1510.7h0M262.7 1510.7h0M265.9 1510.7h0M250.9 1510.7h0M259.8 1510.7h0M265.5 1510.7h0M249.9 1472.8h0M258.9 1472.8h0M261.9 1472.8h0M264.9 1472.8h0M267.9 1472.8h0M247.9 1445.9h0M257.9 1445.9h0M259.9 1445.9h0M266.9 1445.9h0M242.9 1445.9h0M270.9 1445.9h0M297.9 1575.4h0M285.8 1575.4h0M295.7 1575.4h0M297.7 1575.4h0M289.9 1575.4h0M291.3 1575.4h0M284.9 1575.4h0M290.2 1575.4h0M290.9 1575.4h0M276.8 1575.4h0M291.7 1575.4h0M301.1 1575.4h0M298.1 1575.4h0M294.1 1575.4h0M285 1575.4h0M294.3 1575.4h0M290.2 1575.4h0M286.4 1575.4h0M297 1575.4h0M276.9 1575.4h0M294.7 1575.4h0M275.5 1575.4h0M290.7 1575.4h0M287.5 1575.4h0M280.8 1575.4h0M293.3 1575.4h0M287.9 1575.4h0M291.1 1575.4h0M299.2 1575.4h0M281.5 1575.4h0M275 1510.7h0M282.7 1510.7h0M292.7 1510.7h0M280.1 1510.7h0M279.2 1510.7h0M298.8 1510.7h0M292.3 1510.7h0M286.5 1510.7h0M298.4 1510.7h0M283.4 1510.7h0M292.4 1510.7h0M280 1510.7h0M286.2 1510.7h0M296.1 1510.7h0M299 1510.7h0M298.1 1510.7h0M284.9 1510.7h0M290.2 1510.7h0M283.1 1510.7h0M278.3 1510.7h0M287.9 1510.7h0M297 1510.7h0M297.3 1472.8h0M293.6 1472.8h0M300 1472.8h0M282.1 1472.8h0M279.2 1472.8h0M286.7 1472.8h0M282 1472.8h0M280.4 1472.8h0M285.7 1472.8h0M291.4 1472.8h0M287.8 1472.8h0M283.1 1472.8h0M297 1472.8h0M300.8 1472.8h0M286.7 1472.8h0M276.7 1472.8h0M275.5 1472.8h0M297.9 1472.8h0M275.8 1445.9h0M293.6 1445.9h0M289.9 1445.9h0M282.9 1445.9h0M295.8 1445.9h0M275.2 1445.9h0M278.3 1445.9h0M286.8 1445.9h0M275.4 1445.9h0M296.8 1445.9h0M281 1445.9h0M278.5 1445.9h0M276 1445.9h0M291.4 1445.9h0M286.6 1445.9h0M291.5 1445.9h0M280 1425.1h0M283 1425.1h0M288 1425.1h0M290 1425.1h0M278 1408h0M281 1408h0M284 1408h0M288 1408h0M286 1393.7h0M298 1393.7h0M301 1381.2h0M280 1360.3h0M283 1343.3h0M325.3 1575.4h0M329.3 1575.4h0M333.3 1575.4h0M326.1 1575.4h0M313.1 1575.4h0M320.5 1575.4h0M312.6 1575.4h0M308.1 1575.4h0M320.4 1575.4h0M326.8 1575.4h0M312.6 1575.4h0M315.1 1575.4h0M308.1 1510.7h0M316.1 1510.7h0M320.1 1510.7h0M323.1 1510.7h0M332.1 1510.7h0M325.1 1472.8h0M324.1 1445.9h0M329.1 1393.7h0M325.1 1360.3h0M330.1 1295.6h0M350.2 1575.4h0M359.5 1575.4h0M354.8 1575.4h0M357.3 1575.4h0M361.1 1575.4h0M351.4 1575.4h0M362 1575.4h0M365.1 1575.4h0M343.3 1575.4h0M365.8 1575.4h0M360.2 1575.4h0M344.4 1575.4h0M353 1575.4h0M357.6 1575.4h0M365.2 1575.4h0M351 1575.4h0M356.1 1575.4h0M364.4 1575.4h0M362.2 1575.4h0M366.1 1575.4h0M353.3 1575.4h0M358.3 1575.4h0M346.4 1575.4h0M360.2 1575.4h0M362.7 1575.4h0M358 1575.4h0M360.1 1575.4h0M346.7 1575.4h0M364.9 1575.4h0M367.1 1575.4h0M367 1510.7h0M355.3 1510.7h0M362 1510.7h0M349.5 1510.7h0M365.2 1510.7h0M363.7 1510.7h0M350.3 1510.7h0M343.2 1510.7h0M352.7 1510.7h0M355.6 1510.7h0M361.4 1510.7h0M353.9 1510.7h0M341.7 1510.7h0M362.5 1510.7h0M342.7 1510.7h0M362.3 1510.7h0M345.6 1510.7h0M349.9 1510.7h0M361.9 1472.8h0M344.7 1472.8h0M344.9 1472.8h0M354.7 1472.8h0M360.2 1472.8h0M363.3 1472.8h0M359.3 1472.8h0M366.1 1472.8h0M354.1 1472.8h0M366.2 1472.8h0M343.3 1472.8h0M346.9 1472.8h0M355 1472.8h0M348.7 1472.8h0M360.4 1472.8h0M358 1472.8h0M341.3 1445.9h0M344.3 1445.9h0M346.3 1445.9h0M351.3 1445.9h0M354.3 1445.9h0M357.3 1445.9h0M360.3 1445.9h0M362.3 1445.9h0M341.3 1425.1h0M344.3 1425.1h0M346.3 1425.1h0M359.3 1425.1h0M362.3 1425.1h0M364.3 1425.1h0M349.3 1408h0M364.3 1408h0M344.3 1393.7h0M346.3 1393.7h0M354.3 1393.7h0M365.3 1393.7h0M349.3 1381.2h0M365.3 1381.2h0M343.3 1351.4h0M388 1575.4h0M396.6 1575.4h0M389 1575.4h0M382.4 1575.4h0M384.3 1575.4h0M396.6 1575.4h0M398.1 1575.4h0M379.7 1575.4h0M396.7 1575.4h0M399.9 1575.4h0M388.1 1575.4h0M389.4 1575.4h0M379.5 1575.4h0M388.4 1575.4h0M387.5 1575.4h0M390.2 1575.4h0M374.9 1575.4h0M399.9 1575.4h0M387.8 1575.4h0M384.8 1575.4h0M395.4 1575.4h0M389.1 1575.4h0M387.2 1575.4h0M392.5 1575.4h0M375.9 1575.4h0M388.4 1575.4h0M385.1 1575.4h0M399.6 1575.4h0M398.7 1575.4h0M381.3 1575.4h0M386.7 1575.4h0M377.5 1575.4h0M385.7 1575.4h0M395.8 1575.4h0M398.1 1575.4h0M386.8 1575.4h0M382.6 1575.4h0M379.2 1575.4h0M390.6 1575.4h0M398.7 1575.4h0M377.6 1510.7h0M394.8 1510.7h0M374.7 1510.7h0M379.3 1510.7h0M380.2 1510.7h0M392.4 1510.7h0M382.7 1510.7h0M383.6 1510.7h0M390.6 1510.7h0M376.9 1510.7h0M393.6 1510.7h0M377.4 1510.7h0M387.7 1510.7h0M380.8 1510.7h0M379.4 1510.7h0M388.2 1510.7h0M385.7 1510.7h0M384.1 1510.7h0M385.1 1510.7h0M388.2 1510.7h0M378.4 1510.7h0M379.5 1510.7h0M390.9 1510.7h0M391.1 1510.7h0M388.2 1510.7h0M396.8 1510.7h0M390.4 1510.7h0M396.9 1510.7h0M380.3 1510.7h0M393.8 1510.7h0M395.7 1472.8h0M398.1 1472.8h0M382.5 1472.8h0M382.5 1472.8h0M398.7 1472.8h0M379.9 1472.8h0M400.7 1472.8h0M397.7 1472.8h0M377.7 1472.8h0M380.5 1472.8h0M393.4 1472.8h0M381 1472.8h0M376.7 1472.8h0M396.3 1472.8h0M385.3 1472.8h0M395.1 1472.8h0M377.5 1472.8h0M384.8 1472.8h0M392.3 1472.8h0M374.6 1472.8h0M379.5 1472.8h0M392.3 1472.8h0M398.4 1472.8h0M399.9 1472.8h0M377.2 1472.8h0M387.6 1445.9h0M394.3 1445.9h0M387.5 1445.9h0M392.4 1445.9h0M379.1 1445.9h0M376 1445.9h0M376.9 1445.9h0M375.1 1445.9h0M388.8 1445.9h0M387.8 1445.9h0M389.2 1445.9h0M378 1445.9h0M379 1425.1h0M379.5 1425.1h0M396.5 1425.1h0M400.5 1425.1h0M398.8 1425.1h0M376.6 1425.1h0M375.8 1425.1h0M399.4 1425.1h0M386.4 1425.1h0M394.5 1425.1h0M382.8 1408h0M386.5 1408h0M387.8 1408h0M385.6 1408h0M390.1 1408h0M374.5 1408h0M392.8 1408h0M396.6 1408h0M375.4 1393.7h0M378.4 1393.7h0M392.4 1393.7h0M395.4 1393.7h0M374.4 1381.2h0M377.4 1381.2h0M393.4 1381.2h0M396.4 1381.2h0M376.4 1370.2h0M384.4 1360.3h0M388.4 1360.3h0M391.4 1360.3h0M395.4 1360.3h0M387.4 1343.3h0M389.4 1335.8h0M377.4 1316.4h0M389.4 1310.8h0M398.4 1310.8h0M392.4 1305.4h0M396.4 1305.4h0M376.4 1238.1h0M408.5 1575.4h0M410.5 1575.4h0M428.5 1575.4h0M432.5 1575.4h0M416.5 1510.7h0M433.5 1510.7h0M420.5 1472.8h0M410.5 1445.9h0M445.2 1575.4h0M452.5 1575.4h0M460.1 1575.4h0M451.2 1575.4h0M445.6 1575.4h0M444.8 1575.4h0M454 1575.4h0M440.8 1575.4h0M464.1 1575.4h0M461.7 1575.4h0M459.1 1575.4h0M463.3 1575.4h0M457.1 1575.4h0M451.1 1575.4h0M456.3 1575.4h0M453.8 1575.4h0M466.5 1575.4h0M461.8 1575.4h0M447.3 1575.4h0M464.6 1575.4h0M460.2 1575.4h0M461.1 1575.4h0M462.1 1575.4h0M451.2 1575.4h0M464.2 1575.4h0M463.8 1575.4h0M458.9 1575.4h0M460.8 1575.4h0M460.7 1575.4h0M451.2 1575.4h0M459.6 1575.4h0M442.3 1575.4h0M449.5 1575.4h0M452.9 1575.4h0M440.7 1575.4h0M449.8 1575.4h0M457.4 1575.4h0M457 1575.4h0M446.6 1575.4h0M465.5 1575.4h0M458.1 1510.7h0M449.4 1510.7h0M457.9 1510.7h0M455.5 1510.7h0M454.6 1510.7h0M450.7 1510.7h0M467 1510.7h0M457.5 1510.7h0M459 1510.7h0M460.6 1510.7h0M466.5 1510.7h0M441 1510.7h0M456.8 1510.7h0M460 1510.7h0M447.2 1510.7h0M451.1 1510.7h0M441.7 1510.7h0M445.6 1510.7h0M450.4 1510.7h0M443 1510.7h0M447.1 1510.7h0M464.5 1510.7h0M455 1510.7h0M453.9 1510.7h0M466.1 1510.7h0M455.5 1510.7h0M466.9 1510.7h0M457.4 1510.7h0M461.9 1510.7h0M442.4 1510.7h0M456.3 1472.8h0M460.6 1472.8h0M441.6 1472.8h0M465.1 1472.8h0M444.6 1472.8h0M452.9 1472.8h0M444.9 1472.8h0M453.6 1472.8h0M456.6 1472.8h0M441.9 1472.8h0M465.5 1472.8h0M451.6 1472.8h0M454.4 1472.8h0M456.3 1472.8h0M450.1 1472.8h0M448 1472.8h0M457.8 1472.8h0M455.3 1472.8h0M447.9 1472.8h0M459.4 1472.8h0M448.3 1472.8h0M440.8 1472.8h0M446.9 1472.8h0M441.5 1472.8h0M444.6 1472.8h0M451.7 1445.9h0M454.7 1445.9h0M457.7 1445.9h0M460.7 1445.9h0M463.7 1445.9h0M466.7 1445.9h0M440.7 1445.9h0M443.7 1445.9h0M460.5 1425.1h0M450.8 1425.1h0M464.3 1425.1h0M460.3 1425.1h0M441.7 1425.1h0M466.7 1425.1h0M465.5 1425.1h0M442.3 1425.1h0M464.5 1425.1h0M451.8 1425.1h0M453.1 1425.1h0M466.3 1425.1h0M446.9 1408h0M454.3 1408h0M465.3 1408h0M459.6 1408h0M452.8 1408h0M466.4 1408h0M462.1 1408h0M456.4 1408h0M443.4 1408h0M457 1408h0M457.7 1393.7h0M463.7 1393.7h0M441.7 1381.2h0M444.7 1381.2h0M447.7 1381.2h0M462.7 1381.2h0M446.7 1370.2h0M455.7 1370.2h0M457.7 1370.2h0M453.7 1360.3h0M456.7 1360.3h0M464.7 1360.3h0M448.7 1343.3h0M451.7 1343.3h0M455.7 1343.3h0M458.7 1343.3h0M461.7 1343.3h0M464.7 1343.3h0M443.7 1335.8h0M446.7 1335.8h0M454.7 1335.8h0M457.7 1335.8h0M460.7 1335.8h0M463.7 1335.8h0M440.7 1335.8h0M465.7 1335.8h0M443.7 1328.9h0M445.7 1328.9h0M464.7 1328.9h0M442.7 1322.5h0M452.7 1322.5h0M465.7 1322.5h0M463.7 1322.5h0M447.7 1316.4h0M465.7 1316.4h0M466.7 1305.4h0M456.7 1282.5h0M485.6 1575.4h0M478.9 1575.4h0M474.9 1575.4h0M487.6 1575.4h0M476.8 1575.4h0M485.3 1575.4h0M491.3 1575.4h0M485.6 1575.4h0M480.5 1575.4h0M489 1575.4h0M484.7 1575.4h0M494.2 1575.4h0M487.6 1575.4h0M500.1 1575.4h0M498.9 1575.4h0M493.1 1575.4h0M479.9 1575.4h0M476.5 1575.4h0M497.3 1575.4h0M494.4 1575.4h0M475.8 1510.7h0M478.8 1510.7h0M482.8 1510.7h0M486.8 1510.7h0M489.8 1510.7h0M494.8 1510.7h0M498.8 1510.7h0M476.8 1472.8h0M483.8 1472.8h0M486.8 1472.8h0M490.8 1472.8h0M476.8 1445.9h0M484.8 1445.9h0M488.8 1445.9h0M491.8 1445.9h0M495.8 1445.9h0M476.8 1425.1h0M479.8 1425.1h0M493.8 1425.1h0M490.8 1408h0M494.8 1408h0M497.8 1408h0M481.8 1393.7h0M495.8 1360.3h0M498.8 1343.3h0M523.3 1575.4h0M516.2 1575.4h0M513.9 1575.4h0M524.9 1575.4h0M521.7 1575.4h0M522.4 1575.4h0M523.5 1575.4h0M526.7 1575.4h0M511.7 1575.4h0M513.3 1575.4h0M532.7 1575.4h0M531 1575.4h0M530 1575.4h0M507.7 1575.4h0M508.3 1575.4h0M513.9 1575.4h0M518 1575.4h0M523.2 1575.4h0M509.4 1575.4h0M521.1 1575.4h0M507 1510.7h0M517 1510.7h0M520 1510.7h0M523 1510.7h0M526 1510.7h0M529 1510.7h0M532 1510.7h0M507 1472.8h0M510 1472.8h0M513 1472.8h0M516 1472.8h0M522 1472.8h0M525 1472.8h0M528 1472.8h0M531 1472.8h0M513 1445.9h0M521 1445.9h0M512 1425.1h0M528 1425.1h0M520 1408h0M525 1381.2h0M541.7 1575.4h0M542.1 1575.4h0M557.8 1575.4h0M554.4 1575.4h0M556.6 1575.4h0M549.7 1575.4h0M552.5 1575.4h0M545.4 1575.4h0M548.9 1575.4h0M559.6 1575.4h0M562.1 1575.4h0M541.8 1575.4h0M543 1575.4h0M561.3 1575.4h0M556.4 1575.4h0M560.2 1575.4h0M545.5 1575.4h0M551.1 1575.4h0M546.7 1575.4h0M561.3 1575.4h0M549.6 1575.4h0M557.2 1575.4h0M566.1 1575.4h0M548.4 1575.4h0M554.4 1575.4h0M559.6 1575.4h0M564.3 1575.4h0M551.2 1575.4h0M549.6 1575.4h0M542.4 1575.4h0M563.1 1510.7h0M541.9 1510.7h0M542 1510.7h0M554.8 1510.7h0M552.7 1510.7h0M558 1510.7h0M547.7 1510.7h0M560.4 1510.7h0M541.8 1510.7h0M545.5 1510.7h0M557.4 1510.7h0M542 1510.7h0M547.9 1510.7h0M559.1 1510.7h0M558.2 1472.8h0M547.3 1472.8h0M543.6 1472.8h0M549.3 1472.8h0M559.1 1472.8h0M549.5 1472.8h0M542.9 1472.8h0M558.7 1472.8h0M554.9 1472.8h0M564.2 1472.8h0M564.8 1472.8h0M564.1 1472.8h0M546.1 1445.9h0M550.1 1445.9h0M553.1 1445.9h0M556.1 1445.9h0M564.1 1445.9h0M542.1 1425.1h0M553.1 1425.1h0M555.1 1425.1h0M564.1 1425.1h0M543.1 1408h0M546.1 1408h0M557.1 1393.7h0M565.1 1360.3h0M576.2 1575.4h0M579.2 1575.4h0M591.2 1575.4h0M594.2 1575.4h0M573.2 1510.7h0M577.2 1510.7h0M580.2 1510.7h0M584.2 1510.7h0M588.2 1510.7h0M596.2 1510.7h0M579.2 1472.8h0M583.2 1472.8h0M586.2 1472.8h0M586.2 1425.1h0M617.7 1575.4h0M627.4 1575.4h0M614.2 1575.4h0M614.5 1575.4h0M616.7 1575.4h0M630.9 1575.4h0M629.9 1575.4h0M612.7 1575.4h0M615.7 1575.4h0M615.8 1575.4h0M615.7 1575.4h0M616.6 1575.4h0M616.4 1575.4h0M611.2 1575.4h0M621.1 1575.4h0M627.3 1575.4h0M620.4 1575.4h0M628.3 1575.4h0M621 1575.4h0M610.8 1575.4h0M626.2 1575.4h0M629.5 1575.4h0M613.5 1575.4h0M606.7 1575.4h0M619.8 1575.4h0M620.5 1575.4h0M621.2 1575.4h0M631.8 1575.4h0M623.4 1575.4h0M627.5 1575.4h0M607.8 1575.4h0M620.6 1575.4h0M627 1575.4h0M608.3 1575.4h0M608.2 1575.4h0M625.7 1575.4h0M630 1575.4h0M608.3 1575.4h0M622.9 1575.4h0M609.9 1575.4h0M625.9 1510.7h0M623.3 1510.7h0M612.6 1510.7h0M611.9 1510.7h0M626.4 1510.7h0M619.9 1510.7h0M626.4 1510.7h0M616.6 1510.7h0M615 1510.7h0M631.8 1510.7h0M623.9 1510.7h0M619.2 1510.7h0M620.4 1510.7h0M625.2 1510.7h0M624.9 1510.7h0M630.4 1510.7h0M617 1510.7h0M628 1510.7h0M623.8 1510.7h0M628.8 1510.7h0M627.5 1510.7h0M628.2 1510.7h0M629.7 1510.7h0M631.5 1510.7h0M623.1 1510.7h0M620 1510.7h0M624.9 1510.7h0M627.4 1510.7h0M617.3 1510.7h0M617.2 1510.7h0M609.9 1472.8h0M625.8 1472.8h0M632.4 1472.8h0M616 1472.8h0M610.5 1472.8h0M611.5 1472.8h0M617.4 1472.8h0M613.8 1472.8h0M631.9 1472.8h0M607.6 1472.8h0M614.3 1472.8h0M609.1 1472.8h0M623.3 1472.8h0M626.7 1472.8h0M610.8 1472.8h0M607.7 1472.8h0M618.3 1472.8h0M621.6 1472.8h0M630.2 1472.8h0M607 1472.8h0M609 1472.8h0M611 1472.8h0M611.8 1472.8h0M612.3 1472.8h0M625.1 1472.8h0M621.9 1472.8h0M612 1472.8h0M611 1472.8h0M613.5 1445.9h0M610.6 1445.9h0M626.2 1445.9h0M614.4 1445.9h0M620.6 1445.9h0M627.8 1445.9h0M618.8 1445.9h0M613 1445.9h0M629.7 1445.9h0M630.4 1445.9h0M615.2 1445.9h0M620.6 1445.9h0M631.5 1445.9h0M618.9 1445.9h0M611.9 1445.9h0M607.4 1445.9h0M631.3 1445.9h0M627.4 1445.9h0M616.3 1445.9h0M620.1 1445.9h0M619.8 1445.9h0M613.4 1445.9h0M632.4 1445.9h0M623.6 1445.9h0M612.4 1425.1h0M606.3 1425.1h0M618.6 1425.1h0M615.9 1425.1h0M627.3 1425.1h0M625 1425.1h0M622.2 1425.1h0M610.2 1425.1h0M610.2 1425.1h0M614.6 1425.1h0M613 1425.1h0M629.2 1425.1h0M619.8 1425.1h0M623 1425.1h0M632.5 1425.1h0M613.1 1425.1h0M620.3 1425.1h0M610.1 1425.1h0M605.4 1408h0M608.4 1408h0M611.4 1408h0M614.4 1408h0M617.4 1408h0M620.4 1408h0M623.4 1408h0M626.4 1408h0M629.4 1408h0M632.4 1408h0M610.4 1393.7h0M613.4 1393.7h0M616.4 1393.7h0M619.4 1393.7h0M622.4 1393.7h0M625.4 1393.7h0M628.4 1393.7h0M606.4 1381.2h0M610.4 1381.2h0M622.4 1381.2h0M625.4 1381.2h0M628.4 1381.2h0M617.4 1370.2h0M619.4 1370.2h0M626.4 1370.2h0M616.4 1360.3h0M630.4 1360.3h0M615.4 1351.4h0M619.4 1351.4h0M622.4 1351.4h0M626.4 1351.4h0M629.4 1335.8h0M612.4 1310.8h0M626.4 1310.8h0M611.4 1305.4h0M613.4 1305.4h0M610.4 1260.9h0M640.5 1575.4h0M643.5 1575.4h0M654.5 1575.4h0M658.5 1575.4h0M661.5 1575.4h0M648.5 1510.7h0M655.8 1510.7h0M662.1 1510.7h0M662.1 1472.8h0M644.5 1425.1h0M662.1 1370.2h0M672.6 1575.4h0M675.6 1575.4h0M681.6 1575.4h0M684.6 1575.4h0M687.6 1575.4h0M691.6 1575.4h0M694.6 1575.4h0M697.6 1575.4h0M692.8 1510.7h0M672.4 1510.7h0M694.2 1510.7h0M694.8 1510.7h0M694.2 1510.7h0M674.5 1510.7h0M679.5 1510.7h0M691.4 1510.7h0M674.9 1510.7h0M685.1 1510.7h0M684.8 1510.7h0M697.7 1510.7h0M687.9 1510.7h0M695.1 1510.7h0M674.6 1472.8h0M691.6 1472.8h0M691.6 1445.9h0M689.6 1393.7h0M685.6 1335.8h0M677.6 1286.7h0M713.5 1575.4h0M726.5 1575.4h0M716.6 1575.4h0M729.9 1575.4h0M707.9 1575.4h0M727.4 1575.4h0M711 1575.4h0M719.9 1575.4h0M719.4 1575.4h0M709.7 1575.4h0M727.6 1575.4h0M713.7 1575.4h0M713.7 1575.4h0M707.5 1575.4h0M713.6 1575.4h0M717.9 1575.4h0M724.5 1575.4h0M715 1575.4h0M723.7 1575.4h0M708.3 1575.4h0M716 1575.4h0M717.7 1575.4h0M731.2 1575.4h0M727.5 1575.4h0M722.9 1575.4h0M705.8 1575.4h0M715.5 1575.4h0M724.4 1575.4h0M711.8 1575.4h0M720.5 1575.4h0M717.7 1510.7h0M705.7 1510.7h0M731.8 1510.7h0M726.7 1510.7h0M711 1510.7h0M721.9 1510.7h0M713.2 1510.7h0M715.5 1510.7h0M719.8 1510.7h0M713.4 1510.7h0M714.4 1510.7h0M715.9 1510.7h0M723.2 1510.7h0M712.3 1510.7h0M710.8 1510.7h0M724.9 1510.7h0M714.2 1510.7h0M730.6 1510.7h0M720.4 1510.7h0M724.7 1510.7h0M714.3 1510.7h0M727.5 1510.7h0M707.9 1472.8h0M709.2 1472.8h0M708 1472.8h0M723.5 1472.8h0M724.3 1472.8h0M710.2 1472.8h0M716.2 1472.8h0M727.7 1472.8h0M721.2 1472.8h0M707.9 1472.8h0M711.5 1472.8h0M709.6 1472.8h0M708.8 1445.9h0M715.8 1445.9h0M719.8 1445.9h0M724.8 1445.9h0M728.8 1445.9h0M714.8 1425.1h0M719.8 1425.1h0M723.8 1425.1h0M726.8 1425.1h0M729.8 1425.1h0M717.8 1425.1h0M730.8 1425.1h0M706.8 1408h0M709.8 1408h0M712.8 1408h0M716.8 1408h0M719.8 1408h0M723.8 1408h0M728.8 1408h0M728.8 1381.2h0M731.8 1381.2h0M722.8 1360.3h0M723.8 1351.4h0M739.4 1575.4h0M754.9 1575.4h0M759.2 1575.4h0M763.4 1575.4h0M754.4 1425.1h0M741.9 1370.2h0M788 1575.4h0M776 1510.7h0M784 1510.7h0M797 1472.8h0M807.2 1575.4h0M810.2 1575.4h0M813.2 1575.4h0M816.2 1575.4h0M819.2 1575.4h0M822.2 1575.4h0M826.2 1575.4h0M830.2 1575.4h0M805.2 1510.7h0M814.2 1510.7h0M826.2 1510.7h0M815.2 1472.8h0M824.2 1472.8h0M831.2 1472.8h0M809.2 1360.3h0M807.2 1335.8h0M841.3 1575.4h0M848.8 1575.4h0M839.9 1575.4h0M862.5 1575.4h0M849.4 1575.4h0M851.6 1575.4h0M855.2 1575.4h0M858.4 1575.4h0M859.8 1575.4h0M848.3 1575.4h0M846.8 1575.4h0M849 1575.4h0M838.4 1575.4h0M848.7 1575.4h0M856.6 1575.4h0M864.1 1575.4h0M859 1575.4h0M855.6 1575.4h0M854.2 1575.4h0M838.5 1575.4h0M846.8 1575.4h0M847.1 1575.4h0M855.3 1575.4h0M840.8 1575.4h0M848 1575.4h0M851.6 1575.4h0M859 1575.4h0M860 1575.4h0M854.3 1575.4h0M842.2 1575.4h0M858.4 1575.4h0M862 1575.4h0M852.6 1575.4h0M847.4 1575.4h0M851.3 1575.4h0M841.8 1575.4h0M857 1575.4h0M864.3 1575.4h0M851.7 1575.4h0M857 1575.4h0M860.2 1510.7h0M843.3 1510.7h0M863.1 1510.7h0M854.7 1510.7h0M843.3 1510.7h0M840.2 1510.7h0M844.5 1510.7h0M853.3 1510.7h0M856.5 1510.7h0M846.8 1510.7h0M862.7 1510.7h0M847.6 1510.7h0M850.3 1510.7h0M841.3 1510.7h0M863.9 1510.7h0M841.6 1510.7h0M862.1 1510.7h0M852.5 1510.7h0M852.9 1510.7h0M852.9 1510.7h0M845 1510.7h0M862.2 1510.7h0M864.4 1510.7h0M859.8 1510.7h0M854 1510.7h0M841.3 1510.7h0M859.9 1510.7h0M845.7 1510.7h0M861.9 1510.7h0M844.4 1510.7h0M853.3 1472.8h0M860.1 1472.8h0M842.9 1472.8h0M852.6 1472.8h0M840 1472.8h0M838.9 1472.8h0M842.8 1472.8h0M864.3 1472.8h0M863 1472.8h0M855.5 1472.8h0M846.2 1472.8h0M855.9 1472.8h0M857.6 1472.8h0M848.2 1472.8h0M853.7 1472.8h0M859.4 1472.8h0M838.4 1472.8h0M843.3 1472.8h0M850.5 1472.8h0M841.8 1472.8h0M848.3 1472.8h0M853.2 1472.8h0M842.6 1472.8h0M851.8 1472.8h0M845 1472.8h0M853.1 1445.9h0M846.8 1445.9h0M855.1 1445.9h0M839 1445.9h0M855.9 1445.9h0M841.9 1445.9h0M863.5 1445.9h0M854 1445.9h0M850.5 1445.9h0M848.9 1445.9h0M854.6 1445.9h0M856.3 1445.9h0M858.2 1445.9h0M858 1445.9h0M850.9 1445.9h0M864.5 1445.9h0M860.3 1445.9h0M860.7 1445.9h0M848.9 1445.9h0M849.5 1445.9h0M853.1 1445.9h0M862.1 1445.9h0M839.3 1425.1h0M848.3 1425.1h0M851.3 1425.1h0M854.3 1425.1h0M857.3 1425.1h0M860.3 1425.1h0M863.3 1425.1h0M850.3 1425.1h0M855.3 1425.1h0M840.3 1408h0M843.3 1408h0M846.3 1408h0M849.3 1408h0M852.3 1408h0M855.3 1408h0M862.3 1408h0M863.3 1408h0M838.3 1393.7h0M841.3 1393.7h0M844.3 1393.7h0M849.3 1393.7h0M852.3 1393.7h0M855.3 1393.7h0M859.3 1393.7h0M862.3 1393.7h0M864.3 1393.7h0M839.3 1381.2h0M842.3 1381.2h0M845.3 1381.2h0M848.3 1381.2h0M851.3 1381.2h0M861.3 1381.2h0M860.3 1351.4h0M847.5 1328.9h0M862.3 1310.8h0M885.1 1575.4h0M885.1 1575.4h0M882.6 1575.4h0M895.2 1575.4h0M879.7 1575.4h0M872.6 1575.4h0M890.4 1575.4h0M895.1 1575.4h0M890.6 1575.4h0M887 1575.4h0M891.1 1575.4h0M879.2 1575.4h0M886.9 1575.4h0M873 1575.4h0M874.5 1575.4h0M883 1575.4h0M884.5 1575.4h0M881.7 1575.4h0M872.5 1575.4h0M889.6 1575.4h0M885.1 1575.4h0M877.5 1575.4h0M879.3 1575.4h0M881.7 1575.4h0M877.4 1575.4h0M873 1575.4h0M895.4 1575.4h0M896.8 1575.4h0M888.8 1575.4h0M894.2 1575.4h0M882.3 1510.7h0M892.6 1510.7h0M877 1510.7h0M891 1510.7h0M886.2 1510.7h0M895.2 1510.7h0M873.8 1510.7h0M892.2 1510.7h0M874.4 1510.7h0M885.4 1510.7h0M896.4 1510.7h0M871.2 1510.7h0M877.6 1510.7h0M879.1 1510.7h0M879.8 1510.7h0M872.8 1510.7h0M895 1510.7h0M892.8 1510.7h0M881.7 1510.7h0M880.6 1510.7h0M886.7 1510.7h0M872.4 1510.7h0M872 1510.7h0M895 1510.7h0M879.3 1510.7h0M870.4 1472.8h0M873.4 1472.8h0M876.4 1472.8h0M879.4 1472.8h0M882.4 1472.8h0M886.4 1472.8h0M890.4 1472.8h0M896.4 1472.8h0M893.4 1472.8h0M888.4 1472.8h0M878.4 1445.9h0M881.4 1445.9h0M884.4 1445.9h0M887.4 1445.9h0M890.4 1445.9h0M896.4 1445.9h0M873.4 1425.1h0M876.4 1425.1h0M875.4 1408h0M887.4 1408h0M882.4 1381.2h0M873.4 1335.8h0M876.4 1328.9h0M912.6 1575.4h0M915.6 1575.4h0M919.6 1575.4h0M923.6 1575.4h0M926.6 1575.4h0M929.6 1575.4h0M931.6 1575.4h0M914.6 1510.7h0M917.6 1510.7h0M921.6 1510.7h0M907.6 1472.8h0M912.6 1425.1h0M913.6 1360.3h0M938.7 1575.4h0M942.7 1575.4h0M949.7 1575.4h0M955.7 1575.4h0M959.7 1575.4h0M962.7 1575.4h0M937.7 1510.7h0M941.7 1510.7h0M945.7 1510.7h0M949.7 1510.7h0M943.7 1472.8h0M958.7 1472.8h0M961.7 1472.8h0M938.7 1445.9h0M948.7 1381.2h0M951.7 1335.8h0M971.8 1575.4h0M973.8 1575.4h0M975.8 1575.4h0M978.8 1575.4h0M981.8 1575.4h0M983.8 1575.4h0M985.8 1575.4h0M988.8 1575.4h0M991.8 1575.4h0M993.8 1575.4h0M996.8 1575.4h0M990.8 1575.4h0M995.8 1510.7h0M976.8 1472.8h0M987.8 1472.8h0M980.8 1445.9h0M978.8 1408h0M978.8 1393.7h0M973.8 1381.2h0M977.8 1370.2h0M983.8 1360.3h0M1004 1575.4h0M1008 1575.4h0M1014 1575.4h0M1020 1575.4h0M1024 1575.4h0M1028 1575.4h0M1010 1510.7h0M1024 1510.7h0M1012 1472.8h0M1020 1472.8h0M1028 1472.8h0M1008 1370.2h0M1007.5 1360.3h0M1016 1328.9h0M1050.1 1575.4h0M1061.7 1575.4h0M1062.8 1575.4h0M1049.4 1575.4h0M1042.3 1575.4h0M1044.7 1575.4h0M1061.4 1575.4h0M1060.7 1575.4h0M1042 1575.4h0M1059.1 1575.4h0M1046.2 1575.4h0M1049.4 1575.4h0M1041.4 1575.4h0M1060.2 1575.4h0M1046.1 1510.7h0M1049.1 1510.7h0M1052.1 1510.7h0M1056.1 1510.7h0M1039.1 1472.8h0M1043.1 1472.8h0M1054.1 1472.8h0M1060.1 1472.8h0M1052.1 1445.9h0M1061.1 1425.1h0M1050.1 1370.2h0M1056.1 1370.2h0M1046.1 1310.8h0M1055.1 1282.5h0M1096.4 1575.4h0M1075.3 1575.4h0M1086.8 1575.4h0M1075 1575.4h0M1093.4 1575.4h0M1071.3 1575.4h0M1072.8 1575.4h0M1089.3 1575.4h0M1078.3 1575.4h0M1093.9 1575.4h0M1093.1 1575.4h0M1088.9 1575.4h0M1073.5 1575.4h0M1088.5 1575.4h0M1094.9 1575.4h0M1081.8 1575.4h0M1072.1 1575.4h0M1075.9 1575.4h0M1078.1 1575.4h0M1088.9 1575.4h0M1075.2 1575.4h0M1074.8 1575.4h0M1076.2 1575.4h0M1087.6 1575.4h0M1091 1575.4h0M1079.9 1575.4h0M1087.6 1575.4h0M1093.5 1575.4h0M1085.6 1510.7h0M1076 1510.7h0M1078 1510.7h0M1094.6 1510.7h0M1087.7 1510.7h0M1077.3 1510.7h0M1087 1510.7h0M1072.3 1510.7h0M1096.1 1510.7h0M1081.7 1510.7h0M1084 1510.7h0M1084.1 1510.7h0M1071.2 1510.7h0M1085.9 1510.7h0M1072.2 1472.8h0M1075.2 1472.8h0M1086.2 1472.8h0M1089.2 1472.8h0M1080.2 1472.8h0M1091.2 1445.9h0M1094.2 1445.9h0M1070.2 1425.1h0M1073.2 1425.1h0M1077.2 1425.1h0M1086.2 1425.1h0M1094 1425.1h0M1083.2 1408h0M1085.2 1408h0M1095 1408h0M1076.2 1393.7h0M1089.8 1393.7h0M1094 1393.7h0M1075.5 1381.2h0M1090.8 1381.2h0M1088.7 1370.2h0M1072.2 1360.3h0M1074.2 1360.3h0M1080.2 1360.3h0M1095 1360.3h0M1087.7 1335.8h0M1083.2 1328.9h0M1079.8 1322.5h0M1110.7 1575.4h0M1109.8 1575.4h0M1124.5 1575.4h0M1105.4 1575.4h0M1110.7 1575.4h0M1123.2 1575.4h0M1109.6 1575.4h0M1110.5 1575.4h0M1117.7 1575.4h0M1108 1575.4h0M1126.9 1575.4h0M1129.4 1575.4h0M1104 1575.4h0M1115.4 1575.4h0M1123.1 1575.4h0M1113.3 1575.4h0M1127.8 1575.4h0M1116.4 1575.4h0M1107.9 1575.4h0M1117.9 1575.4h0M1120.2 1575.4h0M1112.7 1575.4h0M1120.6 1575.4h0M1123.9 1575.4h0M1116.8 1575.4h0M1116.5 1575.4h0M1125.6 1575.4h0M1121.3 1575.4h0M1116.9 1575.4h0M1128.4 1575.4h0M1107.7 1575.4h0M1123.8 1575.4h0M1107.5 1575.4h0M1119.3 1575.4h0M1109.3 1575.4h0M1114.8 1575.4h0M1123.6 1575.4h0M1124 1575.4h0M1124.1 1575.4h0M1109.4 1575.4h0M1116.1 1510.7h0M1109 1510.7h0M1118.5 1510.7h0M1116.4 1510.7h0M1104 1510.7h0M1119 1510.7h0M1122.1 1510.7h0M1118.3 1510.7h0M1126.3 1510.7h0M1107.9 1510.7h0M1107.1 1510.7h0M1103.6 1510.7h0M1116.3 1510.7h0M1114.6 1510.7h0M1114.8 1510.7h0M1110.1 1510.7h0M1124.3 1510.7h0M1105 1510.7h0M1127.2 1510.7h0M1118.2 1510.7h0M1117.5 1510.7h0M1124.1 1510.7h0M1109.4 1510.7h0M1107 1510.7h0M1111.4 1510.7h0M1104.2 1510.7h0M1111.4 1510.7h0M1119.6 1510.7h0M1117.1 1510.7h0M1110.1 1510.7h0M1118.7 1472.8h0M1105.4 1472.8h0M1124.9 1472.8h0M1107.6 1472.8h0M1109.9 1472.8h0M1107.3 1472.8h0M1121.5 1472.8h0M1125.2 1472.8h0M1124 1472.8h0M1104.7 1472.8h0M1114 1472.8h0M1112.8 1472.8h0M1108.8 1472.8h0M1128.9 1472.8h0M1104.2 1472.8h0M1116.1 1472.8h0M1123.3 1472.8h0M1129.3 1472.8h0M1106.9 1472.8h0M1115.2 1472.8h0M1122.9 1472.8h0M1104.1 1472.8h0M1109.5 1472.8h0M1126.8 1472.8h0M1106.9 1472.8h0M1113.5 1445.9h0M1111 1445.9h0M1114.4 1445.9h0M1105.1 1445.9h0M1104 1445.9h0M1129.6 1445.9h0M1123.4 1445.9h0M1122.6 1445.9h0M1109.2 1445.9h0M1109.8 1445.9h0M1117.8 1445.9h0M1109.5 1445.9h0M1115.4 1445.9h0M1127.9 1445.9h0M1112.8 1445.9h0M1112.1 1445.9h0M1129.2 1445.9h0M1119.3 1445.9h0M1104.1 1445.9h0M1113.8 1445.9h0M1120.4 1425.1h0M1104.6 1425.1h0M1112.2 1425.1h0M1121.6 1425.1h0M1126.1 1425.1h0M1118.8 1425.1h0M1126.7 1425.1h0M1115.4 1425.1h0M1113.5 1425.1h0M1125.5 1425.1h0M1113.2 1425.1h0M1123.9 1425.1h0M1108.8 1425.1h0M1112.3 1425.1h0M1104.4 1408h0M1107.4 1408h0M1110.4 1408h0M1113.4 1408h0M1115.4 1408h0M1121.4 1408h0M1114.7 1393.7h0M1104.7 1370.2h0M1115.1 1370.2h0M1106.8 1360.3h0M1109.9 1360.3h0M1117.2 1360.3h0M1111 1343.3h0M1127.3 1343.3h0M1127.3 1335.8h0M1127.7 1316.4h0M1141.1 1575.4h0M1150.8 1575.4h0M1140.6 1575.4h0M1141.6 1575.4h0M1141.9 1575.4h0M1148.7 1575.4h0M1144.4 1575.4h0M1148.1 1575.4h0M1162.6 1575.4h0M1154.3 1575.4h0M1159.2 1575.4h0M1141.7 1575.4h0M1146.4 1575.4h0M1138.2 1575.4h0M1154.6 1575.4h0M1145.9 1575.4h0M1143.5 1575.4h0M1136.7 1575.4h0M1141.1 1575.4h0M1143.2 1575.4h0M1146.7 1575.4h0M1160.8 1575.4h0M1155.2 1575.4h0M1143.4 1575.4h0M1145.8 1575.4h0M1140.3 1575.4h0M1161.1 1575.4h0M1145.8 1575.4h0M1156.6 1575.4h0M1155.5 1575.4h0M1160.3 1575.4h0M1136.8 1575.4h0M1144.8 1575.4h0M1146.4 1575.4h0M1138.4 1575.4h0M1159.7 1575.4h0M1144.9 1575.4h0M1156.7 1575.4h0M1150 1575.4h0M1137.7 1575.4h0M1146.7 1510.7h0M1142.6 1510.7h0M1137.3 1510.7h0M1140.2 1510.7h0M1152.1 1510.7h0M1137.1 1510.7h0M1144.5 1510.7h0M1147.5 1510.7h0M1150.7 1510.7h0M1139.8 1510.7h0M1155 1510.7h0M1143.1 1510.7h0M1155.5 1510.7h0M1153.9 1510.7h0M1140.1 1510.7h0M1141.7 1510.7h0M1143.7 1510.7h0M1155.2 1510.7h0M1147 1510.7h0M1146.5 1510.7h0M1159.3 1510.7h0M1142.2 1510.7h0M1144 1510.7h0M1145.4 1510.7h0M1142 1510.7h0M1137.3 1510.7h0M1136.9 1510.7h0M1153 1510.7h0M1151.3 1472.8h0M1157.7 1472.8h0M1162.2 1472.8h0M1144.1 1472.8h0M1154.1 1472.8h0M1160.7 1472.8h0M1142 1472.8h0M1154.6 1472.8h0M1154 1472.8h0M1161.6 1472.8h0M1159.3 1472.8h0M1142.5 1472.8h0M1153 1472.8h0M1138.6 1472.8h0M1147.6 1472.8h0M1146.7 1472.8h0M1137.8 1472.8h0M1146.4 1472.8h0M1144.9 1472.8h0M1149.4 1472.8h0M1143.7 1472.8h0M1140.4 1472.8h0M1146.9 1472.8h0M1148.9 1472.8h0M1140.7 1472.8h0M1153.9 1472.8h0M1142.6 1445.9h0M1138.7 1445.9h0M1145.3 1445.9h0M1147.5 1445.9h0M1140.2 1445.9h0M1151.7 1445.9h0M1154.9 1445.9h0M1150.9 1445.9h0M1154.8 1445.9h0M1136.8 1445.9h0M1146.6 1445.9h0M1145.9 1445.9h0M1137.9 1445.9h0M1147 1445.9h0M1137.7 1445.9h0M1149.4 1445.9h0M1151.8 1445.9h0M1148.7 1445.9h0M1144.9 1445.9h0M1143 1445.9h0M1136.8 1445.9h0M1145.5 1445.9h0M1135.5 1425.1h0M1138.5 1425.1h0M1141.5 1425.1h0M1144.5 1425.1h0M1147.5 1425.1h0M1150.5 1425.1h0M1158.5 1425.1h0M1161.5 1425.1h0M1138.5 1408h0M1144.5 1408h0M1148.5 1408h0M1152.5 1408h0M1155.5 1408h0M1157.5 1408h0M1146.5 1393.7h0M1154.5 1393.7h0M1142.5 1381.2h0M1148.5 1381.2h0M1155.5 1381.2h0M1158.5 1370.2h0M1137.5 1335.8h0M1148.5 1316.4h0M1144.5 1286.7h0M1170.7 1575.4h0M1173.7 1575.4h0M1179.7 1575.4h0M1182.7 1575.4h0M1187.7 1575.4h0M1192.7 1575.4h0M1195.7 1575.4h0M1171.7 1510.7h0M1174.7 1510.7h0M1177.7 1510.7h0M1180.7 1510.7h0M1185.7 1510.7h0M1189.7 1510.7h0M1193.7 1510.7h0M1181.7 1472.8h0M1185.7 1472.8h0M1189.7 1472.8h0M1193.7 1472.8h0M1186.7 1425.1h0M1176.7 1408h0M1172.7 1381.2h0M1189.7 1370.2h0M1192.7 1351.4h0M1202.8 1575.4h0M1208.8 1575.4h0M1215.8 1575.4h0M1220.8 1575.4h0M1227.8 1575.4h0M1208.8 1510.7h0M1210.8 1510.7h0M1218.8 1510.7h0M1221.8 1510.7h0M1215.8 1472.8h0M1218.8 1472.8h0M1221.8 1472.8h0M1204.8 1445.9h0M1207.8 1445.9h0M1211.8 1445.9h0M1217.8 1408h0M1227.8 1408h0M1211.8 1370.2h0M1238.9 1575.4h0M1241.9 1575.4h0M1244.9 1575.4h0M1235.9 1510.7h0M1250.9 1510.7h0M1244.9 1343.3h0M1245.9 1335.8h0M1292.5 1575.4h0M1283.8 1575.4h0M1275.7 1575.4h0M1286.5 1575.4h0M1273.7 1575.4h0M1281.2 1575.4h0M1285.1 1575.4h0M1294.2 1575.4h0M1278.4 1575.4h0M1284.1 1575.4h0M1293.8 1575.4h0M1289.3 1575.4h0M1285.4 1575.4h0M1285.3 1575.4h0M1279.7 1575.4h0M1279.8 1575.4h0M1276.1 1575.4h0M1290.8 1575.4h0M1292.2 1575.4h0M1278.9 1575.4h0M1293 1575.4h0M1269.8 1575.4h0M1272.4 1575.4h0M1282.2 1575.4h0M1277 1575.4h0M1278.3 1575.4h0M1294.7 1575.4h0M1272.7 1575.4h0M1273.9 1575.4h0M1274.8 1575.4h0M1286.9 1575.4h0M1275 1575.4h0M1268.8 1575.4h0M1283.2 1575.4h0M1279.2 1575.4h0M1275.1 1575.4h0M1281.9 1575.4h0M1286.1 1575.4h0M1283.3 1575.4h0M1285.4 1575.4h0M1283.7 1510.7h0M1290.9 1510.7h0M1294.5 1510.7h0M1277.6 1510.7h0M1278 1510.7h0M1292.3 1510.7h0M1277.1 1510.7h0M1287.8 1510.7h0M1287.3 1510.7h0M1287 1510.7h0M1294.4 1510.7h0M1290.7 1510.7h0M1273 1510.7h0M1285.3 1510.7h0M1281.8 1510.7h0M1283.8 1510.7h0M1278.6 1510.7h0M1276.4 1510.7h0M1288.7 1510.7h0M1283 1510.7h0M1275.1 1510.7h0M1275.4 1510.7h0M1277.4 1510.7h0M1273.5 1510.7h0M1282.4 1510.7h0M1272.1 1510.7h0M1270.4 1510.7h0M1270.6 1510.7h0M1271.5 1472.8h0M1287.5 1472.8h0M1271.8 1472.8h0M1280.8 1472.8h0M1289.3 1472.8h0M1281.5 1472.8h0M1273.1 1472.8h0M1291.8 1472.8h0M1291.9 1472.8h0M1270.2 1472.8h0M1275.5 1472.8h0M1282.3 1472.8h0M1289.9 1472.8h0M1279.2 1472.8h0M1287.8 1472.8h0M1275.5 1472.8h0M1287.8 1472.8h0M1277.5 1472.8h0M1277.6 1472.8h0M1289 1472.8h0M1291.2 1445.9h0M1290.8 1445.9h0M1283.9 1445.9h0M1279.9 1445.9h0M1287.6 1445.9h0M1285.3 1445.9h0M1290.9 1445.9h0M1290.1 1445.9h0M1272.1 1445.9h0M1278.8 1445.9h0M1286.6 1445.9h0M1274.9 1445.9h0M1273.7 1445.9h0M1269.1 1445.9h0M1284.3 1445.9h0M1293.8 1445.9h0M1294.6 1425.1h0M1272.3 1425.1h0M1287 1425.1h0M1279.9 1425.1h0M1285.6 1425.1h0M1279.3 1425.1h0M1293.6 1425.1h0M1295.1 1425.1h0M1270.1 1425.1h0M1287.7 1425.1h0M1271.9 1425.1h0M1269.9 1425.1h0M1276.4 1425.1h0M1288.2 1425.1h0M1295.2 1425.1h0M1272 1425.1h0M1277.5 1425.1h0M1269.5 1425.1h0M1269.1 1408h0M1282.1 1408h0M1285.1 1408h0M1288.1 1408h0M1291.1 1408h0M1274.1 1393.7h0M1286.1 1393.7h0M1275.1 1381.2h0M1289.1 1381.2h0M1280.1 1370.2h0M1292.1 1370.2h0M1276.1 1351.4h0M1282.1 1351.4h0M1294.1 1300.4h0M1316.3 1575.4h0M1314.7 1575.4h0M1311.8 1575.4h0M1310.1 1575.4h0M1323.2 1575.4h0M1324.2 1575.4h0M1309.4 1575.4h0M1312.3 1575.4h0M1318.3 1575.4h0M1322.3 1575.4h0M1328 1575.4h0M1312.3 1575.4h0M1320.4 1575.4h0M1316.4 1575.4h0M1323.2 1575.4h0M1305.8 1575.4h0M1306.6 1575.4h0M1304.7 1575.4h0M1326.7 1575.4h0M1308.6 1575.4h0M1314.9 1575.4h0M1305.1 1575.4h0M1310.5 1575.4h0M1302.4 1575.4h0M1316.9 1575.4h0M1305.7 1575.4h0M1318.5 1575.4h0M1309.2 1575.4h0M1307.9 1575.4h0M1314.7 1575.4h0M1311.6 1575.4h0M1308.8 1575.4h0M1303.3 1575.4h0M1303.6 1575.4h0M1325.6 1575.4h0M1310.1 1510.7h0M1304 1510.7h0M1306.7 1510.7h0M1314.8 1510.7h0M1328.4 1510.7h0M1307.3 1510.7h0M1325 1510.7h0M1314.8 1510.7h0M1312.9 1510.7h0M1323.4 1510.7h0M1312.4 1510.7h0M1303.4 1510.7h0M1316.5 1510.7h0M1319.4 1510.7h0M1318.5 1510.7h0M1309.3 1510.7h0M1326.9 1510.7h0M1324.9 1510.7h0M1328.3 1510.7h0M1313.7 1510.7h0M1324.1 1510.7h0M1321.2 1510.7h0M1306.6 1510.7h0M1302.6 1510.7h0M1306.4 1510.7h0M1305.1 1510.7h0M1303.2 1472.8h0M1306.2 1472.8h0M1309.2 1472.8h0M1319.2 1472.8h0M1323.2 1472.8h0M1325.2 1472.8h0M1323.2 1445.9h0M1306.2 1425.1h0M1314.2 1425.1h0M1316.2 1425.1h0M1326.2 1425.1h0M1312.2 1408h0M1321.2 1408h0M1305.2 1393.7h0M1311.2 1393.7h0M1314.2 1393.7h0M1320.2 1393.7h0M1323.2 1393.7h0M1326.2 1393.7h0M1308.2 1381.2h0M1323.2 1370.2h0M1302.2 1360.3h0M1306.2 1351.4h0M1320.2 1343.3h0M1325.2 1343.3h0M1323.2 1335.8h0M1303.2 1322.5h0M1313.5 1271.1h0M1311.9 1251.7h0M1337 1575.4h0M1344.6 1575.4h0M1355.1 1575.4h0M1343.3 1575.4h0M1348.7 1575.4h0M1335.3 1575.4h0M1340.6 1575.4h0M1360.5 1575.4h0M1335.3 1575.4h0M1349.1 1575.4h0M1356.6 1575.4h0M1356.1 1575.4h0M1354.6 1575.4h0M1345.7 1575.4h0M1356.4 1575.4h0M1357 1575.4h0M1355.5 1575.4h0M1361.3 1575.4h0M1337.7 1575.4h0M1360.3 1575.4h0M1345.7 1575.4h0M1353.8 1575.4h0M1341.7 1575.4h0M1359.2 1575.4h0M1335.7 1575.4h0M1350.4 1575.4h0M1341.1 1575.4h0M1345.4 1575.4h0M1344.9 1575.4h0M1352.5 1575.4h0M1356.6 1575.4h0M1344.7 1575.4h0M1352 1575.4h0M1344.4 1575.4h0M1342.5 1575.4h0M1359.1 1510.7h0M1343.6 1510.7h0M1337.5 1510.7h0M1343.9 1510.7h0M1354.8 1510.7h0M1340.7 1510.7h0M1354.8 1510.7h0M1349.6 1510.7h0M1353.1 1510.7h0M1339.7 1510.7h0M1337.8 1510.7h0M1338.8 1510.7h0M1344.3 1510.7h0M1346.5 1510.7h0M1335.3 1510.7h0M1348.4 1510.7h0M1345.8 1510.7h0M1343.6 1510.7h0M1349.3 1510.7h0M1360.4 1510.7h0M1340.5 1510.7h0M1358.5 1510.7h0M1343.6 1510.7h0M1355.1 1510.7h0M1334.3 1472.8h0M1337.3 1472.8h0M1341.3 1472.8h0M1345.3 1472.8h0M1347.3 1472.8h0M1356.3 1472.8h0M1359.3 1472.8h0M1339.3 1445.9h0M1345.3 1445.9h0M1347.3 1445.9h0M1352.3 1445.9h0M1355.3 1445.9h0M1360.3 1445.9h0M1354.3 1425.1h0M1342.3 1408h0M1353.3 1408h0M1356.3 1408h0M1360.3 1408h0M1346.3 1393.7h0M1354.3 1393.7h0M1339.3 1381.2h0M1348.3 1381.2h0M1353.3 1381.2h0M1336.3 1370.2h0M1350.3 1370.2h0M1343.3 1360.3h0M1336.3 1351.4h0M1351.3 1351.4h0M1348.3 1343.3h0M1355.3 1343.3h0M1335.3 1335.8h0M1343.3 1316.4h0M1342.8 1310.8h0M1354.3 1295.6h0M1360.3 1271.1h0M1379.5 1575.4h0M1383.5 1575.4h0M1386.5 1575.4h0M1371.5 1510.7h0M1374.5 1510.7h0M1375.5 1472.8h0M1377.5 1472.8h0M1374.5 1445.9h0M1380.5 1445.9h0M1382.5 1445.9h0M1374.5 1408h0M1390.5 1381.2h0M1403.6 1575.4h0M1406.6 1575.4h0M1414.6 1575.4h0M1417.6 1575.4h0M1420.6 1575.4h0M1424.6 1575.4h0M1411.6 1510.7h0M1415.6 1510.7h0M1418.6 1510.7h0M1426.6 1510.7h0M1405.6 1425.1h0M1414.6 1408h0M1424.6 1408h0M1404.6 1393.7h0M1408.6 1370.2h0M1426.6 1360.3h0M1420.6 1322.5h0M1426.6 1274.8h0M1437.3 1575.4h0M1460.7 1575.4h0M1445.9 1575.4h0M1460 1575.4h0M1440.3 1575.4h0M1445.3 1575.4h0M1453.2 1575.4h0M1439.2 1575.4h0M1441.7 1575.4h0M1452.4 1575.4h0M1459.6 1575.4h0M1443 1575.4h0M1439.3 1575.4h0M1443.9 1575.4h0M1460.8 1575.4h0M1438.4 1575.4h0M1451.3 1575.4h0M1444.5 1575.4h0M1451.6 1575.4h0M1440.1 1575.4h0M1450.8 1575.4h0M1458 1575.4h0M1457.2 1575.4h0M1451.2 1575.4h0M1447.9 1575.4h0M1449.5 1575.4h0M1437.5 1575.4h0M1456.7 1575.4h0M1452.8 1575.4h0M1446.5 1575.4h0M1433.7 1510.7h0M1436.7 1510.7h0M1439.7 1510.7h0M1454.7 1510.7h0M1460.7 1510.7h0M1457.7 1510.7h0M1436.7 1472.8h0M1441.7 1472.8h0M1444.7 1472.8h0M1459.7 1472.8h0M1442.7 1445.9h0M1445.7 1445.9h0M1450.7 1445.9h0M1454.7 1445.9h0M1457.7 1425.1h0M1434.7 1393.7h0M1437.7 1393.7h0M1441.7 1393.7h0M1449.7 1393.7h0M1447.7 1381.2h0M1456.7 1370.2h0M1443.7 1343.3h0M1442.7 1335.8h0M1450.7 1322.5h0M1454.4 1251.7h0M1473 1575.4h0M1485.6 1575.4h0M1487.7 1575.4h0M1490.8 1575.4h0M1491.2 1510.7h0M1484.5 1472.8h0M1478.7 1445.9h0M1470.9 1408h0M1473 1408h0M1468.4 1393.7h0M1486 1381.2h0M1481.8 1370.2h0M1502.3 1575.4h0M1508.6 1575.4h0M1523.2 1575.4h0M1525.3 1575.4h0M1527.4 1575.4h0M1511.7 1510.7h0M1513.8 1510.7h0M1526.3 1510.7h0M1524.3 1393.7h0M1510.7 1381.2h0M1504.8 1351.4h0M1512.1 1335.8h0M1512.7 1328.9h0M1534.8 1575.4h0M1546.7 1575.4h0M1540.4 1510.7h0M1537.9 1472.8h0M1540 1472.8h0M1546.3 1425.1h0M1549.4 1425.1h0M1552.5 1425.1h0M1554.6 1393.7h0M1557.8 1393.7h0M1560.5 1393.7h0M1543.5 1370.2h0M1545.4 1351.4h0M1567.1 1575.4h0M1570.3 1575.4h0M1572.3 1575.4h0M1578.6 1575.4h0M1584.9 1575.4h0M1588 1575.4h0M1593.3 1575.4h0M1567.7 1510.7h0M1578.6 1510.7h0M1577.6 1472.8h0M1580.7 1472.8h0M1582.2 1472.8h0M1578 1445.9h0M1588 1445.9h0M1583.9 1425.1h0M1577.6 1393.7h0M1582.2 1393.7h0M1567.1 1360.3h0M1570.7 1360.3h0M1584.3 1351.4h0M1589.7 1335.8h0M1574.4 1316.4h0M1583.9 1316.4h0M1575.1 1310.8h0M1591.6 1291h0M1603.8 1575.4h0M1615.9 1575.4h0M1602.7 1510.7h0M1612.1 1510.7h0M1606.9 1472.8h0M1609 1472.8h0M1611.1 1472.8h0M1605.9 1445.9h0M1610.7 1445.9h0M1603.8 1425.1h0M1612.1 1425.1h0M1616.3 1425.1h0M1619.4 1425.1h0M1603.8 1408h0M1612.8 1408h0M1625.3 1393.7h0M1608 1360.3h0M1601.7 1328.9h0M1645.5 1575.4h0M1649.6 1575.4h0M1658.4 1510.7h0M1634.4 1445.9h0M1649.2 1408h0M1636.7 1360.3h0M1639.2 1360.3h0M1641.7 1360.3h0M1646.9 1343.3h0M1671.7 1575.4h0M1682.6 1575.4h0M1679.5 1408h0M1670.7 1381.2h0M1670.7 1291h0M1724.1 1510.7h0M1720.3 1472.8h0M1716.1 1445.9h0M1721.2 1408h0M1700.5 1393.7h0M1733.9 1575.4h0M1734 1510.7h0M1743.9 1472.8h0M1757.5 1393.7h0M1756 1351.4h0M1748 1343.3h0M1767.4 1575.4h0M1778.9 1575.4h0M1786.2 1575.4h0M1791.4 1510.7h0M1774.7 1408h0M1765.9 1393.7h0M1768 1393.7h0M1768.4 1381.2h0M1771.1 1381.2h0M1770.1 1370.2h0M1782.2 1360.3h0M1785.8 1360.3h0M1765.9 1343.3h0M1791 1335.8h0M1768.4 1322.5h0M1819.7 1575.4h0M1810.3 1472.8h0M1810.3 1425.1h0M1804 1393.7h0M1818.3 1393.7h0M1806.6 1351.4h0M1842.9 1575.4h0M1845 1575.4h0M1847.1 1575.4h0M1838.7 1510.7h0M1849.2 1510.7h0M1851.3 1510.7h0M1853.4 1510.7h0M1839.8 1472.8h0M1857.5 1472.8h0M1855.4 1445.9h0M1857.5 1445.9h0M1854.8 1425.1h0M1836.6 1408h0M1850.2 1408h0M1845 1381.2h0M1857.5 1370.2h0M1858.2 1360.3h0M1840.4 1328.9h0M1848.1 1316.4h0M1850.2 1316.4h0M1848.5 1291h0M1866.4 1510.7h0M1876.4 1472.8h0M1880.4 1425.1h0M1887.7 1425.1h0M1866.8 1393.7h0M1883.1 1381.2h0M1904.1 1510.7h0M1914.3 1472.8h0M1921.2 1425.1h0M1903.9 1381.2h0M1920.6 1343.3h0M1932.2 1575.4h0M1942.3 1575.4h0M1943.3 1510.7h0M1939.2 1472.8h0M1941.2 1472.8h0M1950.7 1472.8h0M1952.8 1472.8h0M1933.9 1445.9h0M1945.4 1445.9h0M1947.5 1445.9h0M1952.8 1445.9h0M1956.9 1445.9h0M1936 1425.1h0M1950.7 1425.1h0M1954.8 1425.1h0M1945.4 1408h0M1948.6 1408h0M1952.3 1408h0M1933.5 1393.7h0M1944.4 1393.7h0M1951.7 1393.7h0M1954.8 1393.7h0M1957.4 1393.7h0M1932.2 1381.2h0M1942.3 1381.2h0M1945.4 1381.2h0M1948.1 1370.2h0M1942.3 1351.4h0M1954.4 1343.3h0M1943.8 1328.9h0M1939.2 1316.4h0M1979.8 1445.9h0M1970.4 1425.1h0M1982.9 1425.1h0M1971.8 1370.2h0M1972.5 1351.4h0M1964.7 1322.5h0M1980.8 1322.5h0M2006 1510.7h0M2004.9 1472.8h0M2010.2 1472.8h0M2000.1 1445.9h0M2014.3 1445.9h0M2021.7 1381.2h0M2009.1 1351.4h0M2031.2 1575.4h0M2036.5 1575.4h0M2046.9 1575.4h0M2049 1575.4h0M2053.6 1575.4h0M2038.6 1472.8h0M2042.7 1472.8h0M2046.9 1472.8h0M2050.1 1472.8h0M2039.6 1445.9h0M2031.2 1425.1h0M2051.1 1425.1h0M2055.3 1425.1h0M2049 1408h0M2052.2 1408h0M2054.2 1408h0M2039.6 1393.7h0M2042.3 1393.7h0M2045.9 1393.7h0M2049 1393.7h0M2042.7 1381.2h0M2052.2 1381.2h0M2056.3 1381.2h0M2036.9 1370.2h0M2046.9 1370.2h0M2049.4 1370.2h0M2031.2 1360.3h0M2034.8 1360.3h0M2052.2 1360.3h0M2055.3 1360.3h0M2049 1343.3h0M2043.4 1335.8h0M2049 1310.8h0M2034.8 1291h0M2055.3 1291h0M2037.5 1274.8h0M2035.4 1271.1h0M2078.6 1575.4h0M2071.4 1472.8h0M2087.1 1408h0M2079.8 1393.7h0M2080.2 1381.2h0M2084 1360.3h0M2066 1335.8h0M2064.5 1322.5h0M2109.1 1510.7h0M2107.5 1445.9h0M2104.3 1408h0M2107.5 1408h0M2111.7 1408h0M2109.6 1393.7h0M2113.7 1393.7h0M2117.9 1393.7h0M2105.8 1370.2h0M2097 1360.3h0M2117.5 1360.3h0M2122.1 1351.4h0M2098.7 1322.5h0M2102.2 1316.4h0M2111.2 1286.7h0M2148 1575.4h0M2141.4 1575.4h0M2140.5 1575.4h0M2136.4 1575.4h0M2146.2 1575.4h0M2145.5 1575.4h0M2144 1575.4h0M2131.1 1575.4h0M2147 1575.4h0M2142.2 1575.4h0M2146.1 1575.4h0M2146.1 1575.4h0M2155.1 1575.4h0M2134.3 1575.4h0M2142.7 1575.4h0M2156.7 1575.4h0M2149.9 1575.4h0M2138.6 1575.4h0M2149.9 1575.4h0M2156.6 1575.4h0M2141 1575.4h0M2153.3 1575.4h0M2133.6 1575.4h0M2156.6 1575.4h0M2143.3 1575.4h0M2136.5 1575.4h0M2152.6 1575.4h0M2147.5 1575.4h0M2155.2 1575.4h0M2152.3 1575.4h0M2151.5 1575.4h0M2143.9 1575.4h0M2156.7 1575.4h0M2132 1575.4h0M2153.4 1575.4h0M2149.2 1575.4h0M2136.9 1575.4h0M2151.7 1575.4h0M2142.3 1575.4h0M2144.5 1575.4h0M2153.3 1575.4h0M2135.5 1575.4h0M2137.7 1575.4h0M2147.4 1575.4h0M2132.2 1575.4h0M2145 1575.4h0M2151.2 1575.4h0M2143.3 1575.4h0M2136.7 1575.4h0M2151.5 1575.4h0M2153 1575.4h0M2150.8 1575.4h0M2144.9 1575.4h0M2154.4 1575.4h0M2151.5 1575.4h0M2134.3 1575.4h0M2140 1575.4h0M2132.9 1575.4h0M2131.2 1575.4h0M2139.5 1575.4h0M2153.3 1575.4h0M2152.5 1575.4h0M2133.4 1575.4h0M2135.1 1575.4h0M2140.6 1575.4h0M2152.9 1575.4h0M2146.7 1575.4h0M2154.3 1575.4h0M2132.2 1575.4h0M2156.5 1575.4h0M2135.8 1510.7h0M2147 1510.7h0M2153.6 1510.7h0M2149.6 1510.7h0M2135.5 1510.7h0M2148 1510.7h0M2141.7 1510.7h0M2130.7 1510.7h0M2139.3 1510.7h0M2138.7 1510.7h0M2147 1510.7h0M2137.7 1510.7h0M2146.3 1510.7h0M2148.8 1510.7h0M2135.1 1510.7h0M2133.7 1510.7h0M2148.7 1510.7h0M2142.7 1510.7h0M2133.7 1510.7h0M2133.4 1510.7h0M2155.3 1510.7h0M2146.5 1510.7h0M2139.8 1510.7h0M2135.5 1510.7h0M2156.7 1510.7h0M2148.7 1510.7h0M2149.9 1510.7h0M2139.9 1510.7h0M2138.5 1510.7h0M2141.1 1510.7h0M2134.2 1510.7h0M2147.1 1510.7h0M2141.6 1510.7h0M2152.1 1510.7h0M2141.1 1510.7h0M2142.4 1510.7h0M2143.7 1510.7h0M2155.3 1510.7h0M2139.5 1510.7h0M2149 1510.7h0M2136.5 1510.7h0M2145.7 1510.7h0M2137.8 1510.7h0M2153.5 1510.7h0M2137.9 1510.7h0M2153 1510.7h0M2148.3 1510.7h0M2142.4 1510.7h0M2155.1 1510.7h0M2140.6 1510.7h0M2150 1510.7h0M2146.3 1510.7h0M2142.2 1510.7h0M2132 1510.7h0M2141.4 1510.7h0M2137.8 1510.7h0M2142 1510.7h0M2155.7 1510.7h0M2138.1 1510.7h0M2148.8 1510.7h0M2148.1 1472.8h0M2136.8 1472.8h0M2141.2 1472.8h0M2133.8 1472.8h0M2154.1 1472.8h0M2137 1472.8h0M2141.5 1472.8h0M2139.4 1472.8h0M2152.1 1472.8h0M2152.9 1472.8h0M2146 1472.8h0M2144.8 1472.8h0M2132.9 1472.8h0M2154.1 1472.8h0M2132.6 1472.8h0M2139.9 1472.8h0M2140.2 1472.8h0M2149.5 1472.8h0M2148.1 1472.8h0M2139.4 1472.8h0M2154.2 1472.8h0M2155.5 1472.8h0M2130.9 1472.8h0M2147.1 1472.8h0M2142.8 1472.8h0M2139.9 1472.8h0M2142.6 1472.8h0M2138.7 1472.8h0M2148.1 1472.8h0M2146.4 1472.8h0M2156.1 1472.8h0M2156.2 1472.8h0M2156.7 1472.8h0M2140.8 1472.8h0M2152.3 1472.8h0M2147.6 1472.8h0M2148.9 1472.8h0M2156.8 1472.8h0M2132 1472.8h0M2142.6 1472.8h0M2140.9 1472.8h0M2147.7 1472.8h0M2136.1 1472.8h0M2156.6 1472.8h0M2135.8 1472.8h0M2140.1 1472.8h0M2134.1 1472.8h0M2140.8 1472.8h0M2150 1472.8h0M2132.5 1472.8h0M2134.7 1472.8h0M2147.5 1472.8h0M2146.8 1472.8h0M2150 1472.8h0M2137 1472.8h0M2151.8 1472.8h0M2149.7 1472.8h0M2150.9 1472.8h0M2133.5 1472.8h0M2142.7 1472.8h0M2130.7 1445.9h0M2153.1 1445.9h0M2155.4 1445.9h0M2154.1 1445.9h0M2130.9 1445.9h0M2139.6 1445.9h0M2144.5 1445.9h0M2144.5 1445.9h0M2133.2 1445.9h0M2151.3 1445.9h0M2138.3 1445.9h0M2143.8 1445.9h0M2133.6 1445.9h0M2145.4 1445.9h0M2133.7 1445.9h0M2132.6 1445.9h0M2143.9 1445.9h0M2138.1 1445.9h0M2151 1445.9h0M2136.8 1445.9h0M2141.3 1445.9h0M2131.7 1445.9h0M2136.1 1445.9h0M2142.3 1445.9h0M2145.1 1445.9h0M2142.5 1445.9h0M2152.9 1445.9h0M2133 1445.9h0M2152.9 1445.9h0M2134.4 1445.9h0M2156.1 1445.9h0M2144.2 1445.9h0M2141.1 1445.9h0M2146.6 1445.9h0M2153.2 1445.9h0M2155.9 1445.9h0M2141.3 1445.9h0M2130.6 1445.9h0M2134.4 1445.9h0M2152 1445.9h0M2149.8 1445.9h0M2149.2 1445.9h0M2134.4 1445.9h0M2144.4 1445.9h0M2131 1445.9h0M2133.2 1445.9h0M2138.3 1445.9h0M2156 1445.9h0M2147.4 1445.9h0M2152.8 1445.9h0M2131.5 1445.9h0M2141.3 1445.9h0M2132.4 1445.9h0M2137.2 1445.9h0M2133.2 1445.9h0M2154.7 1445.9h0M2139 1445.9h0M2143.3 1445.9h0M2147.7 1445.9h0M2153.9 1445.9h0M2155.4 1425.1h0M2145.4 1425.1h0M2143.6 1425.1h0M2154.3 1425.1h0M2140.8 1425.1h0M2138.2 1425.1h0M2149.9 1425.1h0M2137.1 1425.1h0M2140.1 1425.1h0M2141.7 1425.1h0M2143 1425.1h0M2139.8 1425.1h0M2141.7 1425.1h0M2142.3 1425.1h0M2131.6 1425.1h0M2152.5 1425.1h0M2131.9 1425.1h0M2144.3 1425.1h0M2144.8 1425.1h0M2140.9 1425.1h0M2136.2 1425.1h0M2132.9 1425.1h0M2140.2 1425.1h0M2138.6 1425.1h0M2143.1 1425.1h0M2136.4 1425.1h0M2150.2 1425.1h0M2143.2 1425.1h0M2130.5 1425.1h0M2141.1 1425.1h0M2156 1425.1h0M2130.5 1425.1h0M2146.1 1425.1h0M2155.8 1425.1h0M2140 1425.1h0M2146.2 1425.1h0M2140.1 1425.1h0M2138.3 1425.1h0M2146.5 1425.1h0M2145.9 1425.1h0M2138.7 1425.1h0M2143.5 1425.1h0M2144 1425.1h0M2150.3 1425.1h0M2131.7 1425.1h0M2132.7 1425.1h0M2137 1425.1h0M2137.5 1425.1h0M2151.4 1425.1h0M2141.6 1425.1h0M2153.1 1425.1h0M2141 1425.1h0M2137.9 1425.1h0M2148.4 1425.1h0M2132.5 1425.1h0M2156.4 1425.1h0M2152.4 1425.1h0M2139 1425.1h0M2138.7 1425.1h0M2152.1 1425.1h0M2151.2 1408h0M2147.4 1408h0M2131.8 1408h0M2150.6 1408h0M2131.5 1408h0M2146.9 1408h0M2145 1408h0M2154.9 1408h0M2147.3 1408h0M2130.9 1408h0M2155.1 1408h0M2150.3 1408h0M2145.7 1408h0M2130.4 1408h0M2149.9 1408h0M2141.4 1408h0M2148.3 1408h0M2156.4 1408h0M2154.7 1408h0M2132.3 1408h0M2151.1 1408h0M2142 1408h0M2150.3 1408h0M2140.3 1408h0M2142.2 1408h0M2141.9 1408h0M2133.4 1408h0M2138.8 1408h0M2149.8 1408h0M2132.2 1408h0M2133.4 1408h0M2152.5 1408h0M2148 1408h0M2144.8 1408h0M2133.3 1408h0M2133.4 1408h0M2138.5 1408h0M2155.6 1408h0M2145.2 1408h0M2154.8 1408h0M2135.9 1408h0M2141.3 1408h0M2144.5 1408h0M2152.6 1408h0M2133.6 1408h0M2153.5 1408h0M2142.8 1408h0M2131.1 1408h0M2141.8 1408h0M2140.3 1408h0M2148.2 1408h0M2155 1408h0M2143.4 1408h0M2148.6 1408h0M2140.6 1408h0M2151 1408h0M2133.1 1408h0M2150 1408h0M2134.7 1408h0M2145.9 1408h0M2135.6 1393.7h0M2139.5 1393.7h0M2134.6 1393.7h0M2139.6 1393.7h0M2146 1393.7h0M2144.1 1393.7h0M2140.6 1393.7h0M2145.5 1393.7h0M2152.7 1393.7h0M2139.8 1393.7h0M2145.8 1393.7h0M2143.1 1393.7h0M2156.4 1393.7h0M2139 1393.7h0M2148.8 1393.7h0M2136.5 1393.7h0M2137.2 1393.7h0M2149.7 1393.7h0M2145.6 1393.7h0M2137.1 1393.7h0M2132 1393.7h0M2152.2 1393.7h0M2140.3 1393.7h0M2149.3 1393.7h0M2141.8 1393.7h0M2146.7 1393.7h0M2145.2 1393.7h0M2156.2 1393.7h0M2154.5 1393.7h0M2142.4 1393.7h0M2143.2 1393.7h0M2136.4 1393.7h0M2150.3 1393.7h0M2133 1393.7h0M2138.4 1393.7h0M2152.8 1393.7h0M2131.2 1393.7h0M2148.8 1393.7h0M2145.4 1393.7h0M2144.9 1393.7h0M2139.1 1393.7h0M2134.3 1393.7h0M2155.6 1393.7h0M2150.6 1393.7h0M2151.7 1393.7h0M2132.9 1393.7h0M2151.1 1393.7h0M2136.1 1393.7h0M2135.6 1393.7h0M2144.5 1393.7h0M2146.5 1393.7h0M2133.5 1393.7h0M2150.6 1393.7h0M2145.8 1393.7h0M2154.2 1393.7h0M2154.8 1393.7h0M2148.6 1393.7h0M2140 1393.7h0M2155.6 1393.7h0M2149.4 1393.7h0M2138 1381.2h0M2153.1 1381.2h0M2149.6 1381.2h0M2137.3 1381.2h0M2136.9 1381.2h0M2130.8 1381.2h0M2144.6 1381.2h0M2137 1381.2h0M2138.1 1381.2h0M2137 1381.2h0M2133.8 1381.2h0M2143.2 1381.2h0M2137.5 1381.2h0M2137.9 1381.2h0M2137.7 1381.2h0M2143.8 1381.2h0M2153.5 1381.2h0M2134.5 1381.2h0M2153.1 1381.2h0M2153 1381.2h0M2146.5 1381.2h0M2144.7 1381.2h0M2149.8 1381.2h0M2144.5 1381.2h0M2147.8 1381.2h0M2154.7 1381.2h0M2150.9 1381.2h0M2137.2 1381.2h0M2131.7 1381.2h0M2155.2 1381.2h0M2139.9 1381.2h0M2151.2 1381.2h0M2136.5 1381.2h0M2142.3 1381.2h0M2140.1 1381.2h0M2149.7 1381.2h0M2155.4 1381.2h0M2143.7 1381.2h0M2145.3 1381.2h0M2139.5 1381.2h0M2136.4 1381.2h0M2155.5 1381.2h0M2133.2 1381.2h0M2155.3 1381.2h0M2147.8 1381.2h0M2132.2 1381.2h0M2154.3 1381.2h0M2133 1381.2h0M2145.3 1381.2h0M2133.5 1381.2h0M2156.6 1381.2h0M2138.5 1381.2h0M2153.5 1381.2h0M2131.9 1381.2h0M2148 1381.2h0M2132.1 1381.2h0M2131.1 1381.2h0M2145.5 1381.2h0M2156.4 1381.2h0M2148.5 1381.2h0M2153 1370.2h0M2151.1 1370.2h0M2144.1 1370.2h0M2132.3 1370.2h0M2144.3 1370.2h0M2135.2 1370.2h0M2144.3 1370.2h0M2139.7 1370.2h0M2143.5 1370.2h0M2135.5 1370.2h0M2149 1370.2h0M2141.4 1370.2h0M2143.2 1370.2h0M2132.4 1370.2h0M2143.2 1370.2h0M2145.1 1370.2h0M2156.1 1370.2h0M2145.2 1370.2h0M2133.9 1370.2h0M2138.3 1370.2h0M2139.2 1370.2h0M2148.9 1370.2h0M2155.2 1370.2h0M2156.2 1370.2h0M2155.5 1370.2h0M2154.9 1370.2h0M2153.1 1370.2h0M2155.1 1370.2h0M2130.8 1370.2h0M2143.3 1370.2h0M2146 1370.2h0M2148.5 1370.2h0M2146.6 1370.2h0M2146.6 1370.2h0M2155.1 1370.2h0M2132.6 1370.2h0M2144.1 1370.2h0M2155.8 1370.2h0M2131.1 1370.2h0M2133.2 1370.2h0M2153.4 1370.2h0M2155.7 1370.2h0M2130.9 1370.2h0M2131.1 1370.2h0M2152.3 1370.2h0M2148.6 1370.2h0M2144.1 1370.2h0M2145.7 1370.2h0M2150.4 1370.2h0M2151.8 1370.2h0M2130.3 1370.2h0M2132.1 1370.2h0M2151.4 1370.2h0M2156.2 1370.2h0M2152.4 1370.2h0M2141.1 1370.2h0M2139.2 1370.2h0M2139.5 1370.2h0M2130.7 1370.2h0M2150.8 1370.2h0M2137.2 1360.3h0M2145.8 1360.3h0M2144.3 1360.3h0M2139.2 1360.3h0M2148.2 1360.3h0M2142.4 1360.3h0M2136.5 1360.3h0M2153.7 1360.3h0M2134.9 1360.3h0M2134.3 1360.3h0M2137 1360.3h0M2143 1360.3h0M2151.1 1360.3h0M2139.1 1360.3h0M2136.6 1360.3h0M2147.7 1360.3h0M2137.2 1360.3h0M2144.2 1360.3h0M2137.1 1360.3h0M2153.6 1360.3h0M2135.2 1360.3h0M2136.4 1360.3h0M2138.3 1360.3h0M2139 1360.3h0M2149.6 1360.3h0M2148.2 1360.3h0M2151.3 1360.3h0M2144.6 1360.3h0M2132.4 1360.3h0M2150.6 1360.3h0M2136.8 1360.3h0M2136.1 1360.3h0M2141.3 1360.3h0M2156.6 1360.3h0M2140.1 1360.3h0M2139.8 1360.3h0M2154.5 1360.3h0M2156.6 1360.3h0M2140.6 1360.3h0M2133.9 1360.3h0M2151.3 1360.3h0M2151.1 1360.3h0M2139.3 1360.3h0M2151.3 1360.3h0M2140.4 1360.3h0M2137.9 1360.3h0M2146.1 1360.3h0M2150 1360.3h0M2142.9 1360.3h0M2152 1360.3h0M2130.6 1360.3h0M2143.5 1360.3h0M2140.4 1360.3h0M2132 1360.3h0M2154.6 1360.3h0M2134.1 1360.3h0M2135.7 1360.3h0M2153.6 1360.3h0M2155.8 1360.3h0M2155 1360.3h0M2139.4 1351.4h0M2155 1351.4h0M2134 1351.4h0M2149.3 1351.4h0M2155.4 1351.4h0M2135.4 1351.4h0M2133.9 1351.4h0M2148.3 1351.4h0M2153.7 1351.4h0M2149.6 1351.4h0M2155.5 1351.4h0M2142.3 1351.4h0M2140.2 1351.4h0M2133.5 1351.4h0M2137.5 1351.4h0M2155.2 1351.4h0M2132.2 1351.4h0M2135.2 1351.4h0M2139.5 1351.4h0M2131.6 1351.4h0M2138.4 1351.4h0M2135.1 1351.4h0M2133.5 1351.4h0M2144.3 1351.4h0M2144.6 1351.4h0M2145.4 1351.4h0M2150.5 1351.4h0M2144.3 1351.4h0M2155.5 1351.4h0M2132.4 1351.4h0M2136.2 1351.4h0M2132.3 1351.4h0M2138.5 1351.4h0M2150.5 1351.4h0M2154.9 1351.4h0M2143.7 1351.4h0M2134.5 1351.4h0M2139.1 1351.4h0M2145.4 1351.4h0M2138.1 1351.4h0M2151.4 1351.4h0M2156.1 1351.4h0M2142.5 1351.4h0M2146.3 1351.4h0M2152.8 1351.4h0M2142.6 1351.4h0M2135.3 1351.4h0M2155.4 1351.4h0M2156.3 1351.4h0M2130.9 1351.4h0M2150.6 1351.4h0M2140.9 1351.4h0M2131.7 1351.4h0M2134.6 1351.4h0M2134.9 1351.4h0M2149.9 1351.4h0M2135.9 1351.4h0M2130.8 1351.4h0M2136.1 1351.4h0M2151.5 1351.4h0M2143.5 1343.3h0M2147.6 1343.3h0M2142.6 1343.3h0M2135.1 1343.3h0M2130.7 1343.3h0M2138.4 1343.3h0M2131.4 1343.3h0M2137.2 1343.3h0M2146.7 1343.3h0M2140.1 1343.3h0M2142.9 1343.3h0M2146.9 1343.3h0M2138.7 1343.3h0M2139.8 1343.3h0M2153.8 1343.3h0M2145.7 1343.3h0M2141.4 1343.3h0M2144.6 1343.3h0M2142.5 1343.3h0M2139.1 1343.3h0M2154.6 1343.3h0M2136.5 1343.3h0M2155.2 1343.3h0M2153 1343.3h0M2153.7 1343.3h0M2134.6 1343.3h0M2143.8 1343.3h0M2156.5 1343.3h0M2137.9 1343.3h0M2134.8 1343.3h0M2149.5 1343.3h0M2136.5 1343.3h0M2145.8 1343.3h0M2134.5 1343.3h0M2155.5 1343.3h0M2137.8 1343.3h0M2132.8 1343.3h0M2148.6 1343.3h0M2139.5 1343.3h0M2145.1 1343.3h0M2143.5 1343.3h0M2154.8 1343.3h0M2143.9 1343.3h0M2140.3 1343.3h0M2130.3 1343.3h0M2143.5 1343.3h0M2137.4 1343.3h0M2145.5 1343.3h0M2147.1 1343.3h0M2142.6 1343.3h0M2132.7 1343.3h0M2143.5 1343.3h0M2143.1 1343.3h0M2147.3 1343.3h0M2156.1 1343.3h0M2137.7 1343.3h0M2142 1343.3h0M2132.5 1343.3h0M2151.5 1343.3h0M2136.5 1343.3h0M2152.3 1335.8h0M2151.5 1335.8h0M2137 1335.8h0M2154.3 1335.8h0M2143.7 1335.8h0M2141.6 1335.8h0M2145 1335.8h0M2155.4 1335.8h0M2143.3 1335.8h0M2143.1 1335.8h0M2138 1335.8h0M2152.6 1335.8h0M2143.7 1335.8h0M2139.4 1335.8h0M2135.5 1335.8h0M2136 1335.8h0M2152.5 1335.8h0M2151.6 1335.8h0M2156.3 1335.8h0M2154.7 1335.8h0M2148.5 1335.8h0M2151.5 1335.8h0M2149.2 1335.8h0M2151.8 1335.8h0M2151.6 1335.8h0M2135 1335.8h0M2151.9 1335.8h0M2138.3 1335.8h0M2136.8 1335.8h0M2154.7 1335.8h0M2130.9 1335.8h0M2143.9 1335.8h0M2139.4 1335.8h0M2151.3 1335.8h0M2146.5 1335.8h0M2154.5 1335.8h0M2155.1 1335.8h0M2147.4 1335.8h0M2132 1335.8h0M2148 1335.8h0M2133.2 1335.8h0M2156.4 1335.8h0M2153.4 1335.8h0M2138.5 1335.8h0M2135.2 1335.8h0M2148.7 1335.8h0M2150.4 1335.8h0M2156.5 1335.8h0M2146.8 1335.8h0M2133.6 1335.8h0M2149.6 1335.8h0M2131.8 1335.8h0M2153.4 1335.8h0M2150.7 1335.8h0M2151.2 1335.8h0M2153.5 1335.8h0M2145.4 1335.8h0M2155.4 1335.8h0M2147.3 1335.8h0M2143.4 1335.8h0M2140.5 1328.9h0M2139.7 1328.9h0M2130.9 1328.9h0M2134.6 1328.9h0M2151.4 1328.9h0M2136.4 1328.9h0M2147.7 1328.9h0M2150.9 1328.9h0M2148.7 1328.9h0M2144 1328.9h0M2138.7 1328.9h0M2137.5 1328.9h0M2135.3 1328.9h0M2147.5 1328.9h0M2148.5 1328.9h0M2155.3 1328.9h0M2139.1 1328.9h0M2154.9 1328.9h0M2154.5 1328.9h0M2138 1328.9h0M2155.6 1328.9h0M2146.7 1328.9h0M2155.9 1328.9h0M2150.9 1328.9h0M2139.1 1328.9h0M2137.7 1328.9h0M2144.2 1328.9h0M2143.2 1328.9h0M2131.2 1328.9h0M2153.2 1328.9h0M2144.5 1328.9h0M2142.9 1328.9h0M2150.1 1328.9h0M2136.9 1328.9h0M2135.6 1328.9h0M2145.7 1328.9h0M2136.7 1328.9h0M2139 1328.9h0M2132.1 1328.9h0M2131.7 1328.9h0M2139.7 1328.9h0M2144.3 1328.9h0M2155.5 1328.9h0M2147.3 1328.9h0M2141.3 1328.9h0M2141.1 1328.9h0M2136.5 1328.9h0M2142.9 1328.9h0M2155.8 1328.9h0M2133.5 1328.9h0M2141.8 1328.9h0M2148.5 1328.9h0M2150.6 1328.9h0M2145 1328.9h0M2147.3 1328.9h0M2155.2 1328.9h0M2154.3 1328.9h0M2137 1328.9h0M2144.7 1328.9h0M2156.8 1328.9h0M2144.3 1322.5h0M2135.3 1322.5h0M2150.6 1322.5h0M2131.8 1322.5h0M2134.3 1322.5h0M2144.9 1322.5h0M2137.5 1322.5h0M2149.4 1322.5h0M2149.6 1322.5h0M2138.8 1322.5h0M2150.7 1322.5h0M2147.5 1322.5h0M2149 1322.5h0M2142.4 1322.5h0M2141.8 1322.5h0M2133.1 1322.5h0M2142.9 1322.5h0M2155.7 1322.5h0M2153.9 1322.5h0M2131.8 1322.5h0M2132.2 1322.5h0M2137.4 1322.5h0M2148.7 1322.5h0M2141.9 1322.5h0M2133.7 1322.5h0M2141.6 1322.5h0M2145.5 1322.5h0M2150.1 1322.5h0M2141 1322.5h0M2147.6 1322.5h0M2148.4 1322.5h0M2146.6 1322.5h0M2131.5 1322.5h0M2149.2 1322.5h0M2133.7 1322.5h0M2131.7 1322.5h0M2142.9 1322.5h0M2130.7 1322.5h0M2132.2 1322.5h0M2140.7 1322.5h0M2142.7 1322.5h0M2133.1 1322.5h0M2155.6 1322.5h0M2152.9 1322.5h0M2143.2 1322.5h0M2145.9 1322.5h0M2138.7 1322.5h0M2156.4 1322.5h0M2133.5 1322.5h0M2138.4 1322.5h0M2136.1 1322.5h0M2153.3 1322.5h0M2143.8 1322.5h0M2141.2 1322.5h0M2140.9 1322.5h0M2153.9 1322.5h0M2137.1 1322.5h0M2151.3 1322.5h0M2149.1 1322.5h0M2142.2 1322.5h0M2140 1316.4h0M2141.9 1316.4h0M2142.3 1316.4h0M2138.7 1316.4h0M2146.9 1316.4h0M2141.2 1316.4h0M2138.3 1316.4h0M2150.8 1316.4h0M2142.4 1316.4h0M2142.9 1316.4h0M2153.7 1316.4h0M2142.4 1316.4h0M2140.3 1316.4h0M2154.2 1316.4h0M2156.2 1316.4h0M2151.2 1316.4h0M2140.9 1316.4h0M2148.1 1316.4h0M2150 1316.4h0M2138.2 1316.4h0M2149.5 1316.4h0M2155.5 1316.4h0M2147.7 1316.4h0M2148.1 1316.4h0M2141.8 1316.4h0M2147.7 1316.4h0M2136.3 1316.4h0M2150.8 1316.4h0M2144.6 1316.4h0M2156.3 1316.4h0M2139.4 1316.4h0M2149.2 1316.4h0M2130.7 1316.4h0M2141.3 1316.4h0M2150.7 1316.4h0M2137.2 1316.4h0M2146.6 1316.4h0M2136.1 1316.4h0M2140.9 1316.4h0M2156.7 1316.4h0M2135.5 1316.4h0M2154.5 1316.4h0M2131.9 1316.4h0M2145.8 1316.4h0M2152.1 1316.4h0M2152.5 1316.4h0M2140.7 1316.4h0M2146 1316.4h0M2149.2 1316.4h0M2150.5 1316.4h0M2150.1 1316.4h0M2145.7 1316.4h0M2137 1316.4h0M2149 1316.4h0M2145.2 1316.4h0M2144.7 1316.4h0M2156.5 1316.4h0M2133.9 1316.4h0M2151 1316.4h0M2138.9 1316.4h0M2149.6 1310.8h0M2155.5 1310.8h0M2137.6 1310.8h0M2145.4 1310.8h0M2144.3 1310.8h0M2143.4 1310.8h0M2134.7 1310.8h0M2146.9 1310.8h0M2154 1310.8h0M2147.9 1310.8h0M2138 1310.8h0M2151.7 1310.8h0M2141.4 1310.8h0M2134.1 1310.8h0M2146.4 1310.8h0M2142.5 1310.8h0M2144.4 1310.8h0M2156.6 1310.8h0M2145.4 1310.8h0M2155.6 1310.8h0M2139.6 1310.8h0M2150.5 1310.8h0M2132.3 1310.8h0M2138.3 1310.8h0M2148.7 1310.8h0M2148.6 1310.8h0M2152.3 1310.8h0M2140.4 1310.8h0M2137.5 1310.8h0M2139.8 1310.8h0M2144.6 1310.8h0M2130.9 1310.8h0M2140.2 1310.8h0M2147.8 1310.8h0M2134.2 1310.8h0M2138.5 1310.8h0M2153.5 1310.8h0M2155.1 1310.8h0M2136.9 1310.8h0M2135 1310.8h0M2133.4 1310.8h0M2132.5 1310.8h0M2151.4 1310.8h0M2149.9 1310.8h0M2137.3 1310.8h0M2143.3 1310.8h0M2148.8 1310.8h0M2131 1310.8h0M2152.1 1310.8h0M2153.1 1310.8h0M2135.9 1310.8h0M2149 1310.8h0M2148.9 1310.8h0M2139.2 1310.8h0M2153.6 1310.8h0M2136.1 1310.8h0M2142.9 1310.8h0M2138.6 1310.8h0M2142 1310.8h0M2151.9 1310.8h0M2145.4 1305.4h0M2146.5 1305.4h0M2156.5 1305.4h0M2136.2 1305.4h0M2136.2 1305.4h0M2146.8 1305.4h0M2134.3 1305.4h0M2155.9 1305.4h0M2139.3 1305.4h0M2142 1305.4h0M2141.7 1305.4h0M2152.3 1305.4h0M2154.6 1305.4h0M2148.3 1305.4h0M2134.8 1305.4h0M2139.7 1305.4h0M2149.1 1305.4h0M2136 1305.4h0M2153.7 1305.4h0M2153.5 1305.4h0M2136.3 1305.4h0M2140 1305.4h0M2136.4 1305.4h0M2149.4 1305.4h0M2131.5 1305.4h0M2148.8 1305.4h0M2131.9 1305.4h0M2152.6 1305.4h0M2144.7 1305.4h0M2145.8 1305.4h0M2132.8 1305.4h0M2131.4 1305.4h0M2139.7 1305.4h0M2156.5 1305.4h0M2146.2 1305.4h0M2153.2 1305.4h0M2131.9 1305.4h0M2133 1305.4h0M2130.8 1305.4h0M2148.8 1305.4h0M2135 1305.4h0M2137.5 1305.4h0M2148 1305.4h0M2148.8 1305.4h0M2138.8 1305.4h0M2142.7 1305.4h0M2138 1305.4h0M2145.2 1305.4h0M2139.7 1305.4h0M2139.8 1305.4h0M2136.9 1305.4h0M2138 1305.4h0M2137.2 1305.4h0M2130.7 1305.4h0M2138.5 1305.4h0M2146 1305.4h0M2137.4 1305.4h0M2133.3 1305.4h0M2152.8 1305.4h0M2142.7 1305.4h0M2143.9 1300.4h0M2138.6 1300.4h0M2153.9 1300.4h0M2150.3 1300.4h0M2146.8 1300.4h0M2147.8 1300.4h0M2148.7 1300.4h0M2143.6 1300.4h0M2141.3 1300.4h0M2140.6 1300.4h0M2143.7 1300.4h0M2142.7 1300.4h0M2144.3 1300.4h0M2144.4 1300.4h0M2151.2 1300.4h0M2154 1300.4h0M2136.2 1300.4h0M2130.9 1300.4h0M2138.3 1300.4h0M2131.1 1300.4h0M2151.5 1300.4h0M2146.8 1300.4h0M2137.9 1300.4h0M2135.4 1300.4h0M2153.4 1300.4h0M2152.5 1300.4h0M2148.5 1300.4h0M2148.7 1300.4h0M2150.1 1300.4h0M2142.4 1300.4h0M2140.8 1300.4h0M2145 1300.4h0M2153.7 1300.4h0M2156.6 1300.4h0M2154.7 1300.4h0M2152.5 1300.4h0M2132.2 1300.4h0M2136.8 1300.4h0M2156.1 1300.4h0M2144.7 1300.4h0M2144 1300.4h0M2138.5 1300.4h0M2153.2 1300.4h0M2144 1300.4h0M2156.6 1300.4h0M2132.3 1300.4h0M2156.7 1300.4h0M2130.6 1300.4h0M2134.2 1300.4h0M2140.6 1300.4h0M2147.3 1300.4h0M2133.2 1300.4h0M2145.2 1300.4h0M2155.3 1300.4h0M2141.9 1300.4h0M2150.5 1300.4h0M2146 1300.4h0M2145.8 1300.4h0M2134.9 1300.4h0M2142.6 1300.4h0M2154.2 1295.6h0M2148.2 1295.6h0M2136 1295.6h0M2142.2 1295.6h0M2144.7 1295.6h0M2139.2 1295.6h0M2145.6 1295.6h0M2147.1 1295.6h0M2130.7 1295.6h0M2136.1 1295.6h0M2147.7 1295.6h0M2136 1295.6h0M2132.2 1295.6h0M2150.5 1295.6h0M2139.2 1295.6h0M2155.7 1295.6h0M2145.1 1295.6h0M2133 1295.6h0M2147.2 1295.6h0M2137.2 1295.6h0M2151.9 1295.6h0M2149.5 1295.6h0M2150.4 1295.6h0M2131.8 1295.6h0M2131.2 1295.6h0M2151.5 1295.6h0M2134 1295.6h0M2135.6 1295.6h0M2131.1 1295.6h0M2134.6 1295.6h0M2142.9 1295.6h0M2155.8 1295.6h0M2138.8 1295.6h0M2137.2 1295.6h0M2152.3 1295.6h0M2135.2 1295.6h0M2147.2 1295.6h0M2146.6 1295.6h0M2155.1 1295.6h0M2131.4 1295.6h0M2145.3 1295.6h0M2140.5 1295.6h0M2152.2 1295.6h0M2137 1295.6h0M2149.3 1295.6h0M2135.2 1295.6h0M2143.4 1295.6h0M2156 1295.6h0M2136.7 1295.6h0M2137.7 1295.6h0M2154.7 1295.6h0M2148.2 1295.6h0M2132 1295.6h0M2135.2 1295.6h0M2136.6 1295.6h0M2138 1295.6h0M2152.7 1295.6h0M2148.9 1295.6h0M2156.3 1295.6h0M2148.1 1295.6h0M2147 1291h0M2140.5 1291h0M2149.4 1291h0M2143.4 1291h0M2131.8 1291h0M2143.4 1291h0M2140.5 1291h0M2144.4 1291h0M2131.6 1291h0M2131 1291h0M2156.4 1291h0M2140.1 1291h0M2139 1291h0M2134.2 1291h0M2146 1291h0M2154.6 1291h0M2135.1 1291h0M2143.6 1291h0M2143.6 1291h0M2150.6 1291h0M2145.3 1291h0M2136.6 1291h0M2135.3 1291h0M2149.5 1291h0M2132.3 1291h0M2153.3 1291h0M2131.2 1286.7h0M2135.3 1286.7h0M2142.7 1286.7h0M2152.7 1286.7h0M2146.8 1286.7h0M2150.1 1286.7h0M2150.5 1286.7h0M2149.5 1286.7h0M2131.6 1286.7h0M2152.2 1286.7h0M2134.2 1286.7h0M2134.6 1286.7h0M2131.3 1286.7h0M2131 1286.7h0M2153.6 1286.7h0M2140.4 1286.7h0M2132.6 1286.7h0M2131.5 1286.7h0M2152.8 1286.7h0M2146.3 1286.7h0M2154.6 1286.7h0M2131.3 1286.7h0M2133.3 1286.7h0M2137.9 1286.7h0M2135.4 1286.7h0M2133.3 1286.7h0M2135.6 1282.5h0M2147.3 1282.5h0M2134.7 1282.5h0M2134.8 1282.5h0M2144.5 1282.5h0M2140.3 1282.5h0M2134.2 1282.5h0M2145.4 1282.5h0M2143.8 1282.5h0M2140.6 1282.5h0M2142.9 1282.5h0M2131.3 1282.5h0M2146.6 1282.5h0M2135.4 1282.5h0M2139.2 1282.5h0M2130.5 1282.5h0M2153.9 1282.5h0M2145.9 1282.5h0M2140.7 1282.5h0M2144.7 1282.5h0M2155.3 1282.5h0M2133.8 1282.5h0M2140.5 1282.5h0M2149.1 1282.5h0M2140.2 1282.5h0M2149.1 1282.5h0M2154.4 1278.6h0M2131.4 1278.6h0M2137.8 1278.6h0M2138.1 1278.6h0M2150.2 1278.6h0M2151.1 1278.6h0M2148.9 1278.6h0M2154.9 1278.6h0M2135.2 1278.6h0M2140.7 1278.6h0M2153 1278.6h0M2150.6 1278.6h0M2133.3 1278.6h0M2156.3 1278.6h0M2150 1278.6h0M2153.3 1274.8h0M2139.9 1274.8h0M2146.4 1274.8h0M2155.8 1274.8h0M2154.2 1274.8h0M2145.6 1274.8h0M2153.9 1274.8h0M2156.8 1274.8h0M2152.6 1274.8h0M2147.7 1274.8h0M2155.8 1274.8h0M2134.1 1274.8h0M2141 1274.8h0M2145.3 1274.8h0M2133.8 1274.8h0M2151 1271.1h0M2131.9 1271.1h0M2147 1271.1h0M2137.7 1271.1h0M2138.9 1271.1h0M2146.4 1271.1h0M2135.4 1271.1h0M2142.2 1271.1h0M2153.1 1271.1h0M2156.5 1271.1h0M2137.3 1271.1h0M2140 1271.1h0M2148.7 1271.1h0M2135.3 1271.1h0M2152.9 1271.1h0M2135.6 1267.6h0M2145.1 1267.6h0M2139.3 1267.6h0M2130.3 1267.6h0M2130.3 1267.6h0M2130.3 1267.6h0M2139 1267.6h0M2137.6 1267.6h0M2156.6 1267.6h0M2147.2 1264.2h0M2132 1264.2h0M2149.3 1264.2h0M2136.5 1264.2h0M2143.1 1264.2h0M2149.5 1264.2h0M2153.1 1264.2h0M2155.1 1264.2h0M2141.5 1264.2h0M2138.7 1260.9h0M2140.8 1260.9h0M2138.6 1260.9h0M2150 1260.9h0M2142.6 1260.9h0M2148.5 1260.9h0M2134.3 1260.9h0M2151.1 1260.9h0M2156 1260.9h0M2135.7 1257.7h0M2146.7 1257.7h0M2134.6 1257.7h0M2131.2 1257.7h0M2141.3 1257.7h0M2135.1 1257.7h0M2149.7 1257.7h0M2145.5 1257.7h0M2148.2 1257.7h0M2156 1254.7h0M2131.8 1254.7h0M2132.9 1254.7h0M2131.2 1254.7h0M2142.5 1254.7h0M2152.2 1251.7h0M2148.5 1251.7h0M2144.8 1251.7h0M2153 1251.7h0M2140.2 1251.7h0M2133.3 1248.8h0M2147.3 1248.8h0M2131 1248.8h0M2136.4 1248.8h0M2131.1 1248.8h0M2134.6 1246h0M2132 1246h0M2144.4 1246h0M2133.7 1246h0M2146.3 1246h0M2135.6 1241h0M2152.6 1241h0M2143.6 1235.4h0M2148.6 1235.4h0M2152.6 1235.4h0M2131.6 1224.2h0M2151.6 1224.2h0M2147.6 1220.5h0M2134.6 1216.7h0M2143.6 1214.9h0M2155.6 1214.9h0M2133.6 1211.1h0M2144.6 1213h0M2144.6 1195.3h0M2137.6 1185h0M2146.1 1176.6h0M2139.6 1169.1h0M2155.6 1128h0M2131.6 1246.6h0M2137.6 1248.5h0M2153.6 1245.7h0M2146.6 1251.3h0M2133.6 1253.2h0M2151.6 1254.1h0M2141.6 1249.4h0M2155.6 1243.8h0M2130.6 1242.9h0M2149.6 1247.6h0M2139.4 1273.7h0M2148.1 1300h0M2153.8 1277.3h0M2145.8 1283.8h0M2148.3 1272.3h0M2137.9 1268.1h0M2147.1 1275.6h0M2130.6 1287h0M2137.3 1286.7h0M2143.8 1282.1h0M2131.8 1285.5h0M2146.4 1299.6h0M2156.6 1279.1h0M2138 1274.9h0M2143.7 1287.5h0M2140.8 1274.5h0M2143.1 1270.1h0M2143 1289.7h0M2156.9 1291.2h0M2140.9 1302.8h0M2148.3 1301.6h0M2134.2 1298.9h0M2146.3 1288.7h0M2142.1 1276h0M2140.1 1293.5h0M2135.9 1271.4h0M2153.8 1304.1h0M2133.8 1286.5h0M2154 1299.5h0M2132 1276.6h0M2136 1279.3h0M2146.4 1287.9h0M2155.2 1302.6h0M2134.1 1292h0M2133.2 1275.4h0M2147.6 1303.2h0M2154.2 1287h0M2135.8 1275h0M2146.3 1302.9h0M2138.3 1287h0"/>
<g stroke="#000" fill="none" stroke-width="2">
<path d="M69.3 1104.6V1597.8"/><path d="M68.5 1597H2164.4"/><path d="M63.6 1575.4H69.3"/><path d="M63.6 1482H69.3"/><path d="M63.6 1388.6H69.3"/><path d="M63.6 1295.2H69.3"/><path d="M63.6 1201.8H69.3"/><path d="M63.6 1108.4H69.3"/><path d="M89.2 1597V1603.2"/><path d="M122.3 1597V1603.2"/><path d="M155.5 1597V1603.2"/><path d="M188.6 1597V1603.2"/><path d="M221.7 1597V1603.2"/><path d="M254.9 1597V1603.2"/><path d="M288 1597V1603.2"/><path d="M321.1 1597V1603.2"/><path d="M354.3 1597V1603.2"/><path d="M387.4 1597V1603.2"/><path d="M420.5 1597V1603.2"/><path d="M453.7 1597V1603.2"/><path d="M486.8 1597V1603.2"/><path d="M520 1597V1603.2"/><path d="M553.1 1597V1603.2"/><path d="M586.2 1597V1603.2"/><path d="M619.4 1597V1603.2"/><path d="M652.5 1597V1603.2"/><path d="M685.6 1597V1603.2"/><path d="M718.8 1597V1603.2"/><path d="M751.9 1597V1603.2"/><path d="M785 1597V1603.2"/><path d="M818.2 1597V1603.2"/><path d="M851.3 1597V1603.2"/><path d="M884.4 1597V1603.2"/><path d="M917.6 1597V1603.2"/><path d="M950.7 1597V1603.2"/><path d="M983.8 1597V1603.2"/><path d="M1017 1597V1603.2"/><path d="M1050.1 1597V1603.2"/><path d="M1083.2 1597V1603.2"/><path d="M1116.4 1597V1603.2"/><path d="M1149.5 1597V1603.2"/><path d="M1182.7 1597V1603.2"/><path d="M1215.8 1597V1603.2"/><path d="M1248.9 1597V1603.2"/><path d="M1282.1 1597V1603.2"/><path d="M1315.2 1597V1603.2"/><path d="M1348.3 1597V1603.2"/><path d="M1381.5 1597V1603.2"/><path d="M1414.6 1597V1603.2"/><path d="M1447.7 1597V1603.2"/><path d="M1480.9 1597V1603.2"/><path d="M1514 1597V1603.2"/><path d="M1547.1 1597V1603.2"/><path d="M1580.3 1597V1603.2"/><path d="M1613.4 1597V1603.2"/><path d="M1646.5 1597V1603.2"/><path d="M1679.7 1597V1603.2"/><path d="M1712.8 1597V1603.2"/><path d="M1746 1597V1603.2"/><path d="M1779.1 1597V1603.2"/><path d="M1812.2 1597V1603.2"/><path d="M1845.4 1597V1603.2"/><path d="M1878.5 1597V1603.2"/><path d="M1911.6 1597V1603.2"/><path d="M1944.8 1597V1603.2"/><path d="M1977.9 1597V1603.2"/><path d="M2011 1597V1603.2"/><path d="M2044.2 1597V1603.2"/><path d="M2077.3 1597V1603.2"/><path d="M2110.4 1597V1603.2"/><path d="M2143.6 1597V1603.2"/>
</g>
<text class="sm" x="57.5" y="1587.1" font-size="32.5" text-anchor="end">0</text><text class="sm" x="57.5" y="1493.7" font-size="32.5" text-anchor="end">1</text><text class="sm" x="57.5" y="1400.3" font-size="32.5" text-anchor="end">2</text><text class="sm" x="57.5" y="1306.9" font-size="32.5" text-anchor="end">3</text><text class="sm" x="57.5" y="1213.5" font-size="32.5" text-anchor="end">4</text><text class="sm" x="57.5" y="1120.1" font-size="32.5" text-anchor="end">5</text>
<text class="sm" transform="translate(26 1354.8) rotate(-90)" font-size="34" text-anchor="middle">CDKN1A expession level</text>
<text class="xl" transform="translate(106.9 1616.9) rotate(-69.5)" font-size="25.4" text-anchor="end">T155I_R156C_R273C</text>
<text class="xl" transform="translate(140 1616.9) rotate(-69.5)" font-size="25.4" text-anchor="end">Y220C_E221G</text>
<text class="xl" transform="translate(173.2 1616.9) rotate(-69.5)" font-size="25.4" text-anchor="end">S127P</text>
<text class="xl" transform="translate(206.3 1616.9) rotate(-69.5)" font-size="25.4" text-anchor="end">C238R_N239D</text>
<text class="xl" transform="translate(239.4 1616.9) rotate(-69.5)" font-size="25.4" text-anchor="end">Y163H</text>
<text class="xl" transform="translate(272.6 1616.9) rotate(-69.5)" font-size="25.4" text-anchor="end">C135R</text>
<text class="xl" transform="translate(305.7 1616.9) rotate(-69.5)" font-size="25.4" text-anchor="end">Y236H</text>
<text class="xl" transform="translate(338.8 1616.9) rotate(-69.5)" font-size="25.4" text-anchor="end">R196Q_V197I</text>
<text class="xl" transform="translate(372 1616.9) rotate(-69.5)" font-size="25.4" text-anchor="end">Y126H_S127P</text>
<text class="xl" transform="translate(405.1 1616.9) rotate(-69.5)" font-size="25.4" text-anchor="end">I232T</text>
<text class="xl" transform="translate(438.2 1616.9) rotate(-69.5)" font-size="25.4" text-anchor="end">S99F_Q100Ter</text>
<text class="xl" transform="translate(471.4 1616.9) rotate(-69.5)" font-size="25.4" text-anchor="end">E258K</text>
<text class="xl" transform="translate(504.5 1616.9) rotate(-69.5)" font-size="25.4" text-anchor="end">N239D_S240G</text>
<text class="xl" transform="translate(537.7 1616.9) rotate(-69.5)" font-size="25.4" text-anchor="end">R280G</text>
<text class="xl" transform="translate(570.8 1616.9) rotate(-69.5)" font-size="25.4" text-anchor="end">L257P</text>
<text class="xl" transform="translate(603.9 1616.9) rotate(-69.5)" font-size="25.4" text-anchor="end">S240G</text>
<text class="xl" transform="translate(637.1 1616.9) rotate(-69.5)" font-size="25.4" text-anchor="end">N239D</text>
<text class="xl" transform="translate(670.2 1616.9) rotate(-69.5)" font-size="25.4" text-anchor="end">A276V</text>
<text class="xl" transform="translate(703.3 1616.9) rotate(-69.5)" font-size="25.4" text-anchor="end">C141R</text>
<text class="xl" transform="translate(736.5 1616.9) rotate(-69.5)" font-size="25.4" text-anchor="end">N239G</text>
<text class="xl" transform="translate(769.6 1616.9) rotate(-69.5)" font-size="25.4" text-anchor="end">R273C_E287K</text>
<text class="xl" transform="translate(802.7 1616.9) rotate(-69.5)" font-size="25.4" text-anchor="end">I195T_N239D</text>
<text class="xl" transform="translate(835.9 1616.9) rotate(-69.5)" font-size="25.4" text-anchor="end">I232T_Y234H</text>
<text class="xl" transform="translate(869 1616.9) rotate(-69.5)" font-size="25.4" text-anchor="end">I195T</text>
<text class="xl" transform="translate(902.1 1616.9) rotate(-69.5)" font-size="25.4" text-anchor="end">C238R</text>
<text class="xl" transform="translate(935.3 1616.9) rotate(-69.5)" font-size="25.4" text-anchor="end">N239G_S240G</text>
<text class="xl" transform="translate(968.4 1616.9) rotate(-69.5)" font-size="25.4" text-anchor="end">V197M</text>
<text class="xl" transform="translate(1001.5 1616.9) rotate(-69.5)" font-size="25.4" text-anchor="end">M237I_C238Y</text>
<text class="xl" transform="translate(1034.7 1616.9) rotate(-69.5)" font-size="25.4" text-anchor="end">M246T</text>
<text class="xl" transform="translate(1067.8 1616.9) rotate(-69.5)" font-size="25.4" text-anchor="end">Y234H</text>
<text class="xl" transform="translate(1101 1616.9) rotate(-69.5)" font-size="25.4" text-anchor="end">R196Q_V197M</text>
<text class="xl" transform="translate(1134.1 1616.9) rotate(-69.5)" font-size="25.4" text-anchor="end">Y126H</text>
<text class="xl" transform="translate(1167.2 1616.9) rotate(-69.5)" font-size="25.4" text-anchor="end">Y220C</text>
<text class="xl" transform="translate(1200.4 1616.9) rotate(-69.5)" font-size="25.4" text-anchor="end">S215G</text>
<text class="xl" transform="translate(1233.5 1616.9) rotate(-69.5)" font-size="25.4" text-anchor="end">N239S</text>
<text class="xl" transform="translate(1266.6 1616.9) rotate(-69.5)" font-size="25.4" text-anchor="end">R273C_E258K</text>
<text class="xl" transform="translate(1299.8 1616.9) rotate(-69.5)" font-size="25.4" text-anchor="end">M133T</text>
<text class="xl" transform="translate(1332.9 1616.9) rotate(-69.5)" font-size="25.4" text-anchor="end">T155I_R156C</text>
<text class="xl" transform="translate(1366 1616.9) rotate(-69.5)" font-size="25.4" text-anchor="end">D281G</text>
<text class="xl" transform="translate(1399.2 1616.9) rotate(-69.5)" font-size="25.4" text-anchor="end">M237T_Y236H</text>
<text class="xl" transform="translate(1432.3 1616.9) rotate(-69.5)" font-size="25.4" text-anchor="end">V274A</text>
<text class="xl" transform="translate(1465.4 1616.9) rotate(-69.5)" font-size="25.4" text-anchor="end">C238Y</text>
<text class="xl" transform="translate(1498.6 1616.9) rotate(-69.5)" font-size="25.4" text-anchor="end">M237I</text>
<text class="xl" transform="translate(1531.7 1616.9) rotate(-69.5)" font-size="25.4" text-anchor="end">C135Y</text>
<text class="xl" transform="translate(1564.8 1616.9) rotate(-69.5)" font-size="25.4" text-anchor="end">E287K</text>
<text class="xl" transform="translate(1598 1616.9) rotate(-69.5)" font-size="25.4" text-anchor="end">R282Q</text>
<text class="xl" transform="translate(1631.1 1616.9) rotate(-69.5)" font-size="25.4" text-anchor="end">E221G</text>
<text class="xl" transform="translate(1664.2 1616.9) rotate(-69.5)" font-size="25.4" text-anchor="end">C275R</text>
<text class="xl" transform="translate(1697.4 1616.9) rotate(-69.5)" font-size="25.4" text-anchor="end">E258G</text>
<text class="xl" transform="translate(1730.5 1616.9) rotate(-69.5)" font-size="25.4" text-anchor="end">S99F</text>
<text class="xl" transform="translate(1763.7 1616.9) rotate(-69.5)" font-size="25.4" text-anchor="end">T155I</text>
<text class="xl" transform="translate(1796.8 1616.9) rotate(-69.5)" font-size="25.4" text-anchor="end">T140I_P142S</text>
<text class="xl" transform="translate(1829.9 1616.9) rotate(-69.5)" font-size="25.4" text-anchor="end">K120E</text>
<text class="xl" transform="translate(1863.1 1616.9) rotate(-69.5)" font-size="25.4" text-anchor="end">T125M</text>
<text class="xl" transform="translate(1896.2 1616.9) rotate(-69.5)" font-size="25.4" text-anchor="end">R196Q</text>
<text class="xl" transform="translate(1929.3 1616.9) rotate(-69.5)" font-size="25.4" text-anchor="end">M246I</text>
<text class="xl" transform="translate(1962.5 1616.9) rotate(-69.5)" font-size="25.4" text-anchor="end">M237T</text>
<text class="xl" transform="translate(1995.6 1616.9) rotate(-69.5)" font-size="25.4" text-anchor="end">L252F</text>
<text class="xl" transform="translate(2028.7 1616.9) rotate(-69.5)" font-size="25.4" text-anchor="end" style="fill:#dc0012;stroke:#dc0012">R156C</text>
<text class="xl" transform="translate(2061.9 1616.9) rotate(-69.5)" font-size="25.4" text-anchor="end" style="fill:#dc0012;stroke:#dc0012">R273C</text>
<text class="xl" transform="translate(2095 1616.9) rotate(-69.5)" font-size="25.4" text-anchor="end" style="fill:#dc0012;stroke:#dc0012">T211I</text>
<text class="xl" transform="translate(2128.1 1616.9) rotate(-69.5)" font-size="25.4" text-anchor="end" style="fill:#dc0012;stroke:#dc0012">T140I</text>
<text class="xl" transform="translate(2161.3 1616.9) rotate(-69.5)" font-size="25.4" text-anchor="end">WT</text>
</g>
</svg>
</body></html>
